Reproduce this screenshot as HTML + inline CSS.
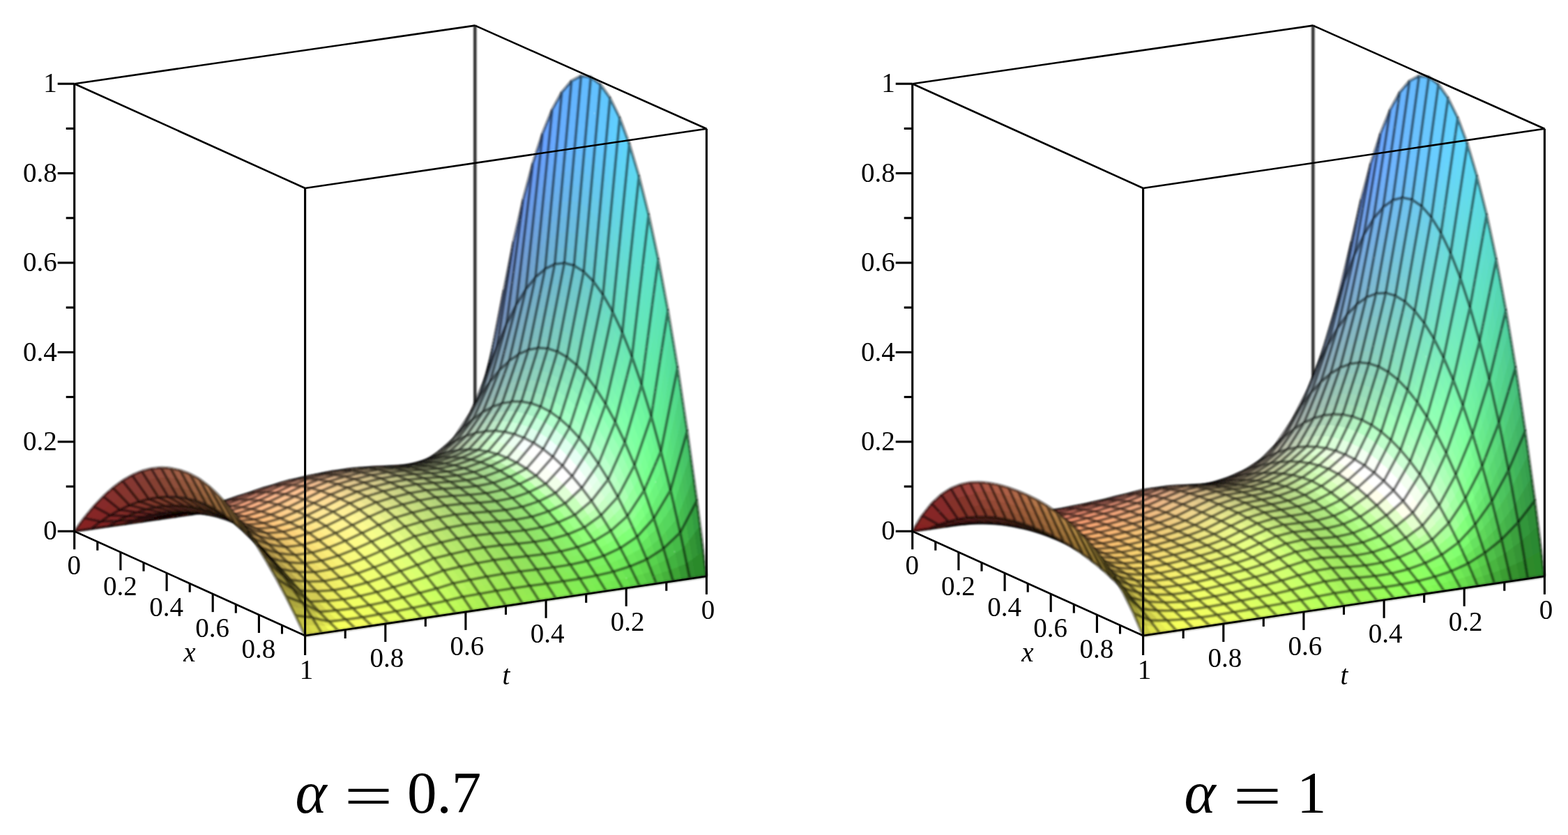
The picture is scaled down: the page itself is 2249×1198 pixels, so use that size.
<!DOCTYPE html>
<html lang="en"><head><meta charset="utf-8"><title>Surface plots</title>
<style>
html,body{margin:0;padding:0;background:#fff}
svg{display:block}
.s path{shape-rendering:crispEdges}
.s .m{fill:none;stroke:#000;stroke-opacity:0.48;stroke-width:4.2;stroke-linejoin:round;shape-rendering:auto}
.s .b{fill:none;stroke:#000;stroke-width:2.6;shape-rendering:auto}
.s .bk{fill:none;stroke:#333;stroke-width:4.5;shape-rendering:auto}
.s .t{fill:none;stroke:#000;stroke-width:3.1;shape-rendering:auto}
.l{font-family:"Liberation Serif",serif;font-size:39px;fill:#000}
.i{font-style:italic}
.c{font-family:"Liberation Serif",serif;font-size:85px;fill:#000}
.ci{font-style:italic;font-size:86px}
.ce{font-size:85px}
</style></head>
<body>
<svg width="2249" height="1198" viewBox="0 0 2249 1198">
<defs><filter id="bl" x="-2%" y="-2%" width="104%" height="104%"><feGaussianBlur stdDeviation="1.0"/></filter><filter id="bt" x="-2%" y="-2%" width="104%" height="104%"><feGaussianBlur stdDeviation="0.6"/></filter></defs>
<rect width="2249" height="1198" fill="#fff"/>
<g filter="url(#bl)">
<g class="s">
<path d="M106.7 762.2L681.3 678.6" class="b"/>
<path d="M681.3 678.6L1013.4 826.7" class="b"/>
<path d="M681.3 678.6L681.3 36.6" class="bk"/>
<path d="M681.3 678.6l4.6-32.1-8 5.9-4.6 27.4z" fill="#222224"/>
<path d="M673.3 679.8l4.6-27.4-7.9 5.9-4.7 22.6z" fill="#242224"/>
<path d="M665.3 680.9l4.7-22.6-8 5.9-4.6 17.9z" fill="#252223"/>
<path d="M685.9 646.5l4.6-32.1-8 10.6-4.6 27.4z" fill="#222429"/>
<path d="M677.9 652.4l4.6-27.4-7.9 10.6-4.6 22.7z" fill="#242428"/>
<path d="M670 658.3l4.6-22.7-8 10.6-4.6 18z" fill="#252427"/>
<path d="M690.5 614.4l4.6-32.2-7.9 15.4-4.7 27.4z" fill="#22252e"/>
<path d="M682.5 625l4.7-27.4-8 15.4-4.6 22.6z" fill="#24252c"/>
<path d="M674.6 635.6l4.6-22.6-8 15.3-4.6 17.9z" fill="#25252a"/>
<path d="M657.4 682.1l23.9-3.5 13.8-96.4" class="m"/>
<path d="M657.4 682.1l4.6-17.9-12 4.9-4.6 14.7z" fill="#272223"/>
<path d="M645.4 683.8l4.6-14.7-12 4.9-4.6 11.6z" fill="#292223"/>
<path d="M662 664.2l4.6-18-12 8.2-4.6 14.7z" fill="#272426"/>
<path d="M650 669.1l4.6-14.7-12 8.1-4.6 11.5z" fill="#292425"/>
<path d="M666.6 646.2l4.6-17.9-12 11.3-4.6 14.8z" fill="#272529"/>
<path d="M654.6 654.4l4.6-14.8-12 11.4-4.6 11.5z" fill="#292527"/>
<path d="M633.4 685.6l24-3.5 13.8-53.8" class="m"/>
<path d="M695.1 582.2l4.7-29.1-4 9.8-4.7 27z" fill="#222633"/>
<path d="M691.1 589.9l4.7-27-4 9.9-4.6 24.8z" fill="#222632"/>
<path d="M687.2 597.6l4.6-24.8-4 9.8-4.6 22.7z" fill="#232631"/>
<path d="M683.2 605.3l4.6-22.7-4 9.9-4.6 20.5z" fill="#242630"/>
<path d="M679.2 613l4.6-20.5-4 9.8-4.6 18.3z" fill="#25262e"/>
<path d="M675.2 620.6l4.6-18.3-4 9.8-4.6 16.2z" fill="#25262d"/>
<path d="M699.8 553.1l4.6-29.2-4 12-4.6 27z" fill="#222838"/>
<path d="M695.8 562.9l4.6-27-4 12-4.6 24.9z" fill="#222837"/>
<path d="M691.8 572.8l4.6-24.9-4 12-4.6 22.7z" fill="#232835"/>
<path d="M687.8 582.6l4.6-22.7-4 12-4.6 20.6z" fill="#242833"/>
<path d="M683.8 592.5l4.6-20.6-4 12.1-4.6 18.3z" fill="#252832"/>
<path d="M679.8 602.3l4.6-18.3-4 12-4.6 16.1z" fill="#252830"/>
<path d="M704.4 523.9l4.6-29.1-4 14.1-4.6 27z" fill="#22293d"/>
<path d="M700.4 535.9l4.6-27-4 14.2-4.6 24.8z" fill="#22293b"/>
<path d="M696.4 547.9l4.6-24.8-4 14.2-4.6 22.6z" fill="#232939"/>
<path d="M692.4 559.9l4.6-22.6-4 14.1-4.6 20.5z" fill="#242937"/>
<path d="M688.4 571.9l4.6-20.5-4 14.2-4.6 18.4z" fill="#252935"/>
<path d="M684.4 584l4.6-18.4-4 14.2-4.6 16.2z" fill="#252933"/>
<path d="M671.2 628.3l23.9-46.1 13.9-87.4" class="m"/>
<path d="M633.4 685.6l6.9-17.3-11.9 4.7-7 14.3z" fill="#2b2223"/>
<path d="M621.4 687.3l7-14.3-12 4.8-6.9 11.2z" fill="#2d2223"/>
<path d="M640.3 668.3l6.9-17.3-11.9 7.8-6.9 14.2z" fill="#2b2526"/>
<path d="M628.4 673l6.9-14.2-12 7.7-6.9 11.3z" fill="#2d2525"/>
<path d="M609.5 689l23.9-3.4 13.8-34.6" class="m"/>
<path d="M671.2 628.3l4.6-16.2-8 9.5-4.6 14.3z" fill="#26262c"/>
<path d="M663.2 635.9l4.6-14.3-8 9.5-4.6 12.3z" fill="#28262b"/>
<path d="M655.2 643.4l4.6-12.3-7.9 9.5-4.7 10.4z" fill="#292629"/>
<path d="M675.8 612.1l4.6-16.1-8 11.4-4.6 14.2z" fill="#26282f"/>
<path d="M667.8 621.6l4.6-14.2-7.9 11.4-4.7 12.3z" fill="#28282d"/>
<path d="M659.8 631.1l4.7-12.3-8 11.5-4.6 10.3z" fill="#29282c"/>
<path d="M680.4 596l4.6-16.2-8 13.4-4.6 14.2z" fill="#262931"/>
<path d="M672.4 607.4l4.6-14.2-7.9 13.3-4.6 12.3z" fill="#28292f"/>
<path d="M664.5 618.8l4.6-12.3-8 13.4-4.6 10.4z" fill="#29292e"/>
<path d="M647.2 651l24-22.7 13.8-48.5" class="m"/>
<path d="M609.5 689l6.9-11.2-12 3.4-6.9 9.6z" fill="#2f2222"/>
<path d="M597.5 690.8l6.9-9.6-12 3.4-6.9 7.9z" fill="#312222"/>
<path d="M616.4 677.8l6.9-11.3-12 5.1-6.9 9.6z" fill="#2f2525"/>
<path d="M604.4 681.2l6.9-9.6-11.9 5-7 8z" fill="#312524"/>
<path d="M585.5 692.5l24-3.5 13.8-22.5" class="m"/>
<path d="M709 494.8l4.6-26.2-3 12.1-4.6 24.7z" fill="#222b42"/>
<path d="M706 505.4l4.6-24.7-3 12.1-4.6 23.2z" fill="#222b40"/>
<path d="M703 516l4.6-23.2-3 12.1-4.6 21.7z" fill="#232b3e"/>
<path d="M700 526.6l4.6-21.7-3 12.1-4.6 20.3z" fill="#232b3d"/>
<path d="M697 537.3l4.6-20.3-3 12.1-4.6 18.8z" fill="#242b3b"/>
<path d="M694 547.9l4.6-18.8-3 12-4.6 17.4z" fill="#242b39"/>
<path d="M691 558.5l4.6-17.4-3 12.1-4.6 15.9z" fill="#252b37"/>
<path d="M688 569.1l4.6-15.9-3 12.1-4.6 14.5z" fill="#252b36"/>
<path d="M713.6 468.6l4.6-26.2-3 13.6-4.6 24.7z" fill="#222c46"/>
<path d="M710.6 480.7l4.6-24.7-3 13.5-4.6 23.3z" fill="#222c44"/>
<path d="M707.6 492.8l4.6-23.3-3 13.6-4.6 21.8z" fill="#232c42"/>
<path d="M704.6 504.9l4.6-21.8-3 13.5-4.6 20.4z" fill="#232c40"/>
<path d="M701.6 517l4.6-20.4-3 13.6-4.6 18.9z" fill="#242c3e"/>
<path d="M698.6 529.1l4.6-18.9-3 13.6-4.6 17.3z" fill="#242c3c"/>
<path d="M695.6 541.1l4.6-17.3-3 13.5-4.6 15.9z" fill="#252c3a"/>
<path d="M692.6 553.2l4.6-15.9-2.9 13.6-4.7 14.4z" fill="#252c38"/>
<path d="M718.2 442.4l4.6-26.2-3 15.1-4.6 24.7z" fill="#222d4b"/>
<path d="M715.2 456l4.6-24.7-3 15-4.6 23.2z" fill="#222d48"/>
<path d="M712.2 469.5l4.6-23.2-3 15-4.6 21.8z" fill="#232d46"/>
<path d="M709.2 483.1l4.6-21.8-3 15-4.6 20.3z" fill="#232d44"/>
<path d="M706.2 496.6l4.6-20.3-3 15.1-4.6 18.8z" fill="#242d42"/>
<path d="M703.2 510.2l4.6-18.8-2.9 15-4.7 17.4z" fill="#242d40"/>
<path d="M700.2 523.8l4.7-17.4-3 15-4.7 15.9z" fill="#252d3d"/>
<path d="M697.2 537.3l4.7-15.9-3 15-4.6 14.5z" fill="#252d3b"/>
<path d="M685 579.8l24-85 13.8-78.6" class="m"/>
<path d="M647.2 651l7-15.6-12 10.6-6.9 12.8z" fill="#2b2729"/>
<path d="M635.3 658.8l6.9-12.8-12 10.5-6.9 10z" fill="#2d2728"/>
<path d="M654.2 635.4l6.9-15.5-12 13.3-6.9 12.8z" fill="#2b292b"/>
<path d="M642.2 646l6.9-12.8-12 13.3-6.9 10z" fill="#2d292a"/>
<path d="M623.3 666.5l23.9-15.5 13.9-31.1" class="m"/>
<path d="M585.5 692.5l13.9-15.9-12 3.7-13.8 14z" fill="#332423"/>
<path d="M573.6 694.3l13.8-14-12 3.8-13.8 11.9z" fill="#362423"/>
<path d="M561.6 696l23.9-3.5 13.9-15.9" class="m"/>
<path d="M685 579.8l4.6-14.5-5.9 11.4-4.7 13.1z" fill="#262b34"/>
<path d="M679 589.8l4.7-13.1-6 11.3-4.6 11.8z" fill="#272b33"/>
<path d="M673.1 599.8l4.6-11.8-6 11.4-4.6 10.5z" fill="#282b31"/>
<path d="M667.1 609.9l4.6-10.5-6 11.4-4.6 9.1z" fill="#292b2f"/>
<path d="M689.6 565.3l4.7-14.4-6 12.7-4.6 13.1z" fill="#262c37"/>
<path d="M683.7 576.7l4.6-13.1-6 12.6-4.6 11.8z" fill="#272c35"/>
<path d="M677.7 588l4.6-11.8-6 12.7-4.6 10.5z" fill="#282c33"/>
<path d="M671.7 599.4l4.6-10.5-6 12.7-4.6 9.2z" fill="#292c31"/>
<path d="M694.3 550.9l4.6-14.5-6 14-4.6 13.2z" fill="#262d39"/>
<path d="M688.3 563.6l4.6-13.2-6 14-4.6 11.8z" fill="#272d37"/>
<path d="M682.3 576.2l4.6-11.8-6 14-4.6 10.5z" fill="#282d35"/>
<path d="M676.3 588.9l4.6-10.5-6 14-4.6 9.2z" fill="#292d33"/>
<path d="M661.1 619.9l23.9-40.1 13.9-43.4" class="m"/>
<path d="M623.3 666.5l6.9-10-12 6.5-6.9 8.6z" fill="#2f2727"/>
<path d="M611.3 671.6l6.9-8.6-11.9 6.6-6.9 7z" fill="#312726"/>
<path d="M630.2 656.5l6.9-10-11.9 8-7 8.5z" fill="#2f2929"/>
<path d="M618.2 663l7-8.5-12 8-6.9 7.1z" fill="#312928"/>
<path d="M599.4 676.6l23.9-10.1 13.8-20" class="m"/>
<path d="M561.6 696l13.8-11.9-12 2.5-13.8 11.2z" fill="#382423"/>
<path d="M549.6 697.8l13.8-11.2-11.9 2.5-13.9 10.4z" fill="#3a2423"/>
<path d="M537.6 699.5l24-3.5 13.8-11.9" class="m"/>
<path d="M722.8 416.2l4.6-23.2-2.4 13.1-4.6 22.2z" fill="#6d87c6"/>
<path d="M720.4 428.3l4.6-22.2-2.4 13.1-4.6 21.1z" fill="#6e88c3"/>
<path d="M718 440.3l4.6-21.1-2.4 13-4.6 20.1z" fill="#6f88c0"/>
<path d="M715.6 452.3l4.6-20.1-2.4 13.1-4.6 19z" fill="#7189bd"/>
<path d="M713.2 464.3l4.6-19-2.3 13.1-4.7 17.9z" fill="#7289ba"/>
<path d="M710.8 476.3l4.7-17.9-2.4 13-4.7 17z" fill="#7389b7"/>
<path d="M708.4 488.4l4.7-17-2.4 13.1-4.7 15.9z" fill="#748ab3"/>
<path d="M706 500.4l4.7-15.9-2.4 13.1-4.6 14.8z" fill="#768ab0"/>
<path d="M703.7 512.4l4.6-14.8-2.4 13.1-4.6 13.7z" fill="#778bad"/>
<path d="M701.3 524.4l4.6-13.7-2.4 13-4.6 12.7z" fill="#788ba9"/>
<path d="M727.4 393l4.6-23.2-2.4 14.1-4.6 22.2z" fill="#6d89ce"/>
<path d="M725 406.1l4.6-22.2-2.4 14.2-4.6 21.1z" fill="#6e8aca"/>
<path d="M722.6 419.2l4.6-21.1-2.3 14.1-4.7 20z" fill="#6f8ac7"/>
<path d="M720.2 432.2l4.7-20-2.4 14.1-4.7 19z" fill="#708bc3"/>
<path d="M717.8 445.3l4.7-19-2.4 14.1-4.6 18z" fill="#718bc0"/>
<path d="M715.5 458.4l4.6-18-2.4 14.1-4.6 16.9z" fill="#738cbc"/>
<path d="M713.1 471.4l4.6-16.9-2.4 14.2-4.6 15.8z" fill="#748cb8"/>
<path d="M710.7 484.5l4.6-15.8-2.4 14.1-4.6 14.8z" fill="#758db5"/>
<path d="M708.3 497.6l4.6-14.8-2.4 14.1-4.6 13.8z" fill="#768db1"/>
<path d="M705.9 510.7l4.6-13.8-2.4 14.1-4.6 12.7z" fill="#778dad"/>
<path d="M732 369.8l4.6-23.2-2.3 15.2-4.7 22.1z" fill="#6c8cd5"/>
<path d="M729.6 383.9l4.7-22.1-2.4 15.2-4.7 21.1z" fill="#6d8cd1"/>
<path d="M727.2 398.1l4.7-21.1-2.4 15.1-4.6 20.1z" fill="#6e8ccd"/>
<path d="M724.9 412.2l4.6-20.1-2.4 15.2-4.6 19z" fill="#708dc9"/>
<path d="M722.5 426.3l4.6-19-2.4 15.2-4.6 17.9z" fill="#718dc5"/>
<path d="M720.1 440.4l4.6-17.9-2.4 15.1-4.6 16.9z" fill="#728ec1"/>
<path d="M717.7 454.5l4.6-16.9-2.4 15.2-4.6 15.9z" fill="#738ebd"/>
<path d="M715.3 468.7l4.6-15.9-2.4 15.2-4.6 14.8z" fill="#748eb9"/>
<path d="M712.9 482.8l4.6-14.8-2.4 15.1-4.6 13.8z" fill="#768fb5"/>
<path d="M710.5 496.9l4.6-13.8-2.4 15.2-4.6 12.7z" fill="#778fb1"/>
<path d="M698.9 536.4l23.9-120.2 13.8-69.6" class="m"/>
<path d="M661.1 619.9l6.9-13.7-8 10.5-6.9 12.1z" fill="#2b2b2e"/>
<path d="M653.1 628.8l6.9-12.1-8 10.5-6.9 10.4z" fill="#2c2b2d"/>
<path d="M645.1 637.6l6.9-10.4-7.9 10.5-7 8.8z" fill="#2d2b2c"/>
<path d="M668 606.2l6.9-13.8-8 12.2-6.9 12.1z" fill="#2b2d31"/>
<path d="M660 616.7l6.9-12.1-7.9 12.2-7 10.4z" fill="#2c2d2f"/>
<path d="M652 627.2l7-10.4-8 12.2-6.9 8.7z" fill="#2d2d2e"/>
<path d="M637.1 646.5l24-26.6 13.8-27.5" class="m"/>
<path d="M599.4 676.6l13.8-14.1-12 5.7-13.8 12.1z" fill="#332826"/>
<path d="M587.4 680.3l13.8-12.1-12 5.6-13.8 10.3z" fill="#362826"/>
<path d="M575.4 684.1l24-7.5 13.8-14.1" class="m"/>
<path d="M537.6 699.5l13.9-10.4-12 2.1-13.8 10z" fill="#3c2423"/>
<path d="M525.7 701.2l13.8-10-12 2-13.8 9.8z" fill="#3e2423"/>
<path d="M513.7 703l23.9-3.5 13.9-10.4" class="m"/>
<path d="M698.9 536.4l4.6-12.7-4.8 12.2-4.6 11.7z" fill="#7b8ca7"/>
<path d="M694.1 547.6l4.6-11.7-4.8 12.1-4.6 10.8z" fill="#7e8ea5"/>
<path d="M689.3 558.8l4.6-10.8-4.8 12.2-4.6 9.8z" fill="#8190a4"/>
<path d="M684.5 570l4.6-9.8-4.8 12.1-4.6 8.9z" fill="#8592a2"/>
<path d="M679.7 581.2l4.6-8.9-4.8 12.1-4.6 8z" fill="#8893a0"/>
<path d="M703.5 523.7l4.6-12.7-4.8 13.1-4.6 11.8z" fill="#7a8fab"/>
<path d="M698.7 535.9l4.6-11.8-4.8 13.1-4.6 10.8z" fill="#7d91a9"/>
<path d="M693.9 548l4.6-10.8-4.8 13.1-4.6 9.9z" fill="#8193a7"/>
<path d="M689.1 560.2l4.6-9.9-4.8 13.1-4.6 8.9z" fill="#8494a5"/>
<path d="M684.3 572.3l4.6-8.9-4.8 13-4.6 8z" fill="#8796a3"/>
<path d="M708.1 511l4.6-12.7-4.8 14-4.6 11.8z" fill="#7991ae"/>
<path d="M703.3 524.1l4.6-11.8-4.8 14.1-4.6 10.8z" fill="#7d93ac"/>
<path d="M698.5 537.2l4.6-10.8-4.8 14-4.6 9.9z" fill="#8095ab"/>
<path d="M693.7 550.3l4.6-9.9-4.8 14-4.6 9z" fill="#8497a8"/>
<path d="M688.9 563.4l4.6-9-4.8 14.1-4.6 7.9z" fill="#8798a6"/>
<path d="M674.9 592.4l24-56 13.8-38.1" class="m"/>
<path d="M637.1 646.5l13.9-17.5-12 10.7-13.8 14.8z" fill="#2f2c2b"/>
<path d="M625.2 654.5l13.8-14.8-12 10.7-13.8 12.1z" fill="#312c2a"/>
<path d="M613.2 662.5l23.9-16 13.9-17.5" class="m"/>
<path d="M575.4 684.1l13.8-10.3-11.9 3.2-13.9 9.6z" fill="#382825"/>
<path d="M563.4 686.6l13.9-9.6-12 3.2-13.8 8.9z" fill="#3a2825"/>
<path d="M551.5 689.1l23.9-5 13.8-10.3" class="m"/>
<path d="M736.6 346.6l4.7-20.2-2.2 14.6-4.6 19.4z" fill="#6c8edb"/>
<path d="M734.5 360.4l4.6-19.4-2.2 14.6-4.6 18.6z" fill="#6d8ed7"/>
<path d="M732.3 374.2l4.6-18.6-2.2 14.7-4.6 17.7z" fill="#6e8ed3"/>
<path d="M730.1 388l4.6-17.7-2.1 14.6-4.7 16.9z" fill="#6f8fd0"/>
<path d="M727.9 401.8l4.7-16.9-2.2 14.6-4.6 16.1z" fill="#708fcc"/>
<path d="M725.8 415.6l4.6-16.1-2.2 14.7-4.6 15.2z" fill="#718fc8"/>
<path d="M723.6 429.4l4.6-15.2-2.2 14.6-4.6 14.3z" fill="#7290c4"/>
<path d="M721.4 443.1l4.6-14.3-2.2 14.6-4.6 13.5z" fill="#7390c0"/>
<path d="M719.2 456.9l4.6-13.5-2.1 14.7-4.6 12.6z" fill="#7490bc"/>
<path d="M717.1 470.7l4.6-12.6-2.2 14.6-4.6 11.8z" fill="#7591b8"/>
<path d="M714.9 484.5l4.6-11.8-2.2 14.6-4.6 11z" fill="#7691b4"/>
<path d="M741.3 326.4l4.6-20.3-2.2 15.5-4.6 19.4z" fill="#6b90e1"/>
<path d="M739.1 341l4.6-19.4-2.2 15.5-4.6 18.5z" fill="#6c90dd"/>
<path d="M736.9 355.6l4.6-18.5-2.2 15.5-4.6 17.7z" fill="#6d91d9"/>
<path d="M734.7 370.3l4.6-17.7-2.1 15.4-4.6 16.9z" fill="#6e91d5"/>
<path d="M732.6 384.9l4.6-16.9-2.2 15.5-4.6 16z" fill="#6f91d0"/>
<path d="M730.4 399.5l4.6-16-2.2 15.5-4.6 15.2z" fill="#7091cc"/>
<path d="M728.2 414.2l4.6-15.2-2.2 15.5-4.6 14.3z" fill="#7192c8"/>
<path d="M726 428.8l4.6-14.3-2.1 15.4-4.7 13.5z" fill="#7292c4"/>
<path d="M723.8 443.4l4.7-13.5-2.2 15.5-4.6 12.7z" fill="#7392c0"/>
<path d="M721.7 458.1l4.6-12.7-2.2 15.5-4.6 11.8z" fill="#7493bb"/>
<path d="M719.5 472.7l4.6-11.8-2.2 15.5-4.6 10.9z" fill="#7593b7"/>
<path d="M745.9 306.1l4.6-20.2-2.2 16.3-4.6 19.4z" fill="#6b92e7"/>
<path d="M743.7 321.6l4.6-19.4-2.2 16.3-4.6 18.6z" fill="#6c92e2"/>
<path d="M741.5 337.1l4.6-18.6-2.1 16.4-4.7 17.7z" fill="#6d93de"/>
<path d="M739.3 352.6l4.7-17.7-2.2 16.3-4.6 16.8z" fill="#6d93d9"/>
<path d="M737.2 368l4.6-16.8-2.2 16.3-4.6 16z" fill="#6e93d5"/>
<path d="M735 383.5l4.6-16-2.2 16.3-4.6 15.2z" fill="#6f93d1"/>
<path d="M732.8 399l4.6-15.2-2.2 16.3-4.6 14.4z" fill="#7094cc"/>
<path d="M730.6 414.5l4.6-14.4-2.1 16.3-4.6 13.5z" fill="#7194c8"/>
<path d="M728.5 429.9l4.6-13.5-2.2 16.4-4.6 12.6z" fill="#7294c3"/>
<path d="M726.3 445.4l4.6-12.6-2.2 16.3-4.6 11.8z" fill="#7395bf"/>
<path d="M724.1 460.9l4.6-11.8-2.2 16.3-4.6 11z" fill="#7495ba"/>
<path d="M712.7 498.3l23.9-151.7 13.9-60.7" class="m"/>
<path d="M513.7 703l13.8-9.8-11.9 1.7-13.9 9.8z" fill="#402423"/>
<path d="M501.7 704.7l13.9-9.8-12 1.6-13.8 10z" fill="#422423"/>
<path d="M489.8 706.5l23.9-3.5 13.8-9.8" class="m"/>
<path d="M674.9 592.4l6.9-12-7.9 13.7-7 10.5z" fill="#8c969e"/>
<path d="M666.9 604.6l7-10.5-8 13.7-6.9 9z" fill="#91979c"/>
<path d="M659 616.8l6.9-9-8 13.7-6.9 7.5z" fill="#95999a"/>
<path d="M681.8 580.4l6.9-11.9-7.9 15.1-6.9 10.5z" fill="#8b9aa3"/>
<path d="M673.9 594.1l6.9-10.5-8 15.2-6.9 9z" fill="#919ca1"/>
<path d="M665.9 607.8l6.9-9-8 15.1-6.9 7.6z" fill="#969e9f"/>
<path d="M651 629l23.9-36.6 13.8-23.9" class="m"/>
<path d="M613.2 662.5l13.8-12.1-12 7.3-13.8 10.5z" fill="#332c29"/>
<path d="M601.2 668.2l13.8-10.5-11.9 7.3-13.9 8.8z" fill="#362c28"/>
<path d="M589.2 673.8l24-11.3 13.8-12.1" class="m"/>
<path d="M551.5 689.1l13.8-8.9-12 2.3-13.8 8.7z" fill="#3c2825"/>
<path d="M539.5 691.2l13.8-8.7-11.9 2.4-13.9 8.3z" fill="#3e2825"/>
<path d="M527.5 693.2l24-4.1 13.8-8.9" class="m"/>
<path d="M712.7 498.3l6.9-16.5-4.8 15.3-6.9 15.2z" fill="#7893b2"/>
<path d="M707.9 512.3l6.9-15.2-4.8 15.3-6.9 14z" fill="#7c95b0"/>
<path d="M703.1 526.4l6.9-14-4.8 15.3-6.9 12.7z" fill="#7f97ae"/>
<path d="M698.3 540.4l6.9-12.7-4.7 15.3-7 11.4z" fill="#8399ac"/>
<path d="M693.5 554.4l7-11.4-4.8 15.3-7 10.2z" fill="#869ba9"/>
<path d="M719.6 481.8l6.9-16.4-4.8 16.5-6.9 15.2z" fill="#7796b6"/>
<path d="M714.8 497.1l6.9-15.2-4.7 16.6-7 13.9z" fill="#7b98b4"/>
<path d="M710 512.4l7-13.9-4.8 16.5-7 12.7z" fill="#7e9bb2"/>
<path d="M705.2 527.7l7-12.7-4.8 16.5-6.9 11.5z" fill="#829db0"/>
<path d="M700.5 543l6.9-11.5-4.8 16.6-6.9 10.2z" fill="#869fad"/>
<path d="M688.7 568.5l24-70.2 13.8-32.9" class="m"/>
<path d="M489.8 706.5l13.8-10-12 1.4-13.8 10.3z" fill="#442423"/>
<path d="M477.8 708.2l13.8-10.3-12 1.4-13.8 10.7z" fill="#462423"/>
<path d="M465.8 710l24-3.5 13.8-10" class="m"/>
<path d="M651 629l13.8-15.1-12 13.2-13.8 12.6z" fill="#9b9d9a"/>
<path d="M639 639.7l13.8-12.6-12 13.2-13.8 10.1z" fill="#9f9d96"/>
<path d="M627 650.4l24-21.4 13.8-15.1" class="m"/>
<path d="M589.2 673.8l13.9-8.8-12 3.8-13.8 8.2z" fill="#382c28"/>
<path d="M577.3 677l13.8-8.2-12 3.8-13.8 7.6z" fill="#3a2c28"/>
<path d="M565.3 680.2l23.9-6.4 13.9-8.8" class="m"/>
<path d="M750.5 285.9l4.6-17.2-2 15.6-4.6 16.6z" fill="#6a94ec"/>
<path d="M748.5 300.9l4.6-16.6-2 15.6-4.6 15.9z" fill="#6b94e8"/>
<path d="M746.5 315.8l4.6-15.9-2 15.6-4.6 15.3z" fill="#6c94e3"/>
<path d="M744.5 330.8l4.6-15.3-2 15.7-4.6 14.5z" fill="#6d95df"/>
<path d="M742.5 345.7l4.6-14.5-2 15.6-4.6 13.9z" fill="#6d95db"/>
<path d="M740.5 360.7l4.6-13.9-2 15.6-4.6 13.3z" fill="#6e95d7"/>
<path d="M738.5 375.7l4.6-13.3-2 15.6-4.6 12.6z" fill="#6f95d2"/>
<path d="M736.5 390.6l4.6-12.6-2 15.7-4.6 11.9z" fill="#7096ce"/>
<path d="M734.5 405.6l4.6-11.9-2 15.6-4.6 11.2z" fill="#7196ca"/>
<path d="M732.5 420.5l4.6-11.2-2 15.6-4.6 10.6z" fill="#7296c5"/>
<path d="M730.5 435.5l4.6-10.6-2 15.6-4.6 9.9z" fill="#7396c1"/>
<path d="M728.5 450.4l4.6-9.9-2 15.7-4.6 9.2z" fill="#7497bd"/>
<path d="M755.1 268.7l4.6-17.3-2 16.3-4.6 16.6z" fill="#6996f1"/>
<path d="M753.1 284.3l4.6-16.6-2 16.3-4.6 15.9z" fill="#6a96ec"/>
<path d="M751.1 299.9l4.6-15.9-2 16.3-4.6 15.2z" fill="#6b96e8"/>
<path d="M749.1 315.5l4.6-15.2-2 16.3-4.6 14.6z" fill="#6c97e3"/>
<path d="M747.1 331.2l4.6-14.6-2 16.3-4.6 13.9z" fill="#6d97df"/>
<path d="M745.1 346.8l4.6-13.9-2 16.3-4.6 13.2z" fill="#6e97da"/>
<path d="M743.1 362.4l4.6-13.2-2 16.3-4.6 12.5z" fill="#6f97d6"/>
<path d="M741.1 378l4.6-12.5-2 16.2-4.6 12z" fill="#7098d1"/>
<path d="M739.1 393.7l4.6-12-2 16.3-4.6 11.3z" fill="#7098cd"/>
<path d="M737.1 409.3l4.6-11.3-1.9 16.3-4.7 10.6z" fill="#7198c8"/>
<path d="M735.1 424.9l4.7-10.6-2 16.3-4.7 9.9z" fill="#7298c4"/>
<path d="M733.1 440.5l4.7-9.9-2 16.3-4.7 9.3z" fill="#7399bf"/>
<path d="M759.7 251.4l4.6-17.3-2 17-4.6 16.6z" fill="#6998f5"/>
<path d="M757.7 267.7l4.6-16.6-2 17-4.6 15.9z" fill="#6a98f1"/>
<path d="M755.7 284l4.6-15.9-2 16.9-4.6 15.3z" fill="#6b98ec"/>
<path d="M753.7 300.3l4.6-15.3-2 17-4.6 14.6z" fill="#6b99e7"/>
<path d="M751.7 316.6l4.6-14.6-2 16.9-4.6 14z" fill="#6c99e3"/>
<path d="M749.7 332.9l4.6-14-2 17-4.6 13.3z" fill="#6d99de"/>
<path d="M747.7 349.2l4.6-13.3-1.9 17-4.7 12.6z" fill="#6e99d9"/>
<path d="M745.7 365.5l4.7-12.6-2 16.9-4.7 11.9z" fill="#6f9ad5"/>
<path d="M743.7 381.7l4.7-11.9-2 17-4.7 11.2z" fill="#709ad0"/>
<path d="M741.7 398l4.7-11.2-2 17-4.6 10.5z" fill="#719acb"/>
<path d="M739.8 414.3l4.6-10.5-2 16.9-4.6 9.9z" fill="#729ac7"/>
<path d="M737.8 430.6l4.6-9.9-2 17-4.6 9.2z" fill="#729bc2"/>
<path d="M726.5 465.4l24-179.5 13.8-51.8" class="m"/>
<path d="M527.5 693.2l13.9-8.3-12 1.6-13.8 8.4z" fill="#402825"/>
<path d="M515.6 694.9l13.8-8.4-12 1.5-13.8 8.5z" fill="#422825"/>
<path d="M503.6 696.5l23.9-3.3 13.9-8.3" class="m"/>
<path d="M688.7 568.5l7-10.2-6 12.3-6.9 9.2z" fill="#8a9da7"/>
<path d="M682.8 579.8l6.9-9.2-6 12.4-6.9 8.2z" fill="#8fa0a6"/>
<path d="M676.8 591.2l6.9-8.2-6 12.3-6.9 7.3z" fill="#93a2a4"/>
<path d="M670.8 602.6l6.9-7.3-6 12.4-6.9 6.2z" fill="#97a4a2"/>
<path d="M695.7 558.3l6.9-10.2-6 13.3-6.9 9.2z" fill="#8aa1ab"/>
<path d="M689.7 570.6l6.9-9.2-6 13.3-6.9 8.3z" fill="#8ea4aa"/>
<path d="M683.7 583l6.9-8.3-6 13.4-6.9 7.2z" fill="#93a6a8"/>
<path d="M677.7 595.3l6.9-7.2-6 13.3-6.9 6.3z" fill="#97a9a6"/>
<path d="M664.8 613.9l23.9-45.4 13.9-20.4" class="m"/>
<path d="M465.8 710l13.8-10.7-11.9 1.4-13.8 11z" fill="#492423"/>
<path d="M453.9 711.7l13.8-11-12 1.3-13.8 11.4z" fill="#4b2423"/>
<path d="M441.9 713.4l23.9-3.4 13.8-10.7" class="m"/>
<path d="M627 650.4l13.8-10.1-11.9 8.7-13.9 8.7z" fill="#a29b91"/>
<path d="M615 657.7l13.9-8.7-12 8.8-13.8 7.2z" fill="#a4988d"/>
<path d="M603.1 665l23.9-14.6 13.8-10.1" class="m"/>
<path d="M565.3 680.2l13.8-7.6-11.9 2.6-13.9 7.3z" fill="#3c2c27"/>
<path d="M553.3 682.5l13.9-7.3-12 2.7-13.8 7z" fill="#3e2c27"/>
<path d="M541.4 684.9l23.9-4.7 13.8-7.6" class="m"/>
<path d="M726.5 465.4l7-13.9-4 14.7-7 13z" fill="#7698ba"/>
<path d="M722.5 479.2l7-13-4 14.7-6.9 12z" fill="#799bb9"/>
<path d="M718.6 492.9l6.9-12-4 14.7-6.9 11.1z" fill="#7c9db7"/>
<path d="M714.6 506.7l6.9-11.1-4 14.7-6.9 10.2z" fill="#7f9fb4"/>
<path d="M710.6 520.5l6.9-10.2-4 14.6-6.9 9.4z" fill="#82a1b2"/>
<path d="M706.6 534.3l6.9-9.4-4 14.7-6.9 8.5z" fill="#85a2b0"/>
<path d="M733.5 451.5l6.9-13.8-4 15.6-6.9 12.9z" fill="#759bbe"/>
<path d="M729.5 466.2l6.9-12.9-4 15.6-6.9 12z" fill="#789ebc"/>
<path d="M725.5 480.9l6.9-12-4 15.5-6.9 11.2z" fill="#7ba0ba"/>
<path d="M721.5 495.6l6.9-11.2-4 15.6-6.9 10.3z" fill="#7ea2b8"/>
<path d="M717.5 510.3l6.9-10.3-4 15.6-6.9 9.3z" fill="#81a4b5"/>
<path d="M713.5 524.9l6.9-9.3-4 15.6-6.9 8.4z" fill="#84a6b3"/>
<path d="M702.6 548.1l23.9-82.7 13.9-27.7" class="m"/>
<path d="M503.6 696.5l13.8-8.5-12 1.2-13.8 8.7z" fill="#442825"/>
<path d="M491.6 697.9l13.8-8.7-11.9 1.1-13.9 9z" fill="#462825"/>
<path d="M479.6 699.3l24-2.8 13.8-8.5" class="m"/>
<path d="M664.8 613.9l13.8-12.5-11.9 15.3-13.9 10.4z" fill="#9da9a3"/>
<path d="M652.8 627.1l13.9-10.4-12 15.3-13.9 8.3z" fill="#a3aa9f"/>
<path d="M640.8 640.3l24-26.4 13.8-12.5" class="m"/>
<path d="M441.9 713.4l13.8-11.4-12 1.5-13.8 11.7z" fill="#4d2423"/>
<path d="M429.9 715.2l13.8-11.7-11.9 1.4-13.9 12z" fill="#4f2423"/>
<path d="M417.9 716.9l24-3.5 13.8-11.4" class="m"/>
<path d="M603.1 665l13.8-7.2-12 4.3-13.8 6.7z" fill="#38302a"/>
<path d="M591.1 668.8l13.8-6.7-11.9 4.3-13.9 6.2z" fill="#3a302a"/>
<path d="M579.1 672.6l24-7.6 13.8-7.2" class="m"/>
<path d="M764.3 234.1l4.6-14.3-2 17.6-4.6 13.7z" fill="#689af9"/>
<path d="M762.3 251.1l4.6-13.7-2 17.5-4.6 13.2z" fill="#699af5"/>
<path d="M760.3 268.1l4.6-13.2-2 17.5-4.6 12.6z" fill="#6a9af0"/>
<path d="M758.3 285l4.6-12.6-1.9 17.6-4.7 12z" fill="#6b9beb"/>
<path d="M756.3 302l4.7-12-2 17.5-4.7 11.4z" fill="#6c9be6"/>
<path d="M754.3 318.9l4.7-11.4-2 17.5-4.7 10.9z" fill="#6d9be1"/>
<path d="M752.3 335.9l4.7-10.9-2 17.5-4.6 10.4z" fill="#6e9bdd"/>
<path d="M750.4 352.9l4.6-10.4-2 17.6-4.6 9.7z" fill="#6e9cd8"/>
<path d="M748.4 369.8l4.6-9.7-2 17.5-4.6 9.2z" fill="#6f9cd3"/>
<path d="M746.4 386.8l4.6-9.2-2 17.5-4.6 8.7z" fill="#709cce"/>
<path d="M744.4 403.8l4.6-8.7-2 17.6-4.6 8z" fill="#719cc9"/>
<path d="M742.4 420.7l4.6-8-2 17.5-4.6 7.5z" fill="#729dc4"/>
<path d="M768.9 219.8l4.6-14.3-1.9 18.1-4.7 13.8z" fill="#689cfd"/>
<path d="M766.9 237.4l4.7-13.8-2 18.1-4.7 13.2z" fill="#699cf8"/>
<path d="M764.9 254.9l4.7-13.2-2 18.1-4.7 12.6z" fill="#6a9cf3"/>
<path d="M762.9 272.4l4.7-12.6-2 18.1-4.6 12.1z" fill="#6a9dee"/>
<path d="M761 290l4.6-12.1-2 18.1-4.6 11.5z" fill="#6b9de9"/>
<path d="M759 307.5l4.6-11.5-2 18.1-4.6 10.9z" fill="#6c9de4"/>
<path d="M757 325l4.6-10.9-2 18.1-4.6 10.3z" fill="#6d9de0"/>
<path d="M755 342.5l4.6-10.3-2 18.1-4.6 9.8z" fill="#6e9edb"/>
<path d="M753 360.1l4.6-9.8-2 18.1-4.6 9.2z" fill="#6f9ed5"/>
<path d="M751 377.6l4.6-9.2-2 18.1-4.6 8.6z" fill="#709ed0"/>
<path d="M749 395.1l4.6-8.6-2 18.1-4.6 8.1z" fill="#719ecb"/>
<path d="M747 412.7l4.6-8.1-2 18.1-4.6 7.5z" fill="#719fc6"/>
<path d="M773.5 205.5l4.7-14.2-2 18.6-4.6 13.7z" fill="#679eff"/>
<path d="M771.6 223.6l4.6-13.7-2 18.7-4.6 13.1z" fill="#689efc"/>
<path d="M769.6 241.7l4.6-13.1-2 18.6-4.6 12.6z" fill="#699ef7"/>
<path d="M767.6 259.8l4.6-12.6-2 18.7-4.6 12z" fill="#6a9ff2"/>
<path d="M765.6 277.9l4.6-12-2 18.7-4.6 11.4z" fill="#6b9fed"/>
<path d="M763.6 296l4.6-11.4-2 18.6-4.6 10.9z" fill="#6c9fe7"/>
<path d="M761.6 314.1l4.6-10.9-2 18.7-4.6 10.3z" fill="#6d9fe2"/>
<path d="M759.6 332.2l4.6-10.3-2 18.7-4.6 9.7z" fill="#6da0dd"/>
<path d="M757.6 350.3l4.6-9.7-2 18.6-4.6 9.2z" fill="#6ea0d8"/>
<path d="M755.6 368.4l4.6-9.2-2 18.7-4.6 8.6z" fill="#6fa0d3"/>
<path d="M753.6 386.5l4.6-8.6-2 18.6-4.6 8.1z" fill="#70a0ce"/>
<path d="M751.6 404.6l4.6-8.1-2 18.7-4.6 7.5z" fill="#71a1c8"/>
<path d="M740.4 437.7l23.9-203.6 13.9-42.8" class="m"/>
<path d="M541.4 684.9l13.8-7-12 1.6-13.8 7z" fill="#402c27"/>
<path d="M529.4 686.5l13.8-7-12 1.5-13.8 7z" fill="#422c27"/>
<path d="M517.4 688l24-3.1 13.8-7" class="m"/>
<path d="M702.6 548.1l13.8-16.9-6 15-13.8 15.2z" fill="#89a7af"/>
<path d="M696.6 561.4l13.8-15.2-6 15.1-13.8 13.4z" fill="#8eaaae"/>
<path d="M690.6 574.7l13.8-13.4-5.9 15-13.9 11.8z" fill="#93adad"/>
<path d="M684.6 588.1l13.9-11.8-6 15.1-13.9 10z" fill="#98b0ab"/>
<path d="M678.6 601.4l24-53.3 13.8-16.9" class="m"/>
<path d="M479.6 699.3l13.9-9-12 1-13.8 9.4z" fill="#492825"/>
<path d="M467.7 700.7l13.8-9.4-12 1.1-13.8 9.6z" fill="#4b2825"/>
<path d="M455.7 702l23.9-2.7 13.9-9" class="m"/>
<path d="M640.8 640.3l13.9-8.3-12 10.1-13.8 6.9z" fill="#a6a89a"/>
<path d="M628.9 649l13.8-6.9-12 10.1-13.8 5.6z" fill="#a7a594"/>
<path d="M616.9 657.8l23.9-17.5 13.9-8.3" class="m"/>
<path d="M417.9 716.9l13.9-12-12 1.7-13.8 12.1z" fill="#512423"/>
<path d="M406 718.7l13.8-12.1-12 1.7-13.8 12.1z" fill="#532423"/>
<path d="M394 720.4l23.9-3.5 13.9-12" class="m"/>
<path d="M579.1 672.6l13.9-6.2-12 3-13.8 5.8z" fill="#3c302a"/>
<path d="M567.2 675.2l13.8-5.8-12 2.9-13.8 5.6z" fill="#3e3029"/>
<path d="M555.2 677.9l23.9-5.3 13.9-6.2" class="m"/>
<path d="M740.4 437.7l6.9-11.3-3.4 14.1-7 10.5z" fill="#749ec1"/>
<path d="M736.9 451l7-10.5-3.5 14-6.9 9.9z" fill="#76a0c0"/>
<path d="M733.5 464.4l6.9-9.9-3.4 14-6.9 9.3z" fill="#79a2be"/>
<path d="M730.1 477.8l6.9-9.3-3.4 14-6.9 8.6z" fill="#7ca4bc"/>
<path d="M726.7 491.1l6.9-8.6-3.4 14-6.9 8z" fill="#7ea6b9"/>
<path d="M723.3 504.5l6.9-8-3.4 14-7 7.3z" fill="#81a7b7"/>
<path d="M719.8 517.8l7-7.3-3.5 14-6.9 6.7z" fill="#84a9b5"/>
<path d="M747.3 426.4l6.9-11.2-3.4 14.7-6.9 10.6z" fill="#73a1c4"/>
<path d="M743.9 440.5l6.9-10.6-3.4 14.6-7 10z" fill="#75a3c2"/>
<path d="M740.4 454.5l7-10-3.5 14.7-6.9 9.3z" fill="#78a5c0"/>
<path d="M737 468.5l6.9-9.3-3.4 14.7-6.9 8.6z" fill="#7ba7be"/>
<path d="M733.6 482.5l6.9-8.6-3.4 14.6-6.9 8z" fill="#7da9bc"/>
<path d="M730.2 496.5l6.9-8-3.4 14.7-6.9 7.3z" fill="#80abb9"/>
<path d="M726.8 510.5l6.9-7.3-3.5 14.7-6.9 6.6z" fill="#83acb7"/>
<path d="M716.4 531.2l24-93.5 13.8-22.5" class="m"/>
<path d="M517.4 688l13.8-7-11.9 1-13.9 7.2z" fill="#442c27"/>
<path d="M505.4 689.2l13.9-7.2-12 .9-13.8 7.4z" fill="#462c28"/>
<path d="M493.5 690.3l23.9-2.3 13.8-7" class="m"/>
<path d="M678.6 601.4l13.9-10-8 11.4-13.9 8.8z" fill="#9eb4ab"/>
<path d="M670.6 611.6l13.9-8.8-8 11.4-13.8 7.6z" fill="#a4b7ab"/>
<path d="M662.7 621.8l13.8-7.6-8 11.5-13.8 6.3z" fill="#a8b8a8"/>
<path d="M654.7 632l23.9-30.6 13.9-10" class="m"/>
<path d="M455.7 702l13.8-9.6-12 1.2-13.8 9.9z" fill="#4d2825"/>
<path d="M443.7 703.5l13.8-9.9-11.9 1.2-13.8 10.1z" fill="#4f2826"/>
<path d="M431.8 704.9l23.9-2.9 13.8-9.6" class="m"/>
<path d="M616.9 657.8l13.8-5.6-11.9 4.7-13.9 5.2z" fill="#a7a08f"/>
<path d="M604.9 662.1l13.9-5.2-12 4.8-13.8 4.7z" fill="#a79c89"/>
<path d="M593 666.4l23.9-8.6 13.8-5.6" class="m"/>
<path d="M394 720.4l13.8-12.1-12 1.9-13.8 11.9z" fill="#552423"/>
<path d="M382 722.1l13.8-11.9-11.9 1.9-13.8 11.8z" fill="#572423"/>
<path d="M370.1 723.9l23.9-3.5 13.8-12.1" class="m"/>
<path d="M778.2 191.3l6.9-17-2 19.3-6.9 16.3z" fill="#67a0ff"/>
<path d="M776.2 209.9l6.9-16.3-2 19.4-6.9 15.6z" fill="#68a1ff"/>
<path d="M774.2 228.6l6.9-15.6-2 19.3-6.9 14.9z" fill="#69a1fb"/>
<path d="M772.2 247.2l6.9-14.9-2 19.4-6.9 14.2z" fill="#69a1f5"/>
<path d="M770.2 265.9l6.9-14.2-2 19.4-6.9 13.5z" fill="#6aa1f0"/>
<path d="M768.2 284.6l6.9-13.5-2 19.3-6.9 12.8z" fill="#6ba2eb"/>
<path d="M766.2 303.2l6.9-12.8-2 19.4-6.9 12.1z" fill="#6ca2e5"/>
<path d="M764.2 321.9l6.9-12.1-2 19.3-6.9 11.5z" fill="#6da2e0"/>
<path d="M762.2 340.6l6.9-11.5-2 19.4-6.9 10.7z" fill="#6ea2db"/>
<path d="M760.2 359.2l6.9-10.7-2 19.3-6.9 10.1z" fill="#6fa3d5"/>
<path d="M758.2 377.9l6.9-10.1-2 19.4-6.9 9.3z" fill="#6fa3d0"/>
<path d="M756.2 396.5l6.9-9.3-2 19.4-6.9 8.6z" fill="#70a3cb"/>
<path d="M785.1 174.3l6.9-17-2 20.1-6.9 16.2z" fill="#66a3ff"/>
<path d="M783.1 193.6l6.9-16.2-2 20-6.9 15.6z" fill="#67a4ff"/>
<path d="M781.1 213l6.9-15.6-2 20.1-6.9 14.8z" fill="#68a4ff"/>
<path d="M779.1 232.3l6.9-14.8-2 20-6.9 14.2z" fill="#69a4f9"/>
<path d="M777.1 251.7l6.9-14.2-2 20.1-6.9 13.5z" fill="#6aa4f4"/>
<path d="M775.1 271.1l6.9-13.5-2 20-6.9 12.8z" fill="#6aa5ee"/>
<path d="M773.1 290.4l6.9-12.8-2 20.1-6.9 12.1z" fill="#6ba5e9"/>
<path d="M771.1 309.8l6.9-12.1-2 20-6.9 11.4z" fill="#6ca5e3"/>
<path d="M769.1 329.1l6.9-11.4-2 20.1-6.9 10.7z" fill="#6da5de"/>
<path d="M767.1 348.5l6.9-10.7-2 20-6.9 10z" fill="#6ea6d8"/>
<path d="M765.1 367.8l6.9-10-2 20.1-6.9 9.3z" fill="#6fa6d3"/>
<path d="M763.1 387.2l6.9-9.3-2 20-6.9 8.7z" fill="#70a6cd"/>
<path d="M754.2 415.2l24-223.9 13.8-34" class="m"/>
<path d="M555.2 677.9l13.8-5.6-12 1.6-13.8 5.6z" fill="#403029"/>
<path d="M543.2 679.5l13.8-5.6-11.9 1.6-13.9 5.5z" fill="#423029"/>
<path d="M531.2 681l24-3.1 13.8-5.6" class="m"/>
<path d="M716.4 531.2l13.8-13.3-5.9 16.4-13.9 11.9z" fill="#87aeb4"/>
<path d="M710.4 546.2l13.9-11.9-6 16.5-13.9 10.5z" fill="#8db2b3"/>
<path d="M704.4 561.3l13.9-10.5-6 16.5-13.8 9z" fill="#93b6b2"/>
<path d="M698.5 576.3l13.8-9-6 16.5-13.8 7.6z" fill="#99bab1"/>
<path d="M692.5 591.4l23.9-60.2 13.8-13.3" class="m"/>
<path d="M493.5 690.3l13.8-7.4-12 .8-13.8 7.6z" fill="#492c28"/>
<path d="M481.5 691.3l13.8-7.6-12 .8-13.8 7.9z" fill="#4b2c28"/>
<path d="M469.5 692.4l24-2.1 13.8-7.4" class="m"/>
<path d="M654.7 632l13.8-6.3-12 11.2-13.8 5.2z" fill="#abb7a4"/>
<path d="M642.7 642.1l13.8-5.2-11.9 11.2-13.9 4.1z" fill="#abb29c"/>
<path d="M630.7 652.2l24-20.2 13.8-6.3" class="m"/>
<path d="M431.8 704.9l13.8-10.1-12 1.7-13.8 10.1z" fill="#512826"/>
<path d="M419.8 706.6l13.8-10.1-12 1.7-13.8 10.1z" fill="#532826"/>
<path d="M407.8 708.3l24-3.4 13.8-10.1" class="m"/>
<path d="M593 666.4l13.8-4.7-12 3.2-13.8 4.5z" fill="#3c342b"/>
<path d="M581 669.4l13.8-4.5-12 3.2-13.8 4.2z" fill="#3e342b"/>
<path d="M569 672.3l24-5.9 13.8-4.7" class="m"/>
<path d="M370.1 723.9l13.8-11.8-12 1.9-13.8 11.6z" fill="#5a2423"/>
<path d="M358.1 725.6l13.8-11.6-12 1.9-13.8 11.5z" fill="#5c2423"/>
<path d="M346.1 727.4l24-3.5 13.8-11.8" class="m"/>
<path d="M754.2 415.2l13.8-17.3-3.4 15.8-13.8 16.2z" fill="#72a6c8"/>
<path d="M750.8 429.9l13.8-16.2-3.4 15.7-13.8 15.1z" fill="#74a8c6"/>
<path d="M747.4 444.5l13.8-15.1-3.4 15.7-13.9 14.1z" fill="#77aac4"/>
<path d="M743.9 459.2l13.9-14.1-3.4 15.8-13.9 13z" fill="#7aabc1"/>
<path d="M740.5 473.9l13.9-13-3.5 15.7-13.8 11.9z" fill="#7cadbf"/>
<path d="M737.1 488.5l13.8-11.9-3.4 15.7-13.8 10.9z" fill="#7fafbc"/>
<path d="M733.7 503.2l13.8-10.9-3.4 15.8-13.9 9.8z" fill="#82b1ba"/>
<path d="M730.2 517.9l24-102.7 13.8-17.3" class="m"/>
<path d="M531.2 681l13.9-5.5-12 .8-13.8 5.7z" fill="#443029"/>
<path d="M519.3 682l13.8-5.7-12 .9-13.8 5.7z" fill="#46302a"/>
<path d="M507.3 682.9l23.9-1.9 13.9-5.5" class="m"/>
<path d="M692.5 591.4l13.8-7.6-8 12.5-13.8 6.5z" fill="#a0bfb2"/>
<path d="M684.5 602.8l13.8-6.5-8 12.5-13.8 5.4z" fill="#a9c4b4"/>
<path d="M676.5 614.2l13.8-5.4-8 12.5-13.8 4.4z" fill="#afc8b3"/>
<path d="M668.5 625.7l24-34.3 13.8-7.6" class="m"/>
<path d="M469.5 692.4l13.8-7.9-11.9 1.1-13.9 8z" fill="#4d2c28"/>
<path d="M457.5 693.6l13.9-8-12 1.1-13.8 8.1z" fill="#4f2c28"/>
<path d="M445.6 694.8l23.9-2.4 13.8-7.9" class="m"/>
<path d="M630.7 652.2l13.9-4.1-12 5.1-13.8 3.7z" fill="#aaac95"/>
<path d="M618.8 656.9l13.8-3.7-12 5.1-13.8 3.4z" fill="#a8a68e"/>
<path d="M606.8 661.7l23.9-9.5 13.9-4.1" class="m"/>
<path d="M407.8 708.3l13.8-10.1-11.9 2-13.9 10z" fill="#552826"/>
<path d="M395.8 710.2l13.9-10-12 2-13.8 9.9z" fill="#572826"/>
<path d="M383.9 712.1l23.9-3.8 13.8-10.1" class="m"/>
<path d="M792 157.3l6.9-12.5-2 20.6-6.9 12z" fill="#66a7ff"/>
<path d="M790 177.4l6.9-12-2 20.6-6.9 11.4z" fill="#67a7ff"/>
<path d="M788 197.4l6.9-11.4-2 20.6-6.9 10.9z" fill="#67a7ff"/>
<path d="M786 217.5l6.9-10.9-2 20.5-6.9 10.4z" fill="#68a7fc"/>
<path d="M784 237.5l6.9-10.4-2 20.6-6.9 9.9z" fill="#69a8f7"/>
<path d="M782 257.6l6.9-9.9-2 20.6-6.9 9.3z" fill="#6aa8f1"/>
<path d="M780 277.6l6.9-9.3-2 20.6-6.9 8.8z" fill="#6ba8ec"/>
<path d="M778 297.7l6.9-8.8-2 20.6-6.9 8.2z" fill="#6ca8e6"/>
<path d="M776 317.7l6.9-8.2-2 20.6-6.9 7.7z" fill="#6ca8e0"/>
<path d="M774 337.8l6.9-7.7-1.9 20.6-7 7.1z" fill="#6da9db"/>
<path d="M772 357.8l7-7.1-2 20.6-7 6.6z" fill="#6ea9d5"/>
<path d="M770 377.9l7-6.6-2 20.6-7 6z" fill="#6fa9cf"/>
<path d="M798.9 144.8l6.9-12.5-2 21.1-6.9 12z" fill="#65aaff"/>
<path d="M796.9 165.4l6.9-12-2 21.1-6.9 11.5z" fill="#66aaff"/>
<path d="M794.9 186l6.9-11.5-2 21.2-6.9 10.9z" fill="#67aaff"/>
<path d="M792.9 206.6l6.9-10.9-1.9 21.1-7 10.3z" fill="#68aaff"/>
<path d="M790.9 227.1l7-10.3-2 21.1-7 9.8z" fill="#68abfa"/>
<path d="M788.9 247.7l7-9.8-2 21.2-7 9.2z" fill="#69abf4"/>
<path d="M786.9 268.3l7-9.2-2 21.1-7 8.7z" fill="#6aabee"/>
<path d="M784.9 288.9l7-8.7-2 21.1-7 8.2z" fill="#6babe8"/>
<path d="M782.9 309.5l7-8.2-2 21.2-7 7.6z" fill="#6cace2"/>
<path d="M780.9 330.1l7-7.6-2 21.1-6.9 7.1z" fill="#6dacdd"/>
<path d="M779 350.7l6.9-7.1-2 21.1-6.9 6.6z" fill="#6eacd7"/>
<path d="M777 371.3l6.9-6.6-2 21.2-6.9 6z" fill="#6eacd1"/>
<path d="M768 397.9l24-240.6 13.8-25" class="m"/>
<path d="M569 672.3l13.8-4.2-12 1.7-13.8 4.1z" fill="#40342b"/>
<path d="M557 673.9l13.8-4.1-11.9 1.6-13.8 4.1z" fill="#42342b"/>
<path d="M545.1 675.5l23.9-3.2 13.8-4.2" class="m"/>
<path d="M346.1 727.4l13.8-11.5-11.9 2.3-13.9 10.9z" fill="#5e2423"/>
<path d="M334.1 729.1l13.9-10.9-12 2.3-13.8 10.3z" fill="#602423"/>
<path d="M322.2 730.8l23.9-3.4 13.8-11.5" class="m"/>
<path d="M730.2 517.9l13.9-9.8-4.8 14.1-13.8 8.9z" fill="#86b4b8"/>
<path d="M725.5 531.1l13.8-8.9-4.8 14.2-13.8 7.8z" fill="#8ab8b7"/>
<path d="M720.7 544.2l13.8-7.8-4.8 14.1-13.8 6.9z" fill="#8fbbb7"/>
<path d="M715.9 557.4l13.8-6.9-4.8 14.1-13.8 6z" fill="#94bfb6"/>
<path d="M711.1 570.6l13.8-6-4.8 14.2-13.8 5z" fill="#9ac3b6"/>
<path d="M706.3 583.8l23.9-65.9 13.9-9.8" class="m"/>
<path d="M507.3 682.9l13.8-5.7-23.9 1.2-13.9 6.1z" fill="#4a302a"/>
<path d="M483.3 684.5l24-1.6 13.8-5.7" class="m"/>
<path d="M668.5 625.7l13.8-4.4-11.9 12.2-13.9 3.4z" fill="#b2c7af"/>
<path d="M656.5 636.9l13.9-3.4-12 12.2-13.8 2.4z" fill="#b1c1a5"/>
<path d="M644.6 648.1l23.9-22.4 13.8-4.4" class="m"/>
<path d="M445.6 694.8l13.8-8.1-12 1.6-13.8 8.2z" fill="#512c28"/>
<path d="M433.6 696.5l13.8-8.2-12 1.7-13.8 8.2z" fill="#532c28"/>
<path d="M421.6 698.2l24-3.4 13.8-8.1" class="m"/>
<path d="M606.8 661.7l13.8-3.4-12 3.5-13.8 3.1z" fill="#a8a289"/>
<path d="M594.8 664.9l13.8-3.1-12 3.5-13.8 2.8z" fill="#a99e86"/>
<path d="M582.8 668.1l24-6.4 13.8-3.4" class="m"/>
<path d="M383.9 712.1l13.8-9.9-12 2.2-13.8 9.6z" fill="#5a2826"/>
<path d="M371.9 714l13.8-9.6-12 2.1-13.8 9.4z" fill="#5c2825"/>
<path d="M359.9 715.9l24-3.8 13.8-9.9" class="m"/>
<path d="M768 397.9l13.9-12-3.4 16.5-13.9 11.3z" fill="#70accc"/>
<path d="M764.6 413.7l13.9-11.3-3.5 16.6-13.8 10.4z" fill="#73aeca"/>
<path d="M761.2 429.4l13.8-10.4-3.4 16.6-13.8 9.5z" fill="#76b0c7"/>
<path d="M757.8 445.1l13.8-9.5-3.4 16.5-13.8 8.8z" fill="#78b2c4"/>
<path d="M754.4 460.9l13.8-8.8-3.4 16.6-13.9 7.9z" fill="#7bb4c2"/>
<path d="M750.9 476.6l13.9-7.9-3.5 16.6-13.8 7z" fill="#7eb6bf"/>
<path d="M747.5 492.3l13.8-7-3.4 16.6-13.8 6.2z" fill="#81b8bc"/>
<path d="M744.1 508.1l23.9-110.2 13.9-12" class="m"/>
<path d="M545.1 675.5l13.8-4.1-12 .8-13.8 4.1z" fill="#44342b"/>
<path d="M533.1 676.3l13.8-4.1-12 .8-13.8 4.2z" fill="#46342b"/>
<path d="M521.1 677.2l24-1.7 13.8-4.1" class="m"/>
<path d="M322.2 730.8l13.8-10.3-12 2.5-13.8 9.6z" fill="#622423"/>
<path d="M310.2 732.6l13.8-9.6-12 2.5-13.8 8.8z" fill="#642423"/>
<path d="M298.2 734.3l24-3.5 13.8-10.3" class="m"/>
<path d="M706.3 583.8l13.8-5-8 13.3-13.8 4.2z" fill="#a2c9b8"/>
<path d="M698.3 596.3l13.8-4.2-7.9 13.3-13.9 3.4z" fill="#add2bc"/>
<path d="M690.3 608.8l13.9-3.4-8 13.4-13.9 2.5z" fill="#b6d8be"/>
<path d="M682.3 621.3l24-37.5 13.8-5" class="m"/>
<path d="M483.3 684.5l13.9-6.1-12 1-13.8 6.2z" fill="#4d302a"/>
<path d="M471.4 685.6l13.8-6.2-12 .9-13.8 6.4z" fill="#4f302a"/>
<path d="M459.4 686.7l23.9-2.2 13.9-6.1" class="m"/>
<path d="M644.6 648.1l13.8-2.4-12 5.4-13.8 2.1z" fill="#adb89b"/>
<path d="M632.6 653.2l13.8-2.1-12 5.3-13.8 1.9z" fill="#aab193"/>
<path d="M620.6 658.3l24-10.2 13.8-2.4" class="m"/>
<path d="M421.6 698.2l13.8-8.2-11.9 2.2-13.8 8z" fill="#552c28"/>
<path d="M409.7 700.2l13.8-8-12 2.1-13.8 7.9z" fill="#572c28"/>
<path d="M397.7 702.2l23.9-4 13.8-8.2" class="m"/>
<path d="M805.8 132.3l13.9-16.2-2 21.9-13.9 15.4z" fill="#64aeff"/>
<path d="M803.8 153.4l13.9-15.4-2 22-13.9 14.5z" fill="#65afff"/>
<path d="M801.8 174.5l13.9-14.5-2 21.9-13.9 13.8z" fill="#66afff"/>
<path d="M799.8 195.7l13.9-13.8-2 21.9-13.8 13z" fill="#67afff"/>
<path d="M797.9 216.8l13.8-13-2 21.9-13.8 12.2z" fill="#68affd"/>
<path d="M795.9 237.9l13.8-12.2-2 21.9-13.8 11.5z" fill="#69b0f7"/>
<path d="M793.9 259.1l13.8-11.5-2 21.9-13.8 10.7z" fill="#69b0f1"/>
<path d="M791.9 280.2l13.8-10.7-2 21.9-13.8 9.9z" fill="#6ab0eb"/>
<path d="M789.9 301.3l13.8-9.9-2 21.9-13.8 9.2z" fill="#6bb0e5"/>
<path d="M787.9 322.5l13.8-9.2-2 21.9-13.8 8.4z" fill="#6cb1df"/>
<path d="M785.9 343.6l13.8-8.4-2 21.9-13.8 7.6z" fill="#6db1d9"/>
<path d="M783.9 364.7l13.8-7.6-2 21.9-13.8 6.9z" fill="#6eb1d3"/>
<path d="M781.9 385.9l23.9-253.6 13.9-16.2" class="m"/>
<path d="M582.8 668.1l13.8-2.8-11.9 1.7-13.9 2.8z" fill="#40392d"/>
<path d="M570.8 669.8l13.9-2.8-12 1.8-13.8 2.6z" fill="#42392d"/>
<path d="M558.9 671.4l23.9-3.3 13.8-2.8" class="m"/>
<path d="M359.9 715.9l13.8-9.4-11.9 2.7-13.8 9z" fill="#5e2825"/>
<path d="M348 718.2l13.8-9-12 2.8-13.8 8.5z" fill="#602825"/>
<path d="M336 720.5l23.9-4.6 13.8-9.4" class="m"/>
<path d="M744.1 508.1l13.8-6.2-4.8 14.8-13.8 5.5z" fill="#84bbba"/>
<path d="M739.3 522.2l13.8-5.5-4.8 14.9-13.8 4.8z" fill="#89bfba"/>
<path d="M734.5 536.4l13.8-4.8-4.8 14.9-13.8 4z" fill="#8fc3b9"/>
<path d="M729.7 550.5l13.8-4-4.8 14.8-13.8 3.3z" fill="#94c7b9"/>
<path d="M724.9 564.6l13.8-3.3-4.7 14.9-13.9 2.6z" fill="#9accb9"/>
<path d="M720.1 578.8l24-70.7 13.8-6.2" class="m"/>
<path d="M521.1 677.2l13.8-4.2-23.9 1-13.8 4.4z" fill="#4a342c"/>
<path d="M497.2 678.4l23.9-1.2 13.8-4.2" class="m"/>
<path d="M298.2 734.3l13.8-8.8-11.9 2.6-13.8 8z" fill="#662423"/>
<path d="M286.3 736.1l13.8-8-12 2.6-13.8 7.1z" fill="#682422"/>
<path d="M274.3 737.8l23.9-3.5 13.8-8.8" class="m"/>
<path d="M682.3 621.3l13.9-2.5-12 13-13.8 1.7z" fill="#bbdabb"/>
<path d="M670.4 633.5l13.8-1.7-12 13-13.8 .9z" fill="#b8d2b0"/>
<path d="M658.4 645.7l23.9-24.4 13.9-2.5" class="m"/>
<path d="M459.4 686.7l13.8-6.4-12 1.7-13.8 6.3z" fill="#51302a"/>
<path d="M447.4 688.3l13.8-6.3-12 1.7-13.8 6.3z" fill="#53302a"/>
<path d="M435.4 690l24-3.3 13.8-6.4" class="m"/>
<path d="M620.6 658.3l13.8-1.9-12 3.7-13.8 1.7z" fill="#a9ab8d"/>
<path d="M608.6 661.8l13.8-1.7-11.9 3.7-13.9 1.5z" fill="#a9a789"/>
<path d="M596.6 665.3l24-7 13.8-1.9" class="m"/>
<path d="M397.7 702.2l13.8-7.9-12 2.4-13.8 7.7z" fill="#5a2c28"/>
<path d="M385.7 704.4l13.8-7.7-12 2.3-13.8 7.5z" fill="#5c2c28"/>
<path d="M373.7 706.5l24-4.3 13.8-7.9" class="m"/>
<path d="M781.9 385.9l13.8-6.9-3 15-13.8 6.4z" fill="#6fb2cf"/>
<path d="M778.9 400.4l13.8-6.4-3 15-13.8 5.9z" fill="#71b4cd"/>
<path d="M775.9 414.9l13.8-5.9-3 15.1-13.8 5.3z" fill="#74b6ca"/>
<path d="M772.9 429.4l13.8-5.3-3 15-13.8 4.8z" fill="#76b7c8"/>
<path d="M769.9 443.9l13.8-4.8-3 15-13.8 4.3z" fill="#78b9c5"/>
<path d="M766.9 458.4l13.8-4.3-3 15-13.8 3.8z" fill="#7bbbc3"/>
<path d="M763.9 472.9l13.8-3.8-3 15-13.8 3.3z" fill="#7dbdc0"/>
<path d="M760.9 487.4l13.8-3.3-2.9 15.1-13.9 2.7z" fill="#80bfbe"/>
<path d="M757.9 501.9l24-116 13.8-6.9" class="m"/>
<path d="M558.9 671.4l13.8-2.6-12 .8-13.8 2.6z" fill="#44392d"/>
<path d="M546.9 672.2l13.8-2.6-12 .7-13.8 2.7z" fill="#46392d"/>
<path d="M534.9 673l24-1.6 13.8-2.6" class="m"/>
<path d="M336 720.5l13.8-8.5-12 3.2-13.8 7.8z" fill="#622825"/>
<path d="M324 723l13.8-7.8-12 3.3-13.8 7z" fill="#642825"/>
<path d="M312 725.5l24-5 13.8-8.5" class="m"/>
<path d="M720.1 578.8l13.9-2.6-8 14-13.9 1.9z" fill="#a4d4bd"/>
<path d="M712.1 592.1l13.9-1.9-8 14-13.8 1.2z" fill="#b2dfc3"/>
<path d="M704.2 605.4l13.8-1.2-8 14-13.8 .6z" fill="#bee9c8"/>
<path d="M696.2 618.8l23.9-40 13.9-2.6" class="m"/>
<path d="M497.2 678.4l13.8-4.4-12 .9-13.8 4.5z" fill="#4d342c"/>
<path d="M485.2 679.4l13.8-4.5-12 .9-13.8 4.5z" fill="#4f342c"/>
<path d="M473.2 680.3l24-1.9 13.8-4.4" class="m"/>
<path d="M274.3 737.8l13.8-7.1-12 2.5-13.8 6.4z" fill="#6b2422"/>
<path d="M262.3 739.6l13.8-6.4-11.9 2.5-13.8 5.6z" fill="#6d2422"/>
<path d="M250.4 741.3l23.9-3.5 13.8-7.1" class="m"/>
<path d="M658.4 645.7l13.8-.9-12 5.6-13.8 .7z" fill="#b1c5a1"/>
<path d="M646.4 651.1l13.8-.7-12 5.6-13.8 .4z" fill="#abbb96"/>
<path d="M634.4 656.4l24-10.7 13.8-.9" class="m"/>
<path d="M435.4 690l13.8-6.3-11.9 2.3-13.8 6.2z" fill="#55302a"/>
<path d="M423.5 692.2l13.8-6.2-12 2.3-13.8 6z" fill="#57302a"/>
<path d="M411.5 694.3l23.9-4.3 13.8-6.3" class="m"/>
<path d="M819.7 116.1l13.8-7.2-2 22.4-13.8 6.7z" fill="#63b4ff"/>
<path d="M817.7 138l13.8-6.7-2 22.4-13.8 6.3z" fill="#64b5ff"/>
<path d="M815.7 160l13.8-6.3-2 22.3-13.8 5.9z" fill="#65b5ff"/>
<path d="M813.7 181.9l13.8-5.9-2 22.4-13.8 5.4z" fill="#66b5ff"/>
<path d="M811.7 203.8l13.8-5.4-2 22.4-13.8 4.9z" fill="#67b6ff"/>
<path d="M809.7 225.7l13.8-4.9-2 22.3-13.8 4.5z" fill="#68b6f9"/>
<path d="M807.7 247.6l13.8-4.5-2 22.4-13.8 4z" fill="#68b6f3"/>
<path d="M805.7 269.5l13.8-4-2 22.4-13.8 3.5z" fill="#69b6ed"/>
<path d="M803.7 291.4l13.8-3.5-2 22.3-13.8 3.1z" fill="#6ab7e7"/>
<path d="M801.7 313.3l13.8-3.1-2 22.4-13.8 2.6z" fill="#6bb7e1"/>
<path d="M799.7 335.2l13.8-2.6-2 22.4-13.8 2.1z" fill="#6cb7db"/>
<path d="M797.7 357.1l13.8-2.1-2 22.4-13.8 1.6z" fill="#6db8d5"/>
<path d="M795.7 379l24-262.9 13.8-7.2" class="m"/>
<path d="M596.6 665.3l13.9-1.5-12 1.9-13.8 1.3z" fill="#aaa486"/>
<path d="M584.7 667l13.8-1.3-12 1.9-13.8 1.2z" fill="#aaa083"/>
<path d="M572.7 668.8l23.9-3.5 13.9-1.5" class="m"/>
<path d="M373.7 706.5l13.8-7.5-11.9 3.2-13.8 7z" fill="#5e2c28"/>
<path d="M361.8 709.2l13.8-7-12 3.2-13.8 6.6z" fill="#602c27"/>
<path d="M349.8 712l23.9-5.5 13.8-7.5" class="m"/>
<path d="M757.9 501.9l13.9-2.7-4.8 15.4-13.9 2.1z" fill="#83c2bc"/>
<path d="M753.1 516.7l13.9-2.1-4.8 15.4-13.9 1.6z" fill="#89c6bc"/>
<path d="M748.3 531.6l13.9-1.6-4.8 15.4-13.9 1.1z" fill="#8ecabb"/>
<path d="M743.5 546.5l13.9-1.1-4.8 15.3-13.9 .6z" fill="#94cfbb"/>
<path d="M738.7 561.3l13.9-.6-4.8 15.4-13.8 .1z" fill="#9bd4bc"/>
<path d="M734 576.2l23.9-74.3 13.9-2.7" class="m"/>
<path d="M534.9 673l13.8-2.7-23.9 1-13.8 2.7z" fill="#4a392d"/>
<path d="M511 674l23.9-1 13.8-2.7" class="m"/>
<path d="M312 725.5l13.8-7-11.9 3.3-13.8 6.3z" fill="#662825"/>
<path d="M300.1 728.1l13.8-6.3-12 3.3-13.8 5.6z" fill="#682825"/>
<path d="M288.1 730.7l23.9-5.2 13.8-7" class="m"/>
<path d="M696.2 618.8l13.8-.6-12 13.6-13.8 0z" fill="#c6eec9"/>
<path d="M684.2 631.8l13.8 0-12 13.7-13.8-.7z" fill="#c2e5bc"/>
<path d="M672.2 644.8l24-26 13.8-.6" class="m"/>
<path d="M473.2 680.3l13.8-4.5-12 1.7-13.8 4.5z" fill="#51342c"/>
<path d="M461.2 682l13.8-4.5-11.9 1.8-13.9 4.4z" fill="#53342c"/>
<path d="M449.2 683.7l24-3.4 13.8-4.5" class="m"/>
<path d="M250.4 741.3l13.8-5.6-12 2.3-13.8 5z" fill="#6f2422"/>
<path d="M238.4 743l13.8-5-12 2.2-13.8 4.6z" fill="#712422"/>
<path d="M226.4 744.8l24-3.5 13.8-5.6" class="m"/>
<path d="M634.4 656.4l13.8-.4-11.9 3.9-13.9 .2z" fill="#a9b490"/>
<path d="M622.4 660.1l13.9-.2-12 3.8-13.8 .1z" fill="#aab08c"/>
<path d="M610.5 663.8l23.9-7.4 13.8-.4" class="m"/>
<path d="M411.5 694.3l13.8-6-12 2.6-13.8 5.8z" fill="#5a302a"/>
<path d="M399.5 696.7l13.8-5.8-11.9 2.5-13.9 5.6z" fill="#5c302a"/>
<path d="M387.5 699l24-4.7 13.8-6" class="m"/>
<path d="M795.7 379l13.8-1.6-2.9 15.3-13.9 1.3z" fill="#6eb9d0"/>
<path d="M792.7 394l13.9-1.3-3 15.3-13.9 1z" fill="#70bace"/>
<path d="M789.7 409l13.9-1-3 15.4-13.9 .7z" fill="#73bccb"/>
<path d="M786.7 424.1l13.9-.7-3 15.3-13.9 .4z" fill="#75bec9"/>
<path d="M783.7 439.1l13.9-.4-3 15.3-13.9 .1z" fill="#77c0c6"/>
<path d="M780.7 454.1l13.9-.1-3 15.4-13.9-.3z" fill="#7ac2c4"/>
<path d="M777.7 469.1l13.9 .3-3 15.3-13.9-.6z" fill="#7cc4c1"/>
<path d="M774.7 484.1l13.9 .6-3 15.3-13.8-.8z" fill="#7fc6bf"/>
<path d="M771.8 499.2l23.9-120.2 13.8-1.6" class="m"/>
<path d="M572.7 668.8l13.8-1.2-12 .8-13.8 1.2z" fill="#443d2e"/>
<path d="M560.7 669.6l13.8-1.2-11.9 .8-13.9 1.1z" fill="#463d2e"/>
<path d="M548.7 670.3l24-1.5 13.8-1.2" class="m"/>
<path d="M349.8 712l13.8-6.6-12 3.8-13.8 6z" fill="#622c27"/>
<path d="M337.8 715.2l13.8-6-12 3.9-13.8 5.4z" fill="#642c27"/>
<path d="M325.8 718.5l24-6.5 13.8-6.6" class="m"/>
<path d="M734 576.2l13.8-.1-8 14.5-13.8-.4z" fill="#a6dec0"/>
<path d="M726 590.2l13.8 .4-8 14.5-13.8-.9z" fill="#b6edca"/>
<path d="M718 604.2l13.8 .9-8 14.5-13.8-1.4z" fill="#c5f9d2"/>
<path d="M710 618.2l24-42 13.8-.1" class="m"/>
<path d="M511 674l13.8-2.7-12 .8-13.8 2.8z" fill="#4d392d"/>
<path d="M499 674.9l13.8-2.8-12 .9-13.8 2.8z" fill="#4f392d"/>
<path d="M487 675.8l24-1.8 13.8-2.7" class="m"/>
<path d="M288.1 730.7l13.8-5.6-12 3.2-13.8 4.9z" fill="#6b2824"/>
<path d="M276.1 733.2l13.8-4.9-11.9 3.1-13.8 4.3z" fill="#6d2824"/>
<path d="M264.2 735.7l23.9-5 13.8-5.6" class="m"/>
<path d="M672.2 644.8l13.8 .7-11.9 5.7-13.9-.8z" fill="#b6d4a9"/>
<path d="M660.2 650.4l13.9 .8-12 5.7-13.9-.9z" fill="#adc59a"/>
<path d="M648.2 656l24-11.2 13.8 .7" class="m"/>
<path d="M449.2 683.7l13.9-4.4-12 2.4-13.8 4.3z" fill="#55342c"/>
<path d="M437.3 686l13.8-4.3-12 2.4-13.8 4.2z" fill="#57342c"/>
<path d="M425.3 688.3l23.9-4.6 13.9-4.4" class="m"/>
<path d="M226.4 744.8l13.8-4.6-12 1.7-13.8 4.6z" fill="#732422"/>
<path d="M214.4 746.5l13.8-4.6-11.9 1.8-13.8 4.6z" fill="#752422"/>
<path d="M202.5 748.3l23.9-3.5 13.8-4.6" class="m"/>
<path d="M833.5 108.9l13.9 1.8-2 22.5-13.9-1.9z" fill="#63bbff"/>
<path d="M831.5 131.3l13.9 1.9-2 22.5-13.9-2z" fill="#63bbff"/>
<path d="M829.5 153.7l13.9 2-2 22.5-13.9-2.2z" fill="#64bbff"/>
<path d="M827.5 176l13.9 2.2-2 22.5-13.9-2.3z" fill="#65bcff"/>
<path d="M825.5 198.4l13.9 2.3-2 22.6-13.9-2.5z" fill="#66bcff"/>
<path d="M823.5 220.8l13.9 2.5-2 22.5-13.9-2.7z" fill="#67bcf9"/>
<path d="M821.5 243.1l13.9 2.7-2 22.5-13.9-2.8z" fill="#68bdf3"/>
<path d="M819.5 265.5l13.9 2.8-2 22.5-13.9-2.9z" fill="#69bded"/>
<path d="M817.5 287.9l13.9 2.9-2 22.6-13.9-3.2z" fill="#69bde7"/>
<path d="M815.5 310.2l13.9 3.2-2 22.5-13.9-3.3z" fill="#6abde1"/>
<path d="M813.5 332.6l13.9 3.3-2 22.5-13.9-3.4z" fill="#6bbedb"/>
<path d="M811.5 355l13.9 3.4-2 22.5-13.9-3.5z" fill="#6cbed5"/>
<path d="M809.5 377.4l24-268.5 13.9 1.8" class="m"/>
<path d="M610.5 663.8l13.8-.1-12 2.1-13.8-.1z" fill="#aaac88"/>
<path d="M598.5 665.7l13.8 .1-12 2-13.8-.2z" fill="#aaa884"/>
<path d="M586.5 667.6l24-3.8 13.8-.1" class="m"/>
<path d="M387.5 699l13.9-5.6-12 3.6-13.8 5.2z" fill="#5e302a"/>
<path d="M375.6 702.2l13.8-5.2-12 3.6-13.8 4.8z" fill="#603029"/>
<path d="M363.6 705.4l23.9-6.4 13.9-5.6" class="m"/>
<path d="M771.8 499.2l13.8 .8-4.8 15.7-13.8-1.1z" fill="#83c9bd"/>
<path d="M767 514.6l13.8 1.1-4.8 15.7-13.8-1.4z" fill="#88cdbd"/>
<path d="M762.2 530l13.8 1.4-4.8 15.8-13.8-1.8z" fill="#8ed2bd"/>
<path d="M757.4 545.4l13.8 1.8-4.8 15.7-13.8-2.2z" fill="#94d7bd"/>
<path d="M752.6 560.7l13.8 2.2-4.8 15.7-13.8-2.5z" fill="#9bddbe"/>
<path d="M747.8 576.1l24-76.9 13.8 .8" class="m"/>
<path d="M548.7 670.3l13.9-1.1-24 .9-13.8 1.2z" fill="#4a3d2e"/>
<path d="M524.8 671.3l23.9-1 13.9-1.1" class="m"/>
<path d="M325.8 718.5l13.8-5.4-11.9 3.9-13.8 4.8z" fill="#662c27"/>
<path d="M313.9 721.8l13.8-4.8-12 4-13.8 4.1z" fill="#682c26"/>
<path d="M301.9 725.1l23.9-6.6 13.8-5.4" class="m"/>
<path d="M710 618.2l13.8 1.4-12 14.1-13.8-1.9z" fill="#d2ffd7"/>
<path d="M698 631.8l13.8 1.9-11.9 14-13.9-2.2z" fill="#cefac9"/>
<path d="M686 645.5l24-27.3 13.8 1.4" class="m"/>
<path d="M487 675.8l13.8-2.8-11.9 1.8-13.9 2.7z" fill="#51392e"/>
<path d="M475 677.5l13.9-2.7-12 1.8-13.8 2.7z" fill="#53392e"/>
<path d="M463.1 679.3l23.9-3.5 13.8-2.8" class="m"/>
<path d="M264.2 735.7l13.8-4.3-12 2.6-13.8 4z" fill="#6f2824"/>
<path d="M252.2 738l13.8-4-12 2.6-13.8 3.6z" fill="#712824"/>
<path d="M240.2 740.2l24-4.5 13.8-4.3" class="m"/>
<path d="M648.2 656l13.9 .9-12 4.1-13.8-1.1z" fill="#aabd92"/>
<path d="M636.3 659.9l13.8 1.1-12 4.1-13.8-1.4z" fill="#aab98d"/>
<path d="M624.3 663.7l23.9-7.7 13.9 .9" class="m"/>
<path d="M425.3 688.3l13.8-4.2-12 2.8-13.8 4z" fill="#5a342c"/>
<path d="M413.3 690.9l13.8-4-11.9 2.7-13.8 3.8z" fill="#5c342c"/>
<path d="M401.4 693.4l23.9-5.1 13.8-4.2" class="m"/>
<path d="M202.5 748.3l13.8-4.6-12 1.2-13.8 5.1z" fill="#772422"/>
<path d="M190.5 750l13.8-5.1-12 1.1-13.8 5.8z" fill="#792422"/>
<path d="M178.5 751.8l24-3.5 13.8-4.6" class="m"/>
<path d="M809.5 377.4l13.9 3.5-3 15.5-13.8-3.7z" fill="#6dbfd0"/>
<path d="M806.6 392.7l13.8 3.7-3 15.4-13.8-3.8z" fill="#70c1ce"/>
<path d="M803.6 408l13.8 3.8-3 15.4-13.8-3.8z" fill="#72c3cb"/>
<path d="M800.6 423.4l13.8 3.8-3 15.5-13.8-4z" fill="#74c5c9"/>
<path d="M797.6 438.7l13.8 4-3 15.4-13.8-4.1z" fill="#77c7c6"/>
<path d="M794.6 454l13.8 4.1-3 15.5-13.8-4.2z" fill="#79c9c4"/>
<path d="M791.6 469.4l13.8 4.2-3 15.4-13.8-4.3z" fill="#7ccbc1"/>
<path d="M788.6 484.7l13.8 4.3-3 15.4-13.8-4.4z" fill="#7ecdbf"/>
<path d="M785.6 500l23.9-122.6 13.9 3.5" class="m"/>
<path d="M586.5 667.6l13.8 .2-11.9 .9-13.9-.3z" fill="#aba582"/>
<path d="M574.5 668.4l13.9 .3-12 .9-13.8-.4z" fill="#ada381"/>
<path d="M562.6 669.2l23.9-1.6 13.8 .2" class="m"/>
<path d="M363.6 705.4l13.8-4.8-12 4.3-13.8 4.3z" fill="#f79182"/>
<path d="M351.6 709.2l13.8-4.3-11.9 4.4-13.9 3.8z" fill="#fd9182"/>
<path d="M339.6 713.1l24-7.7 13.8-4.8" class="m"/>
<path d="M747.8 576.1l13.8 2.5-8 14.8-13.8-2.8z" fill="#a8e8c4"/>
<path d="M739.8 590.6l13.8 2.8-8 14.7-13.8-3z" fill="#bbfad0"/>
<path d="M731.8 605.1l13.8 3-7.9 14.8-13.9-3.3z" fill="#ceffdb"/>
<path d="M723.8 619.6l24-43.5 13.8 2.5" class="m"/>
<path d="M524.8 671.3l13.8-1.2-12 .9-13.8 1.1z" fill="#4d3d2f"/>
<path d="M512.8 672.1l13.8-1.1-12 .8-13.8 1.2z" fill="#4f3d2f"/>
<path d="M500.8 673l24-1.7 13.8-1.2" class="m"/>
<path d="M301.9 725.1l13.8-4.1-12 3.7-13.8 3.6z" fill="#ff867a"/>
<path d="M289.9 728.3l13.8-3.6-11.9 3.7-13.8 3z" fill="#ff8679"/>
<path d="M278 731.4l23.9-6.3 13.8-4.1" class="m"/>
<path d="M686 645.5l13.9 2.2-12 5.8-13.8-2.3z" fill="#bce3b1"/>
<path d="M674.1 651.2l13.8 2.3-12 5.9-13.8-2.5z" fill="#aed09d"/>
<path d="M662.1 656.9l23.9-11.4 13.9 2.2" class="m"/>
<path d="M463.1 679.3l13.8-2.7-12 2.5-13.8 2.6z" fill="#d49b85"/>
<path d="M451.1 681.7l13.8-2.6-12 2.5-13.8 2.5z" fill="#da9c86"/>
<path d="M439.1 684.1l24-4.8 13.8-2.7" class="m"/>
<path d="M240.2 740.2l13.8-3.6-12 1.8-13.8 3.5z" fill="#732824"/>
<path d="M228.2 741.9l13.8-3.5-11.9 1.8-13.8 3.5z" fill="#752824"/>
<path d="M216.3 743.7l23.9-3.5 13.8-3.6" class="m"/>
<path d="M847.4 110.7l13.8 10.6-2 22.3-13.8-10.4z" fill="#62c1ff"/>
<path d="M845.4 133.2l13.8 10.4-2 22.4-13.8-10.3z" fill="#63c1ff"/>
<path d="M843.4 155.7l13.8 10.3-2 22.4-13.8-10.2z" fill="#64c1ff"/>
<path d="M841.4 178.2l13.8 10.2-2 22.4-13.8-10.1z" fill="#64c2ff"/>
<path d="M839.4 200.7l13.8 10.1-2 22.3-13.8-9.8z" fill="#65c2fd"/>
<path d="M837.4 223.3l13.8 9.8-2 22.4-13.8-9.7z" fill="#66c3f7"/>
<path d="M835.4 245.8l13.8 9.7-2 22.4-13.8-9.6z" fill="#67c3f1"/>
<path d="M833.4 268.3l13.8 9.6-2 22.3-13.8-9.4z" fill="#68c3eb"/>
<path d="M831.4 290.8l13.8 9.4-2 22.4-13.8-9.2z" fill="#69c4e5"/>
<path d="M829.4 313.4l13.8 9.2-2 22.4-13.8-9.1z" fill="#6ac4df"/>
<path d="M827.4 335.9l13.8 9.1-2 22.3-13.8-8.9z" fill="#6ac4d9"/>
<path d="M825.4 358.4l13.8 8.9-2 22.4-13.8-8.8z" fill="#6bc5d3"/>
<path d="M823.4 380.9l24-270.2 13.8 10.6" class="m"/>
<path d="M624.3 663.7l13.8 1.4-12 2.1-13.8-1.4z" fill="#aab489"/>
<path d="M612.3 665.8l13.8 1.4-11.9 2.2-13.9-1.6z" fill="#aab086"/>
<path d="M600.3 667.8l24-4.1 13.8 1.4" class="m"/>
<path d="M401.4 693.4l13.8-3.8-12 3.9-13.8 3.5z" fill="#ec9885"/>
<path d="M389.4 697l13.8-3.5-12 4-13.8 3.1z" fill="#f39a86"/>
<path d="M377.4 700.6l24-7.2 13.8-3.8" class="m"/>
<path d="M178.5 751.8l13.8-5.8-12 .6-13.7 6.9z" fill="#7b2422"/>
<path d="M166.6 753.5l13.7-6.9-11.9 .7-13.8 7.9z" fill="#7e2422"/>
<path d="M154.6 755.2l23.9-3.4 13.8-5.8" class="m"/>
<path d="M785.6 500l13.8 4.4-4.8 15.8-13.8-4.5z" fill="#82d0bd"/>
<path d="M780.8 515.7l13.8 4.5-4.8 15.9-13.8-4.7z" fill="#88d5bd"/>
<path d="M776 531.4l13.8 4.7-4.8 15.8-13.8-4.7z" fill="#8edabd"/>
<path d="M771.2 547.2l13.8 4.7-4.8 15.8-13.8-4.8z" fill="#95e0be"/>
<path d="M766.4 562.9l13.8 4.8-4.8 15.8-13.8-4.9z" fill="#9de6c0"/>
<path d="M761.6 578.6l24-78.6 13.8 4.4" class="m"/>
<path d="M562.6 669.2l13.8 .4-24 .9-13.8-.4z" fill="#b1a280"/>
<path d="M538.6 670.1l24-.9 13.8 .4" class="m"/>
<path d="M339.6 713.1l13.9-3.8-12 4.5-13.8 3.2z" fill="#ff9281"/>
<path d="M327.7 717l13.8-3.2-12 4.5-13.8 2.7z" fill="#ff9180"/>
<path d="M315.7 721l23.9-7.9 13.9-3.8" class="m"/>
<path d="M723.8 619.6l13.9 3.3-12 14.3-13.9-3.5z" fill="#dfffe5"/>
<path d="M711.8 633.7l13.9 3.5-12 14.3-13.8-3.8z" fill="#dbffd7"/>
<path d="M699.9 647.7l23.9-28.1 13.9 3.3" class="m"/>
<path d="M500.8 673l13.8-1.2-11.9 1.9-13.8 1.1z" fill="#c69f84"/>
<path d="M488.9 674.8l13.8-1.1-12 1.8-13.8 1.1z" fill="#cda286"/>
<path d="M476.9 676.6l23.9-3.6 13.8-1.2" class="m"/>
<path d="M278 731.4l13.8-3-12 2.9-13.8 2.7z" fill="#ff8477"/>
<path d="M266 734l13.8-2.7-12 2.9-13.8 2.4z" fill="#ff8376"/>
<path d="M254 736.6l24-5.2 13.8-3" class="m"/>
<path d="M662.1 656.9l13.8 2.5-12 4.2-13.8-2.6z" fill="#aac694"/>
<path d="M650.1 661l13.8 2.6-12 4.2-13.8-2.7z" fill="#a9c18f"/>
<path d="M638.1 665.1l24-8.2 13.8 2.5" class="m"/>
<path d="M439.1 684.1l13.8-2.5-12 3-13.8 2.3z" fill="#e09e87"/>
<path d="M427.1 686.9l13.8-2.3-11.9 3-13.8 2z" fill="#e69f88"/>
<path d="M415.2 689.6l23.9-5.5 13.8-2.5" class="m"/>
<path d="M216.3 743.7l13.8-3.5-12 .6-13.8 4.1z" fill="#772824"/>
<path d="M204.3 744.9l13.8-4.1-12 .5-13.8 4.7z" fill="#792824"/>
<path d="M192.3 746l24-2.3 13.8-3.5" class="m"/>
<path d="M823.4 380.9l13.8 8.8-3 15.3-13.8-8.6z" fill="#6dc6cf"/>
<path d="M820.4 396.4l13.8 8.6-3 15.4-13.8-8.6z" fill="#6fc8cd"/>
<path d="M817.4 411.8l13.8 8.6-3 15.3-13.8-8.5z" fill="#71c9ca"/>
<path d="M814.4 427.2l13.8 8.5-3 15.3-13.8-8.3z" fill="#74cbc8"/>
<path d="M811.4 442.7l13.8 8.3-3 15.4-13.8-8.3z" fill="#76cdc5"/>
<path d="M808.4 458.1l13.8 8.3-3 15.3-13.8-8.1z" fill="#79cfc3"/>
<path d="M805.4 473.6l13.8 8.1-3 15.3-13.8-8z" fill="#7bd2c0"/>
<path d="M802.4 489l13.8 8-3 15.4-13.8-8z" fill="#7ed4be"/>
<path d="M799.4 504.4l24-123.5 13.8 8.8" class="m"/>
<path d="M600.3 667.8l13.9 1.6-12 1-13.8-1.7z" fill="#aaac83"/>
<path d="M588.4 668.7l13.8 1.7-12 1-13.8-1.8z" fill="#acaa81"/>
<path d="M576.4 669.6l23.9-1.8 13.9 1.6" class="m"/>
<path d="M377.4 700.6l13.8-3.1-12 4.8-13.8 2.6z" fill="#fa9b86"/>
<path d="M365.4 704.9l13.8-2.6-11.9 4.8-13.8 2.2z" fill="#ff9c86"/>
<path d="M353.5 709.3l23.9-8.7 13.8-3.1" class="m"/>
<path d="M154.6 755.2l13.8-7.9-12 .5-13.8 9.2z" fill="#802423"/>
<path d="M142.6 757l13.8-9.2-12 .4-13.8 10.5z" fill="#822423"/>
<path d="M130.6 758.7l24-3.5 13.8-7.9" class="m"/>
<path d="M761.6 578.6l13.8 4.9-7.9 14.9-13.9-5z" fill="#aaf3c7"/>
<path d="M753.6 593.4l13.9 5-8 14.8-13.9-5.1z" fill="#c0ffd6"/>
<path d="M745.6 608.1l13.9 5.1-8 14.9-13.8-5.2z" fill="#d6ffe5"/>
<path d="M737.7 622.9l23.9-44.3 13.8 4.9" class="m"/>
<path d="M538.6 670.1l13.8 .4-12 .9-13.8-.4z" fill="#b9a382"/>
<path d="M526.6 671l13.8 .4-11.9 .9-13.9-.5z" fill="#bfa583"/>
<path d="M514.6 671.8l24-1.7 13.8 .4" class="m"/>
<path d="M315.7 721l13.8-2.7-12 4.1-13.8 2.3z" fill="#ff917f"/>
<path d="M303.7 724.7l13.8-2.3-11.9 4.2-13.8 1.8z" fill="#ff907d"/>
<path d="M291.8 728.4l23.9-7.4 13.8-2.7" class="m"/>
<path d="M699.9 647.7l13.8 3.8-12 5.9-13.8-3.9z" fill="#c3f3b9"/>
<path d="M687.9 653.5l13.8 3.9-12 5.8-13.8-3.8z" fill="#b0daa0"/>
<path d="M675.9 659.4l24-11.7 13.8 3.8" class="m"/>
<path d="M476.9 676.6l13.8-1.1-12 2.7-13.8 .9z" fill="#d4a387"/>
<path d="M464.9 679.1l13.8-.9-12 2.6-13.8 .8z" fill="#daa588"/>
<path d="M452.9 681.6l24-5 13.8-1.1" class="m"/>
<path d="M254 736.6l13.8-2.4-12 1.8-13.8 2.4z" fill="#732c25"/>
<path d="M242 738.4l13.8-2.4-11.9 1.7-13.8 2.5z" fill="#752c25"/>
<path d="M230.1 740.2l23.9-3.6 13.8-2.4" class="m"/>
<path d="M861.2 121.3l13.8 19.5-2 21.9-13.8-19.1z" fill="#61c7ff"/>
<path d="M859.2 143.6l13.8 19.1-2 21.9-13.8-18.6z" fill="#62c7ff"/>
<path d="M857.2 166l13.8 18.6-2 21.9-13.8-18.1z" fill="#63c8ff"/>
<path d="M855.2 188.4l13.8 18.1-2 21.9-13.8-17.6z" fill="#64c8ff"/>
<path d="M853.2 210.8l13.8 17.6-2 22-13.8-17.3z" fill="#65c8f9"/>
<path d="M851.2 233.1l13.8 17.3-2 21.9-13.8-16.8z" fill="#65c9f3"/>
<path d="M849.2 255.5l13.8 16.8-2 21.9-13.8-16.3z" fill="#66c9ee"/>
<path d="M847.2 277.9l13.8 16.3-2 21.9-13.8-15.9z" fill="#67cae8"/>
<path d="M845.2 300.2l13.8 15.9-2 21.9-13.8-15.4z" fill="#68cae2"/>
<path d="M843.2 322.6l13.8 15.4-2 21.9-13.8-14.9z" fill="#69cadc"/>
<path d="M841.2 345l13.8 14.9-1.9 21.9-13.9-14.5z" fill="#6acbd6"/>
<path d="M839.2 367.3l13.9 14.5-2 21.9-13.9-14z" fill="#6bcbd1"/>
<path d="M837.2 389.7l24-268.4 13.8 19.5" class="m"/>
<path d="M638.1 665.1l13.8 2.7-11.9 2.3-13.9-2.9z" fill="#a9bc8a"/>
<path d="M626.1 667.2l13.9 2.9-12 2.3-13.8-3z" fill="#a9b787"/>
<path d="M614.2 669.4l23.9-4.3 13.8 2.7" class="m"/>
<path d="M415.2 689.6l13.8-2-12 4.2-13.8 1.7z" fill="#eda189"/>
<path d="M403.2 693.5l13.8-1.7-12 4.2-13.8 1.5z" fill="#f5a38a"/>
<path d="M391.2 697.5l24-7.9 13.8-2" class="m"/>
<path d="M192.3 746l13.8-4.7-23.9-.7-13.8 6.7z" fill="#7d2824"/>
<path d="M168.4 747.3l23.9-1.3 13.8-4.7" class="m"/>
<path d="M799.4 504.4l13.8 8-4.7 15.7-13.9-7.9z" fill="#82d7bd"/>
<path d="M794.6 520.2l13.9 7.9-4.8 15.7-13.9-7.7z" fill="#88ddbd"/>
<path d="M789.8 536.1l13.9 7.7-4.8 15.7-13.9-7.6z" fill="#8fe3be"/>
<path d="M785 551.9l13.9 7.6-4.8 15.7-13.9-7.5z" fill="#96e9bf"/>
<path d="M780.2 567.7l13.9 7.5-4.8 15.7-13.9-7.4z" fill="#9ef0c1"/>
<path d="M775.4 583.5l24-79.1 13.8 8" class="m"/>
<path d="M576.4 669.6l13.8 1.8-24 1-13.8-1.9z" fill="#b0a881"/>
<path d="M552.4 670.5l24-.9 13.8 1.8" class="m"/>
<path d="M353.5 709.3l13.8-2.2-12 4.9-13.8 1.8z" fill="#ff9c86"/>
<path d="M341.5 713.8l13.8-1.8-12 5-13.8 1.3z" fill="#ff9c84"/>
<path d="M329.5 718.3l24-9 13.8-2.2" class="m"/>
<path d="M130.6 758.7l13.8-10.5-11.9-2.4-13.8 14.7z" fill="#842423"/>
<path d="M118.7 760.5l13.8-14.7-12-2.5-13.8 18.9z" fill="#862423"/>
<path d="M106.7 762.2l23.9-3.5 13.8-10.5M120.5 743.3l-13.8 18.9" class="m"/>
<path d="M737.7 622.9l13.8 5.2-12 14.4-13.8-5.3z" fill="#ecfff2"/>
<path d="M725.7 637.2l13.8 5.3-12 14.4-13.8-5.4z" fill="#e7ffe5"/>
<path d="M713.7 651.5l24-28.6 13.8 5.2" class="m"/>
<path d="M514.6 671.8l13.9 .5-12 1.9-13.8-.5z" fill="#c6a785"/>
<path d="M502.7 673.7l13.8 .5-12 1.9-13.8-.6z" fill="#cca987"/>
<path d="M490.7 675.5l23.9-3.7 13.9 .5" class="m"/>
<path d="M291.8 728.4l13.8-1.8-12 3.1-13.8 1.6z" fill="#ff8e7b"/>
<path d="M279.8 731.3l13.8-1.6-12 3.1-13.8 1.4z" fill="#ff8c79"/>
<path d="M267.8 734.2l24-5.8 13.8-1.8" class="m"/>
<path d="M675.9 659.4l13.8 3.8-12 4.4-13.8-4z" fill="#aace95"/>
<path d="M663.9 663.6l13.8 4-11.9 4.3-13.9-4.1z" fill="#a9c98f"/>
<path d="M651.9 667.8l24-8.4 13.8 3.8" class="m"/>
<path d="M452.9 681.6l13.8-.8-11.9 3.2-13.9 .6z" fill="#e0a789"/>
<path d="M440.9 684.6l13.9-.6-12 3.1-13.8 .5z" fill="#e7a88b"/>
<path d="M429 687.6l23.9-6 13.8-.8" class="m"/>
<path d="M230.1 740.2l13.8-2.5-24 .1-13.8 3.5z" fill="#782c26"/>
<path d="M206.1 741.3l24-1.1 13.8-2.5" class="m"/>
<path d="M837.2 389.7l13.9 14-3 15-13.9-13.7z" fill="#6ccccd"/>
<path d="M834.2 405l13.9 13.7-3 15-13.9-13.3z" fill="#6fceca"/>
<path d="M831.2 420.4l13.9 13.3-3 15.1-13.9-13.1z" fill="#71d0c8"/>
<path d="M828.2 435.7l13.9 13.1-3 15-13.9-12.8z" fill="#73d2c5"/>
<path d="M825.2 451l13.9 12.8-3 15-13.9-12.4z" fill="#76d4c3"/>
<path d="M822.2 466.4l13.9 12.4-3 15-13.9-12.1z" fill="#78d7c1"/>
<path d="M819.2 481.7l13.9 12.1-3 15-13.9-11.8z" fill="#7bd9be"/>
<path d="M816.2 497l13.9 11.8-3 15.1-13.9-11.5z" fill="#7edbbc"/>
<path d="M813.2 512.4l24-122.7 13.9 14" class="m"/>
<path d="M614.2 669.4l13.8 3-12 1.1-13.8-3.1z" fill="#a9b384"/>
<path d="M602.2 670.4l13.8 3.1-12 1-13.8-3.1z" fill="#abb182"/>
<path d="M590.2 671.4l24-2 13.8 3" class="m"/>
<path d="M391.2 697.5l13.8-1.5-12 5.2-13.8 1.1z" fill="#fba58a"/>
<path d="M379.2 702.3l13.8-1.1-11.9 5.2-13.8 .7z" fill="#ffa68a"/>
<path d="M367.3 707.1l23.9-9.6 13.8-1.5" class="m"/>
<path d="M168.4 747.3l13.8-6.7-24-1.5-13.8 9.1z" fill="#812825"/>
<path d="M144.4 748.2l24-.9 13.8-6.7" class="m"/>
<path d="M775.4 583.5l13.9 7.4-8 14.8-13.8-7.3z" fill="#aeffca"/>
<path d="M767.5 598.4l13.8 7.3-8 14.8-13.8-7.3z" fill="#c7ffdc"/>
<path d="M759.5 613.2l13.8 7.3-8 14.8-13.8-7.2z" fill="#dfffed"/>
<path d="M751.5 628.1l23.9-44.6 13.9 7.4" class="m"/>
<path d="M552.4 670.5l13.8 1.9-11.9 1-13.9-2z" fill="#b7a982"/>
<path d="M540.4 671.4l13.9 2-12 .9-13.8-2z" fill="#beac84"/>
<path d="M528.5 672.3l23.9-1.8 13.8 1.9" class="m"/>
<path d="M329.5 718.3l13.8-1.3-12 4.4-13.8 1z" fill="#ff9b83"/>
<path d="M317.5 722.4l13.8-1-11.9 4.5-13.8 .7z" fill="#ff9980"/>
<path d="M305.6 726.6l23.9-8.3 13.8-1.3" class="m"/>
<path d="M713.7 651.5l13.8 5.4-12 5.9-13.8-5.4z" fill="#caffc0"/>
<path d="M701.7 657.4l13.8 5.4-11.9 5.8-13.9-5.4z" fill="#b2e4a2"/>
<path d="M689.7 663.2l24-11.7 13.8 5.4" class="m"/>
<path d="M490.7 675.5l13.8 .6-12 2.8-13.8-.7z" fill="#d3ab89"/>
<path d="M478.7 678.2l13.8 .7-12 2.7-13.8-.8z" fill="#d9ad8a"/>
<path d="M466.7 680.8l24-5.3 13.8 .6" class="m"/>
<path d="M267.8 734.2l13.8-1.4-12 1.7-13.8 1.5z" fill="#ff8976"/>
<path d="M255.8 736l13.8-1.5-11.9 1.7-13.8 1.5z" fill="#ff8573"/>
<path d="M243.9 737.7l23.9-3.5 13.8-1.4" class="m"/>
<path d="M875 140.8l6.9 14.3-2 21.5-6.9-13.9z" fill="#60cbff"/>
<path d="M873 162.7l6.9 13.9-2 21.5-6.9-13.5z" fill="#61ccff"/>
<path d="M871 184.6l6.9 13.5-1.9 21.5-7-13.1z" fill="#62ccff"/>
<path d="M869 206.5l7 13.1-2 21.5-7-12.7z" fill="#63cdfa"/>
<path d="M867 228.4l7 12.7-2 21.6-7-12.3z" fill="#64cdf5"/>
<path d="M865 250.4l7 12.3-2 21.5-7-11.9z" fill="#65cdef"/>
<path d="M863 272.3l7 11.9-2 21.5-7-11.5z" fill="#66ceea"/>
<path d="M861 294.2l7 11.5-2 21.5-7-11.1z" fill="#67cee4"/>
<path d="M859 316.1l7 11.1-2 21.5-7-10.7z" fill="#68cfdf"/>
<path d="M857 338l7 10.7-2 21.6-7-10.4z" fill="#69cfd9"/>
<path d="M855 359.9l7 10.4-2 21.5-6.9-10z" fill="#69d0d3"/>
<path d="M853.1 381.8l6.9 10-2 21.5-6.9-9.6z" fill="#6ad0ce"/>
<path d="M881.9 155.1l7 14.2-2 21.1-7-13.8z" fill="#60ceff"/>
<path d="M879.9 176.6l7 13.8-2 21.2-7-13.5z" fill="#61cfff"/>
<path d="M877.9 198.1l7 13.5-2 21.1-6.9-13.1z" fill="#62cffc"/>
<path d="M876 219.6l6.9 13.1-2 21.1-6.9-12.7z" fill="#63d0f7"/>
<path d="M874 241.1l6.9 12.7-2 21.2-6.9-12.3z" fill="#64d0f1"/>
<path d="M872 262.7l6.9 12.3-2 21.1-6.9-11.9z" fill="#65d1ec"/>
<path d="M870 284.2l6.9 11.9-2 21.1-6.9-11.5z" fill="#65d1e7"/>
<path d="M868 305.7l6.9 11.5-2 21.2-6.9-11.2z" fill="#66d2e1"/>
<path d="M866 327.2l6.9 11.2-2 21.1-6.9-10.8z" fill="#67d2dc"/>
<path d="M864 348.7l6.9 10.8-2 21.1-6.9-10.3z" fill="#68d3d6"/>
<path d="M862 370.3l6.9 10.3-2 21.2-6.9-10z" fill="#69d3d1"/>
<path d="M860 391.8l6.9 10-2 21.1-6.9-9.6z" fill="#6ad4cb"/>
<path d="M851.1 403.7l23.9-262.9 13.9 28.5" class="m"/>
<path d="M651.9 667.8l13.9 4.1-12 2.4-13.8-4.2z" fill="#a8c38b"/>
<path d="M640 670.1l13.8 4.2-12 2.4-13.8-4.3z" fill="#a8be87"/>
<path d="M628 672.4l23.9-4.6 13.9 4.1" class="m"/>
<path d="M429 687.6l13.8-.5-12 4.5-13.8 .2z" fill="#eeab8c"/>
<path d="M417 691.8l13.8-.2-12 4.5-13.8-.1z" fill="#f6ad8d"/>
<path d="M405 696l24-8.4 13.8-.5" class="m"/>
<path d="M206.1 741.3l13.8-3.5-12-1.4-13.8 4.5z" fill="#7b2c26"/>
<path d="M194.1 740.9l13.8-4.5-11.9-1.4-13.8 5.6z" fill="#7e2c26"/>
<path d="M182.2 740.6l23.9 .7 13.8-3.5" class="m"/>
<path d="M813.2 512.4l13.9 11.5-4.8 15.4-13.8-11.2z" fill="#82dfbb"/>
<path d="M808.5 528.1l13.8 11.2-4.8 15.4-13.8-10.9z" fill="#89e5bc"/>
<path d="M803.7 543.8l13.8 10.9-4.8 15.4-13.8-10.6z" fill="#90ebbe"/>
<path d="M798.9 559.5l13.8 10.6-4.8 15.4-13.8-10.3z" fill="#98f3c0"/>
<path d="M794.1 575.2l13.8 10.3-4.8 15.4-13.8-10z" fill="#a1fbc3"/>
<path d="M789.3 590.9l23.9-78.5 13.9 11.5" class="m"/>
<path d="M590.2 671.4l13.8 3.1-23.9 1.3-13.9-3.4z" fill="#afaf81"/>
<path d="M566.2 672.4l24-1 13.8 3.1" class="m"/>
<path d="M367.3 707.1l13.8-.7-12 5.3-13.8 .3z" fill="#ffa689"/>
<path d="M355.3 712l13.8-.3-12 5.2-13.8 .1z" fill="#ffa688"/>
<path d="M343.3 717l24-9.9 13.8-.7" class="m"/>
<path d="M144.4 748.2l13.8-9.1-12-6.2-13.7 12.9z" fill="#842826"/>
<path d="M132.5 745.8l13.7-12.9-11.9-6.3-13.8 16.7z" fill="#862827"/>
<path d="M120.5 743.3l23.9 4.9 13.8-9.1M134.3 726.6l-13.8 16.7" class="m"/>
<path d="M751.5 628.1l13.8 7.2-12 14.3-13.8-7.1z" fill="#f8fffe"/>
<path d="M739.5 642.5l13.8 7.1-12 14.3-13.8-7z" fill="#f2fff0"/>
<path d="M727.5 656.9l24-28.8 13.8 7.2" class="m"/>
<path d="M528.5 672.3l13.8 2-12 2-13.8-2.1z" fill="#c4ae86"/>
<path d="M516.5 674.2l13.8 2.1-12 2-13.8-2.2z" fill="#cbb188"/>
<path d="M504.5 676.1l24-3.8 13.8 2" class="m"/>
<path d="M305.6 726.6l13.8-.7-12 3.3-13.8 .5z" fill="#ff977e"/>
<path d="M293.6 729.7l13.8-.5-12 3.3-13.8 .3z" fill="#ff947b"/>
<path d="M281.6 732.8l24-6.2 13.8-.7" class="m"/>
<path d="M689.7 663.2l13.9 5.4-12 4.4-13.9-5.4z" fill="#a9d695"/>
<path d="M677.7 667.6l13.9 5.4-12 4.4-13.8-5.5z" fill="#a8d08f"/>
<path d="M665.8 671.9l23.9-8.7 13.9 5.4" class="m"/>
<path d="M466.7 680.8l13.8 .8-11.9 3.4-13.8-1z" fill="#e0af8b"/>
<path d="M454.8 684l13.8 1-12 3.3-13.8-1.2z" fill="#e7b18d"/>
<path d="M442.8 687.1l23.9-6.3 13.8 .8" class="m"/>
<path d="M243.9 737.7l13.8-1.5-24-.9-13.8 2.5z" fill="#783027"/>
<path d="M219.9 737.8l24-.1 13.8-1.5" class="m"/>
<path d="M851.1 403.7l13.8 19.2-3 14.5-13.8-18.7z" fill="#6cd3c9"/>
<path d="M848.1 418.7l13.8 18.7-3 14.5-13.8-18.2z" fill="#6ed5c6"/>
<path d="M845.1 433.7l13.8 18.2-3 14.5-13.8-17.6z" fill="#70d7c4"/>
<path d="M842.1 448.8l13.8 17.6-3 14.5-13.8-17.1z" fill="#73d9c2"/>
<path d="M839.1 463.8l13.8 17.1-3 14.5-13.8-16.6z" fill="#76dbc0"/>
<path d="M836.1 478.8l13.8 16.6-3 14.5-13.8-16.1z" fill="#78debe"/>
<path d="M833.1 493.8l13.8 16.1-3 14.5-13.8-15.6z" fill="#7be0bc"/>
<path d="M830.1 508.8l13.8 15.6-3 14.5-13.8-15z" fill="#7ee3ba"/>
<path d="M827.1 523.9l24-120.2 13.8 19.2" class="m"/>
<path d="M628 672.4l13.8 4.3-12 1.2-13.8-4.4z" fill="#a8ba84"/>
<path d="M616 673.5l13.8 4.4-12 1.1-13.8-4.5z" fill="#aab782"/>
<path d="M604 674.5l24-2.1 13.8 4.3" class="m"/>
<path d="M405 696l13.8 .1-12 5.5-13.8-.4z" fill="#fcaf8e"/>
<path d="M393 701.2l13.8 .4-11.9 5.5-13.8-.7z" fill="#ffb08e"/>
<path d="M381.1 706.4l23.9-10.4 13.8 .1" class="m"/>
<path d="M182.2 740.6l13.8-5.6-12-1.9-13.8 6.7z" fill="#802c27"/>
<path d="M170.2 739.8l13.8-6.7-12-1.8-13.8 7.8z" fill="#822c27"/>
<path d="M158.2 739.1l24 1.5 13.8-5.6" class="m"/>
<path d="M789.3 590.9l13.8 10-8 14.5-13.8-9.7z" fill="#b2ffcd"/>
<path d="M781.3 605.7l13.8 9.7-8 14.4-13.8-9.3z" fill="#ceffe2"/>
<path d="M773.3 620.5l13.8 9.3-8 14.5-13.8-9z" fill="#e9fff6"/>
<path d="M765.3 635.3l24-44.4 13.8 10" class="m"/>
<path d="M566.2 672.4l13.9 3.4-12 1-13.8-3.4z" fill="#b6b082"/>
<path d="M554.3 673.4l13.8 3.4-12 1-13.8-3.5z" fill="#bcb284"/>
<path d="M542.3 674.3l23.9-1.9 13.9 3.4" class="m"/>
<path d="M343.3 717l13.8-.1-12 4.7-13.8-.2z" fill="#ffa586"/>
<path d="M331.3 721.4l13.8 .2-11.9 4.7-13.8-.4z" fill="#ffa383"/>
<path d="M319.4 725.9l23.9-8.9 13.8-.1" class="m"/>
<path d="M727.5 656.9l13.8 7-11.9 5.9-13.9-7z" fill="#d0ffc6"/>
<path d="M715.5 662.8l13.9 7-12 5.8-13.8-7z" fill="#b3eda3"/>
<path d="M703.6 668.6l23.9-11.7 13.8 7" class="m"/>
<path d="M504.5 676.1l13.8 2.2-12 2.8-13.8-2.2z" fill="#d2b38a"/>
<path d="M492.5 678.9l13.8 2.2-11.9 2.8-13.9-2.3z" fill="#d9b58b"/>
<path d="M480.5 681.6l24-5.5 13.8 2.2" class="m"/>
<path d="M281.6 732.8l13.8-.3-12 1.6-13.8 .4z" fill="#ff9078"/>
<path d="M269.6 734.5l13.8-.4-12 1.6-13.7 .5z" fill="#ff8c74"/>
<path d="M257.7 736.2l23.9-3.4 13.8-.3" class="m"/>
<path d="M888.9 169.3l6.9 18.7-2 20.6-6.9-18.2z" fill="#60d1ff"/>
<path d="M886.9 190.4l6.9 18.2-2 20.6-6.9-17.6z" fill="#61d1fd"/>
<path d="M884.9 211.6l6.9 17.6-2 20.6-6.9-17.1z" fill="#61d2f8"/>
<path d="M882.9 232.7l6.9 17.1-2 20.6-6.9-16.6z" fill="#62d2f2"/>
<path d="M880.9 253.8l6.9 16.6-2 20.5-6.9-15.9z" fill="#63d3ed"/>
<path d="M878.9 275l6.9 15.9-2 20.6-6.9-15.4z" fill="#64d4e8"/>
<path d="M876.9 296.1l6.9 15.4-2 20.6-6.9-14.9z" fill="#65d4e3"/>
<path d="M874.9 317.2l6.9 14.9-2 20.6-6.9-14.3z" fill="#66d5de"/>
<path d="M872.9 338.4l6.9 14.3-2 20.6-6.9-13.8z" fill="#67d5d8"/>
<path d="M870.9 359.5l6.9 13.8-2 20.6-6.9-13.3z" fill="#68d6d3"/>
<path d="M868.9 380.6l6.9 13.3-2 20.6-6.9-12.7z" fill="#69d6ce"/>
<path d="M866.9 401.8l6.9 12.7-2 20.6-6.9-12.2z" fill="#6ad7c8"/>
<path d="M895.8 188l6.9 18.7-2 20-6.9-18.1z" fill="#5fd4fc"/>
<path d="M893.8 208.6l6.9 18.1-2 20.1-6.9-17.6z" fill="#60d4f7"/>
<path d="M891.8 229.2l6.9 17.6-2 20-6.9-17z" fill="#61d5f3"/>
<path d="M889.8 249.8l6.9 17-2 20.1-6.9-16.5z" fill="#62d5ee"/>
<path d="M887.8 270.4l6.9 16.5-2 20-6.9-16z" fill="#63d6e9"/>
<path d="M885.8 290.9l6.9 16-2 20.1-6.9-15.5z" fill="#64d6e4"/>
<path d="M883.8 311.5l6.9 15.5-2 20-6.9-14.9z" fill="#65d7df"/>
<path d="M881.8 332.1l6.9 14.9-2 20.1-6.9-14.4z" fill="#66d8da"/>
<path d="M879.8 352.7l6.9 14.4-2 20-6.9-13.8z" fill="#67d8d5"/>
<path d="M877.8 373.3l6.9 13.8-2 20.1-6.9-13.3z" fill="#68d9cf"/>
<path d="M875.8 393.9l6.9 13.3-2 20.1-6.9-12.8z" fill="#69d9ca"/>
<path d="M873.8 414.5l6.9 12.8-2 20-6.9-12.2z" fill="#6adac5"/>
<path d="M864.9 422.9l24-253.6 13.8 37.4" class="m"/>
<path d="M665.8 671.9l13.8 5.5-12 2.5-13.8-5.6z" fill="#a7ca8a"/>
<path d="M653.8 674.3l13.8 5.6-12 2.4-13.8-5.6z" fill="#a7c586"/>
<path d="M641.8 676.7l24-4.8 13.8 5.5" class="m"/>
<path d="M442.8 687.1l13.8 1.2-12 4.7-13.8-1.4z" fill="#eeb48e"/>
<path d="M430.8 691.6l13.8 1.4-12 4.6-13.8-1.5z" fill="#f6b790"/>
<path d="M418.8 696.1l24-9 13.8 1.2" class="m"/>
<path d="M219.9 737.8l13.8-2.5-12-2.3-13.8 3.4z" fill="#7b3028"/>
<path d="M207.9 736.4l13.8-3.4-11.9-2.2-13.8 4.2z" fill="#7e3028"/>
<path d="M196 735l23.9 2.8 13.8-2.5" class="m"/>
<path d="M827.1 523.9l13.8 15-4.8 14.9-13.8-14.5z" fill="#83e7ba"/>
<path d="M822.3 539.3l13.8 14.5-4.8 14.9-13.8-14z" fill="#8aeebb"/>
<path d="M817.5 554.7l13.8 14-4.8 14.8-13.8-13.4z" fill="#92f5bd"/>
<path d="M812.7 570.1l13.8 13.4-4.8 14.9-13.8-12.9z" fill="#9bfdc1"/>
<path d="M807.9 585.5l13.8 12.9-4.8 14.9-13.8-12.4z" fill="#a5ffc5"/>
<path d="M803.1 600.9l24-77 13.8 15" class="m"/>
<path d="M604 674.5l13.8 4.5-12 .7-13.8-4.5z" fill="#acb681"/>
<path d="M592 675.2l13.8 4.5-11.9 .7-13.8-4.6z" fill="#b0b681"/>
<path d="M580.1 675.8l23.9-1.3 13.8 4.5" class="m"/>
<path d="M381.1 706.4l13.8 .7-12 5.5-13.8-.9z" fill="#ffb08d"/>
<path d="M369.1 711.7l13.8 .9-12 5.5-13.8-1.2z" fill="#ffb08b"/>
<path d="M357.1 716.9l24-10.5 13.8 .7" class="m"/>
<path d="M158.2 739.1l13.8-7.8-12-9.6-13.8 11.2z" fill="#842c28"/>
<path d="M146.2 732.9l13.8-11.2-11.9-9.6-13.8 14.5z" fill="#862c2a"/>
<path d="M134.3 726.6l23.9 12.5 13.8-7.8M148.1 712.1l-13.8 14.5" class="m"/>
<path d="M765.3 635.3l13.8 9-11.9 14.1-13.9-8.8z" fill="#ffffff"/>
<path d="M753.3 649.6l13.9 8.8-12 14-13.9-8.5z" fill="#fafff7"/>
<path d="M741.3 663.9l24-28.6 13.8 9" class="m"/>
<path d="M542.3 674.3l13.8 3.5-12 2-13.8-3.5z" fill="#c3b586"/>
<path d="M530.3 676.3l13.8 3.5-12 2-13.8-3.5z" fill="#cab888"/>
<path d="M518.3 678.3l24-4 13.8 3.5" class="m"/>
<path d="M319.4 725.9l13.8 .4-12 3.4-13.8-.5z" fill="#ffa080"/>
<path d="M307.4 729.2l13.8 .5-12 3.5-13.8-.7z" fill="#ff9c7d"/>
<path d="M295.4 732.5l24-6.6 13.8 .4" class="m"/>
<path d="M703.6 668.6l13.8 7-12 4.3-13.8-6.9z" fill="#a8dd94"/>
<path d="M691.6 673l13.8 6.9-12 4.4-13.8-6.9z" fill="#a6d68d"/>
<path d="M679.6 677.4l24-8.8 13.8 7" class="m"/>
<path d="M480.5 681.6l13.9 2.3-12 3.5-13.8-2.4z" fill="#dfb78c"/>
<path d="M468.6 685l13.8 2.4-12 3.5-13.8-2.6z" fill="#e7ba8e"/>
<path d="M456.6 688.3l23.9-6.7 13.9 2.3" class="m"/>
<path d="M257.7 736.2l13.7-.5-11.9-.9-13.8 .9z" fill="#773428"/>
<path d="M245.7 735.7l13.8-.9-12-1-13.8 1.5z" fill="#793428"/>
<path d="M233.7 735.3l24 .9 13.7-.5" class="m"/>
<path d="M864.9 422.9l6.9 12.2-3.4 16.2-6.9-11.8z" fill="#6cd8c5"/>
<path d="M861.5 439.5l6.9 11.8-3.4 16.1-7-11.4z" fill="#6edbc2"/>
<path d="M858 456l7 11.4-3.5 16.2-6.9-11z" fill="#71ddc0"/>
<path d="M854.6 472.6l6.9 11-3.4 16.1-6.9-10.5z" fill="#74e0be"/>
<path d="M851.2 489.2l6.9 10.5-3.4 16.2-6.9-10.1z" fill="#77e2bc"/>
<path d="M847.8 505.8l6.9 10.1-3.4 16.1-7-9.7z" fill="#7be5ba"/>
<path d="M844.3 522.3l7 9.7-3.5 16.2-6.9-9.3z" fill="#7fe9b8"/>
<path d="M871.8 435.1l6.9 12.2-3.4 15.8-6.9-11.8z" fill="#6bdcc2"/>
<path d="M868.4 451.3l6.9 11.8-3.4 15.7-6.9-11.4z" fill="#6edebf"/>
<path d="M865 467.4l6.9 11.4-3.5 15.7-6.9-10.9z" fill="#71e1bd"/>
<path d="M861.5 483.6l6.9 10.9-3.4 15.8-6.9-10.6z" fill="#74e3bb"/>
<path d="M858.1 499.7l6.9 10.6-3.4 15.7-6.9-10.1z" fill="#78e6b9"/>
<path d="M854.7 515.9l6.9 10.1-3.4 15.8-6.9-9.8z" fill="#7be9b8"/>
<path d="M851.3 532l6.9 9.8-3.4 15.7-7-9.3z" fill="#7fedb6"/>
<path d="M840.9 538.9l24-116 13.8 24.4" class="m"/>
<path d="M641.8 676.7l13.8 5.6-12 1.2-13.8-5.6z" fill="#a7c183"/>
<path d="M629.8 677.9l13.8 5.6-12 1.2-13.8-5.7z" fill="#a8be81"/>
<path d="M617.8 679l24-2.3 13.8 5.6" class="m"/>
<path d="M418.8 696.1l13.8 1.5-12 5.8-13.8-1.8z" fill="#fdb991"/>
<path d="M406.8 701.6l13.8 1.8-11.9 5.7-13.8-2z" fill="#ffba91"/>
<path d="M394.9 707.1l23.9-11 13.8 1.5" class="m"/>
<path d="M196 735l13.8-4.2-12-3-13.8 5.3z" fill="#803029"/>
<path d="M184 733.1l13.8-5.3-12-3-13.8 6.5z" fill="#823029"/>
<path d="M172 731.3l24 3.7 13.8-4.2" class="m"/>
<path d="M803.1 600.9l13.8 12.4-7.9 14-13.9-11.9z" fill="#b8ffd1"/>
<path d="M795.1 615.4l13.9 11.9-8 14-13.9-11.5z" fill="#d5ffe8"/>
<path d="M787.1 629.8l13.9 11.5-8 14-13.9-11z" fill="#f2fffe"/>
<path d="M779.1 644.3l24-43.4 13.8 12.4" class="m"/>
<path d="M580.1 675.8l13.8 4.6-12 1-13.8-4.6z" fill="#b5b782"/>
<path d="M568.1 676.8l13.8 4.6-12 1.1-13.8-4.7z" fill="#bbb984"/>
<path d="M556.1 677.8l24-2 13.8 4.6" class="m"/>
<path d="M357.1 716.9l13.8 1.2-12 4.9-13.8-1.4z" fill="#ffae88"/>
<path d="M345.1 721.6l13.8 1.4-11.9 4.9-13.8-1.6z" fill="#ffac85"/>
<path d="M333.2 726.3l23.9-9.4 13.8 1.2" class="m"/>
<path d="M741.3 663.9l13.9 8.5-12 6-13.8-8.6z" fill="#d4ffca"/>
<path d="M729.4 669.8l13.8 8.6-12 5.9-13.8-8.7z" fill="#b2f5a3"/>
<path d="M717.4 675.6l23.9-11.7 13.9 8.5" class="m"/>
<path d="M518.3 678.3l13.8 3.5-12 2.9-13.8-3.6z" fill="#d1ba8a"/>
<path d="M506.3 681.1l13.8 3.6-11.9 2.9-13.8-3.7z" fill="#d8bc8b"/>
<path d="M494.4 683.9l23.9-5.6 13.8 3.5" class="m"/>
<path d="M295.4 732.5l13.8 .7-12 1.5-13.8-.6z" fill="#ff9879"/>
<path d="M283.4 734.1l13.8 .6-12 1.5-13.8-.5z" fill="#ff9274"/>
<path d="M271.4 735.7l24-3.2 13.8 .7" class="m"/>
<path d="M902.7 206.7l4.6 15.4-2 19.6-4.6-15z" fill="#5fd6f7"/>
<path d="M900.7 226.7l4.6 15-2 19.6-4.6-14.5z" fill="#60d6f3"/>
<path d="M898.7 246.8l4.6 14.5-2 19.6-4.6-14.1z" fill="#61d7ee"/>
<path d="M896.7 266.8l4.6 14.1-2 19.6-4.6-13.6z" fill="#62d8e9"/>
<path d="M894.7 286.9l4.6 13.6-2 19.6-4.6-13.2z" fill="#63d8e4"/>
<path d="M892.7 306.9l4.6 13.2-2 19.5-4.6-12.6z" fill="#64d9e0"/>
<path d="M890.7 327l4.6 12.6-2 19.6-4.6-12.2z" fill="#65d9db"/>
<path d="M888.7 347l4.6 12.2-2 19.6-4.6-11.7z" fill="#66dad6"/>
<path d="M886.7 367.1l4.6 11.7-2 19.6-4.6-11.3z" fill="#67dbd1"/>
<path d="M884.7 387.1l4.6 11.3-2 19.6-4.6-10.8z" fill="#68dbcc"/>
<path d="M882.7 407.2l4.6 10.8-2 19.6-4.6-10.3z" fill="#69dcc7"/>
<path d="M880.7 427.3l4.6 10.3-2 19.6-4.6-9.9z" fill="#6addc2"/>
<path d="M907.3 222.1l4.6 15.4-2 19.2-4.6-15z" fill="#5ed7f3"/>
<path d="M905.3 241.7l4.6 15-2 19.1-4.6-14.5z" fill="#5fd8ee"/>
<path d="M903.3 261.3l4.6 14.5-2 19.1-4.6-14z" fill="#60d9ea"/>
<path d="M901.3 280.9l4.6 14-2 19.1-4.6-13.5z" fill="#61d9e5"/>
<path d="M899.3 300.5l4.6 13.5-2 19.2-4.6-13.1z" fill="#62dae1"/>
<path d="M897.3 320.1l4.6 13.1-2 19.1-4.6-12.7z" fill="#63dbdc"/>
<path d="M895.3 339.6l4.6 12.7-2 19.1-4.6-12.2z" fill="#64dbd7"/>
<path d="M893.3 359.2l4.6 12.2-2 19.2-4.6-11.8z" fill="#65dcd3"/>
<path d="M891.3 378.8l4.6 11.8-2 19.1-4.6-11.3z" fill="#66ddce"/>
<path d="M889.3 398.4l4.6 11.3-2 19.1-4.6-10.8z" fill="#67ddc9"/>
<path d="M887.3 418l4.6 10.8-2 19.1-4.6-10.3z" fill="#68dec4"/>
<path d="M885.3 437.6l4.6 10.3-2 19.2-4.6-9.9z" fill="#69dfc0"/>
<path d="M911.9 237.5l4.6 15.5-2 18.6-4.6-14.9z" fill="#5ed9ee"/>
<path d="M909.9 256.7l4.6 14.9-2 18.7-4.6-14.5z" fill="#5fdaea"/>
<path d="M907.9 275.8l4.6 14.5-2 18.7-4.6-14.1z" fill="#60dae5"/>
<path d="M905.9 294.9l4.6 14.1-2 18.6-4.6-13.6z" fill="#61dbe1"/>
<path d="M903.9 314l4.6 13.6-2 18.7-4.6-13.1z" fill="#62dcdd"/>
<path d="M901.9 333.2l4.6 13.1-2 18.6-4.6-12.6z" fill="#63ddd8"/>
<path d="M899.9 352.3l4.6 12.6-1.9 18.7-4.7-12.2z" fill="#64ddd4"/>
<path d="M897.9 371.4l4.7 12.2-2 18.7-4.7-11.7z" fill="#65decf"/>
<path d="M895.9 390.6l4.7 11.7-2 18.6-4.7-11.2z" fill="#66dfcb"/>
<path d="M893.9 409.7l4.7 11.2-2 18.7-4.7-10.8z" fill="#67dfc6"/>
<path d="M891.9 428.8l4.7 10.8-2 18.7-4.7-10.4z" fill="#68e0c2"/>
<path d="M889.9 447.9l4.7 10.4-2 18.6-4.7-9.8z" fill="#69e1bd"/>
<path d="M878.7 447.3l24-240.6 13.8 46.3" class="m"/>
<path d="M679.6 677.4l13.8 6.9-12 2.4-13.8-6.8z" fill="#a5d088"/>
<path d="M667.6 679.9l13.8 6.8-12 2.4-13.8-6.8z" fill="#a5cb84"/>
<path d="M655.6 682.3l24-4.9 13.8 6.9" class="m"/>
<path d="M456.6 688.3l13.8 2.6-12 4.8-13.8-2.7z" fill="#eebd90"/>
<path d="M444.6 693l13.8 2.7-12 4.8-13.8-2.9z" fill="#f7c092"/>
<path d="M432.6 697.6l24-9.3 13.8 2.6" class="m"/>
<path d="M233.7 735.3l13.8-1.5-12-3-13.8 2.2z" fill="#7b3429"/>
<path d="M221.7 733l13.8-2.2-12-3.1-13.7 3.1z" fill="#7e342a"/>
<path d="M209.8 730.8l23.9 4.5 13.8-1.5" class="m"/>
<path d="M840.9 538.9l13.9 18.6-4.8 14.1-13.9-17.8z" fill="#84f0b7"/>
<path d="M836.1 553.8l13.9 17.8-4.8 14.2-13.9-17.1z" fill="#8cf7ba"/>
<path d="M831.3 568.7l13.9 17.1-4.8 14.1-13.9-16.4z" fill="#95ffbd"/>
<path d="M826.5 583.5l13.9 16.4-4.8 14.2-13.9-15.7z" fill="#9fffc2"/>
<path d="M821.7 598.4l13.9 15.7-4.8 14.1-13.9-14.9z" fill="#aaffc7"/>
<path d="M816.9 613.3l24-74.4 13.9 18.6" class="m"/>
<path d="M617.8 679l13.8 5.7-11.9 .8-13.9-5.8z" fill="#abbc80"/>
<path d="M605.8 679.7l13.9 5.8-12 .7-13.8-5.8z" fill="#aebc80"/>
<path d="M593.9 680.4l23.9-1.4 13.8 5.7" class="m"/>
<path d="M394.9 707.1l13.8 2-12 5.7-13.8-2.2z" fill="#ffbb90"/>
<path d="M382.9 712.6l13.8 2.2-12 5.7-13.8-2.4z" fill="#ffba8d"/>
<path d="M370.9 718.1l24-11 13.8 2" class="m"/>
<path d="M172 731.3l13.8-6.5-12-12.5-13.8 9.4z" fill="#84302b"/>
<path d="M160 721.7l13.8-9.4-11.9-12.5-13.8 12.3z" fill="#86302d"/>
<path d="M148.1 712.1l23.9 19.2 13.8-6.5M161.9 699.8l-13.8 12.3" class="m"/>
<path d="M779.1 644.3l13.9 11-12 13.6-13.8-10.5z" fill="#ffffff"/>
<path d="M767.2 658.4l13.8 10.5-12 13.7-13.8-10.2z" fill="#fefffa"/>
<path d="M755.2 672.4l23.9-28.1 13.9 11" class="m"/>
<path d="M556.1 677.8l13.8 4.7-12 2-13.8-4.7z" fill="#c1bb86"/>
<path d="M544.1 679.8l13.8 4.7-12 2.1-13.8-4.8z" fill="#c9be88"/>
<path d="M532.1 681.8l24-4 13.8 4.7" class="m"/>
<path d="M333.2 726.3l13.8 1.6-12 3.5-13.8-1.7z" fill="#ffa882"/>
<path d="M321.2 729.7l13.8 1.7-12 3.4-13.8-1.6z" fill="#ffa47e"/>
<path d="M309.2 733.2l24-6.9 13.8 1.6" class="m"/>
<path d="M717.4 675.6l13.8 8.7-12 4.3-13.8-8.7z" fill="#a6e392"/>
<path d="M705.4 679.9l13.8 8.7-12 4.3-13.8-8.6z" fill="#a4db8b"/>
<path d="M693.4 684.3l24-8.7 13.8 8.7" class="m"/>
<path d="M494.4 683.9l13.8 3.7-12 3.6-13.8-3.8z" fill="#dfbf8d"/>
<path d="M482.4 687.4l13.8 3.8-12 3.5-13.8-3.8z" fill="#e6c28f"/>
<path d="M470.4 690.9l24-7 13.8 3.7" class="m"/>
<path d="M271.4 735.7l13.8 .5-11.9-1.4-13.8 0z" fill="#773929"/>
<path d="M259.5 734.8l13.8 0-12-1.4-13.8 .4z" fill="#793929"/>
<path d="M247.5 733.8l23.9 1.9 13.8 .5" class="m"/>
<path d="M878.7 447.3l6.9 14.8-3.4 15.2-6.9-14.2z" fill="#6bdfbe"/>
<path d="M875.3 463.1l6.9 14.2-3.4 15.2-6.9-13.7z" fill="#6ee1bc"/>
<path d="M871.9 478.8l6.9 13.7-3.4 15.2-7-13.2z" fill="#71e4ba"/>
<path d="M868.4 494.5l7 13.2-3.5 15.2-6.9-12.6z" fill="#74e7b9"/>
<path d="M865 510.3l6.9 12.6-3.4 15.3-6.9-12.2z" fill="#78eab7"/>
<path d="M861.6 526l6.9 12.2-3.4 15.2-6.9-11.6z" fill="#7cedb6"/>
<path d="M858.2 541.8l6.9 11.6-3.4 15.2-6.9-11.1z" fill="#80f1b4"/>
<path d="M885.6 462.1l7 14.8-3.5 14.7-6.9-14.3z" fill="#6be2bb"/>
<path d="M882.2 477.3l6.9 14.3-3.4 14.7-6.9-13.8z" fill="#6ee5b9"/>
<path d="M878.8 492.5l6.9 13.8-3.4 14.6-6.9-13.2z" fill="#71e7b7"/>
<path d="M875.4 507.7l6.9 13.2-3.4 14.7-7-12.7z" fill="#75eab6"/>
<path d="M871.9 522.9l7 12.7-3.5 14.7-6.9-12.1z" fill="#78eeb4"/>
<path d="M868.5 538.2l6.9 12.1-3.4 14.7-6.9-11.6z" fill="#7cf1b3"/>
<path d="M865.1 553.4l6.9 11.6-3.4 14.6-6.9-11z" fill="#80f5b3"/>
<path d="M854.8 557.5l23.9-110.2 13.9 29.6" class="m"/>
<path d="M655.6 682.3l13.8 6.8-11.9 1.2-13.9-6.8z" fill="#a5c681"/>
<path d="M643.6 683.5l13.9 6.8-12 1.1-13.9-6.7z" fill="#a6c37f"/>
<path d="M631.6 684.7l24-2.4 13.8 6.8" class="m"/>
<path d="M432.6 697.6l13.8 2.9-11.9 5.9-13.9-3z" fill="#fec393"/>
<path d="M420.6 703.4l13.9 3-12 5.9-13.8-3.2z" fill="#ffc493"/>
<path d="M408.7 709.1l23.9-11.5 13.8 2.9" class="m"/>
<path d="M209.8 730.8l13.7-3.1-11.9-4-13.8 4.1z" fill="#80342a"/>
<path d="M197.8 727.8l13.8-4.1-12-4.1-13.8 5.2z" fill="#82342b"/>
<path d="M185.8 724.8l24 6 13.7-3.1" class="m"/>
<path d="M816.9 613.3l13.9 14.9-8 13.3-13.8-14.2z" fill="#bfffd6"/>
<path d="M809 627.3l13.8 14.2-8 13.4-13.8-13.6z" fill="#deffee"/>
<path d="M801 641.3l13.8 13.6-8 13.3-13.8-12.9z" fill="#faffff"/>
<path d="M793 655.3l23.9-42 13.9 14.9" class="m"/>
<path d="M593.9 680.4l13.8 5.8-12 1-13.8-5.8z" fill="#b3bd81"/>
<path d="M581.9 681.4l13.8 5.8-12 1.1-13.8-5.8z" fill="#b9bf83"/>
<path d="M569.9 682.5l24-2.1 13.8 5.8" class="m"/>
<path d="M370.9 718.1l13.8 2.4-12 5-13.8-2.5z" fill="#ffb78a"/>
<path d="M358.9 723l13.8 2.5-11.9 5-13.8-2.6z" fill="#ffb487"/>
<path d="M347 727.9l23.9-9.8 13.8 2.4" class="m"/>
<path d="M755.2 672.4l13.8 10.2-12 6-13.8-10.2z" fill="#d4ffc9"/>
<path d="M743.2 678.4l13.8 10.2-12 6-13.8-10.3z" fill="#b1fba1"/>
<path d="M731.2 684.3l24-11.9 13.8 10.2" class="m"/>
<path d="M532.1 681.8l13.8 4.8-11.9 2.9-13.9-4.8z" fill="#d0c18a"/>
<path d="M520.1 684.7l13.9 4.8-12 3-13.8-4.9z" fill="#d6c48b"/>
<path d="M508.2 687.6l23.9-5.8 13.8 4.8" class="m"/>
<path d="M309.2 733.2l13.8 1.6-12 1.4-13.8-1.5z" fill="#ff9f79"/>
<path d="M297.2 734.7l13.8 1.5-12 1.4-13.8-1.4z" fill="#ff9874"/>
<path d="M285.2 736.2l24-3 13.8 1.6" class="m"/>
<path d="M916.5 253l4.7 18.4-2 18.1-4.7-17.9z" fill="#5edae9"/>
<path d="M914.5 271.6l4.7 17.9-2 18.1-4.7-17.3z" fill="#5fdbe5"/>
<path d="M912.5 290.3l4.7 17.3-2 18.1-4.7-16.7z" fill="#60dce1"/>
<path d="M910.5 309l4.7 16.7-2 18.1-4.7-16.2z" fill="#61dddd"/>
<path d="M908.5 327.6l4.7 16.2-2 18.1-4.7-15.6z" fill="#62ddd8"/>
<path d="M906.5 346.3l4.7 15.6-2 18.1-4.7-15.1z" fill="#63ded4"/>
<path d="M904.5 364.9l4.7 15.1-2 18.1-4.6-14.5z" fill="#64dfd0"/>
<path d="M902.6 383.6l4.6 14.5-2 18.1-4.6-13.9z" fill="#65e0cc"/>
<path d="M900.6 402.3l4.6 13.9-2 18.1-4.6-13.4z" fill="#66e1c7"/>
<path d="M898.6 420.9l4.6 13.4-2 18.1-4.6-12.8z" fill="#67e1c3"/>
<path d="M896.6 439.6l4.6 12.8-2 18.1-4.6-12.2z" fill="#68e2bf"/>
<path d="M894.6 458.3l4.6 12.2-2 18-4.6-11.6z" fill="#69e3ba"/>
<path d="M921.2 271.4l4.6 18.4-2 17.5-4.6-17.8z" fill="#5ddce4"/>
<path d="M919.2 289.5l4.6 17.8-2 17.5-4.6-17.2z" fill="#5edce0"/>
<path d="M917.2 307.6l4.6 17.2-2 17.6-4.6-16.7z" fill="#5fdddc"/>
<path d="M915.2 325.7l4.6 16.7-2 17.5-4.6-16.1z" fill="#60ded8"/>
<path d="M913.2 343.8l4.6 16.1-2 17.5-4.6-15.5z" fill="#61dfd4"/>
<path d="M911.2 361.9l4.6 15.5-2 17.6-4.6-15z" fill="#62e0d0"/>
<path d="M909.2 380l4.6 15-2 17.5-4.6-14.4z" fill="#63e1cc"/>
<path d="M907.2 398.1l4.6 14.4-2 17.5-4.6-13.8z" fill="#65e2c8"/>
<path d="M905.2 416.2l4.6 13.8-2 17.6-4.6-13.3z" fill="#66e2c4"/>
<path d="M903.2 434.3l4.6 13.3-2 17.5-4.6-12.7z" fill="#67e3bf"/>
<path d="M901.2 452.4l4.6 12.7-2 17.5-4.6-12.1z" fill="#68e4bb"/>
<path d="M899.2 470.5l4.6 12.1-2 17.6-4.6-11.7z" fill="#69e5b7"/>
<path d="M925.8 289.8l4.6 18.4-2 16.9-4.6-17.8z" fill="#5dddde"/>
<path d="M923.8 307.3l4.6 17.8-2 17-4.6-17.3z" fill="#5ededa"/>
<path d="M921.8 324.8l4.6 17.3-2 17-4.6-16.7z" fill="#5fdfd7"/>
<path d="M919.8 342.4l4.6 16.7-2 16.9-4.6-16.1z" fill="#60e0d3"/>
<path d="M917.8 359.9l4.6 16.1-2 17-4.6-15.6z" fill="#61e0cf"/>
<path d="M915.8 377.4l4.6 15.6-2 17-4.6-15z" fill="#62e1cb"/>
<path d="M913.8 395l4.6 15-2 16.9-4.6-14.4z" fill="#63e2c7"/>
<path d="M911.8 412.5l4.6 14.4-2 17-4.6-13.9z" fill="#64e3c4"/>
<path d="M909.8 430l4.6 13.9-2 17-4.6-13.3z" fill="#65e4c0"/>
<path d="M907.8 447.6l4.6 13.3-2 16.9-4.6-12.7z" fill="#67e5bc"/>
<path d="M905.8 465.1l4.6 12.7-2 17-4.6-12.2z" fill="#68e6b8"/>
<path d="M903.8 482.6l4.6 12.2-2 17-4.6-11.6z" fill="#69e7b4"/>
<path d="M892.6 476.9l23.9-223.9 13.9 55.2" class="m"/>
<path d="M693.4 684.3l13.8 8.6-12 2.4-13.8-8.6z" fill="#a3d586"/>
<path d="M681.4 686.7l13.8 8.6-11.9 2.3-13.9-8.5z" fill="#a2cf82"/>
<path d="M669.4 689.1l24-4.8 13.8 8.6" class="m"/>
<path d="M470.4 690.9l13.8 3.8-12 5-13.8-4z" fill="#eec591"/>
<path d="M458.4 695.7l13.8 4-12 4.9-13.8-4.1z" fill="#f7c993"/>
<path d="M446.4 700.5l24-9.6 13.8 3.8" class="m"/>
<path d="M247.5 733.8l13.8-.4-12-3.7-13.8 1.1z" fill="#7b392a"/>
<path d="M235.5 730.8l13.8-1.1-12-3.8-13.8 1.8z" fill="#7e392b"/>
<path d="M223.5 727.7l24 6.1 13.8-.4" class="m"/>
<path d="M854.8 557.5l6.9 11.1-4.8 13.6-6.9-10.6z" fill="#86f6b5"/>
<path d="M850 571.6l6.9 10.6-4.8 13.7-6.9-10.1z" fill="#8efeb9"/>
<path d="M845.2 585.8l6.9 10.1-4.8 13.7-6.9-9.7z" fill="#98ffbd"/>
<path d="M840.4 599.9l6.9 9.7-4.8 13.6-6.9-9.1z" fill="#a3ffc3"/>
<path d="M835.6 614.1l6.9 9.1-4.8 13.7-6.9-8.7z" fill="#afffc9"/>
<path d="M861.7 568.6l6.9 11-4.8 13.2-6.9-10.6z" fill="#87fbb4"/>
<path d="M856.9 582.2l6.9 10.6-4.8 13.2-6.9-10.1z" fill="#90ffb8"/>
<path d="M852.1 595.9l6.9 10.1-4.8 13.2-6.9-9.6z" fill="#9affbd"/>
<path d="M847.3 609.6l6.9 9.6-4.8 13.2-6.9-9.2z" fill="#a5ffc3"/>
<path d="M842.5 623.2l6.9 9.2-4.8 13.2-6.9-8.7z" fill="#b2ffcb"/>
<path d="M830.8 628.2l24-70.7 13.8 22.1" class="m"/>
<path d="M631.6 684.7l13.9 6.7-12 .7-13.8-6.6z" fill="#a9c27e"/>
<path d="M619.7 685.5l13.8 6.6-12 .7-13.8-6.6z" fill="#acc17e"/>
<path d="M607.7 686.2l23.9-1.5 13.9 6.7" class="m"/>
<path d="M408.7 709.1l13.8 3.2-12 5.8-13.8-3.3z" fill="#ffc592"/>
<path d="M396.7 714.8l13.8 3.3-12 5.9-13.8-3.5z" fill="#ffc390"/>
<path d="M384.7 720.5l24-11.4 13.8 3.2" class="m"/>
<path d="M185.8 724.8l13.8-5.2-12-15-13.8 7.7z" fill="#84342d"/>
<path d="M173.8 712.3l13.8-7.7-12-15-13.7 10.2z" fill="#86342f"/>
<path d="M161.9 699.8l23.9 25 13.8-5.2M175.6 689.6l-13.7 10.2" class="m"/>
<path d="M793 655.3l13.8 12.9-12 13.1-13.8-12.4z" fill="#ffffff"/>
<path d="M781 668.9l13.8 12.4-12 13-13.8-11.7z" fill="#fbfff5"/>
<path d="M769 682.6l24-27.3 13.8 12.9" class="m"/>
<path d="M569.9 682.5l13.8 5.8-12 2-13.8-5.8z" fill="#c0c285"/>
<path d="M557.9 684.5l13.8 5.8-11.9 2.1-13.9-5.8z" fill="#c7c587"/>
<path d="M545.9 686.6l24-4.1 13.8 5.8" class="m"/>
<path d="M347 727.9l13.8 2.6-12 3.5-13.8-2.6z" fill="#ffb183"/>
<path d="M335 731.4l13.8 2.6-12 3.4-13.8-2.6z" fill="#ffac7f"/>
<path d="M323 734.8l24-6.9 13.8 2.6" class="m"/>
<path d="M731.2 684.3l13.8 10.3-12 4.2-13.8-10.2z" fill="#a4e88f"/>
<path d="M719.2 688.6l13.8 10.2-11.9 4.2-13.9-10.1z" fill="#a1e088"/>
<path d="M707.2 692.9l24-8.6 13.8 10.3" class="m"/>
<path d="M508.2 687.6l13.8 4.9-12 3.6-13.8-4.9z" fill="#dec68d"/>
<path d="M496.2 691.2l13.8 4.9-12 3.7-13.8-5.1z" fill="#e5ca8f"/>
<path d="M484.2 694.7l24-7.1 13.8 4.9" class="m"/>
<path d="M285.2 736.2l13.8 1.4-11.9-1.7-13.8-1.1z" fill="#773d2a"/>
<path d="M273.3 734.8l13.8 1.1-12-1.8-13.8-.7z" fill="#793d2a"/>
<path d="M261.3 733.4l23.9 2.8 13.8 1.4" class="m"/>
<path d="M892.6 476.9l6.9 17.5-3.4 14-7-16.8z" fill="#6be5b6"/>
<path d="M889.1 491.6l7 16.8-3.5 14-6.9-16.1z" fill="#6ee8b5"/>
<path d="M885.7 506.3l6.9 16.1-3.4 14-6.9-15.5z" fill="#71ebb4"/>
<path d="M882.3 520.9l6.9 15.5-3.4 14-6.9-14.8z" fill="#75eeb2"/>
<path d="M878.9 535.6l6.9 14.8-3.4 14-7-14.1z" fill="#79f2b2"/>
<path d="M875.4 550.3l7 14.1-3.5 14-6.9-13.4z" fill="#7df5b1"/>
<path d="M872 565l6.9 13.4-3.4 14.1-6.9-12.9z" fill="#81f9b1"/>
<path d="M899.5 494.4l6.9 17.4-3.4 13.3-6.9-16.7z" fill="#6be8b2"/>
<path d="M896.1 508.4l6.9 16.7-3.5 13.4-6.9-16.1z" fill="#6eebb1"/>
<path d="M892.6 522.4l6.9 16.1-3.4 13.4-6.9-15.5z" fill="#71eeb0"/>
<path d="M889.2 536.4l6.9 15.5-3.4 13.3-6.9-14.8z" fill="#75f2af"/>
<path d="M885.8 550.4l6.9 14.8-3.4 13.4-6.9-14.2z" fill="#79f5af"/>
<path d="M882.4 564.4l6.9 14.2-3.5 13.3-6.9-13.5z" fill="#7ef9ae"/>
<path d="M878.9 578.4l6.9 13.5-3.4 13.4-6.9-12.8z" fill="#82feae"/>
<path d="M868.6 579.6l24-102.7 13.8 34.9" class="m"/>
<path d="M669.4 689.1l13.9 8.5-12 1.2-13.8-8.5z" fill="#a2cb7f"/>
<path d="M657.5 690.3l13.8 8.5-12 1.1-13.8-8.5z" fill="#a3c87d"/>
<path d="M645.5 691.4l23.9-2.3 13.9 8.5" class="m"/>
<path d="M446.4 700.5l13.8 4.1-11.9 6-13.8-4.2z" fill="#ffcc95"/>
<path d="M434.5 706.4l13.8 4.2-12 6-13.8-4.3z" fill="#ffce95"/>
<path d="M422.5 712.3l23.9-11.8 13.8 4.1" class="m"/>
<path d="M223.5 727.7l13.8-1.8-11.9-5-13.8 2.8z" fill="#80392c"/>
<path d="M211.6 723.7l13.8-2.8-12-5-13.8 3.7z" fill="#82392d"/>
<path d="M199.6 719.6l23.9 8.1 13.8-1.8" class="m"/>
<path d="M830.8 628.2l13.8 17.4-8 12.5-13.8-16.6z" fill="#c6ffda"/>
<path d="M822.8 641.5l13.8 16.6-8 12.5-13.8-15.7z" fill="#e5fff3"/>
<path d="M814.8 654.9l13.8 15.7-8 12.5-13.8-14.9z" fill="#feffff"/>
<path d="M806.8 668.2l24-40 13.8 17.4" class="m"/>
<path d="M607.7 686.2l13.8 6.6-12 1-13.8-6.6z" fill="#b1c280"/>
<path d="M595.7 687.2l13.8 6.6-12 1.1-13.8-6.6z" fill="#b7c581"/>
<path d="M583.7 688.3l24-2.1 13.8 6.6" class="m"/>
<path d="M384.7 720.5l13.8 3.5-12 5-13.8-3.5z" fill="#ffc18c"/>
<path d="M372.7 725.5l13.8 3.5-12 5.1-13.7-3.6z" fill="#ffbd88"/>
<path d="M360.8 730.5l23.9-10 13.8 3.5" class="m"/>
<path d="M769 682.6l13.8 11.7-12 6-13.8-11.7z" fill="#d1ffc4"/>
<path d="M757 688.6l13.8 11.7-12 5.9-13.8-11.6z" fill="#aeff9d"/>
<path d="M745 694.6l24-12 13.8 11.7" class="m"/>
<path d="M545.9 686.6l13.9 5.8-12 3-13.8-5.9z" fill="#cec889"/>
<path d="M534 689.5l13.8 5.9-12 2.9-13.8-5.8z" fill="#d5cb8b"/>
<path d="M522 692.5l23.9-5.9 13.9 5.8" class="m"/>
<path d="M323 734.8l13.8 2.6-12 1.3-13.8-2.5z" fill="#ffa67a"/>
<path d="M311 736.2l13.8 2.5-12 1.3-13.8-2.4z" fill="#fe9e74"/>
<path d="M299 737.6l24-2.8 13.8 2.6" class="m"/>
<path d="M930.4 308.2l4.6 21.4-2 16.2-4.6-20.7z" fill="#5cded8"/>
<path d="M928.4 325.1l4.6 20.7-2 16.3-4.6-20z" fill="#5ddfd4"/>
<path d="M926.4 342.1l4.6 20-2 16.3-4.6-19.3z" fill="#5ee0d1"/>
<path d="M924.4 359.1l4.6 19.3-2 16.3-4.6-18.7z" fill="#5fe1ce"/>
<path d="M922.4 376l4.6 18.7-2 16.3-4.6-18z" fill="#61e2ca"/>
<path d="M920.4 393l4.6 18-2 16.3-4.6-17.3z" fill="#62e3c6"/>
<path d="M918.4 410l4.6 17.3-2 16.3-4.6-16.7z" fill="#63e4c3"/>
<path d="M916.4 426.9l4.6 16.7-2 16.3-4.6-16z" fill="#64e5bf"/>
<path d="M914.4 443.9l4.6 16-2 16.3-4.6-15.3z" fill="#65e6bc"/>
<path d="M912.4 460.9l4.6 15.3-2 16.3-4.6-14.7z" fill="#66e7b8"/>
<path d="M910.4 477.8l4.6 14.7-2 16.3-4.6-14z" fill="#68e8b4"/>
<path d="M908.4 494.8l4.6 14-2 16.3-4.6-13.3z" fill="#69e9b1"/>
<path d="M935 329.6l4.6 21.3-2 15.7-4.6-20.8z" fill="#5bdfd1"/>
<path d="M933 345.8l4.6 20.8-2 15.6-4.6-20.1z" fill="#5de0ce"/>
<path d="M931 362.1l4.6 20.1-2 15.6-4.6-19.4z" fill="#5ee1cb"/>
<path d="M929 378.4l4.6 19.4-2 15.6-4.6-18.7z" fill="#5fe2c8"/>
<path d="M927 394.7l4.6 18.7-2 15.7-4.6-18.1z" fill="#60e3c4"/>
<path d="M925 411l4.6 18.1-2 15.6-4.6-17.4z" fill="#61e4c1"/>
<path d="M923 427.3l4.6 17.4-2 15.6-4.6-16.7z" fill="#62e5be"/>
<path d="M921 443.6l4.6 16.7-2 15.7-4.6-16.1z" fill="#64e6bb"/>
<path d="M919 459.9l4.6 16.1-2 15.6-4.6-15.4z" fill="#65e7b7"/>
<path d="M917 476.2l4.6 15.4-2 15.6-4.6-14.7z" fill="#66e8b4"/>
<path d="M915 492.5l4.6 14.7-2 15.6-4.6-14z" fill="#67e9b0"/>
<path d="M913 508.8l4.6 14-2 15.7-4.6-13.4z" fill="#69ebad"/>
<path d="M939.6 350.9l4.6 21.4-2 15-4.6-20.7z" fill="#5bdfcb"/>
<path d="M937.6 366.6l4.6 20.7-2 14.9-4.6-20z" fill="#5ce0c8"/>
<path d="M935.6 382.2l4.6 20-2 15-4.6-19.4z" fill="#5de2c5"/>
<path d="M933.6 397.8l4.6 19.4-2 14.9-4.6-18.7z" fill="#5ee3c2"/>
<path d="M931.6 413.4l4.6 18.7-2 15-4.6-18z" fill="#5fe4bf"/>
<path d="M929.6 429.1l4.6 18-2 15-4.6-17.4z" fill="#61e5bc"/>
<path d="M927.6 444.7l4.6 17.4-2 14.9-4.6-16.7z" fill="#62e6b9"/>
<path d="M925.6 460.3l4.6 16.7-2 15-4.6-16z" fill="#63e7b6"/>
<path d="M923.6 476l4.6 16-2 14.9-4.6-15.3z" fill="#64e9b3"/>
<path d="M921.6 491.6l4.6 15.3-2 15-4.6-14.7z" fill="#66eaaf"/>
<path d="M919.6 507.2l4.6 14.7-2 15-4.6-14.1z" fill="#67ebac"/>
<path d="M917.6 522.8l4.6 14.1-2 14.9-4.6-13.3z" fill="#68eca9"/>
<path d="M906.4 511.8l24-203.6 13.8 64.1" class="m"/>
<path d="M707.2 692.9l13.9 10.1-12 2.4-13.9-10.1z" fill="#a0d982"/>
<path d="M695.2 695.3l13.9 10.1-12 2.3-13.8-10.1z" fill="#9fd37e"/>
<path d="M683.3 697.6l23.9-4.7 13.9 10.1" class="m"/>
<path d="M484.2 694.7l13.8 5.1-12 5-13.8-5.1z" fill="#eece91"/>
<path d="M472.2 699.7l13.8 5.1-12 5-13.8-5.2z" fill="#f7d294"/>
<path d="M460.2 704.6l24-9.9 13.8 5.1" class="m"/>
<path d="M261.3 733.4l13.8 .7-12-4.4-13.8 0z" fill="#7b3d2b"/>
<path d="M249.3 729.7l13.8 0-12-4.4-13.8 .6z" fill="#7e3d2c"/>
<path d="M237.3 725.9l24 7.5 13.8 .7" class="m"/>
<path d="M868.6 579.6l6.9 12.9-6 15.7-6.9-12.1z" fill="#89ffb3"/>
<path d="M862.6 596.1l6.9 12.1-6 15.8-6.9-11.4z" fill="#95ffb9"/>
<path d="M856.6 612.6l6.9 11.4-6 15.8-6.9-10.7z" fill="#a4ffc1"/>
<path d="M850.6 629.1l6.9 10.7-6 15.8-6.9-10z" fill="#b4ffcb"/>
<path d="M875.5 592.5l6.9 12.8-6 15.1-6.9-12.2z" fill="#8bffb2"/>
<path d="M869.5 608.2l6.9 12.2-6 15-6.9-11.4z" fill="#98ffb9"/>
<path d="M863.5 624l6.9 11.4-6 15.1-6.9-10.7z" fill="#a7ffc2"/>
<path d="M857.5 639.8l6.9 10.7-6 15-6.9-9.9z" fill="#b7ffcc"/>
<path d="M844.6 645.6l24-66 13.8 25.7" class="m"/>
<path d="M645.5 691.4l13.8 8.5-12 .7-13.8-8.5z" fill="#a6c67c"/>
<path d="M633.5 692.1l13.8 8.5-12 .7-13.8-8.5z" fill="#a9c67c"/>
<path d="M621.5 692.8l24-1.4 13.8 8.5" class="m"/>
<path d="M422.5 712.3l13.8 4.3-12 5.9-13.8-4.4z" fill="#ffce94"/>
<path d="M410.5 718.1l13.8 4.4-12 5.9-13.8-4.4z" fill="#ffcd91"/>
<path d="M398.5 724l24-11.7 13.8 4.3" class="m"/>
<path d="M199.6 719.6l13.8-3.7-8-11.4-13.8 5.1z" fill="#84392e"/>
<path d="M191.6 709.6l13.8-5.1-8-11.4-13.8 6.5z" fill="#853930"/>
<path d="M183.6 699.6l13.8-6.5-8-11.4-13.8 7.9z" fill="#863932"/>
<path d="M175.6 689.6l24 30 13.8-3.7M189.4 681.7l-13.8 7.9" class="m"/>
<path d="M806.8 668.2l13.8 14.9-12 12.2-13.8-14z" fill="#ffffff"/>
<path d="M794.8 681.3l13.8 14-11.9 12.2-13.9-13.2z" fill="#f1ffe9"/>
<path d="M782.8 694.3l24-26.1 13.8 14.9" class="m"/>
<path d="M583.7 688.3l13.8 6.6-12 2-13.8-6.6z" fill="#bec884"/>
<path d="M571.7 690.3l13.8 6.6-11.9 2.1-13.8-6.6z" fill="#c5cb86"/>
<path d="M559.8 692.4l23.9-4.1 13.8 6.6" class="m"/>
<path d="M360.8 730.5l13.7 3.6-11.9 3.4-13.8-3.5z" fill="#ffb883"/>
<path d="M348.8 734l13.8 3.5-12 3.5-13.8-3.6z" fill="#ffb37f"/>
<path d="M336.8 737.4l24-6.9 13.7 3.6" class="m"/>
<path d="M745 694.6l13.8 11.6-11.9 4.2-13.9-11.6z" fill="#a2ec8b"/>
<path d="M733 698.8l13.9 11.6-12 4.1-13.8-11.5z" fill="#9ee484"/>
<path d="M721.1 703l23.9-8.4 13.8 11.6" class="m"/>
<path d="M522 692.5l13.8 5.8-12 3.7-13.8-5.9z" fill="#dcce8d"/>
<path d="M510 696.1l13.8 5.9-12 3.7-13.8-5.9z" fill="#e4d18f"/>
<path d="M498 699.8l24-7.3 13.8 5.8" class="m"/>
<path d="M299 737.6l13.8 2.4-11.9-2.1-13.8-2z" fill="#77412b"/>
<path d="M287.1 735.9l13.8 2-12-2-13.8-1.8z" fill="#79412b"/>
<path d="M275.1 734.1l23.9 3.5 13.8 2.4" class="m"/>
<path d="M906.4 511.8l4.6 13.3-4 15-4.6-12.7z" fill="#6bebae"/>
<path d="M902.4 527.4l4.6 12.7-4 15-4.6-12.1z" fill="#6feead"/>
<path d="M898.4 543l4.6 12.1-4 15-4.6-11.6z" fill="#73f2ac"/>
<path d="M894.4 558.5l4.6 11.6-4 15-4.6-11z" fill="#78f7ac"/>
<path d="M890.4 574.1l4.6 11-4 15-4.6-10.4z" fill="#7dfbac"/>
<path d="M886.4 589.7l4.6 10.4-4 14.9-4.6-9.7z" fill="#83ffac"/>
<path d="M911 525.1l4.6 13.4-4 14.4-4.6-12.8z" fill="#6bedab"/>
<path d="M907 540.1l4.6 12.8-4 14.3-4.6-12.1z" fill="#6ff0aa"/>
<path d="M903 555.1l4.6 12.1-4 14.4-4.6-11.5z" fill="#73f5a9"/>
<path d="M899 570.1l4.6 11.5-4 14.4-4.6-10.9z" fill="#78f9a9"/>
<path d="M895 585.1l4.6 10.9-4 14.4-4.6-10.3z" fill="#7efeaa"/>
<path d="M891 600.1l4.6 10.3-4 14.4-4.6-9.8z" fill="#84ffab"/>
<path d="M915.6 538.5l4.6 13.3-4 13.8-4.6-12.7z" fill="#6befa7"/>
<path d="M911.6 552.9l4.6 12.7-4 13.8-4.6-12.2z" fill="#6ff2a7"/>
<path d="M907.6 567.2l4.6 12.2-4 13.8-4.6-11.6z" fill="#73f7a7"/>
<path d="M903.6 581.6l4.6 11.6-4 13.8-4.6-11z" fill="#78fba7"/>
<path d="M899.6 596l4.6 11-4 13.7-4.6-10.3z" fill="#7effa8"/>
<path d="M895.6 610.4l4.6 10.3-4 13.8-4.6-9.7z" fill="#84ffa9"/>
<path d="M882.4 605.3l24-93.5 13.8 40" class="m"/>
<path d="M683.3 697.6l13.8 10.1-12 1.1-13.8-10z" fill="#9fcf7b"/>
<path d="M671.3 698.8l13.8 10-12 1.2-13.8-10.1z" fill="#a0cb79"/>
<path d="M659.3 699.9l24-2.3 13.8 10.1" class="m"/>
<path d="M460.2 704.6l13.8 5.2-11.9 6-13.8-5.2z" fill="#ffd696"/>
<path d="M448.3 710.6l13.8 5.2-12 6.1-13.8-5.3z" fill="#ffd897"/>
<path d="M436.3 716.6l23.9-12 13.8 5.2" class="m"/>
<path d="M237.3 725.9l13.8-.6-12-5.9-13.7 1.5z" fill="#803d2d"/>
<path d="M225.4 720.9l13.7-1.5-11.9-5.8-13.8 2.3z" fill="#823d2e"/>
<path d="M213.4 715.9l23.9 10 13.8-.6" class="m"/>
<path d="M844.6 645.6l6.9 10-8 11.9-6.9-9.4z" fill="#cbffdc"/>
<path d="M836.6 658.1l6.9 9.4-8 12-6.9-8.9z" fill="#e8fff3"/>
<path d="M828.6 670.6l6.9 8.9-8 12-6.9-8.4z" fill="#fdffff"/>
<path d="M851.5 655.6l6.9 9.9-8 11.5-6.9-9.5z" fill="#ceffdd"/>
<path d="M843.5 667.5l6.9 9.5-7.9 11.4-7-8.9z" fill="#e9fff1"/>
<path d="M835.5 679.5l7 8.9-8 11.5-7-8.4z" fill="#f9fffc"/>
<path d="M820.6 683.1l24-37.5 13.8 19.9" class="m"/>
<path d="M621.5 692.8l13.8 8.5-12 1.1-13.8-8.6z" fill="#aec77d"/>
<path d="M609.5 693.8l13.8 8.6-12 1.1-13.8-8.6z" fill="#b4c97f"/>
<path d="M597.5 694.9l24-2.1 13.8 8.5" class="m"/>
<path d="M398.5 724l13.8 4.4-12 5.1-13.8-4.5z" fill="#ffc98d"/>
<path d="M386.5 729l13.8 4.5-12 5-13.8-4.4z" fill="#ffc588"/>
<path d="M374.5 734.1l24-10.1 13.8 4.4" class="m"/>
<path d="M782.8 694.3l13.9 13.2-12 5.9-13.9-13.1z" fill="#c8ffba"/>
<path d="M770.8 700.3l13.9 13.1-12 5.9-13.9-13.1z" fill="#aaff96"/>
<path d="M758.8 706.2l24-11.9 13.9 13.2" class="m"/>
<path d="M559.8 692.4l13.8 6.6-12 2.9-13.8-6.5z" fill="#ccce88"/>
<path d="M547.8 695.4l13.8 6.5-12 3-13.8-6.6z" fill="#d3d18a"/>
<path d="M535.8 698.3l24-5.9 13.8 6.6" class="m"/>
<path d="M336.8 737.4l13.8 3.6-12 1.1-13.8-3.4z" fill="#ffac79"/>
<path d="M324.8 738.7l13.8 3.4-12 1.2-13.8-3.3z" fill="#faa473"/>
<path d="M312.8 740l24-2.6 13.8 3.6" class="m"/>
<path d="M944.2 372.3l4.6 24.4-2.2 15.4-4.6-23.5z" fill="#5ae0c3"/>
<path d="M942 388.6l4.6 23.5-2.1 15.5-4.6-22.7z" fill="#5be1c0"/>
<path d="M939.9 404.9l4.6 22.7-2.2 15.5-4.6-21.8z" fill="#5de2be"/>
<path d="M937.7 421.3l4.6 21.8-2.2 15.5-4.6-21z" fill="#5ee4bb"/>
<path d="M935.5 437.6l4.6 21-2.2 15.4-4.6-20.1z" fill="#5fe5b8"/>
<path d="M933.3 453.9l4.6 20.1-2.2 15.5-4.6-19.3z" fill="#61e6b5"/>
<path d="M931.1 470.2l4.6 19.3-2.1 15.5-4.6-18.5z" fill="#62e8b2"/>
<path d="M929 486.5l4.6 18.5-2.2 15.5-4.6-17.6z" fill="#64e9af"/>
<path d="M926.8 502.9l4.6 17.6-2.2 15.5-4.6-16.8z" fill="#65ebac"/>
<path d="M924.6 519.2l4.6 16.8-2.2 15.4-4.6-15.9z" fill="#67eca8"/>
<path d="M922.4 535.5l4.6 15.9-2.2 15.5-4.6-15.1z" fill="#68eea5"/>
<path d="M948.8 396.7l4.6 24.3-2.1 14.6-4.7-23.5z" fill="#59dfbb"/>
<path d="M946.6 412.1l4.7 23.5-2.2 14.7-4.6-22.7z" fill="#5ae1b9"/>
<path d="M944.5 427.6l4.6 22.7-2.2 14.6-4.6-21.8z" fill="#5ce2b6"/>
<path d="M942.3 443.1l4.6 21.8-2.2 14.6-4.6-20.9z" fill="#5de4b4"/>
<path d="M940.1 458.6l4.6 20.9-2.2 14.7-4.6-20.2z" fill="#5ee5b1"/>
<path d="M937.9 474l4.6 20.2-2.1 14.6-4.7-19.3z" fill="#60e7ae"/>
<path d="M935.7 489.5l4.7 19.3-2.2 14.7-4.6-18.5z" fill="#61e8ac"/>
<path d="M933.6 505l4.6 18.5-2.2 14.6-4.6-17.6z" fill="#63eaa9"/>
<path d="M931.4 520.5l4.6 17.6-2.2 14.6-4.6-16.7z" fill="#65eca6"/>
<path d="M929.2 536l4.6 16.7-2.2 14.7-4.6-16z" fill="#66eda4"/>
<path d="M927 551.4l4.6 16-2.1 14.6-4.7-15.1z" fill="#68efa1"/>
<path d="M953.4 421l4.6 24.3-2.1 13.8-4.6-23.5z" fill="#57dfb3"/>
<path d="M951.3 435.6l4.6 23.5-2.2 13.8-4.6-22.6z" fill="#59e0b1"/>
<path d="M949.1 450.3l4.6 22.6-2.2 13.8-4.6-21.8z" fill="#5ae2af"/>
<path d="M946.9 464.9l4.6 21.8-2.2 13.8-4.6-21z" fill="#5ce4ad"/>
<path d="M944.7 479.5l4.6 21-2.2 13.8-4.6-20.1z" fill="#5de5aa"/>
<path d="M942.5 494.2l4.6 20.1-2.1 13.8-4.6-19.3z" fill="#5fe7a8"/>
<path d="M940.4 508.8l4.6 19.3-2.2 13.8-4.6-18.4z" fill="#61e9a6"/>
<path d="M938.2 523.5l4.6 18.4-2.2 13.8-4.6-17.6z" fill="#62eba4"/>
<path d="M936 538.1l4.6 17.6-2.2 13.8-4.6-16.8z" fill="#64eca1"/>
<path d="M933.8 552.7l4.6 16.8-2.2 13.8-4.6-15.9z" fill="#66ee9f"/>
<path d="M931.6 567.4l4.6 15.9-2.1 13.8-4.6-15.1z" fill="#67f09c"/>
<path d="M920.2 551.8l24-179.5 13.8 73" class="m"/>
<path d="M721.1 703l13.8 11.5-12 2.3-13.8-11.4z" fill="#9ddd7e"/>
<path d="M709.1 705.4l13.8 11.4-12 2.3-13.8-11.4z" fill="#9cd77a"/>
<path d="M697.1 707.7l24-4.7 13.8 11.5" class="m"/>
<path d="M498 699.8l13.8 5.9-12 5-13.8-5.9z" fill="#edd692"/>
<path d="M486 704.8l13.8 5.9-12 5-13.8-5.9z" fill="#f7db95"/>
<path d="M474 709.8l24-10 13.8 5.9" class="m"/>
<path d="M275.1 734.1l13.8 1.8-12-5-13.8-1.2z" fill="#7b412c"/>
<path d="M263.1 729.7l13.8 1.2-12-5-13.8-.6z" fill="#7e412d"/>
<path d="M251.1 725.3l24 8.8 13.8 1.8" class="m"/>
<path d="M882.4 605.3l6.9 14.6-6 14.2-6.9-13.7z" fill="#8cffb0"/>
<path d="M876.4 620.4l6.9 13.7-6 14.2-6.9-12.9z" fill="#9affb8"/>
<path d="M870.4 635.4l6.9 12.9-6 14.2-6.9-12z" fill="#a9ffc1"/>
<path d="M864.4 650.5l6.9 12-5.9 14.2-7-11.2z" fill="#baffcc"/>
<path d="M889.3 619.9l6.9 14.6-5.9 13.4-7-13.8z" fill="#8effae"/>
<path d="M883.3 634.1l7 13.8-6 13.3-7-12.9z" fill="#9bffb6"/>
<path d="M877.3 648.3l7 12.9-6 13.4-7-12.1z" fill="#abffc0"/>
<path d="M871.3 662.5l7 12.1-6 13.3-6.9-11.2z" fill="#bbffca"/>
<path d="M858.4 665.5l24-60.2 13.8 29.2" class="m"/>
<path d="M659.3 699.9l13.8 10.1-12 .7-13.8-10.1z" fill="#a3ca79"/>
<path d="M647.3 700.6l13.8 10.1-12 .8-13.8-10.2z" fill="#a6ca79"/>
<path d="M635.3 701.3l24-1.4 13.8 10.1" class="m"/>
<path d="M436.3 716.6l13.8 5.3-12 5.9-13.8-5.3z" fill="#ffd895"/>
<path d="M424.3 722.5l13.8 5.3-12 5.9-13.8-5.3z" fill="#ffd692"/>
<path d="M412.3 728.4l24-11.8 13.8 5.3" class="m"/>
<path d="M213.4 715.9l13.8-2.3-8-12.6-13.8 3.5z" fill="#843d30"/>
<path d="M205.4 704.5l13.8-3.5-8-12.5-13.8 4.6z" fill="#853d32"/>
<path d="M197.4 693.1l13.8-4.6-8-12.6-13.8 5.8z" fill="#863d34"/>
<path d="M189.4 681.7l24 34.2 13.8-2.3M203.2 675.9l-13.8 5.8" class="m"/>
<path d="M820.6 683.1l13.9 16.8-12 11.2-13.9-15.8z" fill="#fcfffa"/>
<path d="M808.6 695.3l13.9 15.8-12 11.3-13.8-14.9z" fill="#e0ffd5"/>
<path d="M796.7 707.5l23.9-24.4 13.9 16.8" class="m"/>
<path d="M597.5 694.9l13.8 8.6-11.9 2.1-13.9-8.7z" fill="#bbcc81"/>
<path d="M585.5 696.9l13.9 8.7-12 2-13.8-8.6z" fill="#c2d083"/>
<path d="M573.6 699l23.9-4.1 13.8 8.6" class="m"/>
<path d="M374.5 734.1l13.8 4.4-11.9 3.5-13.8-4.5z" fill="#ffc083"/>
<path d="M362.6 737.5l13.8 4.5-12 3.4-13.8-4.4z" fill="#ffba7e"/>
<path d="M350.6 741l23.9-6.9 13.8 4.4" class="m"/>
<path d="M758.8 706.2l13.9 13.1-12 4-13.8-12.9z" fill="#9eef86"/>
<path d="M746.9 710.4l13.8 12.9-12 4-13.8-12.8z" fill="#9be77f"/>
<path d="M734.9 714.5l23.9-8.3 13.9 13.1" class="m"/>
<path d="M535.8 698.3l13.8 6.6-12 3.6-13.8-6.5z" fill="#dbd48c"/>
<path d="M523.8 702l13.8 6.5-12 3.7-13.8-6.5z" fill="#e3d88e"/>
<path d="M511.8 705.7l24-7.4 13.8 6.6" class="m"/>
<path d="M312.8 740l13.8 3.3-12-2.3-13.7-3.1z" fill="#f09a6d"/>
<path d="M300.9 737.9l13.7 3.1-11.9-2.4-13.8-2.7z" fill="#e38f66"/>
<path d="M288.9 735.9l23.9 4.1 13.8 3.3" class="m"/>
<path d="M920.2 551.8l4.6 15.1-4.8 15.7-4.6-14.2z" fill="#6bf1a3"/>
<path d="M915.4 568.4l4.6 14.2-4.7 15.7-4.7-13.4z" fill="#70f5a3"/>
<path d="M910.6 584.9l4.7 13.4-4.8 15.7-4.7-12.6z" fill="#76fba4"/>
<path d="M905.8 601.4l4.7 12.6-4.8 15.7-4.7-11.7z" fill="#7dffa5"/>
<path d="M901 618l4.7 11.7-4.8 15.7-4.7-10.9z" fill="#84ffa6"/>
<path d="M924.8 566.9l4.7 15.1-4.8 14.9-4.7-14.3z" fill="#6bf29f"/>
<path d="M920 582.6l4.7 14.3-4.8 14.8-4.6-13.4z" fill="#70f7a0"/>
<path d="M915.3 598.3l4.6 13.4-4.8 14.9-4.6-12.6z" fill="#76fca0"/>
<path d="M910.5 614l4.6 12.6-4.8 14.9-4.6-11.8z" fill="#7dffa2"/>
<path d="M905.7 629.7l4.6 11.8-4.8 14.9-4.6-11z" fill="#84ffa4"/>
<path d="M929.5 582l4.6 15.1-4.8 14-4.6-14.2z" fill="#6bf39b"/>
<path d="M924.7 596.9l4.6 14.2-4.8 14.1-4.6-13.5z" fill="#70f89c"/>
<path d="M919.9 611.7l4.6 13.5-4.8 14-4.6-12.6z" fill="#76fd9d"/>
<path d="M915.1 626.6l4.6 12.6-4.8 14.1-4.6-11.8z" fill="#7cff9e"/>
<path d="M910.3 641.5l4.6 11.8-4.8 14-4.6-10.9z" fill="#84ffa0"/>
<path d="M896.2 634.5l24-82.7 13.9 45.3" class="m"/>
<path d="M697.1 707.7l13.8 11.4-12 1.1-13.8-11.4z" fill="#9cd278"/>
<path d="M685.1 708.8l13.8 11.4-12 1.2-13.8-11.4z" fill="#9ecf76"/>
<path d="M673.1 710l24-2.3 13.8 11.4" class="m"/>
<path d="M474 709.8l13.8 5.9-11.9 6.1-13.8-6z" fill="#ffde97"/>
<path d="M462.1 715.8l13.8 6-12 6.1-13.8-6z" fill="#ffe197"/>
<path d="M450.1 721.9l23.9-12.1 13.8 5.9" class="m"/>
<path d="M251.1 725.3l13.8 .6-12-6.6-13.8 .1z" fill="#80412e"/>
<path d="M239.1 719.4l13.8-.1-11.9-6.7-13.8 1z" fill="#82412f"/>
<path d="M227.2 713.6l23.9 11.7 13.8 .6" class="m"/>
<path d="M858.4 665.5l7 11.2-8 10.8-7-10.5z" fill="#cfffdc"/>
<path d="M850.4 677l7 10.5-8 10.9-6.9-10z" fill="#e6ffed"/>
<path d="M842.5 688.4l6.9 10-8 10.8-6.9-9.3z" fill="#f1fff2"/>
<path d="M865.4 676.7l6.9 11.2-8 10.2-6.9-10.6z" fill="#ceffd8"/>
<path d="M857.4 687.5l6.9 10.6-8 10.2-6.9-9.9z" fill="#e0ffe5"/>
<path d="M849.4 698.4l6.9 9.9-8 10.3-6.9-9.4z" fill="#e6ffe5"/>
<path d="M834.5 699.9l23.9-34.4 13.9 22.4" class="m"/>
<path d="M635.3 701.3l13.8 10.2-12 1.1-13.8-10.2z" fill="#abcb7a"/>
<path d="M623.3 702.4l13.8 10.2-11.9 1.1-13.9-10.2z" fill="#b1cd7c"/>
<path d="M611.3 703.5l24-2.2 13.8 10.2" class="m"/>
<path d="M412.3 728.4l13.8 5.3-12 5.1-13.8-5.3z" fill="#ffd28e"/>
<path d="M400.3 733.5l13.8 5.3-11.9 5-13.9-5.3z" fill="#ffcd88"/>
<path d="M388.3 738.5l24-10.1 13.8 5.3" class="m"/>
<path d="M796.7 707.5l13.8 14.9-12 5.7-13.8-14.7z" fill="#bcffab"/>
<path d="M784.7 713.4l13.8 14.7-12 5.7-13.8-14.5z" fill="#a3ff8e"/>
<path d="M772.7 719.3l24-11.8 13.8 14.9" class="m"/>
<path d="M573.6 699l13.8 8.6-12 3-13.8-8.7z" fill="#c9d385"/>
<path d="M561.6 701.9l13.8 8.7-12 3-13.8-8.7z" fill="#d0d687"/>
<path d="M549.6 704.9l24-5.9 13.8 8.6" class="m"/>
<path d="M350.6 741l13.8 4.4-12 1.1-13.8-4.4z" fill="#ffb379"/>
<path d="M338.6 742.1l13.8 4.4-12 1-13.8-4.2z" fill="#f7a972"/>
<path d="M326.6 743.3l24-2.3 13.8 4.4" class="m"/>
<path d="M958 445.3l4.7 27.4-2.4 14.1-4.6-26.3z" fill="#56ddaa"/>
<path d="M955.7 460.5l4.6 26.3-2.4 14.1-4.6-25.2z" fill="#58dfa8"/>
<path d="M953.3 475.7l4.6 25.2-2.4 14.1-4.6-24.1z" fill="#59e1a6"/>
<path d="M950.9 490.9l4.6 24.1-2.4 14.2-4.6-23.2z" fill="#5be4a4"/>
<path d="M948.5 506l4.6 23.2-2.4 14.1-4.6-22.1z" fill="#5de6a2"/>
<path d="M946.1 521.2l4.6 22.1-2.4 14.1-4.6-21z" fill="#5fe8a0"/>
<path d="M943.7 536.4l4.6 21-2.4 14.1-4.6-19.9z" fill="#61ea9e"/>
<path d="M941.3 551.6l4.6 19.9-2.4 14.2-4.6-19z" fill="#63ec9c"/>
<path d="M938.9 566.7l4.6 19-2.4 14.1-4.6-17.9z" fill="#64ee9a"/>
<path d="M936.5 581.9l4.6 17.9-2.4 14.1-4.6-16.8z" fill="#66f097"/>
<path d="M962.7 472.7l4.6 27.3-2.4 13.1-4.6-26.3z" fill="#54dba1"/>
<path d="M960.3 486.8l4.6 26.3-2.4 13-4.6-25.2z" fill="#56dd9f"/>
<path d="M957.9 500.9l4.6 25.2-2.4 13.1-4.6-24.2z" fill="#57e09e"/>
<path d="M955.5 515l4.6 24.2-2.4 13.1-4.6-23.1z" fill="#59e29c"/>
<path d="M953.1 529.2l4.6 23.1-2.4 13.1-4.6-22.1z" fill="#5be49a"/>
<path d="M950.7 543.3l4.6 22.1-2.4 13-4.6-21z" fill="#5de699"/>
<path d="M948.3 557.4l4.6 21-2.4 13.1-4.6-20z" fill="#5fe997"/>
<path d="M945.9 571.5l4.6 20-2.4 13.1-4.6-18.9z" fill="#61eb95"/>
<path d="M943.5 585.7l4.6 18.9-2.4 13.1-4.6-17.9z" fill="#63ed93"/>
<path d="M941.1 599.8l4.6 17.9-2.4 13-4.6-16.8z" fill="#65f092"/>
<path d="M967.3 500l4.6 27.3-2.4 12-4.6-26.2z" fill="#52d897"/>
<path d="M964.9 513.1l4.6 26.2-2.4 12.1-4.6-25.3z" fill="#53db96"/>
<path d="M962.5 526.1l4.6 25.3-2.4 12-4.6-24.2z" fill="#55dd95"/>
<path d="M960.1 539.2l4.6 24.2-2.4 12-4.6-23.1z" fill="#57e093"/>
<path d="M957.7 552.3l4.6 23.1-2.4 12-4.6-22z" fill="#59e292"/>
<path d="M955.3 565.4l4.6 22-2.4 12.1-4.6-21.1z" fill="#5be591"/>
<path d="M952.9 578.4l4.6 21.1-2.4 12-4.6-20z" fill="#5de790"/>
<path d="M950.5 591.5l4.6 20-2.4 12-4.6-18.9z" fill="#60ea8e"/>
<path d="M948.1 604.6l4.6 18.9-2.4 12-4.6-17.8z" fill="#62ec8d"/>
<path d="M945.7 617.7l4.6 17.8-2.4 12.1-4.6-16.9z" fill="#64ef8c"/>
<path d="M934.1 597.1l23.9-151.8 13.9 82" class="m"/>
<path d="M734.9 714.5l13.8 12.8-12 2.2-13.8-12.7z" fill="#99e07a"/>
<path d="M722.9 716.8l13.8 12.7-12 2.3-13.8-12.7z" fill="#99da76"/>
<path d="M710.9 719.1l24-4.6 13.8 12.8" class="m"/>
<path d="M511.8 705.7l13.8 6.5-12 5-13.8-6.5z" fill="#ecdd91"/>
<path d="M499.8 710.7l13.8 6.5-11.9 5-13.9-6.5z" fill="#f6e294"/>
<path d="M487.8 715.7l24-10 13.8 6.5" class="m"/>
<path d="M288.9 735.9l13.8 2.7-12-5.4-13.8-2.3z" fill="#7b452d"/>
<path d="M276.9 730.9l13.8 2.3-12-5.4-13.8-1.9z" fill="#7e452e"/>
<path d="M264.9 725.9l24 10 13.8 2.7" class="m"/>
<path d="M896.2 634.5l7 16.4-6 12.4-6.9-15.4z" fill="#8effab"/>
<path d="M890.3 647.9l6.9 15.4-6 12.3-6.9-14.4z" fill="#9cffb3"/>
<path d="M884.3 661.2l6.9 14.4-6 12.4-6.9-13.4z" fill="#abffbd"/>
<path d="M878.3 674.6l6.9 13.4-6 12.4-6.9-12.5z" fill="#baffc6"/>
<path d="M903.2 650.9l6.9 16.4-6 11.4-6.9-15.4z" fill="#8effa6"/>
<path d="M897.2 663.3l6.9 15.4-6 11.4-6.9-14.5z" fill="#9bffae"/>
<path d="M891.2 675.6l6.9 14.5-6 11.3-6.9-13.4z" fill="#a8ffb7"/>
<path d="M885.2 688l6.9 13.4-6 11.4-6.9-12.4z" fill="#b5ffbf"/>
<path d="M872.3 687.9l23.9-53.4 13.9 32.8" class="m"/>
<path d="M673.1 710l13.8 11.4-12 .8-13.8-11.5z" fill="#a0ce75"/>
<path d="M661.1 710.7l13.8 11.5-11.9 .7-13.9-11.4z" fill="#a4ce75"/>
<path d="M649.1 711.5l24-1.5 13.8 11.4" class="m"/>
<path d="M450.1 721.9l13.8 6-12 5.9-13.8-6z" fill="#ffe196"/>
<path d="M438.1 727.8l13.8 6-12 5.9-13.8-6z" fill="#ffde92"/>
<path d="M426.1 733.7l24-11.8 13.8 6" class="m"/>
<path d="M227.2 713.6l13.8-1-8-13.4-13.8 1.8z" fill="#844131"/>
<path d="M219.2 701l13.8-1.8-8-13.4-13.8 2.7z" fill="#854133"/>
<path d="M211.2 688.5l13.8-2.7-8-13.5-13.8 3.6z" fill="#8c4438"/>
<path d="M203.2 675.9l24 37.7 13.8-1M217 672.3l-13.8 3.6" class="m"/>
<path d="M834.5 699.9l13.8 18.7-12 10.1-13.8-17.6z" fill="#e4ffde"/>
<path d="M822.5 711.1l13.8 17.6-12 10.1-13.8-16.4z" fill="#c8ffbb"/>
<path d="M810.5 722.4l24-22.5 13.8 18.7" class="m"/>
<path d="M611.3 703.5l13.9 10.2-12 2.1-13.8-10.2z" fill="#b8d07e"/>
<path d="M599.4 705.6l13.8 10.2-12 2.2-13.8-10.4z" fill="#bfd480"/>
<path d="M587.4 707.6l23.9-4.1 13.9 10.2" class="m"/>
<path d="M388.3 738.5l13.9 5.3-12 3.4-13.8-5.2z" fill="#ffc783"/>
<path d="M376.4 742l13.8 5.2-12 3.4-13.8-5.2z" fill="#ffc17e"/>
<path d="M364.4 745.4l23.9-6.9 13.9 5.3" class="m"/>
<path d="M772.7 719.3l13.8 14.5-12 3.8-13.8-14.3z" fill="#9af180"/>
<path d="M760.7 723.3l13.8 14.3-12 3.8-13.8-14.1z" fill="#97e97a"/>
<path d="M748.7 727.3l24-8 13.8 14.5" class="m"/>
<path d="M549.6 704.9l13.8 8.7-12 3.6-13.8-8.7z" fill="#d8da89"/>
<path d="M537.6 708.5l13.8 8.7-12 3.7-13.8-8.7z" fill="#e0de8c"/>
<path d="M525.6 712.2l24-7.3 13.8 8.7" class="m"/>
<path d="M326.6 743.3l13.8 4.2-12-2.5-13.8-4z" fill="#ec9f6c"/>
<path d="M314.6 741l13.8 4-11.9-2.6-13.8-3.8z" fill="#de9364"/>
<path d="M302.7 738.6l23.9 4.7 13.8 4.2" class="m"/>
<path d="M934.1 597.1l4.6 16.8-4.8 13.1-4.6-15.9z" fill="#6af496"/>
<path d="M929.3 611.1l4.6 15.9-4.8 13.1-4.6-14.9z" fill="#6ff897"/>
<path d="M924.5 625.2l4.6 14.9-4.8 13.1-4.6-14z" fill="#75fe98"/>
<path d="M919.7 639.2l4.6 14-4.8 13.1-4.6-13z" fill="#7cff9a"/>
<path d="M914.9 653.3l4.6 13-4.8 13.1-4.6-12.1z" fill="#82ff9c"/>
<path d="M938.7 613.9l4.6 16.8-4.8 12.2-4.6-15.9z" fill="#69f391"/>
<path d="M933.9 627l4.6 15.9-4.8 12.1-4.6-14.9z" fill="#6ef892"/>
<path d="M929.1 640.1l4.6 14.9-4.8 12.2-4.6-14z" fill="#74fd93"/>
<path d="M924.3 653.2l4.6 14-4.8 12.1-4.6-13z" fill="#7aff95"/>
<path d="M919.5 666.3l4.6 13-4.8 12.2-4.6-12.1z" fill="#80ff96"/>
<path d="M943.3 630.7l4.6 16.9-4.8 11.2-4.6-15.9z" fill="#68f28b"/>
<path d="M938.5 642.9l4.6 15.9-4.8 11.2-4.6-15z" fill="#6cf78c"/>
<path d="M933.7 655l4.6 15-4.8 11.2-4.6-14z" fill="#72fc8d"/>
<path d="M928.9 667.2l4.6 14-4.8 11.2-4.6-13.1z" fill="#77ff8f"/>
<path d="M924.1 679.3l4.6 13.1-4.8 11.2-4.6-12.1z" fill="#7cff8f"/>
<path d="M910.1 667.3l24-70.2 13.8 50.5" class="m"/>
<path d="M710.9 719.1l13.8 12.7-12 1.1-13.8-12.7z" fill="#99d674"/>
<path d="M698.9 720.2l13.8 12.7-12 1.2-13.8-12.7z" fill="#9bd372"/>
<path d="M686.9 721.4l24-2.3 13.8 12.7" class="m"/>
<path d="M487.8 715.7l13.9 6.5-12 6.1-13.8-6.5z" fill="#fee797"/>
<path d="M475.9 721.8l13.8 6.5-12 6-13.8-6.4z" fill="#ffe998"/>
<path d="M463.9 727.9l23.9-12.2 13.9 6.5" class="m"/>
<path d="M264.9 725.9l13.8 1.9-12-7.3-13.8-1.2z" fill="#80452f"/>
<path d="M252.9 719.3l13.8 1.2-12-7.3-13.7-.6z" fill="#824530"/>
<path d="M241 712.6l23.9 13.3 13.8 1.9" class="m"/>
<path d="M872.3 687.9l6.9 12.5-12 14.2-6.9-11.4z" fill="#ceffd4"/>
<path d="M860.3 703.2l6.9 11.4-12 14.3-6.9-10.3z" fill="#d9ffd7"/>
<path d="M879.2 700.4l6.9 12.4-12 13.2-6.9-11.4z" fill="#c4ffc8"/>
<path d="M867.2 714.6l6.9 11.4-12 13.2-6.9-10.3z" fill="#c8ffc4"/>
<path d="M848.3 718.6l24-30.7 13.8 24.9" class="m"/>
<path d="M649.1 711.5l13.9 11.4-12 1.2-13.9-11.5z" fill="#a8cf76"/>
<path d="M637.1 712.6l13.9 11.5-12 1.2-13.8-11.6z" fill="#aed178"/>
<path d="M625.2 713.7l23.9-2.2 13.9 11.4" class="m"/>
<path d="M426.1 733.7l13.8 6-12 5.1-13.8-6z" fill="#ffda8e"/>
<path d="M414.1 738.8l13.8 6-11.9 5-13.8-6z" fill="#ffd588"/>
<path d="M402.2 743.8l23.9-10.1 13.8 6" class="m"/>
<path d="M810.5 722.4l13.8 16.4-12 5.4-13.8-16.1z" fill="#adff9a"/>
<path d="M798.5 728.1l13.8 16.1-12 5.4-13.8-15.8z" fill="#9cff84"/>
<path d="M786.5 733.8l24-11.4 13.8 16.4" class="m"/>
<path d="M587.4 707.6l13.8 10.4-12 3-13.8-10.4z" fill="#c5d782"/>
<path d="M575.4 710.6l13.8 10.4-12 2.9-13.8-10.3z" fill="#ccda84"/>
<path d="M563.4 713.6l24-6 13.8 10.4" class="m"/>
<path d="M364.4 745.4l13.8 5.2-12 1-13.8-5.1z" fill="#feb978"/>
<path d="M352.4 746.5l13.8 5.1-12 1-13.8-5.1z" fill="#f4af71"/>
<path d="M340.4 747.5l24-2.1 13.8 5.2" class="m"/>
<path d="M971.9 527.3l4.6 30.3-3 13.6-4.6-28.9z" fill="#4fd48c"/>
<path d="M968.9 542.3l4.6 28.9-3 13.5-4.6-27.3z" fill="#51d88b"/>
<path d="M965.9 557.4l4.6 27.3-3 13.6-4.6-25.9z" fill="#54db8a"/>
<path d="M962.9 572.4l4.6 25.9-3 13.6-4.6-24.5z" fill="#56de89"/>
<path d="M959.9 587.4l4.6 24.5-3 13.5-4.6-22.9z" fill="#59e288"/>
<path d="M956.9 602.5l4.6 22.9-3 13.6-4.6-21.5z" fill="#5ce587"/>
<path d="M953.9 617.5l4.6 21.5-3 13.6-4.6-20.1z" fill="#5fe986"/>
<path d="M950.9 632.5l4.6 20.1-3 13.5-4.6-18.5z" fill="#62ec85"/>
<path d="M976.5 557.6l4.6 30.3-3 12.1-4.6-28.8z" fill="#4bce80"/>
<path d="M973.5 571.2l4.6 28.8-3 12.1-4.6-27.4z" fill="#4ed27f"/>
<path d="M970.5 584.7l4.6 27.4-3 12.1-4.6-25.9z" fill="#50d57f"/>
<path d="M967.5 598.3l4.6 25.9-3 12.1-4.6-24.4z" fill="#53d97e"/>
<path d="M964.5 611.9l4.6 24.4-3 12.1-4.6-23z" fill="#55dc7e"/>
<path d="M961.5 625.4l4.6 23-3 12.1-4.6-21.5z" fill="#58e07d"/>
<path d="M958.5 639l4.6 21.5-3 12.1-4.6-20z" fill="#5be47d"/>
<path d="M955.5 652.6l4.6 20-3 12.1-4.6-18.6z" fill="#5ee87c"/>
<path d="M981.1 587.9l4.6 30.3-3 10.6-4.6-28.8z" fill="#47c774"/>
<path d="M978.1 600l4.6 28.8-3 10.7-4.6-27.4z" fill="#4acb74"/>
<path d="M975.1 612.1l4.6 27.4-3 10.6-4.6-25.9z" fill="#4ccf74"/>
<path d="M972.1 624.2l4.6 25.9-3 10.6-4.6-24.4z" fill="#4fd374"/>
<path d="M969.1 636.3l4.6 24.4-3 10.7-4.6-23z" fill="#51d674"/>
<path d="M966.1 648.4l4.6 23-3 10.6-4.6-21.5z" fill="#54da74"/>
<path d="M963.1 660.5l4.6 21.5-3 10.6-4.6-20z" fill="#57de73"/>
<path d="M960.1 672.6l4.6 20-3 10.6-4.6-18.5z" fill="#5ae273"/>
<path d="M947.9 647.6l24-120.3 13.8 90.9" class="m"/>
<path d="M748.7 727.3l13.8 14.1-12 2.2-13.8-14.1z" fill="#96e375"/>
<path d="M736.7 729.5l13.8 14.1-12 2.1-13.8-13.9z" fill="#96dd72"/>
<path d="M724.7 731.8l24-4.5 13.8 14.1" class="m"/>
<path d="M525.6 712.2l13.8 8.7-12 5.1-13.8-8.8z" fill="#e9e38f"/>
<path d="M513.6 717.2l13.8 8.8-11.9 5.1-13.8-8.9z" fill="#f4e993"/>
<path d="M501.7 722.2l23.9-10 13.8 8.7" class="m"/>
<path d="M302.7 738.6l13.8 3.8-12-5.7-13.8-3.5z" fill="#7b4a2d"/>
<path d="M290.7 733.2l13.8 3.5-12-5.8-13.8-3.1z" fill="#7e4a2e"/>
<path d="M278.7 727.8l24 10.8 13.8 3.8" class="m"/>
<path d="M910.1 667.3l6.9 18.1-8 13.7-6.9-16.6z" fill="#8dffa0"/>
<path d="M902.1 682.5l6.9 16.6-8 13.7-6.9-15.2z" fill="#9cffaa"/>
<path d="M894.1 697.6l6.9 15.2-8 13.7-6.9-13.7z" fill="#abffb2"/>
<path d="M917 685.4l6.9 18.2-8 12.2-6.9-16.7z" fill="#86ff95"/>
<path d="M909 699.1l6.9 16.7-8 12.2-6.9-15.2z" fill="#93ff9c"/>
<path d="M901 712.8l6.9 15.2-8 12.2-6.9-13.7z" fill="#9effa2"/>
<path d="M886.1 712.8l24-45.5 13.8 36.3" class="m"/>
<path d="M686.9 721.4l13.8 12.7-11.9 .9-13.9-12.8z" fill="#9dd272"/>
<path d="M674.9 722.2l13.9 12.8-12 .8-13.8-12.9z" fill="#a1d272"/>
<path d="M663 722.9l23.9-1.5 13.8 12.7" class="m"/>
<path d="M463.9 727.9l13.8 6.4-12 5.9-13.8-6.4z" fill="#ffe996"/>
<path d="M451.9 733.8l13.8 6.4-12 6-13.8-6.5z" fill="#ffe693"/>
<path d="M439.9 739.7l24-11.8 13.8 6.4" class="m"/>
<path d="M241 712.6l13.7 .6-7.9-14.1-13.8 .1z" fill="#844532"/>
<path d="M233 699.2l13.8-.1-8-14.1-13.8 .8z" fill="#884736"/>
<path d="M225 685.8l13.8-.8-8-14.1-13.8 1.4z" fill="#944d3e"/>
<path d="M217 672.3l24 40.3 13.7 .6M230.8 670.9l-13.8 1.4" class="m"/>
<path d="M848.3 718.6l6.9 10.3-12 9.4-6.9-9.6z" fill="#ccffc3"/>
<path d="M836.3 728.7l6.9 9.6-12 9.5-6.9-9z" fill="#b5ffa6"/>
<path d="M855.2 728.9l6.9 10.3-12 8.8-6.9-9.7z" fill="#bbffb0"/>
<path d="M843.2 738.3l6.9 9.7-12 8.8-6.9-9z" fill="#a9ff98"/>
<path d="M824.3 738.8l24-20.2 13.8 20.6" class="m"/>
<path d="M625.2 713.7l13.8 11.6-12 2.2-13.8-11.7z" fill="#b5d47a"/>
<path d="M613.2 715.8l13.8 11.7-12 2.2-13.8-11.7z" fill="#bbd87c"/>
<path d="M601.2 718l24-4.3 13.8 11.6" class="m"/>
<path d="M402.2 743.8l13.8 6-12 3.4-13.8-6z" fill="#ffcf83"/>
<path d="M390.2 747.2l13.8 6-12 3.4-13.8-6z" fill="#ffc87d"/>
<path d="M378.2 750.6l24-6.8 13.8 6" class="m"/>
<path d="M786.5 733.8l13.8 15.8-12 3.6-13.8-15.6z" fill="#95f27a"/>
<path d="M774.5 737.6l13.8 15.6-12 3.6-13.8-15.4z" fill="#93eb74"/>
<path d="M762.5 741.4l24-7.6 13.8 15.8" class="m"/>
<path d="M563.4 713.6l13.8 10.3-12 3.7-13.8-10.4z" fill="#d4de86"/>
<path d="M551.4 717.2l13.8 10.4-12 3.6-13.8-10.3z" fill="#dde389"/>
<path d="M539.4 720.9l24-7.3 13.8 10.3" class="m"/>
<path d="M340.4 747.5l13.8 5.1-12-2.7-13.8-4.9z" fill="#e9a36a"/>
<path d="M328.4 745l13.8 4.9-11.9-2.7-13.8-4.8z" fill="#da9763"/>
<path d="M316.5 742.4l23.9 5.1 13.8 5.1" class="m"/>
<path d="M947.9 647.6l4.6 18.5-6 12.7-4.6-17.2z" fill="#66f185"/>
<path d="M941.9 661.6l4.6 17.2-6 12.7-4.6-15.9z" fill="#6bf686"/>
<path d="M935.9 675.6l4.6 15.9-6 12.7-4.6-14.6z" fill="#71fa87"/>
<path d="M929.9 689.6l4.6 14.6-6 12.7-4.6-13.3z" fill="#77ff87"/>
<path d="M952.5 666.1l4.6 18.6-6 11.4-4.6-17.3z" fill="#62ec7c"/>
<path d="M946.5 678.8l4.6 17.3-6 11.3-4.6-15.9z" fill="#67f07d"/>
<path d="M940.5 691.5l4.6 15.9-6 11.4-4.6-14.6z" fill="#6cf47d"/>
<path d="M934.5 704.2l4.6 14.6-6 11.4-4.6-13.3z" fill="#70f77d"/>
<path d="M957.1 684.7l4.6 18.5-6 10.1-4.6-17.2z" fill="#5ee674"/>
<path d="M951.1 696.1l4.6 17.2-6 10.1-4.6-16z" fill="#62e974"/>
<path d="M945.1 707.4l4.6 16-6 10-4.6-14.6z" fill="#66ec73"/>
<path d="M939.1 718.8l4.6 14.6-5.9 10.1-4.7-13.3z" fill="#69ee72"/>
<path d="M923.9 703.6l24-56 13.8 55.6" class="m"/>
<path d="M724.7 731.8l13.8 13.9-11.9 1.2-13.9-14z" fill="#97d970"/>
<path d="M712.7 732.9l13.9 14-12 1.3-13.9-14.1z" fill="#98d76e"/>
<path d="M700.7 734.1l24-2.3 13.8 13.9" class="m"/>
<path d="M501.7 722.2l13.8 8.9-12 6-13.8-8.8z" fill="#fcee96"/>
<path d="M489.7 728.3l13.8 8.8-12 6-13.8-8.8z" fill="#fff097"/>
<path d="M477.7 734.3l24-12.1 13.8 8.9" class="m"/>
<path d="M278.7 727.8l13.8 3.1-12-7.8-13.8-2.6z" fill="#804a30"/>
<path d="M266.7 720.5l13.8 2.6-12-7.9-13.8-2z" fill="#824a31"/>
<path d="M254.7 713.2l24 14.6 13.8 3.1" class="m"/>
<path d="M886.1 712.8l6.9 13.7-12 12-6.9-12.5z" fill="#b6ffb7"/>
<path d="M874.1 726l6.9 12.5-12 12-6.9-11.3z" fill="#b5ffaf"/>
<path d="M893 726.5l6.9 13.7-12 10.8-6.9-12.5z" fill="#a5ffa2"/>
<path d="M881 738.5l6.9 12.5-12 10.7-6.9-11.2z" fill="#a2ff99"/>
<path d="M862.1 739.2l24-26.4 13.8 27.4" class="m"/>
<path d="M663 722.9l13.8 12.9-12 1.3-13.8-13z" fill="#a5d373"/>
<path d="M651 724.1l13.8 13-12 1.2-13.8-13z" fill="#abd574"/>
<path d="M639 725.3l24-2.4 13.8 12.9" class="m"/>
<path d="M439.9 739.7l13.8 6.5-12 5-13.8-6.4z" fill="#ffe28e"/>
<path d="M427.9 744.8l13.8 6.4-11.9 5.1-13.8-6.5z" fill="#ffdc88"/>
<path d="M416 749.8l23.9-10.1 13.8 6.5" class="m"/>
<path d="M824.3 738.8l13.8 18-12 4.9-13.8-17.5z" fill="#9eff89"/>
<path d="M812.3 744.2l13.8 17.5-11.9 5-13.9-17.1z" fill="#94fc7a"/>
<path d="M800.3 749.6l24-10.8 13.8 18" class="m"/>
<path d="M601.2 718l13.8 11.7-12 2.9-13.8-11.6z" fill="#c2db7e"/>
<path d="M589.2 721l13.8 11.6-12 3-13.8-11.7z" fill="#c9de80"/>
<path d="M577.2 723.9l24-5.9 13.8 11.7" class="m"/>
<path d="M378.2 750.6l13.8 6-12 .9-13.8-5.9z" fill="#fcbf77"/>
<path d="M366.2 751.6l13.8 5.9-12 1-13.8-5.9z" fill="#f2b470"/>
<path d="M354.2 752.6l24-2 13.8 6" class="m"/>
<path d="M985.7 618.2l4.6 33.3-4 12-4.6-31.1z" fill="#43bf67"/>
<path d="M981.7 632.4l4.6 31.1-4 12-4.6-29z" fill="#46c468"/>
<path d="M977.7 646.5l4.6 29-4 12-4.6-26.8z" fill="#49c968"/>
<path d="M973.7 660.7l4.6 26.8-4 12-4.6-24.6z" fill="#4dcf68"/>
<path d="M969.7 674.9l4.6 24.6-4 12-4.6-22.4z" fill="#51d468"/>
<path d="M965.7 689.1l4.6 22.4-4 12-4.6-20.3z" fill="#54d969"/>
<path d="M990.3 651.5l4.7 33.2-4 9.9-4.7-31.1z" fill="#3db359"/>
<path d="M986.3 663.5l4.7 31.1-4 9.8-4.7-28.9z" fill="#40b95a"/>
<path d="M982.3 675.5l4.7 28.9-4 9.9-4.7-26.8z" fill="#44be5b"/>
<path d="M978.3 687.5l4.7 26.8-4 9.8-4.7-24.6z" fill="#47c35c"/>
<path d="M974.3 699.5l4.7 24.6-4 9.9-4.7-22.5z" fill="#4ac95c"/>
<path d="M970.3 711.5l4.7 22.5-4 9.8-4.7-20.3z" fill="#4ece5d"/>
<path d="M995 684.7l4.6 33.3-4 7.7-4.6-31.1z" fill="#37a74c"/>
<path d="M991 694.6l4.6 31.1-4 7.7-4.6-29z" fill="#3bac4d"/>
<path d="M987 704.4l4.6 29-4 7.7-4.6-26.8z" fill="#3eb24e"/>
<path d="M983 714.3l4.6 26.8-4 7.7-4.6-24.7z" fill="#41b74f"/>
<path d="M979 724.1l4.6 24.7-4 7.7-4.6-22.5z" fill="#44bc50"/>
<path d="M975 734l4.6 22.5-4 7.6-4.6-20.3z" fill="#47c251"/>
<path d="M961.7 703.2l24-85 13.9 99.8" class="m"/>
<path d="M762.5 741.4l13.8 15.4-11.9 2.1-13.9-15.3z" fill="#93e570"/>
<path d="M750.5 743.6l13.9 15.3-12 2.1-13.9-15.3z" fill="#93e06d"/>
<path d="M738.5 745.7l24-4.3 13.8 15.4" class="m"/>
<path d="M539.4 720.9l13.8 10.3-11.9 5.2-13.9-10.4z" fill="#e6e88d"/>
<path d="M527.4 726l13.9 10.4-12 5.3-13.8-10.6z" fill="#f1ef91"/>
<path d="M515.5 731.1l23.9-10.2 13.8 10.3" class="m"/>
<path d="M316.5 742.4l13.8 4.8-12-6-13.8-4.5z" fill="#7b4e2d"/>
<path d="M304.5 736.7l13.8 4.5-12-5.9-13.8-4.4z" fill="#7e4e2f"/>
<path d="M292.5 730.9l24 11.5 13.8 4.8" class="m"/>
<path d="M923.9 703.6l4.6 13.3-8 11.1-4.6-12.2z" fill="#7eff8a"/>
<path d="M915.9 715.8l4.6 12.2-8 11.1-4.6-11.1z" fill="#88ff8e"/>
<path d="M907.9 728l4.6 11.1-8 11.1-4.6-10z" fill="#90ff91"/>
<path d="M928.5 716.9l4.6 13.3-8 10-4.6-12.2z" fill="#76fc7e"/>
<path d="M920.5 728l4.6 12.2-8 9.9-4.6-11z" fill="#7eff81"/>
<path d="M912.5 739.1l4.6 11-7.9 10-4.7-9.9z" fill="#84ff83"/>
<path d="M933.1 730.2l4.7 13.3-8 8.8-4.7-12.1z" fill="#6df273"/>
<path d="M925.1 740.2l4.7 12.1-8 8.9-4.7-11.1z" fill="#74f975"/>
<path d="M917.1 750.1l4.7 11.1-8 8.9-4.6-10z" fill="#79fe76"/>
<path d="M899.9 740.2l24-36.6 13.9 39.9" class="m"/>
<path d="M700.7 734.1l13.9 14.1-12 .9-13.8-14.1z" fill="#9bd56e"/>
<path d="M688.8 735l13.8 14.1-12 .9-13.8-14.2z" fill="#9ed56e"/>
<path d="M676.8 735.8l23.9-1.7 13.9 14.1" class="m"/>
<path d="M477.7 734.3l13.8 8.8-12 5.9-13.8-8.8z" fill="#fff096"/>
<path d="M465.7 740.2l13.8 8.8-12 5.9-13.8-8.7z" fill="#ffed92"/>
<path d="M453.7 746.2l24-11.9 13.8 8.8" class="m"/>
<path d="M254.7 713.2l13.8 2-7.9-14.5-13.8-1.6z" fill="#844a33"/>
<path d="M246.8 699.1l13.8 1.6-8-14.5-13.8-1.2z" fill="#8f4f3a"/>
<path d="M238.8 685l13.8 1.2-8-14.5-13.8-.8z" fill="#9a5642"/>
<path d="M230.8 670.9l23.9 42.3 13.8 2M244.6 671.7l-13.8-.8" class="m"/>
<path d="M862.1 739.2l6.9 11.3-12 8-6.9-10.5z" fill="#aaff9d"/>
<path d="M850.1 748l6.9 10.5-12 8.1-6.9-9.8z" fill="#9dff8a"/>
<path d="M869 750.5l6.9 11.2-11.9 7.3-7-10.5z" fill="#9aff8b"/>
<path d="M857 758.5l7 10.5-12 7.3-7-9.7z" fill="#92ff7e"/>
<path d="M838.1 756.8l24-17.6 13.8 22.5" class="m"/>
<path d="M639 725.3l13.8 13-12 2.2-13.8-13z" fill="#b1d876"/>
<path d="M627 727.5l13.8 13-12 2.2-13.8-13z" fill="#b8dc78"/>
<path d="M615 729.7l24-4.4 13.8 13" class="m"/>
<path d="M416 749.8l13.8 6.5-12 3.4-13.8-6.5z" fill="#ffd582"/>
<path d="M404 753.2l13.8 6.5-12 3.4-13.8-6.5z" fill="#ffce7c"/>
<path d="M392 756.6l24-6.8 13.8 6.5" class="m"/>
<path d="M800.3 749.6l13.9 17.1-12 3.4-13.9-16.9z" fill="#90f272"/>
<path d="M788.3 753.2l13.9 16.9-12 3.3-13.9-16.6z" fill="#8fec6e"/>
<path d="M776.3 756.8l24-7.2 13.9 17.1" class="m"/>
<path d="M577.2 723.9l13.8 11.7-12 3.6-13.8-11.6z" fill="#d0e282"/>
<path d="M565.2 727.6l13.8 11.6-11.9 3.5-13.9-11.5z" fill="#dae886"/>
<path d="M553.2 731.2l24-7.3 13.8 11.7" class="m"/>
<path d="M354.2 752.6l13.8 5.9-12-2.8-13.8-5.8z" fill="#e6a869"/>
<path d="M342.2 749.9l13.8 5.8-12-2.7-13.7-5.8z" fill="#d79b61"/>
<path d="M330.3 747.2l23.9 5.4 13.8 5.9" class="m"/>
<path d="M961.7 703.2l4.6 20.3-7.9 11.5-4.7-18.3z" fill="#59de69"/>
<path d="M953.7 716.7l4.7 18.3-8 11.5-4.7-16.4z" fill="#5de168"/>
<path d="M945.7 730.1l4.7 16.4-8 11.4-4.6-14.4z" fill="#60e467"/>
<path d="M966.3 723.5l4.7 20.3-8 9.6-4.6-18.4z" fill="#52d25d"/>
<path d="M958.4 735l4.6 18.4-8 9.5-4.6-16.4z" fill="#55d65d"/>
<path d="M950.4 746.5l4.6 16.4-8 9.5-4.6-14.5z" fill="#58d85c"/>
<path d="M971 743.8l4.6 20.3-8 7.6-4.6-18.3z" fill="#4bc652"/>
<path d="M963 753.4l4.6 18.3-8 7.6-4.6-16.4z" fill="#4eca52"/>
<path d="M955 762.9l4.6 16.4-8 7.6-4.6-14.5z" fill="#52cd52"/>
<path d="M937.8 743.5l23.9-40.3 13.9 60.9" class="m"/>
<path d="M738.5 745.7l13.9 15.3-12 1.2-13.8-15.3z" fill="#94dc6b"/>
<path d="M726.6 746.9l13.8 15.3-12 1.3-13.8-15.3z" fill="#95da6a"/>
<path d="M714.6 748.2l23.9-2.5 13.9 15.3" class="m"/>
<path d="M515.5 731.1l13.8 10.6-12 5.9-13.8-10.5z" fill="#faf394"/>
<path d="M503.5 737.1l13.8 10.5-12 5.8-13.8-10.3z" fill="#fff694"/>
<path d="M491.5 743.1l24-12 13.8 10.6" class="m"/>
<path d="M292.5 730.9l13.8 4.4-12-8.3-13.8-3.9z" fill="#804e30"/>
<path d="M280.5 723.1l13.8 3.9-12-8.2-13.8-3.6z" fill="#824e32"/>
<path d="M268.5 715.2l24 15.7 13.8 4.4" class="m"/>
<path d="M899.9 740.2l6.9 15-11.9 9.4-7-13.6z" fill="#92ff8c"/>
<path d="M887.9 751l7 13.6-12 9.4-7-12.3z" fill="#90ff85"/>
<path d="M906.8 755.2l7 14.9-12 8-6.9-13.5z" fill="#80ff78"/>
<path d="M894.9 764.6l6.9 13.5-12 8.1-6.9-12.2z" fill="#80ff73"/>
<path d="M875.9 761.7l24-21.5 13.9 29.9" class="m"/>
<path d="M676.8 735.8l13.8 14.2-12 1.3-13.8-14.2z" fill="#a3d66f"/>
<path d="M664.8 737.1l13.8 14.2-12 1.4-13.8-14.4z" fill="#a8d970"/>
<path d="M652.8 738.3l24-2.5 13.8 14.2" class="m"/>
<path d="M453.7 746.2l13.8 8.7-12 5-13.8-8.7z" fill="#ffe88c"/>
<path d="M441.7 751.2l13.8 8.7-11.9 5.1-13.8-8.7z" fill="#ffe286"/>
<path d="M429.8 756.3l23.9-10.1 13.8 8.7" class="m"/>
<path d="M838.1 756.8l13.9 19.5-12 4.4-13.9-19z" fill="#90ff78"/>
<path d="M826.1 761.7l13.9 19-12 4.5-13.8-18.5z" fill="#8cf870"/>
<path d="M814.2 766.7l23.9-9.9 13.9 19.5" class="m"/>
<path d="M615 729.7l13.8 13-12 3-13.8-13.1z" fill="#bfdf7a"/>
<path d="M603 732.6l13.8 13.1-12 2.9-13.8-13z" fill="#c5e27c"/>
<path d="M591 735.6l24-5.9 13.8 13" class="m"/>
<path d="M392 756.6l13.8 6.5-12 1-13.8-6.6z" fill="#fac576"/>
<path d="M380 757.5l13.8 6.6-12 .9-13.8-6.5z" fill="#efba6f"/>
<path d="M368 758.5l24-1.9 13.8 6.5" class="m"/>
<path d="M999.6 718l4.6 36.2-8 10.7-4.6-31.5z" fill="#339c3f"/>
<path d="M991.6 733.4l4.6 31.5-8 10.6-4.6-26.7z" fill="#39a642"/>
<path d="M983.6 748.8l4.6 26.7-8 10.7-4.6-22.1z" fill="#3fb145"/>
<path d="M1004.2 754.2l4.6 36.3-8 5.9-4.6-31.5z" fill="#2b8b32"/>
<path d="M996.2 764.9l4.6 31.5-8 5.9-4.6-26.8z" fill="#319535"/>
<path d="M988.2 775.5l4.6 26.8-8 5.9-4.6-22z" fill="#37a039"/>
<path d="M1008.8 790.5l4.6 36.2-8 1.2-4.6-31.5z" fill="#2a8a2c"/>
<path d="M1000.8 796.4l4.6 31.5-8 1.2-4.6-26.8z" fill="#2c8a2c"/>
<path d="M992.8 802.3l4.6 26.8-8 1.2-4.6-22.1z" fill="#2f8d2d"/>
<path d="M975.6 764.1l24-46.1 13.8 108.7M1013.4 826.7l-24 3.6" class="m"/>
<path d="M776.3 756.8l13.9 16.6-12 2-13.8-16.5z" fill="#8fe76b"/>
<path d="M764.4 758.9l13.8 16.5-12 2.1-13.8-16.5z" fill="#90e368"/>
<path d="M752.4 761l23.9-4.2 13.9 16.6" class="m"/>
<path d="M553.2 731.2l13.9 11.5-12 5.4-13.8-11.7z" fill="#e3ee8a"/>
<path d="M541.3 736.4l13.8 11.7-12 5.3-13.8-11.7z" fill="#eef48e"/>
<path d="M529.3 741.7l23.9-10.5 13.9 11.5" class="m"/>
<path d="M330.3 747.2l13.7 5.8-11.9-6.1-13.8-5.7z" fill="#7b522e"/>
<path d="M318.3 741.2l13.8 5.7-12-6-13.8-5.6z" fill="#7e522f"/>
<path d="M306.3 735.3l24 11.9 13.7 5.8" class="m"/>
<path d="M937.8 743.5l4.6 14.4-12 11.5-4.6-12.6z" fill="#66e968"/>
<path d="M925.8 756.8l4.6 12.6-12 11.5-4.6-10.8z" fill="#6ef16a"/>
<path d="M942.4 757.9l4.6 14.5-12 9.6-4.6-12.6z" fill="#5edd5d"/>
<path d="M930.4 769.4l4.6 12.6-12 9.7-4.6-10.8z" fill="#65e55f"/>
<path d="M947 772.4l4.6 14.5-12 7.8-4.6-12.7z" fill="#57d353"/>
<path d="M935 782l4.6 12.7-12 7.8-4.6-10.8z" fill="#5edb56"/>
<path d="M913.8 770.1l24-26.6 13.8 43.4" class="m"/>
<path d="M714.6 748.2l13.8 15.3-12 1-13.8-15.4z" fill="#98d969"/>
<path d="M702.6 749.1l13.8 15.4-12 1.1-13.8-15.6z" fill="#9bd96a"/>
<path d="M690.6 750l24-1.8 13.8 15.3" class="m"/>
<path d="M491.5 743.1l13.8 10.3-12 5.8-13.8-10.2z" fill="#fff593"/>
<path d="M479.5 749l13.8 10.2-12 5.8-13.8-10.1z" fill="#fff38f"/>
<path d="M467.5 754.9l24-11.8 13.8 10.3" class="m"/>
<path d="M268.5 715.2l13.8 3.6-8-14.7-13.7-3.4z" fill="#885136"/>
<path d="M260.6 700.7l13.7 3.4-7.9-14.7-13.8-3.2z" fill="#93573d"/>
<path d="M252.6 686.2l13.8 3.2-8-14.7-13.8-3z" fill="#9f5d45"/>
<path d="M244.6 671.7l23.9 43.5 13.8 3.6M258.4 674.7l-13.8-3" class="m"/>
<path d="M875.9 761.7l7 12.3-12 6.4-6.9-11.4z" fill="#8cff7b"/>
<path d="M864 769l6.9 11.4-12 6.5-6.9-10.6z" fill="#89ff73"/>
<path d="M882.9 774l6.9 12.2-12 5.6-6.9-11.4z" fill="#80fd6e"/>
<path d="M870.9 780.4l6.9 11.4-12 5.7-6.9-10.6z" fill="#81fa6a"/>
<path d="M852 776.3l23.9-14.6 13.9 24.5" class="m"/>
<path d="M652.8 738.3l13.8 14.4-12 2.2-13.8-14.4z" fill="#aedc72"/>
<path d="M640.8 740.5l13.8 14.4-12 2.2-13.8-14.4z" fill="#b5df74"/>
<path d="M628.8 742.7l24-4.4 13.8 14.4" class="m"/>
<path d="M429.8 756.3l13.8 8.7-12 3.4-13.8-8.7z" fill="#ffdb80"/>
<path d="M417.8 759.7l13.8 8.7-12 3.5-13.8-8.8z" fill="#fdd37a"/>
<path d="M405.8 763.1l24-6.8 13.8 8.7" class="m"/>
<path d="M814.2 766.7l13.8 18.5-12 3-13.8-18.1z" fill="#8af16a"/>
<path d="M802.2 770.1l13.8 18.1-12 3-13.8-17.8z" fill="#8bed67"/>
<path d="M790.2 773.4l24-6.7 13.8 18.5" class="m"/>
<path d="M591 735.6l13.8 13-12 3.5-13.8-12.9z" fill="#cde67e"/>
<path d="M579 739.2l13.8 12.9-11.9 3.4-13.8-12.8z" fill="#d6ec82"/>
<path d="M567.1 742.7l23.9-7.1 13.8 13" class="m"/>
<path d="M368 758.5l13.8 6.5-12-2.6-13.8-6.7z" fill="#e3ad68"/>
<path d="M356 755.7l13.8 6.7-12-2.7-13.8-6.7z" fill="#d49f60"/>
<path d="M344 753l24 5.5 13.8 6.5" class="m"/>
<path d="M975.6 764.1l4.6 22.1-12 8.1-4.6-18.8z" fill="#45ba47"/>
<path d="M963.6 775.5l4.6 18.8-12 8.2-4.6-15.6z" fill="#4ac048"/>
<path d="M980.2 786.2l4.6 22-12 5-4.6-18.9z" fill="#3da93c"/>
<path d="M968.2 794.3l4.6 18.9-12 5-4.6-15.7z" fill="#43b33f"/>
<path d="M984.8 808.2l4.6 22.1-12 1.7-4.6-18.8z" fill="#359831"/>
<path d="M972.8 813.2l4.6 18.8-12 1.8-4.6-15.6z" fill="#3ca435"/>
<path d="M951.6 786.9l24-22.8 13.8 66.2M989.4 830.3l-24 3.5" class="m"/>
<path d="M752.4 761l13.8 16.5-12 1.3-13.8-16.6z" fill="#91df66"/>
<path d="M740.4 762.2l13.8 16.6-12 1.3-13.8-16.6z" fill="#93dd65"/>
<path d="M728.4 763.5l24-2.5 13.8 16.5" class="m"/>
<path d="M529.3 741.7l13.8 11.7-12 5.7-13.8-11.5z" fill="#f6f890"/>
<path d="M517.3 747.6l13.8 11.5-12 5.7-13.8-11.4z" fill="#fcfa90"/>
<path d="M505.3 753.4l24-11.7 13.8 11.7" class="m"/>
<path d="M306.3 735.3l13.8 5.6-12-8.4-13.8-5.5z" fill="#805230"/>
<path d="M294.3 727l13.8 5.5-12-8.4-13.8-5.3z" fill="#825232"/>
<path d="M282.3 718.8l24 16.5 13.8 5.6" class="m"/>
<path d="M913.8 770.1l6.9 16.2-12 6.5-6.9-14.7z" fill="#71f267"/>
<path d="M901.8 778.1l6.9 14.7-12 6.6-6.9-13.2z" fill="#74f365"/>
<path d="M920.7 786.3l6.9 16.2-12 5-6.9-14.7z" fill="#66e459"/>
<path d="M908.7 792.8l6.9 14.7-12 5.1-6.9-13.2z" fill="#6be85a"/>
<path d="M889.8 786.2l24-16.1 13.8 32.4" class="m"/>
<path d="M690.6 750l13.8 15.6-12 1.4-13.8-15.7z" fill="#a0da6a"/>
<path d="M678.6 751.3l13.8 15.7-12 1.4-13.8-15.7z" fill="#a5dc6c"/>
<path d="M666.6 752.7l24-2.7 13.8 15.6" class="m"/>
<path d="M467.5 754.9l13.8 10.1-12 5-13.8-10.1z" fill="#ffee8a"/>
<path d="M455.5 759.9l13.8 10.1-11.9 5-13.8-10z" fill="#ffe884"/>
<path d="M443.6 765l23.9-10.1 13.8 10.1" class="m"/>
<path d="M852 776.3l6.9 10.6-12 4.1-6.9-10.3z" fill="#87fb6d"/>
<path d="M840 780.7l6.9 10.3-12 4-6.9-9.8z" fill="#86f568"/>
<path d="M858.9 786.9l6.9 10.6-12 3.7-6.9-10.2z" fill="#81f766"/>
<path d="M846.9 791l6.9 10.2-12 3.7-6.9-9.9z" fill="#82f363"/>
<path d="M828 785.2l24-8.9 13.8 21.2" class="m"/>
<path d="M628.8 742.7l13.8 14.4-12 2.9-13.8-14.3z" fill="#bbe275"/>
<path d="M616.8 745.7l13.8 14.3-12 2.9-13.8-14.3z" fill="#c1e577"/>
<path d="M604.8 748.6l24-5.9 13.8 14.4" class="m"/>
<path d="M405.8 763.1l13.8 8.8-12 1.1-13.8-8.9z" fill="#f6ca74"/>
<path d="M393.8 764.1l13.8 8.9-12 1.2-13.8-9.2z" fill="#ecbe6d"/>
<path d="M381.8 765l24-1.9 13.8 8.8" class="m"/>
<path d="M790.2 773.4l13.8 17.8-12 2-13.8-17.8z" fill="#8be965"/>
<path d="M778.2 775.4l13.8 17.8-12 2-13.8-17.7z" fill="#8de563"/>
<path d="M766.2 777.5l24-4.1 13.8 17.8" class="m"/>
<path d="M567.1 742.7l13.8 12.8-12 5.4-13.8-12.8z" fill="#e0f286"/>
<path d="M555.1 748.1l13.8 12.8-12 5.3-13.8-12.8z" fill="#eaf889"/>
<path d="M543.1 753.4l24-10.7 13.8 12.8" class="m"/>
<path d="M344 753l13.8 6.7-11.9-6-13.8-6.8z" fill="#7b562e"/>
<path d="M332.1 746.9l13.8 6.8-12-6-13.8-6.8z" fill="#7e562f"/>
<path d="M320.1 740.9l23.9 12.1 13.8 6.7" class="m"/>
<path d="M951.6 786.9l4.6 15.6-12 5.8-4.6-13.6z" fill="#51c84b"/>
<path d="M939.6 794.7l4.6 13.6-12 5.8-4.6-11.6z" fill="#58d24e"/>
<path d="M956.2 802.5l4.6 15.7-12 3.7-4.6-13.6z" fill="#4bbd42"/>
<path d="M944.2 808.3l4.6 13.6-12 3.8-4.6-11.6z" fill="#53c846"/>
<path d="M960.8 818.2l4.6 15.6-12 1.8-4.6-13.7z" fill="#44b13a"/>
<path d="M948.8 821.9l4.6 13.7-12 1.8-4.6-11.7z" fill="#4dbe3f"/>
<path d="M927.6 802.5l24-15.6 13.8 46.9M965.4 833.8l-24 3.6" class="m"/>
<path d="M728.4 763.5l13.8 16.6-12 1.2-13.8-16.8z" fill="#95dc65"/>
<path d="M716.4 764.5l13.8 16.8-12 1.1-13.8-16.8z" fill="#99dc65"/>
<path d="M704.4 765.6l24-2.1 13.8 16.6" class="m"/>
<path d="M505.3 753.4l13.8 11.4-12 5.6-13.8-11.2z" fill="#fffa8f"/>
<path d="M493.3 759.2l13.8 11.2-12 5.7-13.8-11.1z" fill="#fff78b"/>
<path d="M481.3 765l24-11.6 13.8 11.4" class="m"/>
<path d="M282.3 718.8l13.8 5.3-8-14.8-13.8-5.2z" fill="#8c5838"/>
<path d="M274.3 704.1l13.8 5.2-8-14.7-13.7-5.2z" fill="#975e3f"/>
<path d="M266.4 689.4l13.7 5.2-7.9-14.8-13.8-5.1z" fill="#a26447"/>
<path d="M258.4 674.7l23.9 44.1 13.8 5.3M272.2 679.8l-13.8-5.1" class="m"/>
<path d="M889.8 786.2l6.9 13.2-12 4.7-6.9-12.3z" fill="#77f363"/>
<path d="M877.8 791.8l6.9 12.3-12 4.7-6.9-11.3z" fill="#7af361"/>
<path d="M896.7 799.4l6.9 13.2-12 3.8-6.9-12.3z" fill="#70ea5a"/>
<path d="M884.7 804.1l6.9 12.3-12 3.8-6.9-11.4z" fill="#74ed5a"/>
<path d="M865.8 797.5l24-11.3 13.8 26.4" class="m"/>
<path d="M666.6 752.7l13.8 15.7-12 2.2-13.8-15.7z" fill="#abdf6d"/>
<path d="M654.6 754.9l13.8 15.7-12 2.2-13.8-15.7z" fill="#b1e26f"/>
<path d="M642.6 757.1l24-4.4 13.8 15.7" class="m"/>
<path d="M443.6 765l13.8 10-12 3.5-13.8-10.1z" fill="#ffe07e"/>
<path d="M431.6 768.4l13.8 10.1-12 3.5-13.8-10.1z" fill="#fad978"/>
<path d="M419.6 771.9l24-6.9 13.8 10" class="m"/>
<path d="M828 785.2l6.9 9.8-12 2.9-6.9-9.7z" fill="#86f065"/>
<path d="M816 788.2l6.9 9.7-12 2.8-6.9-9.5z" fill="#87ed62"/>
<path d="M834.9 795l6.9 9.9-12 2.6-6.9-9.6z" fill="#83ef61"/>
<path d="M822.9 797.9l6.9 9.6-12 2.7-6.9-9.5z" fill="#85ed5f"/>
<path d="M804 791.2l24-6 13.8 19.7" class="m"/>
<path d="M604.8 748.6l13.8 14.3-11.9 3.3-13.9-14.1z" fill="#c8e979"/>
<path d="M592.8 752.1l13.9 14.1-12 3.3-13.8-14z" fill="#d2ef7d"/>
<path d="M580.9 755.5l23.9-6.9 13.8 14.3" class="m"/>
<path d="M381.8 765l13.8 9.2-12-2.3-13.8-9.5z" fill="#e0b266"/>
<path d="M369.8 762.4l13.8 9.5-12-2.3-13.8-9.9z" fill="#d1a35e"/>
<path d="M357.8 759.7l24 5.3 13.8 9.2" class="m"/>
<path d="M766.2 777.5l13.8 17.7-12 1.4-13.8-17.8z" fill="#8ee262"/>
<path d="M754.2 778.8l13.8 17.8-12 1.4-13.8-17.9z" fill="#90e061"/>
<path d="M742.2 780.1l24-2.6 13.8 17.7" class="m"/>
<path d="M543.1 753.4l13.8 12.8-12 5.5-13.8-12.6z" fill="#f2fc8b"/>
<path d="M531.1 759.1l13.8 12.6-12 5.5-13.8-12.4z" fill="#f7fd8b"/>
<path d="M519.1 764.8l24-11.4 13.8 12.8" class="m"/>
<path d="M320.1 740.9l13.8 6.8-12-8.2-13.8-7z" fill="#805630"/>
<path d="M308.1 732.5l13.8 7-12-8.2-13.8-7.2z" fill="#825632"/>
<path d="M296.1 724.1l24 16.8 13.8 6.8" class="m"/>
<path d="M927.6 802.5l6.9 17.4-12 3.4-6.9-15.8z" fill="#5ed74e"/>
<path d="M915.6 807.5l6.9 15.8-12 3.5-6.9-14.2z" fill="#64de50"/>
<path d="M934.5 819.9l6.9 17.5-12 1.7-6.9-15.8z" fill="#56cb45"/>
<path d="M922.5 823.3l6.9 15.8-12 1.8-6.9-14.1z" fill="#5dd448"/>
<path d="M903.6 812.6l24-10.1 13.8 34.9M941.4 837.4l-24 3.5" class="m"/>
<path d="M704.4 765.6l13.8 16.8-12 1.5-13.8-16.9z" fill="#9ddd66"/>
<path d="M692.4 767l13.8 16.9-12 1.5-13.8-17z" fill="#a2df67"/>
<path d="M680.4 768.4l24-2.8 13.8 16.8" class="m"/>
<path d="M481.3 765l13.8 11.1-12 4.9-13.8-11z" fill="#fff387"/>
<path d="M469.3 770l13.8 11-11.9 4.9-13.8-10.9z" fill="#ffed81"/>
<path d="M457.4 775l23.9-10 13.8 11.1" class="m"/>
<path d="M865.8 797.5l6.9 11.3-12 3.3-6.9-10.9z" fill="#7cf260"/>
<path d="M853.8 801.2l6.9 10.9-12 3.2-6.9-10.4z" fill="#7ef05e"/>
<path d="M872.7 808.8l6.9 11.4-12 2.8-6.9-10.9z" fill="#78ee5a"/>
<path d="M860.7 812.1l6.9 10.9-12 2.8-6.9-10.5z" fill="#7bee59"/>
<path d="M841.8 804.9l24-7.4 13.8 22.7" class="m"/>
<path d="M642.6 757.1l13.8 15.7-12 2.8-13.8-15.6z" fill="#b7e470"/>
<path d="M630.6 760l13.8 15.6-11.9 2.8-13.9-15.5z" fill="#bde771"/>
<path d="M618.6 762.9l24-5.8 13.8 15.7" class="m"/>
<path d="M419.6 771.9l13.8 10.1-12 1.4-13.8-10.4z" fill="#f4d072"/>
<path d="M407.6 773l13.8 10.4-12 1.5-13.8-10.7z" fill="#eac46b"/>
<path d="M395.6 774.2l24-2.3 13.8 10.1" class="m"/>
<path d="M804 791.2l13.8 19-12 1.9-13.8-18.9z" fill="#88ea5f"/>
<path d="M792 793.2l13.8 18.9-12 1.9-13.8-18.8z" fill="#8ae75e"/>
<path d="M780 795.2l24-4 13.8 19" class="m"/>
<path d="M580.9 755.5l13.8 14-12 5.3-13.8-13.9z" fill="#dbf580"/>
<path d="M568.9 760.9l13.8 13.9-12 5.3-13.8-13.9z" fill="#e5fb84"/>
<path d="M556.9 766.2l24-10.7 13.8 14" class="m"/>
<path d="M357.8 759.7l13.8 9.9-11.9-5.5-13.8-10.4z" fill="#c39557"/>
<path d="M345.9 753.7l13.8 10.4-12-5.4-13.8-11z" fill="#b68950"/>
<path d="M333.9 747.7l23.9 12 13.8 9.9" class="m"/>
<path d="M742.2 780.1l13.8 17.9-12 1.3-13.8-18z" fill="#93df60"/>
<path d="M730.2 781.3l13.8 18-12 1.3-13.8-18.2z" fill="#96df60"/>
<path d="M718.2 782.4l24-2.3 13.8 17.9" class="m"/>
<path d="M519.1 764.8l13.8 12.4-12 5.4-13.8-12.2z" fill="#fbfd8a"/>
<path d="M507.1 770.4l13.8 12.2-12 5.4-13.8-11.9z" fill="#fdfb87"/>
<path d="M495.1 776.1l24-11.3 13.8 12.4" class="m"/>
<path d="M296.1 724.1l13.8 7.2-8-14.7-13.8-7.3z" fill="#8f5e39"/>
<path d="M288.1 709.3l13.8 7.3-8-14.7-13.8-7.3z" fill="#9a6540"/>
<path d="M280.1 694.6l13.8 7.3-8-14.8-13.7-7.3z" fill="#a56b48"/>
<path d="M272.2 679.8l23.9 44.3 13.8 7.2M285.9 687.1l-13.7-7.3" class="m"/>
<path d="M903.6 812.6l6.9 14.2-12 2.7-6.9-13.1z" fill="#69e352"/>
<path d="M891.6 816.4l6.9 13.1-12 2.8-6.9-12.1z" fill="#6fe754"/>
<path d="M910.5 826.8l6.9 14.1-12 1.8-6.9-13.2z" fill="#64db4b"/>
<path d="M898.5 829.5l6.9 13.2-12 1.8-6.9-12.2z" fill="#6ae24e"/>
<path d="M879.6 820.2l24-7.6 13.8 28.3M917.4 840.9l-24 3.6" class="m"/>
<path d="M680.4 768.4l13.8 17-12 2.2-13.8-17z" fill="#a7e168"/>
<path d="M668.4 770.6l13.8 17-12 2.2-13.8-17z" fill="#ade46a"/>
<path d="M656.4 772.8l24-4.4 13.8 17" class="m"/>
<path d="M457.4 775l13.8 10.9-12 3.5-13.8-10.9z" fill="#fce67b"/>
<path d="M445.4 778.5l13.8 10.9-12 3.6-13.8-11z" fill="#f9df76"/>
<path d="M433.4 782l24-7 13.8 10.9" class="m"/>
<path d="M841.8 804.9l6.9 10.4-12 2.5-6.9-10.3z" fill="#81ee5d"/>
<path d="M829.8 807.5l6.9 10.3-12 2.5-6.9-10.1z" fill="#83ed5c"/>
<path d="M848.7 815.3l6.9 10.5-12 2.3-6.9-10.3z" fill="#7eed59"/>
<path d="M836.7 817.8l6.9 10.3-12 2.2-6.9-10z" fill="#81ec58"/>
<path d="M817.8 810.2l24-5.3 13.8 20.9" class="m"/>
<path d="M618.6 762.9l13.9 15.5-12 3.2-13.8-15.4z" fill="#c4eb74"/>
<path d="M606.7 766.2l13.8 15.4-12 3.2-13.8-15.3z" fill="#cdf177"/>
<path d="M594.7 769.5l23.9-6.6 13.9 15.5" class="m"/>
<path d="M395.6 774.2l13.8 10.7-12-1.8-13.8-11.2z" fill="#dfb864"/>
<path d="M383.6 771.9l13.8 11.2-12-1.9-13.8-11.6z" fill="#d1a95d"/>
<path d="M371.6 769.6l24 4.6 13.8 10.7" class="m"/>
<path d="M780 795.2l13.8 18.8-12 1.5-13.8-18.9z" fill="#8ce55d"/>
<path d="M768 796.6l13.8 18.9-12 1.6-13.8-19.1z" fill="#8ee45c"/>
<path d="M756 798l24-2.8 13.8 18.8" class="m"/>
<path d="M556.9 766.2l13.8 13.9-12 5.2-13.8-13.6z" fill="#ecfe85"/>
<path d="M544.9 771.7l13.8 13.6-12 5.1-13.8-13.2z" fill="#f1ff85"/>
<path d="M532.9 777.2l24-11 13.8 13.9" class="m"/>
<path d="M333.9 747.7l13.8 11-12-9.1-13.8-10.1z" fill="#a37847"/>
<path d="M321.9 739.5l13.8 10.1-12-9.2-13.8-9.1z" fill="#8a643b"/>
<path d="M309.9 731.3l24 16.4 13.8 11" class="m"/>
<path d="M718.2 782.4l13.8 18.2-12 1.5-13.8-18.2z" fill="#9ae061"/>
<path d="M706.2 783.9l13.8 18.2-12 1.6-13.8-18.3z" fill="#9fe262"/>
<path d="M694.2 785.4l24-3 13.8 18.2" class="m"/>
<path d="M495.1 776.1l13.8 11.9-12 4.8-13.8-11.8z" fill="#fdf783"/>
<path d="M483.1 781l13.8 11.8-11.9 4.7-13.8-11.6z" fill="#fcf27e"/>
<path d="M471.2 785.9l23.9-9.8 13.8 11.9" class="m"/>
<path d="M879.6 820.2l6.9 12.1-12 2.3-6.9-11.6z" fill="#74ea54"/>
<path d="M867.6 823l6.9 11.6-12 2.3-6.9-11.1z" fill="#78eb55"/>
<path d="M886.5 832.3l6.9 12.2-12 1.7-6.9-11.6z" fill="#70e64f"/>
<path d="M874.5 834.6l6.9 11.6-12 1.8-6.9-11.1z" fill="#75e951"/>
<path d="M855.6 825.8l24-5.6 13.8 24.3M893.4 844.5l-24 3.5" class="m"/>
<path d="M656.4 772.8l13.8 17-11.9 2.7-13.9-16.9z" fill="#b3e76b"/>
<path d="M644.4 775.6l13.9 16.9-12 2.7-13.8-16.8z" fill="#b8e96c"/>
<path d="M632.5 778.4l23.9-5.6 13.8 17" class="m"/>
<path d="M433.4 782l13.8 11-12 1.6-13.8-11.2z" fill="#f3d670"/>
<path d="M421.4 783.4l13.8 11.2-12 1.7-13.8-11.4z" fill="#eacc6a"/>
<path d="M409.4 784.9l24-2.9 13.8 11" class="m"/>
<path d="M817.8 810.2l6.9 10.1-12 1.8-6.9-10z" fill="#85eb5b"/>
<path d="M805.8 812.1l6.9 10-12 1.9-6.9-10z" fill="#87e95a"/>
<path d="M824.7 820.3l6.9 10-12 1.9-6.9-10.1z" fill="#83eb58"/>
<path d="M812.7 822.1l6.9 10.1-12 1.8-6.9-10z" fill="#86ea57"/>
<path d="M793.8 814l24-3.8 13.8 20.1" class="m"/>
<path d="M594.7 769.5l13.8 15.3-12 5.1-13.8-15.1z" fill="#d6f77a"/>
<path d="M582.7 774.8l13.8 15.1-12 5.1-13.8-14.9z" fill="#dffc7d"/>
<path d="M570.7 780.1l24-10.6 13.8 15.3" class="m"/>
<path d="M371.6 769.6l13.8 11.6-12-4.6-13.7-12.5z" fill="#c29a55"/>
<path d="M359.7 764.1l13.7 12.5-11.9-4.7-13.8-13.2z" fill="#b18a4d"/>
<path d="M347.7 758.7l23.9 10.9 13.8 11.6" class="m"/>
<path d="M756 798l13.8 19.1-12 1.4-13.8-19.2z" fill="#91e35c"/>
<path d="M744 799.3l13.8 19.2-12 1.5-13.8-19.4z" fill="#94e25c"/>
<path d="M732 800.6l24-2.6 13.8 19.1" class="m"/>
<path d="M532.9 777.2l13.8 13.2-12 5.2-13.8-13z" fill="#f5ff83"/>
<path d="M520.9 782.6l13.8 13-12 5.1-13.8-12.7z" fill="#f8fe81"/>
<path d="M508.9 788l24-10.8 13.8 13.2" class="m"/>
<path d="M309.9 731.3l13.8 9.1-8-14.2-13.8-9.6z" fill="#91653a"/>
<path d="M301.9 716.6l13.8 9.6-8-14.3-13.8-10z" fill="#9c6b41"/>
<path d="M293.9 701.9l13.8 10-8-14.3-13.8-10.5z" fill="#a87249"/>
<path d="M285.9 687.1l24 44.2 13.8 9.1M299.7 697.6l-13.8-10.5" class="m"/>
<path d="M694.2 785.4l13.8 18.3-11.9 2.2-13.9-18.3z" fill="#a4e463"/>
<path d="M682.2 787.6l13.9 18.3-12 2.1-13.9-18.2z" fill="#a9e664"/>
<path d="M670.2 789.8l24-4.4 13.8 18.3" class="m"/>
<path d="M471.2 785.9l13.8 11.6-12 3.5-13.8-11.6z" fill="#faec79"/>
<path d="M459.2 789.4l13.8 11.6-12 3.6-13.8-11.6z" fill="#f7e674"/>
<path d="M447.2 793l24-7.1 13.8 11.6" class="m"/>
<path d="M855.6 825.8l6.9 11.1-12 2-6.9-10.8z" fill="#7bec55"/>
<path d="M843.6 828.1l6.9 10.8-12 2.1-6.9-10.7z" fill="#7fec55"/>
<path d="M862.5 836.9l6.9 11.1-11.9 1.8-7-10.9z" fill="#79ec51"/>
<path d="M850.5 838.9l7 10.9-12 1.8-7-10.6z" fill="#7ded52"/>
<path d="M831.6 830.3l24-4.5 13.8 22.2M869.4 848l-23.9 3.6" class="m"/>
<path d="M632.5 778.4l13.8 16.8-12 2.9-13.8-16.5z" fill="#bfed6e"/>
<path d="M620.5 781.6l13.8 16.5-12 3-13.8-16.3z" fill="#c8f271"/>
<path d="M608.5 784.8l24-6.4 13.8 16.8" class="m"/>
<path d="M409.4 784.9l13.8 11.4-12-1.3-13.8-11.9z" fill="#e0c064"/>
<path d="M397.4 783.1l13.8 11.9-12-1.2-13.8-12.6z" fill="#d4b25d"/>
<path d="M385.4 781.2l24 3.7 13.8 11.4" class="m"/>
<path d="M793.8 814l6.9 10-12 1.6-6.9-10.1z" fill="#8ae759"/>
<path d="M781.8 815.5l6.9 10.1-12 1.6-6.9-10.1z" fill="#8ce658"/>
<path d="M800.7 824l6.9 10-11.9 1.7-7-10.1z" fill="#89e956"/>
<path d="M788.7 825.6l7 10.1-12 1.6-7-10.1z" fill="#8be856"/>
<path d="M769.8 817.1l24-3.1 13.8 20" class="m"/>
<path d="M570.7 780.1l13.8 14.9-12 4.8-13.8-14.5z" fill="#e6ff7f"/>
<path d="M558.7 785.3l13.8 14.5-12 4.8-13.8-14.2z" fill="#eaff7e"/>
<path d="M546.7 790.4l24-10.3 13.8 14.9" class="m"/>
<path d="M347.7 758.7l13.8 13.2-12-10.3-13.8-12z" fill="#9d7843"/>
<path d="M335.7 749.6l13.8 12-12-10.4-13.8-10.8z" fill="#866439"/>
<path d="M323.7 740.4l24 18.3 13.8 13.2" class="m"/>
<path d="M732 800.6l13.8 19.4-11.9 1.6-13.9-19.5z" fill="#97e35c"/>
<path d="M720 802.1l13.9 19.5-12 1.7-13.9-19.6z" fill="#9ce45d"/>
<path d="M708 803.7l24-3.1 13.8 19.4" class="m"/>
<path d="M508.9 788l13.8 12.7-12 4.6-13.8-12.5z" fill="#f9fb7e"/>
<path d="M496.9 792.8l13.8 12.5-11.9 4.5-13.8-12.3z" fill="#f9f77a"/>
<path d="M485 797.5l23.9-9.5 13.8 12.7" class="m"/>
<path d="M670.2 789.8l13.9 18.2-12 2.5-13.8-18z" fill="#aee865"/>
<path d="M658.3 792.5l13.8 18-12 2.6-13.8-17.9z" fill="#b4ea66"/>
<path d="M646.3 795.2l23.9-5.4 13.9 18.2" class="m"/>
<path d="M447.2 793l13.8 11.6-12 1.9-13.8-11.9z" fill="#f2de6e"/>
<path d="M435.2 794.6l13.8 11.9-12 1.9-13.8-12.1z" fill="#ebd469"/>
<path d="M423.2 796.3l24-3.3 13.8 11.6" class="m"/>
<path d="M831.6 830.3l6.9 10.7-11.9 1.8-7-10.6z" fill="#82ec55"/>
<path d="M819.6 832.2l7 10.6-12 1.8-7-10.6z" fill="#85eb54"/>
<path d="M838.5 841l7 10.6-12 1.8-6.9-10.6z" fill="#81ed52"/>
<path d="M826.6 842.8l6.9 10.6-12 1.7-6.9-10.5z" fill="#84ed52"/>
<path d="M807.6 834l24-3.7 13.9 21.3M845.5 851.6l-24 3.5" class="m"/>
<path d="M608.5 784.8l13.8 16.3-12 4.8-13.8-16z" fill="#d0f874"/>
<path d="M596.5 789.9l13.8 16-12 4.8-13.8-15.7z" fill="#d9fd76"/>
<path d="M584.5 795l24-10.2 13.8 16.3" class="m"/>
<path d="M385.4 781.2l13.8 12.6-12-3.8-13.8-13.4z" fill="#c4a254"/>
<path d="M373.4 776.6l13.8 13.4-12-3.8-13.7-14.3z" fill="#af8e4a"/>
<path d="M361.5 771.9l23.9 9.3 13.8 12.6" class="m"/>
<path d="M769.8 817.1l6.9 10.1-11.9 1.5-7-10.2z" fill="#8fe558"/>
<path d="M757.8 818.5l7 10.2-12 1.5-7-10.2z" fill="#92e558"/>
<path d="M776.7 827.2l7 10.1-12 1.6-6.9-10.2z" fill="#8ee756"/>
<path d="M764.8 828.7l6.9 10.2-12 1.6-6.9-10.3z" fill="#91e656"/>
<path d="M745.8 820l24-2.9 13.9 20.2" class="m"/>
<path d="M546.7 790.4l13.8 14.2-12 4.7-13.8-13.7z" fill="#eeff7d"/>
<path d="M534.7 795.6l13.8 13.7-12 4.8-13.8-13.4z" fill="#f2ff7b"/>
<path d="M522.7 800.7l24-10.3 13.8 14.2" class="m"/>
<path d="M323.7 740.4l13.8 10.8-8-13.5-13.8-11.5z" fill="#946b3a"/>
<path d="M315.7 726.2l13.8 11.5-8-13.6-13.8-12.2z" fill="#9e7141"/>
<path d="M307.7 711.9l13.8 12.2-8-13.5-13.8-13z" fill="#a87848"/>
<path d="M299.7 697.6l24 42.8 13.8 10.8M313.5 710.6l-13.8-13" class="m"/>
<path d="M708 803.7l13.9 19.6-12 2-13.8-19.4z" fill="#a0e65d"/>
<path d="M696.1 805.9l13.8 19.4-12 2.1-13.8-19.4z" fill="#a5e85e"/>
<path d="M684.1 808l23.9-4.3 13.9 19.6" class="m"/>
<path d="M485 797.5l13.8 12.3-12 3.5-13.8-12.3z" fill="#f8f276"/>
<path d="M473 801l13.8 12.3-12 3.4-13.8-12.1z" fill="#f6ec71"/>
<path d="M461 804.6l24-7.1 13.8 12.3" class="m"/>
<path d="M646.3 795.2l13.8 17.9-12 2.7-13.8-17.7z" fill="#baee68"/>
<path d="M634.3 798.1l13.8 17.7-12 2.8-13.8-17.5z" fill="#c2f36a"/>
<path d="M622.3 801.1l24-5.9 13.8 17.9" class="m"/>
<path d="M423.2 796.3l13.8 12.1-12-.7-13.8-12.7z" fill="#e3c963"/>
<path d="M411.2 795l13.8 12.7-12-.8-13.8-13.1z" fill="#d8bc5d"/>
<path d="M399.2 793.8l24 2.5 13.8 12.1" class="m"/>
<path d="M807.6 834l7 10.6-12 1.7-6.9-10.6z" fill="#88eb54"/>
<path d="M795.7 835.7l6.9 10.6-12 1.7-6.9-10.7z" fill="#8aea54"/>
<path d="M814.6 844.6l6.9 10.5-12 1.8-6.9-10.6z" fill="#87ed52"/>
<path d="M802.6 846.3l6.9 10.6-12 1.8-6.9-10.7z" fill="#8aec52"/>
<path d="M783.7 837.3l23.9-3.3 13.9 21.1M821.5 855.1l-24 3.6" class="m"/>
<path d="M584.5 795l13.8 15.7-12 4.3-13.8-15.2z" fill="#dfff77"/>
<path d="M572.5 799.8l13.8 15.2-12 4.4-13.8-14.8z" fill="#e4ff76"/>
<path d="M560.5 804.6l24-9.6 13.8 15.7" class="m"/>
<path d="M361.5 771.9l13.7 14.3-11.9-11.4-13.8-13.2z" fill="#997a40"/>
<path d="M349.5 761.6l13.8 13.2-12-11.3-13.8-12.3z" fill="#866838"/>
<path d="M337.5 751.2l24 20.7 13.7 14.3" class="m"/>
<path d="M745.8 820l7 10.2-12 1.7-6.9-10.3z" fill="#96e558"/>
<path d="M733.9 821.6l6.9 10.3-12 1.7-6.9-10.3z" fill="#99e659"/>
<path d="M752.8 830.2l6.9 10.3-12 1.7-6.9-10.3z" fill="#94e656"/>
<path d="M740.8 831.9l6.9 10.3-12 1.8-6.9-10.4z" fill="#98e756"/>
<path d="M721.9 823.3l23.9-3.3 13.9 20.5" class="m"/>
<path d="M522.7 800.7l13.8 13.4-12 4.3-13.8-13.1z" fill="#f4fe79"/>
<path d="M510.7 805.3l13.8 13.1-11.9 4.3-13.8-12.9z" fill="#f5fb76"/>
<path d="M498.8 809.8l23.9-9.1 13.8 13.4" class="m"/>
<path d="M684.1 808l13.8 19.4-12 2.3-13.8-19.2z" fill="#aaea5f"/>
<path d="M672.1 810.5l13.8 19.2-12 2.3-13.8-18.9z" fill="#afec60"/>
<path d="M660.1 813.1l24-5.1 13.8 19.4" class="m"/>
<path d="M461 804.6l13.8 12.1-12 2.1-13.8-12.3z" fill="#f2e56d"/>
<path d="M449 806.5l13.8 12.3-12 2.2-13.8-12.6z" fill="#eddc68"/>
<path d="M437 808.4l24-3.8 13.8 12.1" class="m"/>
<path d="M622.3 801.1l13.8 17.5-12 4.3-13.8-17z" fill="#caf86c"/>
<path d="M610.3 805.9l13.8 17-12 4.3-13.8-16.5z" fill="#d2fd6f"/>
<path d="M598.3 810.7l24-9.6 13.8 17.5" class="m"/>
<path d="M399.2 793.8l13.8 13.1-12-2.9-13.8-14z" fill="#c7ab55"/>
<path d="M387.2 790l13.8 14-12-2.9-13.8-14.9z" fill="#af9449"/>
<path d="M375.2 786.2l24 7.6 13.8 13.1" class="m"/>
<path d="M783.7 837.3l6.9 10.7-12 1.7-6.9-10.8z" fill="#8de953"/>
<path d="M771.7 838.9l6.9 10.8-12 1.7-6.9-10.9z" fill="#90e953"/>
<path d="M790.6 848l6.9 10.7-12 1.8-6.9-10.8z" fill="#8dec51"/>
<path d="M778.6 849.7l6.9 10.8-12 1.7-6.9-10.8z" fill="#90eb51"/>
<path d="M759.7 840.5l24-3.2 13.8 21.4M797.5 858.7l-24 3.5" class="m"/>
<path d="M560.5 804.6l13.8 14.8-12 4.3-13.8-14.4z" fill="#e8ff76"/>
<path d="M548.5 809.3l13.8 14.4-12 4.3-13.8-13.9z" fill="#ecff75"/>
<path d="M536.5 814.1l24-9.5 13.8 14.8" class="m"/>
<path d="M337.5 751.2l13.8 12.3-8-12.6-13.8-13.2z" fill="#95713a"/>
<path d="M329.5 737.7l13.8 13.2-8-12.6-13.8-14.2z" fill="#9e7640"/>
<path d="M321.5 724.1l13.8 14.2-8-12.6-13.8-15.1z" fill="#a77c46"/>
<path d="M313.5 710.6l24 40.6 13.8 12.3M327.3 725.7l-13.8-15.1" class="m"/>
<path d="M721.9 823.3l6.9 10.3-12 2-6.9-10.3z" fill="#9ee759"/>
<path d="M709.9 825.3l6.9 10.3-12 2-6.9-10.2z" fill="#a2e95a"/>
<path d="M728.8 833.6l6.9 10.4-12 1.9-6.9-10.3z" fill="#9ce856"/>
<path d="M716.8 835.6l6.9 10.3-12 1.9-6.9-10.2z" fill="#a0ea57"/>
<path d="M697.9 827.4l24-4.1 13.8 20.7" class="m"/>
<path d="M498.8 809.8l13.8 12.9-12 3.3-13.8-12.7z" fill="#f5f772"/>
<path d="M486.8 813.3l13.8 12.7-12 3.3-13.8-12.6z" fill="#f4f26f"/>
<path d="M474.8 816.7l24-6.9 13.8 12.9" class="m"/>
<path d="M660.1 813.1l13.8 18.9-12 2.5-13.8-18.7z" fill="#b5ef61"/>
<path d="M648.1 815.8l13.8 18.7-12 2.5-13.8-18.4z" fill="#bcf363"/>
<path d="M636.1 818.6l24-5.5 13.8 18.9" class="m"/>
<path d="M437 808.4l13.8 12.6-12-.2-13.8-13.1z" fill="#e6d263"/>
<path d="M425 807.7l13.8 13.1-12-.2-13.8-13.7z" fill="#ddc75e"/>
<path d="M413 806.9l24 1.5 13.8 12.6" class="m"/>
<path d="M598.3 810.7l13.8 16.5-12 3.8-13.8-16z" fill="#d8ff6f"/>
<path d="M586.3 815l13.8 16-12 3.9-13.8-15.5z" fill="#ddff6f"/>
<path d="M574.3 819.4l24-8.7 13.8 16.5" class="m"/>
<path d="M375.2 786.2l13.8 14.9-11.9-11.9-13.8-14.4z" fill="#987e3e"/>
<path d="M363.3 774.8l13.8 14.4-12-12-13.8-13.7z" fill="#866c37"/>
<path d="M351.3 763.5l23.9 22.7 13.8 14.9" class="m"/>
<path d="M759.7 840.5l6.9 10.9-12 1.7-6.9-10.9z" fill="#93e853"/>
<path d="M747.7 842.2l6.9 10.9-12 1.8-6.9-10.9z" fill="#97e953"/>
<path d="M766.6 851.4l6.9 10.8-12 1.8-6.9-10.9z" fill="#93eb51"/>
<path d="M754.6 853.1l6.9 10.9-12 1.8-6.9-10.9z" fill="#96eb51"/>
<path d="M735.7 844l24-3.5 13.8 21.7M773.5 862.2l-24 3.6" class="m"/>
<path d="M536.5 814.1l13.8 13.9-12 4-13.8-13.6z" fill="#efff73"/>
<path d="M524.5 818.4l13.8 13.6-11.9 3.9-13.8-13.2z" fill="#f1fe71"/>
<path d="M512.6 822.7l23.9-8.6 13.8 13.9" class="m"/>
<path d="M697.9 827.4l6.9 10.2-12 2.2-6.9-10.1z" fill="#a7eb5b"/>
<path d="M685.9 829.7l6.9 10.1-12 2.2-6.9-10z" fill="#acec5b"/>
<path d="M704.8 837.6l6.9 10.2-12 2.1-6.9-10.1z" fill="#a5eb58"/>
<path d="M692.8 839.8l6.9 10.1-12 2.1-6.9-10z" fill="#a9ed58"/>
<path d="M673.9 832l24-4.6 13.8 20.4" class="m"/>
<path d="M474.8 816.7l13.8 12.6-12 2.3-13.8-12.8z" fill="#f2ec6b"/>
<path d="M462.8 818.8l13.8 12.8-12 2.2-13.8-12.8z" fill="#eee567"/>
<path d="M450.8 821l24-4.3 13.8 12.6" class="m"/>
<path d="M636.1 818.6l13.8 18.4-12 3.7-13.8-17.8z" fill="#c3f865"/>
<path d="M624.1 822.9l13.8 17.8-12 3.7-13.8-17.2z" fill="#cbfc67"/>
<path d="M612.1 827.2l24-8.6 13.8 18.4" class="m"/>
<path d="M413 806.9l13.8 13.7-12-2.1-13.8-14.5z" fill="#ccb555"/>
<path d="M401 804l13.8 14.5-12-2-13.8-15.4z" fill="#b19b48"/>
<path d="M389 801.1l24 5.8 13.8 13.7" class="m"/>
<path d="M574.3 819.4l13.8 15.5-12 3.8-13.8-15z" fill="#e1ff6f"/>
<path d="M562.3 823.7l13.8 15-12 3.8-13.8-14.5z" fill="#e6ff6e"/>
<path d="M550.3 828l24-8.6 13.8 15.5" class="m"/>
<path d="M351.3 763.5l13.8 13.7-8-11.4-13.8-14.9z" fill="#957538"/>
<path d="M343.3 750.9l13.8 14.9-8-11.5-13.8-16z" fill="#9c7a3e"/>
<path d="M335.3 738.3l13.8 16-8-11.5-13.8-17.1z" fill="#a47f43"/>
<path d="M327.3 725.7l24 37.8 13.8 13.7M341.1 742.8l-13.8-17.1" class="m"/>
<path d="M735.7 844l6.9 10.9-12 1.8-6.9-10.8z" fill="#9be954"/>
<path d="M723.7 845.9l6.9 10.8-12 1.9-6.9-10.8z" fill="#9feb54"/>
<path d="M742.6 854.9l6.9 10.9-12 1.8-6.9-10.9z" fill="#9aeb51"/>
<path d="M730.6 856.7l6.9 10.9-12 1.8-6.9-10.8z" fill="#9dec52"/>
<path d="M711.7 847.8l24-3.8 13.8 21.8M749.5 865.8l-24 3.6" class="m"/>
<path d="M512.6 822.7l13.8 13.2-12 3.2-13.8-13.1z" fill="#f2fc6e"/>
<path d="M500.6 826l13.8 13.1-12 3.1-13.8-12.9z" fill="#f2f86c"/>
<path d="M488.6 829.3l24-6.6 13.8 13.2" class="m"/>
<path d="M673.9 832l6.9 10-12 2.3-6.9-9.8z" fill="#b1ef5c"/>
<path d="M661.9 834.5l6.9 9.8-12 2.4-6.9-9.7z" fill="#b8f35e"/>
<path d="M680.8 842l6.9 10-12 2.2-6.9-9.9z" fill="#afef59"/>
<path d="M668.8 844.3l6.9 9.9-12 2.1-6.9-9.6z" fill="#b4f25a"/>
<path d="M649.9 837l24-5 13.8 20" class="m"/>
<path d="M450.8 821l13.8 12.8-24 .7-13.8-13.9z" fill="#e5d760"/>
<path d="M426.8 820.6l24 .4 13.8 12.8" class="m"/>
<path d="M612.1 827.2l13.8 17.2-12 3.2-13.8-16.6z" fill="#d1ff68"/>
<path d="M600.1 831l13.8 16.6-12 3.2-13.8-15.9z" fill="#d6ff68"/>
<path d="M588.1 834.9l24-7.7 13.8 17.2" class="m"/>
<path d="M389 801.1l13.8 15.4-12-12.1-13.7-15.2z" fill="#99843e"/>
<path d="M377.1 789.2l13.7 15.2-11.9-12.1-13.8-15.1z" fill="#867035"/>
<path d="M365.1 777.2l23.9 23.9 13.8 15.4" class="m"/>
<path d="M550.3 828l13.8 14.5-12 3.5-13.8-14z" fill="#eaff6e"/>
<path d="M538.3 832l13.8 14-11.9 3.5-13.8-13.6z" fill="#edff6c"/>
<path d="M526.4 835.9l23.9-7.9 13.8 14.5" class="m"/>
<path d="M711.7 847.8l6.9 10.8-12 1.9-6.9-10.6z" fill="#a3ec55"/>
<path d="M699.7 849.9l6.9 10.6-12 2-6.9-10.5z" fill="#a7ed55"/>
<path d="M718.6 858.6l6.9 10.8-12 1.7-6.9-10.6z" fill="#a1ed52"/>
<path d="M706.6 860.5l6.9 10.6-12 1.8-6.9-10.4z" fill="#a6ee52"/>
<path d="M687.7 852l24-4.2 13.8 21.6M725.5 869.4l-24 3.5" class="m"/>
<path d="M488.6 829.3l13.8 12.9-12 2.3-13.8-12.9z" fill="#f1f369"/>
<path d="M476.6 831.6l13.8 12.9-12 2.4-13.8-13.1z" fill="#efed66"/>
<path d="M464.6 833.8l24-4.5 13.8 12.9" class="m"/>
<path d="M649.9 837l13.8 19.3-12 2.9-13.8-18.5z" fill="#bdf75e"/>
<path d="M637.9 840.7l13.8 18.5-12 2.8-13.8-17.6z" fill="#c4fb60"/>
<path d="M625.9 844.4l24-7.4 13.8 19.3" class="m"/>
<path d="M426.8 820.6l13.8 13.9-12-1.2-13.8-14.8z" fill="#d1c056"/>
<path d="M414.8 818.5l13.8 14.8-12-1.2-13.8-15.6z" fill="#b6a448"/>
<path d="M402.8 816.5l24 4.1 13.8 13.9" class="m"/>
<path d="M588.1 834.9l13.8 15.9-12 3.2-13.8-15.3z" fill="#dbff68"/>
<path d="M576.1 838.7l13.8 15.3-12 3.2-13.8-14.7z" fill="#e0ff68"/>
<path d="M564.1 842.5l24-7.6 13.8 15.9" class="m"/>
<path d="M365.1 777.2l13.8 15.1-8-10.2-13.8-16.3z" fill="#927836"/>
<path d="M357.1 765.8l13.8 16.3-8-10.1-13.8-17.7z" fill="#997c3a"/>
<path d="M349.1 754.3l13.8 17.7-8-10.2-13.8-19z" fill="#a0803f"/>
<path d="M341.1 742.8l24 34.4 13.8 15.1M354.9 761.8l-13.8-19" class="m"/>
<path d="M526.4 835.9l13.8 13.6-12 2.9-13.8-13.3z" fill="#efff6b"/>
<path d="M514.4 839.1l13.8 13.3-12 2.9-13.8-13.1z" fill="#f0fe69"/>
<path d="M502.4 842.2l24-6.3 13.8 13.6" class="m"/>
<path d="M687.7 852l6.9 10.5-12 1.9-6.9-10.2z" fill="#acef56"/>
<path d="M675.7 854.2l6.9 10.2-12 2-6.9-10.1z" fill="#b2f257"/>
<path d="M694.6 862.5l6.9 10.4-12 1.8-6.9-10.3z" fill="#aaf053"/>
<path d="M682.6 864.4l6.9 10.3-12 1.8-6.9-10.1z" fill="#aff254"/>
<path d="M663.7 856.3l24-4.3 13.8 20.9M701.5 872.9l-24 3.6" class="m"/>
<path d="M464.6 833.8l13.8 13.1-12 .8-13.8-13.6z" fill="#ebe662"/>
<path d="M452.6 834.1l13.8 13.6-12 .7-13.8-13.9z" fill="#e6de5f"/>
<path d="M440.6 834.5l24-.7 13.8 13.1" class="m"/>
<path d="M625.9 844.4l13.8 17.6-12 2.5-13.8-16.9z" fill="#caff61"/>
<path d="M613.9 847.6l13.8 16.9-12 2.6-13.8-16.3z" fill="#cfff61"/>
<path d="M601.9 850.8l24-6.4 13.8 17.6" class="m"/>
<path d="M402.8 816.5l13.8 15.6-12-11.8-13.8-15.9z" fill="#9d8c3e"/>
<path d="M390.8 804.4l13.8 15.9-12-11.7-13.7-16.3z" fill="#887735"/>
<path d="M378.9 792.3l23.9 24.2 13.8 15.6" class="m"/>
<path d="M564.1 842.5l13.8 14.7-12 3-13.8-14.2z" fill="#e5ff68"/>
<path d="M552.1 846l13.8 14.2-11.9 3-13.8-13.7z" fill="#e8ff67"/>
<path d="M540.2 849.5l23.9-7 13.8 14.7" class="m"/>
<path d="M502.4 842.2l13.8 13.1-12 2.3-13.8-13.1z" fill="#f1fa67"/>
<path d="M490.4 844.5l13.8 13.1-12 2.4-13.8-13.1z" fill="#f0f664"/>
<path d="M478.4 846.9l24-4.7 13.8 13.1" class="m"/>
<path d="M663.7 856.3l6.9 10.1-12 2.3-6.9-9.5z" fill="#b8f658"/>
<path d="M651.7 859.2l6.9 9.5-12 2.3-6.9-9z" fill="#bffa5a"/>
<path d="M670.6 866.4l6.9 10.1-12 1.7-6.9-9.5z" fill="#b5f555"/>
<path d="M658.6 868.7l6.9 9.5-12 1.8-6.9-9z" fill="#bbf957"/>
<path d="M639.7 862l24-5.7 13.8 20.2M677.5 876.5l-24 3.5" class="m"/>
<path d="M440.6 834.5l13.8 13.9-12-.4-13.8-14.7z" fill="#d8cc57"/>
<path d="M428.6 833.3l13.8 14.7-12-.3-13.8-15.6z" fill="#bcb04a"/>
<path d="M416.6 832.1l24 2.4 13.8 13.9" class="m"/>
<path d="M601.9 850.8l13.8 16.3-12 2.5-13.8-15.6z" fill="#d5ff62"/>
<path d="M589.9 854l13.8 15.6-12 2.6-13.8-15z" fill="#daff62"/>
<path d="M577.9 857.2l24-6.4 13.8 16.3" class="m"/>
<path d="M378.9 792.3l6.8 8.1-11.9-14-6.9-9.3z" fill="#887337"/>
<path d="M366.9 777.1l6.9 9.3-12-14.1-6.9-10.5z" fill="#8a7339"/>
<path d="M385.7 800.4l6.9 8.2-11.9-12.9-6.9-9.3z" fill="#887536"/>
<path d="M373.8 786.4l6.9 9.3-12-13-6.9-10.4z" fill="#8a7538"/>
<path d="M354.9 761.8l24 30.5 13.7 16.3M368.7 782.7l-13.8-20.9" class="m"/>
<path d="M540.2 849.5l13.8 13.7-12 2.6-13.8-13.4z" fill="#ecff67"/>
<path d="M528.2 852.4l13.8 13.4-12 2.6-13.8-13.1z" fill="#eeff66"/>
<path d="M516.2 855.3l24-5.8 13.8 13.7" class="m"/>
<path d="M478.4 846.9l13.8 13.1-12 1.1-13.8-13.4z" fill="#eef062"/>
<path d="M466.4 847.7l13.8 13.4-12 1.2-13.8-13.9z" fill="#ebea5f"/>
<path d="M454.4 848.4l24-1.5 13.8 13.1" class="m"/>
<path d="M639.7 862l13.8 18-12 1.8-13.8-17.3z" fill="#c3fd5a"/>
<path d="M627.7 864.5l13.8 17.3-12 1.8-13.8-16.5z" fill="#c9ff5b"/>
<path d="M615.7 867.1l24-5.1 13.8 18M653.5 880l-24 3.6" class="m"/>
<path d="M416.6 832.1l13.8 15.6-12-10.8-13.8-16.6z" fill="#a4973f"/>
<path d="M404.6 820.3l13.8 16.6-12-10.7-13.8-17.6z" fill="#908237"/>
<path d="M392.6 808.6l24 23.5 13.8 15.6" class="m"/>
<path d="M577.9 857.2l13.8 15-12 2.4-13.8-14.4z" fill="#dfff63"/>
<path d="M565.9 860.2l13.8 14.4-11.9 2.4-13.8-13.8z" fill="#e4ff63"/>
<path d="M554 863.2l23.9-6 13.8 15" class="m"/>
<path d="M516.2 855.3l13.8 13.1-12 2.3-13.8-13.1z" fill="#f0ff64"/>
<path d="M504.2 857.6l13.8 13.1-12 2.2-13.8-12.9z" fill="#f1fe63"/>
<path d="M492.2 860l24-4.7 13.8 13.1" class="m"/>
<path d="M454.4 848.4l13.8 13.9-24 .7-13.8-15.3z" fill="#d3cc52"/>
<path d="M430.4 847.7l24 .7 13.8 13.9" class="m"/>
<path d="M615.7 867.1l13.8 16.5-12 1.7-13.8-15.7z" fill="#cfff5c"/>
<path d="M603.7 869.6l13.8 15.7-12 1.8-13.8-14.9z" fill="#d5ff5d"/>
<path d="M591.7 872.2l24-5.1 13.8 16.5M629.5 883.6l-24 3.5" class="m"/>
<path d="M392.6 808.6l6.9 8.8-12-11.7-6.8-10z" fill="#887735"/>
<path d="M380.7 795.7l6.8 10-11.9-11.7-6.9-11.3z" fill="#8a7737"/>
<path d="M399.5 817.4l6.9 8.8-12-10.4-6.9-10.1z" fill="#887934"/>
<path d="M387.5 805.7l6.9 10.1-12-10.4-6.8-11.4z" fill="#8a7936"/>
<path d="M368.7 782.7l23.9 25.9 13.8 17.6M382.4 805.4l-13.7-22.7" class="m"/>
<path d="M554 863.2l13.8 13.8-12 2.2-13.8-13.4z" fill="#e8ff63"/>
<path d="M542 865.8l13.8 13.4-12 2.2-13.8-13z" fill="#ecff62"/>
<path d="M530 868.4l24-5.2 13.8 13.8" class="m"/>
<path d="M492.2 860l13.8 12.9-12 1.5-13.8-13.3z" fill="#f1fa61"/>
<path d="M480.2 861.1l13.8 13.3-12 1.5-13.8-13.6z" fill="#f0f55f"/>
<path d="M468.2 862.3l24-2.3 13.8 12.9" class="m"/>
<path d="M430.4 847.7l13.8 15.3-12-9-13.8-17.1z" fill="#afa642"/>
<path d="M418.4 836.9l13.8 17.1-12-9-13.8-18.8z" fill="#9b903a"/>
<path d="M406.4 826.2l24 21.5 13.8 15.3" class="m"/>
<path d="M591.7 872.2l13.8 14.9-12 1.8-13.8-14.3z" fill="#daff5e"/>
<path d="M579.7 874.6l13.8 14.3-11.9 1.8-13.8-13.7z" fill="#e0ff5e"/>
<path d="M567.8 877l23.9-4.8 13.8 14.9M605.5 887.1l-23.9 3.6" class="m"/>
<path d="M530 868.4l13.8 13-12 2.1-13.8-12.8z" fill="#efff62"/>
<path d="M518 870.7l13.8 12.8-12 2.1-13.8-12.7z" fill="#f2ff61"/>
<path d="M506 872.9l24-4.5 13.8 13" class="m"/>
<path d="M468.2 862.3l13.8 13.6-12 .9-13.8-14.2z" fill="#e6e859"/>
<path d="M456.2 862.6l13.8 14.2-12 1-13.8-14.8z" fill="#d2d04f"/>
<path d="M444.2 863l24-.7 13.8 13.6" class="m"/>
<path d="M406.4 826.2l6.9 9.4-12-9-6.9-10.8z" fill="#8c8035"/>
<path d="M394.4 815.8l6.9 10.8-12-9.1-6.9-12.1z" fill="#8a7c35"/>
<path d="M413.3 835.6l6.9 9.4-12-7.6-6.9-10.8z" fill="#938837"/>
<path d="M401.3 826.6l6.9 10.8-12-7.7-6.9-12.2z" fill="#918537"/>
<path d="M382.4 805.4l24 20.8 13.8 18.8M396.2 829.7l-13.8-24.3" class="m"/>
<path d="M567.8 877l13.8 13.7-12 1.8-13.8-13.3z" fill="#e5ff5f"/>
<path d="M555.8 879.2l13.8 13.3-12 1.7-13.8-12.8z" fill="#e9ff5f"/>
<path d="M543.8 881.4l24-4.4 13.8 13.7M581.6 890.7l-24 3.5" class="m"/>
<path d="M506 872.9l13.8 12.7-12 1.7-13.8-12.9z" fill="#f3ff60"/>
<path d="M494 874.4l13.8 12.9-12 1.6-13.8-13z" fill="#f4ff5f"/>
<path d="M482 875.9l24-3 13.8 12.7" class="m"/>
<path d="M444.2 863l6.9 7.4-12-7.7-6.9-8.7z" fill="#b9b445"/>
<path d="M432.2 854l6.9 8.7-12-7.7-6.9-10z" fill="#a69f3d"/>
<path d="M451.1 870.4l6.9 7.4-12-6.4-6.9-8.7z" fill="#c2c048"/>
<path d="M439.1 862.7l6.9 8.7-12-6.4-6.9-10z" fill="#afaa40"/>
<path d="M420.2 845l24 18 13.8 14.8" class="m"/>
<path d="M543.8 881.4l13.8 12.8-12 1.8-13.8-12.5z" fill="#eeff5f"/>
<path d="M531.8 883.5l13.8 12.5-12 1.8-13.8-12.2z" fill="#f2ff5f"/>
<path d="M519.8 885.6l24-4.2 13.8 12.8M557.6 894.2l-24 3.6" class="m"/>
<path d="M482 875.9l13.8 13-12 1.5-13.8-13.6z" fill="#eff85b"/>
<path d="M470 876.8l13.8 13.6-12 1.4-13.8-14z" fill="#e2e754"/>
<path d="M458 877.8l24-1.9 13.8 13" class="m"/>
<path d="M420.2 845l6.9 10-12-6.2-6.9-11.4z" fill="#9b9239"/>
<path d="M408.2 837.4l6.9 11.4-12-6.1-6.9-13z" fill="#9a8f39"/>
<path d="M427.1 855l6.9 10-12-4.7-6.9-11.5z" fill="#a59e3c"/>
<path d="M415.1 848.8l6.9 11.5-12-4.7-6.9-12.9z" fill="#a39a3c"/>
<path d="M396.2 829.7l24 15.3 13.8 20M410 855.6l-13.8-25.9" class="m"/>
<path d="M519.8 885.6l13.8 12.2-12 1.8-13.8-12.3z" fill="#f5ff5f"/>
<path d="M507.8 887.3l13.8 12.3-12 1.7-13.8-12.4z" fill="#f7ff5f"/>
<path d="M495.8 888.9l24-3.3 13.8 12.2M533.6 897.8l-24 3.5" class="m"/>
<path d="M458 877.8l6.9 7-12-4.6-6.9-8.8z" fill="#cdcd4b"/>
<path d="M446 871.4l6.9 8.8-12-4.6-6.9-10.6z" fill="#bab844"/>
<path d="M464.9 884.8l6.9 7-12-2.8-6.9-8.8z" fill="#d9dc4f"/>
<path d="M452.9 880.2l6.9 8.8-12-2.8-6.9-10.6z" fill="#c7c748"/>
<path d="M434 865l24 12.8 13.8 14" class="m"/>
<path d="M495.8 888.9l13.8 12.4-12 1.8-13.8-12.7z" fill="#f7ff5d"/>
<path d="M483.8 890.4l13.8 12.7-12 1.8-13.8-13.1z" fill="#f5ff5a"/>
<path d="M471.8 891.8l24-2.9 13.8 12.4M509.6 901.3l-24 3.6" class="m"/>
<path d="M434 865l6.9 10.6-12-3.1-6.9-12.2z" fill="#b0ab3f"/>
<path d="M422 860.3l6.9 12.2-12-3.1-6.9-13.8z" fill="#ada63e"/>
<path d="M440.9 875.6l6.9 10.6-12-1.6-6.9-12.1z" fill="#bcb943"/>
<path d="M428.9 872.5l6.9 12.1-12-1.5-6.9-13.7z" fill="#b8b341"/>
<path d="M410 855.6l24 9.4 13.8 21.2M423.8 883.1l-13.8-27.5" class="m"/>
<path d="M471.8 891.8l6.9 6.6-12-.6-6.9-8.8z" fill="#e5ec53"/>
<path d="M459.8 889l6.9 8.8-12-.5-6.9-11.1z" fill="#d5d84c"/>
<path d="M478.7 898.4l6.9 6.5-12 1.8-6.9-8.9z" fill="#f3fe58"/>
<path d="M466.7 897.8l6.9 8.9-12 1.7-6.9-11.1z" fill="#e4eb51"/>
<path d="M447.8 886.2l24 5.6 13.8 13.1M485.6 904.9l-24 3.5" class="m"/>
<path d="M447.8 886.2l6.9 11.1-12 .1-6.9-12.8z" fill="#caca47"/>
<path d="M435.8 884.6l6.9 12.8-12 .1-6.9-14.4z" fill="#c4c144"/>
<path d="M454.7 897.3l6.9 11.1-12 1.8-6.9-12.8z" fill="#d9dc4b"/>
<path d="M442.7 897.4l6.9 12.8-12 1.8-6.9-14.5z" fill="#d1d147"/>
<path d="M423.8 883.1l24 3.1 13.8 22.2M461.6 908.4l-24 3.6M437.6 912l-13.8-28.9" class="m"/>
</g>
<g class="s">
<path d="M1308.7 762.2L1883.3 678.6" class="b"/>
<path d="M1883.3 678.6L2215.4 826.7" class="b"/>
<path d="M1883.3 678.6L1883.3 36.6" class="bk"/>
<path d="M1883.3 678.6l4.6-32.1-12 6.3-4.6 27.5z" fill="#222224"/>
<path d="M1871.3 680.3l4.6-27.5-11.9 6.3-4.6 23z" fill="#252224"/>
<path d="M1887.9 646.5l4.6-32.1-11.9 10.9-4.7 27.5z" fill="#222429"/>
<path d="M1875.9 652.8l4.7-27.5-12 10.9-4.6 22.9z" fill="#252428"/>
<path d="M1892.5 614.4l4.6-32.2-11.9 15.5-4.6 27.6z" fill="#22252e"/>
<path d="M1880.6 625.3l4.6-27.6-12 15.5-4.6 23z" fill="#25252c"/>
<path d="M1859.4 682.1l23.9-3.5 13.8-96.4" class="m"/>
<path d="M1859.4 682.1l4.6-23-12 5.3-4.6 19.4z" fill="#272223"/>
<path d="M1847.4 683.8l4.6-19.4-12 5.4-4.6 15.8z" fill="#292223"/>
<path d="M1864 659.1l4.6-22.9-12 8.9-4.6 19.3z" fill="#272427"/>
<path d="M1852 664.4l4.6-19.3-12 8.9-4.6 15.8z" fill="#292426"/>
<path d="M1868.6 636.2l4.6-23-12 12.5-4.6 19.4z" fill="#27252b"/>
<path d="M1856.6 645.1l4.6-19.4-12 12.5-4.6 15.8z" fill="#292529"/>
<path d="M1835.4 685.6l24-3.5 13.8-68.9" class="m"/>
<path d="M1897.1 582.2l4.7-29.1-6 9.8-4.6 27.1z" fill="#222634"/>
<path d="M1891.2 590l4.6-27.1-6 9.9-4.6 24.9z" fill="#232632"/>
<path d="M1885.2 597.7l4.6-24.9-6 9.8-4.6 22.9z" fill="#242631"/>
<path d="M1879.2 605.5l4.6-22.9-6 9.9-4.6 20.7z" fill="#252630"/>
<path d="M1901.8 553.1l4.6-29.2-6 12-4.6 27z" fill="#222838"/>
<path d="M1895.8 562.9l4.6-27-6 11.9-4.6 25z" fill="#232837"/>
<path d="M1889.8 572.8l4.6-25-6 11.9-4.6 22.9z" fill="#242835"/>
<path d="M1883.8 582.6l4.6-22.9-6 12-4.6 20.8z" fill="#252834"/>
<path d="M1906.4 523.9l4.6-29.1-6 14-4.6 27.1z" fill="#22293d"/>
<path d="M1900.4 535.9l4.6-27.1-6 14-4.6 25z" fill="#23293b"/>
<path d="M1894.4 547.8l4.6-25-6 14.1-4.6 22.8z" fill="#242939"/>
<path d="M1888.4 559.7l4.6-22.8-6 14-4.6 20.8z" fill="#252937"/>
<path d="M1873.2 613.2l23.9-31 13.9-87.4" class="m"/>
<path d="M1835.4 685.6l4.6-15.8-11.9 4.3-4.7 13.2z" fill="#2b2223"/>
<path d="M1823.4 687.3l4.7-13.2-12 4.4-4.6 10.5z" fill="#2d2223"/>
<path d="M1840 669.8l4.6-15.8-11.9 6.9-4.6 13.2z" fill="#2b2425"/>
<path d="M1828.1 674.1l4.6-13.2-12 7-4.6 10.6z" fill="#2d2425"/>
<path d="M1844.6 654l4.6-15.8-11.9 9.5-4.6 13.2z" fill="#2b2528"/>
<path d="M1832.7 660.9l4.6-13.2-12 9.6-4.6 10.6z" fill="#2d2527"/>
<path d="M1811.5 689l23.9-3.4 13.8-47.4" class="m"/>
<path d="M1873.2 613.2l4.6-20.7-8 10.4-4.6 18.6z" fill="#26262e"/>
<path d="M1865.2 621.5l4.6-18.6-8 10.5-4.6 16.4z" fill="#28262d"/>
<path d="M1857.2 629.8l4.6-16.4-7.9 10.5-4.7 14.3z" fill="#29262c"/>
<path d="M1877.8 592.5l4.6-20.8-8 12.6-4.6 18.6z" fill="#262832"/>
<path d="M1869.8 602.9l4.6-18.6-7.9 12.7-4.7 16.4z" fill="#282830"/>
<path d="M1861.8 613.4l4.7-16.4-8 12.7-4.6 14.2z" fill="#29282f"/>
<path d="M1882.4 571.7l4.6-20.8-8 14.8-4.6 18.6z" fill="#262935"/>
<path d="M1874.4 584.3l4.6-18.6-7.9 14.9-4.6 16.4z" fill="#282933"/>
<path d="M1866.5 597l4.6-16.4-8 14.8-4.6 14.3z" fill="#292931"/>
<path d="M1849.2 638.2l24-25 13.8-62.3" class="m"/>
<path d="M1811.5 689l6.9-15.8-12 4.7-6.9 12.9z" fill="#2f2223"/>
<path d="M1799.5 690.8l6.9-12.9-12 4.6-6.9 10z" fill="#312223"/>
<path d="M1818.4 673.2l6.9-15.9-12 7.6-6.9 13z" fill="#2f2526"/>
<path d="M1806.4 677.9l6.9-13-11.9 7.6-7 10z" fill="#312525"/>
<path d="M1787.5 692.5l24-3.5 13.8-31.7" class="m"/>
<path d="M1911 494.8l4.6-26.2-4.8 12.7-4.6 24.7z" fill="#222b42"/>
<path d="M1906.2 506l4.6-24.7-4.8 12.8-4.6 23.1z" fill="#232b40"/>
<path d="M1901.4 517.2l4.6-23.1-4.8 12.7-4.6 21.6z" fill="#242b3e"/>
<path d="M1896.6 528.4l4.6-21.6-4.8 12.8-4.6 20.1z" fill="#242b3c"/>
<path d="M1891.8 539.7l4.6-20.1-4.8 12.7-4.6 18.6z" fill="#252b3b"/>
<path d="M1915.6 468.6l4.6-26.2-4.8 14.3-4.6 24.6z" fill="#222c46"/>
<path d="M1910.8 481.3l4.6-24.6-4.8 14.2-4.6 23.2z" fill="#232c44"/>
<path d="M1906 494.1l4.6-23.2-4.8 14.3-4.6 21.6z" fill="#242c42"/>
<path d="M1901.2 506.8l4.6-21.6-4.8 14.2-4.6 20.2z" fill="#242c40"/>
<path d="M1896.4 519.6l4.6-20.2-4.7 14.3-4.7 18.6z" fill="#252c3e"/>
<path d="M1920.2 442.4l4.6-26.2-4.8 15.8-4.6 24.7z" fill="#222d4b"/>
<path d="M1915.4 456.7l4.6-24.7-4.8 15.8-4.6 23.1z" fill="#232d48"/>
<path d="M1910.6 470.9l4.6-23.1-4.8 15.7-4.6 21.7z" fill="#242d46"/>
<path d="M1905.8 485.2l4.6-21.7-4.7 15.8-4.7 20.1z" fill="#242d44"/>
<path d="M1901 499.4l4.7-20.1-4.8 15.8-4.6 18.6z" fill="#252d41"/>
<path d="M1887 550.9l24-56.1 13.8-78.6" class="m"/>
<path d="M1849.2 638.2l4.7-14.3-8 8-4.6 12.6z" fill="#2b262b"/>
<path d="M1841.3 644.5l4.6-12.6-8 8-4.6 11z" fill="#2c262a"/>
<path d="M1833.3 650.9l4.6-11-8 8-4.6 9.4z" fill="#2d2629"/>
<path d="M1853.9 623.9l4.6-14.2-8 9.5-4.6 12.7z" fill="#2b282d"/>
<path d="M1845.9 631.9l4.6-12.7-8 9.6-4.6 11.1z" fill="#2c282c"/>
<path d="M1837.9 639.9l4.6-11.1-8 9.6-4.6 9.5z" fill="#2d282b"/>
<path d="M1858.5 609.7l4.6-14.3-8 11.2-4.6 12.6z" fill="#2b2930"/>
<path d="M1850.5 619.2l4.6-12.6-8 11.1-4.6 11.1z" fill="#2c292e"/>
<path d="M1842.5 628.8l4.6-11.1-8 11.2-4.6 9.5z" fill="#2d292d"/>
<path d="M1825.3 657.3l23.9-19.1 13.9-42.8" class="m"/>
<path d="M1787.5 692.5l6.9-10-11.9 3.6-6.9 8.2z" fill="#332222"/>
<path d="M1775.6 694.3l6.9-8.2-12 3.6-6.9 6.3z" fill="#362222"/>
<path d="M1794.4 682.5l7-10-12 5.4-6.9 8.2z" fill="#332524"/>
<path d="M1782.5 686.1l6.9-8.2-12 5.4-6.9 6.4z" fill="#362524"/>
<path d="M1763.6 696l23.9-3.5 13.9-20" class="m"/>
<path d="M1887 550.9l4.6-18.6-5.9 12.6-4.7 17.1z" fill="#262b39"/>
<path d="M1881 562l4.7-17.1-6 12.6-4.6 15.6z" fill="#272b37"/>
<path d="M1875.1 573.1l4.6-15.6-6 12.6-4.6 14.2z" fill="#282b35"/>
<path d="M1869.1 584.3l4.6-14.2-6 12.6-4.6 12.7z" fill="#292b34"/>
<path d="M1891.6 532.3l4.7-18.6-6 14.1-4.6 17.1z" fill="#262c3c"/>
<path d="M1885.7 544.9l4.6-17.1-6 14-4.6 15.7z" fill="#272c3a"/>
<path d="M1879.7 557.5l4.6-15.7-6 14.1-4.6 14.2z" fill="#282c38"/>
<path d="M1873.7 570.1l4.6-14.2-6 14.1-4.6 12.7z" fill="#292c36"/>
<path d="M1896.3 513.7l4.6-18.6-6 15.5-4.6 17.2z" fill="#262d3f"/>
<path d="M1890.3 527.8l4.6-17.2-6 15.6-4.6 15.6z" fill="#272d3d"/>
<path d="M1884.3 541.8l4.6-15.6-6 15.6-4.6 14.1z" fill="#282d3b"/>
<path d="M1878.3 555.9l4.6-14.1-6 15.5-4.6 12.7z" fill="#292d39"/>
<path d="M1863.1 595.4l23.9-44.5 13.9-55.8" class="m"/>
<path d="M1825.3 657.3l6.9-14.2-12 10.3-6.9 11.5z" fill="#2f2728"/>
<path d="M1813.3 664.9l6.9-11.5-11.9 10.2-6.9 8.9z" fill="#312727"/>
<path d="M1832.2 643.1l6.9-14.2-11.9 12.9-7 11.6z" fill="#2f292b"/>
<path d="M1820.2 653.4l7-11.6-12 12.9-6.9 8.9z" fill="#312929"/>
<path d="M1801.4 672.5l23.9-15.2 13.8-28.4" class="m"/>
<path d="M1763.6 696l13.8-12.7-12 3.9-13.8 10.6z" fill="#382423"/>
<path d="M1751.6 697.8l13.8-10.6-11.9 3.9-13.9 8.4z" fill="#3a2423"/>
<path d="M1739.6 699.5l24-3.5 13.8-12.7" class="m"/>
<path d="M1924.8 416.2l4.6-23.2-4 14.3-4.6 22.1z" fill="#222f4f"/>
<path d="M1920.8 429.4l4.6-22.1-4 14.3-4.6 20.9z" fill="#222f4d"/>
<path d="M1916.8 442.5l4.6-20.9-3.9 14.2-4.7 19.9z" fill="#232f4b"/>
<path d="M1912.8 455.7l4.7-19.9-4 14.3-4.7 18.7z" fill="#242f49"/>
<path d="M1908.8 468.8l4.7-18.7-4 14.3-4.6 17.5z" fill="#252f47"/>
<path d="M1904.9 481.9l4.6-17.5-4 14.3-4.6 16.4z" fill="#252f44"/>
<path d="M1929.4 393l4.6-23.2-4 15.4-4.6 22.1z" fill="#223053"/>
<path d="M1925.4 407.3l4.6-22.1-3.9 15.4-4.7 21z" fill="#223051"/>
<path d="M1921.4 421.6l4.7-21-4 15.4-4.6 19.8z" fill="#23304e"/>
<path d="M1917.5 435.8l4.6-19.8-4 15.4-4.6 18.7z" fill="#24304c"/>
<path d="M1913.5 450.1l4.6-18.7-4 15.4-4.6 17.6z" fill="#25304a"/>
<path d="M1909.5 464.4l4.6-17.6-4 15.4-4.6 16.5z" fill="#253047"/>
<path d="M1934 369.8l4.6-23.2-3.9 16.5-4.7 22.1z" fill="#223257"/>
<path d="M1930 385.2l4.7-22.1-4 16.6-4.6 20.9z" fill="#223254"/>
<path d="M1926.1 400.6l4.6-20.9-4 16.5-4.6 19.8z" fill="#233252"/>
<path d="M1922.1 416l4.6-19.8-4 16.5-4.6 18.7z" fill="#24324f"/>
<path d="M1918.1 431.4l4.6-18.7-4 16.6-4.6 17.5z" fill="#25324d"/>
<path d="M1914.1 446.8l4.6-17.5-4 16.5-4.6 16.4z" fill="#25324b"/>
<path d="M1900.9 495.1l23.9-78.9 13.8-69.6" class="m"/>
<path d="M1863.1 595.4l4.6-12.7-8 12.6-4.6 11.3z" fill="#2b2b32"/>
<path d="M1855.1 606.6l4.6-11.3-8 12.6-4.6 9.8z" fill="#2c2b30"/>
<path d="M1847.1 617.7l4.6-9.8-8 12.6-4.6 8.4z" fill="#2d2b2f"/>
<path d="M1867.7 582.7l4.6-12.7-8 14.1-4.6 11.2z" fill="#2b2c34"/>
<path d="M1859.7 595.3l4.6-11.2-8 14-4.6 9.8z" fill="#2c2c32"/>
<path d="M1851.7 607.9l4.6-9.8-7.9 14.1-4.7 8.3z" fill="#2d2c30"/>
<path d="M1872.3 570l4.6-12.7-8 15.5-4.6 11.3z" fill="#2b2d36"/>
<path d="M1864.3 584.1l4.6-11.3-7.9 15.5-4.7 9.8z" fill="#2c2d34"/>
<path d="M1856.3 598.1l4.7-9.8-8 15.5-4.6 8.4z" fill="#2d2d32"/>
<path d="M1839.1 628.9l24-33.5 13.8-38.1" class="m"/>
<path d="M1801.4 672.5l13.8-17.8-12 8.8-13.8 14.4z" fill="#332827"/>
<path d="M1789.4 677.9l13.8-14.4-12 8.8-13.8 11z" fill="#362826"/>
<path d="M1777.4 683.3l24-10.8 13.8-17.8" class="m"/>
<path d="M1739.6 699.5l13.9-8.4-12 3-13.8 7.1z" fill="#3c2423"/>
<path d="M1727.7 701.2l13.8-7.1-12 3-13.8 5.9z" fill="#3e2422"/>
<path d="M1715.7 703l23.9-3.5 13.9-8.4" class="m"/>
<path d="M1900.9 495.1l4.6-16.4-4.8 13.5-4.6 15.3z" fill="#262f42"/>
<path d="M1896.1 507.5l4.6-15.3-4.8 13.5-4.6 14.3z" fill="#272f41"/>
<path d="M1891.3 520l4.6-14.3-4.8 13.5-4.6 13.2z" fill="#282f3f"/>
<path d="M1886.5 532.4l4.6-13.2-4.8 13.5-4.6 12.2z" fill="#292f3d"/>
<path d="M1881.7 544.9l4.6-12.2-4.8 13.5-4.6 11.1z" fill="#292f3b"/>
<path d="M1905.5 478.7l4.6-16.5-4.8 14.6-4.6 15.4z" fill="#263045"/>
<path d="M1900.7 492.2l4.6-15.4-4.8 14.5-4.6 14.4z" fill="#273043"/>
<path d="M1895.9 505.7l4.6-14.4-4.8 14.6-4.6 13.3z" fill="#283041"/>
<path d="M1891.1 519.2l4.6-13.3-4.8 14.6-4.6 12.2z" fill="#29303f"/>
<path d="M1886.3 532.7l4.6-12.2-4.8 14.5-4.6 11.2z" fill="#29303d"/>
<path d="M1910.1 462.2l4.6-16.4-4.8 15.6-4.6 15.4z" fill="#263248"/>
<path d="M1905.3 476.8l4.6-15.4-4.8 15.6-4.6 14.3z" fill="#273246"/>
<path d="M1900.5 491.3l4.6-14.3-4.8 15.6-4.6 13.3z" fill="#283244"/>
<path d="M1895.7 505.9l4.6-13.3-4.8 15.7-4.6 12.2z" fill="#293241"/>
<path d="M1890.9 520.5l4.6-12.2-4.7 15.6-4.7 11.1z" fill="#29323f"/>
<path d="M1876.9 557.3l24-62.2 13.8-49.3" class="m"/>
<path d="M1839.1 628.9l7-12.6-8 10.3-6.9 10.9z" fill="#2f2b2d"/>
<path d="M1831.2 637.5l6.9-10.9-8 10.2-6.9 9.3z" fill="#302b2c"/>
<path d="M1823.2 646.1l6.9-9.3-8 10.2-6.9 7.7z" fill="#322b2b"/>
<path d="M1846.1 616.3l6.9-12.5-8 11.8-6.9 11z" fill="#2f2d30"/>
<path d="M1838.1 626.6l6.9-11-8 11.8-6.9 9.4z" fill="#302d2e"/>
<path d="M1830.1 636.8l6.9-9.4-8 11.9-6.9 7.7z" fill="#322d2d"/>
<path d="M1815.2 654.7l23.9-25.8 13.9-25.1" class="m"/>
<path d="M1777.4 683.3l13.8-11-11.9 5.7-13.9 9.2z" fill="#382826"/>
<path d="M1765.4 687.2l13.9-9.2-12 5.6-13.8 7.5z" fill="#3a2825"/>
<path d="M1753.5 691.1l23.9-7.8 13.8-11" class="m"/>
<path d="M1938.6 346.6l4.7-20.2-3.5 15-4.6 19.4z" fill="#6e91e0"/>
<path d="M1935.2 360.8l4.6-19.4-3.4 15-4.6 18.6z" fill="#7092dc"/>
<path d="M1931.8 375l4.6-18.6-3.4 15.1-4.6 17.6z" fill="#7292d8"/>
<path d="M1928.4 389.1l4.6-17.6-3.4 15-4.6 16.8z" fill="#7392d4"/>
<path d="M1925 403.3l4.6-16.8-3.4 15-4.7 16z" fill="#7593d0"/>
<path d="M1921.5 417.5l4.7-16-3.5 15-4.6 15.1z" fill="#7693cc"/>
<path d="M1918.1 431.6l4.6-15.1-3.4 15.1-4.6 14.2z" fill="#7894c8"/>
<path d="M1943.3 326.4l4.6-20.3-3.4 15.9-4.7 19.4z" fill="#6e94e7"/>
<path d="M1939.8 341.4l4.7-19.4-3.5 15.9-4.6 18.5z" fill="#7094e3"/>
<path d="M1936.4 356.4l4.6-18.5-3.4 15.9-4.6 17.7z" fill="#7195df"/>
<path d="M1933 371.5l4.6-17.7-3.4 15.9-4.6 16.8z" fill="#7395da"/>
<path d="M1929.6 386.5l4.6-16.8-3.4 15.8-4.6 16z" fill="#7495d6"/>
<path d="M1926.2 401.5l4.6-16-3.5 15.9-4.6 15.1z" fill="#7696d2"/>
<path d="M1922.7 416.5l4.6-15.1-3.4 15.9-4.6 14.3z" fill="#7796cd"/>
<path d="M1947.9 306.1l4.6-20.2-3.4 16.7-4.6 19.4z" fill="#6e97ee"/>
<path d="M1944.5 322l4.6-19.4-3.5 16.8-4.6 18.5z" fill="#7097e9"/>
<path d="M1941 337.9l4.6-18.5-3.4 16.7-4.6 17.7z" fill="#7197e4"/>
<path d="M1937.6 353.8l4.6-17.7-3.4 16.7-4.6 16.9z" fill="#7397e0"/>
<path d="M1934.2 369.7l4.6-16.9-3.4 16.8-4.6 15.9z" fill="#7498db"/>
<path d="M1930.8 385.5l4.6-15.9-3.4 16.7-4.7 15.1z" fill="#7698d7"/>
<path d="M1927.3 401.4l4.7-15.1-3.5 16.7-4.6 14.3z" fill="#7798d2"/>
<path d="M1914.7 445.8l23.9-99.2 13.9-60.7" class="m"/>
<path d="M1715.7 703l13.8-5.9-11.9 2.3-13.9 5.3z" fill="#402422"/>
<path d="M1703.7 704.7l13.9-5.3-12 2.3-13.8 4.8z" fill="#422422"/>
<path d="M1691.8 706.5l23.9-3.5 13.8-5.9" class="m"/>
<path d="M1876.9 557.3l6.9-16.7-6 13.1-6.9 15.2z" fill="#8791a7"/>
<path d="M1870.9 568.9l6.9-15.2-5.9 13-7 13.8z" fill="#8b93a4"/>
<path d="M1864.9 580.5l7-13.8-6 13.1-6.9 12.4z" fill="#8e94a2"/>
<path d="M1859 592.2l6.9-12.4-6 13.1-6.9 10.9z" fill="#92959f"/>
<path d="M1883.8 540.6l7-16.7-6 14.5-7 15.3z" fill="#8796ad"/>
<path d="M1877.8 553.7l7-15.3-6 14.5-6.9 13.8z" fill="#8b97aa"/>
<path d="M1871.9 566.7l6.9-13.8-6 14.5-6.9 12.4z" fill="#8e98a7"/>
<path d="M1865.9 579.8l6.9-12.4-6 14.5-6.9 11z" fill="#929aa4"/>
<path d="M1853 603.8l23.9-46.5 13.9-33.4" class="m"/>
<path d="M1815.2 654.7l13.8-15.4-12 11.8-13.8 12.4z" fill="#332c2a"/>
<path d="M1803.2 663.5l13.8-12.4-11.9 11.8-13.9 9.4z" fill="#362c29"/>
<path d="M1791.2 672.3l24-17.6 13.8-15.4" class="m"/>
<path d="M1753.5 691.1l13.8-7.5-12 4.2-13.8 6.3z" fill="#3c2825"/>
<path d="M1741.5 694.1l13.8-6.3-11.9 4.2-13.9 5.1z" fill="#3e2824"/>
<path d="M1729.5 697.1l24-6 13.8-7.5" class="m"/>
<path d="M1914.7 445.8l4.6-14.2-4 13.7-4.6 13.5z" fill="#7a94c5"/>
<path d="M1910.7 458.8l4.6-13.5-4 13.8-4.6 12.7z" fill="#7c95c2"/>
<path d="M1906.7 471.8l4.6-12.7-4 13.8-4.6 11.9z" fill="#7e96be"/>
<path d="M1902.7 484.8l4.6-11.9-4 13.8-4.6 11.2z" fill="#8096bb"/>
<path d="M1898.7 497.9l4.6-11.2-3.9 13.8-4.7 10.4z" fill="#8297b8"/>
<path d="M1894.7 510.9l4.7-10.4-4 13.8-4.6 9.6z" fill="#8498b4"/>
<path d="M1919.3 431.6l4.6-14.3-4 14.6-4.6 13.4z" fill="#7997c9"/>
<path d="M1915.3 445.3l4.6-13.4-4 14.5-4.6 12.7z" fill="#7b97c6"/>
<path d="M1911.3 459.1l4.6-12.7-4 14.6-4.6 11.9z" fill="#7d98c2"/>
<path d="M1907.3 472.9l4.6-11.9-3.9 14.6-4.7 11.1z" fill="#7f99bf"/>
<path d="M1903.3 486.7l4.7-11.1-4 14.5-4.6 10.4z" fill="#8199bb"/>
<path d="M1899.4 500.5l4.6-10.4-4 14.6-4.6 9.6z" fill="#849ab8"/>
<path d="M1923.9 417.3l4.6-14.3-4 15.4-4.6 13.5z" fill="#7999ce"/>
<path d="M1919.9 431.9l4.6-13.5-3.9 15.3-4.7 12.7z" fill="#7b9aca"/>
<path d="M1915.9 446.4l4.7-12.7-4 15.4-4.7 11.9z" fill="#7d9ac6"/>
<path d="M1911.9 461l4.7-11.9-4 15.3-4.6 11.2z" fill="#7f9bc3"/>
<path d="M1908 475.6l4.6-11.2-4 15.4-4.6 10.3z" fill="#819cbf"/>
<path d="M1904 490.1l4.6-10.3-4 15.3-4.6 9.6z" fill="#839cbb"/>
<path d="M1890.8 523.9l23.9-78.1 13.8-42.8" class="m"/>
<path d="M1691.8 706.5l13.8-4.8-12 1.8-13.8 4.7z" fill="#442422"/>
<path d="M1679.8 708.2l13.8-4.7-12 1.7-13.8 4.8z" fill="#462422"/>
<path d="M1667.8 710l24-3.5 13.8-4.8" class="m"/>
<path d="M1853 603.8l6.9-10.9-8 13.2-6.9 9.5z" fill="#96979d"/>
<path d="M1845 615.6l6.9-9.5-8 13.3-6.9 8z" fill="#9b989b"/>
<path d="M1837 627.4l6.9-8-8 13.3-6.9 6.6z" fill="#9f9a98"/>
<path d="M1859.9 592.9l6.9-11-8 14.8-6.9 9.4z" fill="#969ba1"/>
<path d="M1851.9 606.1l6.9-9.4-8 14.7-6.9 8z" fill="#9b9d9f"/>
<path d="M1843.9 619.4l6.9-8-8 14.7-6.9 6.6z" fill="#a09f9d"/>
<path d="M1829 639.3l24-35.5 13.8-21.9" class="m"/>
<path d="M1791.2 672.3l13.9-9.4-12 7.2-13.8 7.9z" fill="#382c28"/>
<path d="M1779.3 678l13.8-7.9-12 7.2-13.8 6.3z" fill="#3a2c27"/>
<path d="M1767.3 683.6l23.9-11.3 13.9-9.4" class="m"/>
<path d="M1952.5 285.9l4.6-17.2-3 15.2-4.6 16.7z" fill="#6e99f4"/>
<path d="M1949.5 300.6l4.6-16.7-3 15.3-4.6 16z" fill="#6f99f0"/>
<path d="M1946.5 315.2l4.6-16-3 15.3-4.6 15.3z" fill="#7099eb"/>
<path d="M1943.5 329.8l4.6-15.3-3 15.3-4.6 14.7z" fill="#729ae7"/>
<path d="M1940.5 344.5l4.6-14.7-3 15.3-4.6 14z" fill="#739ae3"/>
<path d="M1937.5 359.1l4.6-14-3 15.3-4.6 13.4z" fill="#749ade"/>
<path d="M1934.5 373.8l4.6-13.4-3 15.3-4.6 12.7z" fill="#759ada"/>
<path d="M1931.5 388.4l4.6-12.7-3 15.3-4.6 12z" fill="#779bd6"/>
<path d="M1957.1 268.7l4.6-17.3-3 15.9-4.6 16.6z" fill="#6e9bf9"/>
<path d="M1954.1 283.9l4.6-16.6-3 16-4.6 15.9z" fill="#6f9cf5"/>
<path d="M1951.1 299.2l4.6-15.9-3 15.9-4.6 15.3z" fill="#709cf0"/>
<path d="M1948.1 314.5l4.6-15.3-3 15.9-4.6 14.7z" fill="#719cec"/>
<path d="M1945.1 329.8l4.6-14.7-3 16-4.6 14z" fill="#739ce7"/>
<path d="M1942.1 345.1l4.6-14-3 15.9-4.6 13.4z" fill="#749ce3"/>
<path d="M1939.1 360.4l4.6-13.4-2.9 16-4.7 12.7z" fill="#759dde"/>
<path d="M1936.1 375.7l4.7-12.7-3 15.9-4.7 12.1z" fill="#769dda"/>
<path d="M1961.7 251.4l4.6-17.3-3 16.6-4.6 16.6z" fill="#6d9efe"/>
<path d="M1958.7 267.3l4.6-16.6-3 16.6-4.6 16z" fill="#6e9efa"/>
<path d="M1955.7 283.3l4.6-16-3 16.6-4.6 15.3z" fill="#709ef5"/>
<path d="M1952.7 299.2l4.6-15.3-3 16.6-4.6 14.6z" fill="#719ef0"/>
<path d="M1949.7 315.1l4.6-14.6-2.9 16.6-4.7 14z" fill="#729eeb"/>
<path d="M1946.7 331.1l4.7-14-3 16.5-4.7 13.4z" fill="#739fe7"/>
<path d="M1943.7 347l4.7-13.4-3 16.6-4.6 12.8z" fill="#749fe2"/>
<path d="M1940.8 363l4.6-12.8-3 16.6-4.6 12.1z" fill="#769fdd"/>
<path d="M1928.5 403l24-117.1 13.8-51.8" class="m"/>
<path d="M1729.5 697.1l13.9-5.1-12 2.8-13.8 4.6z" fill="#402824"/>
<path d="M1717.6 699.4l13.8-4.6-12 2.9-13.8 4z" fill="#422824"/>
<path d="M1705.6 701.7l23.9-4.6 13.9-5.1" class="m"/>
<path d="M1890.8 523.9l6.9-14.4-4.8 12.6-6.9 13.4z" fill="#8699b2"/>
<path d="M1886 535.5l6.9-13.4-4.8 12.7-6.9 12.3z" fill="#899ab0"/>
<path d="M1881.2 547.1l6.9-12.3-4.8 12.6-6.9 11.3z" fill="#8c9cad"/>
<path d="M1876.4 558.7l6.9-11.3-4.8 12.6-6.9 10.3z" fill="#8f9dab"/>
<path d="M1871.6 570.3l6.9-10.3-4.8 12.7-6.9 9.2z" fill="#929ea8"/>
<path d="M1897.7 509.5l6.9-14.4-4.8 13.7-6.9 13.3z" fill="#869db7"/>
<path d="M1892.9 522.1l6.9-13.3-4.8 13.6-6.9 12.4z" fill="#889eb4"/>
<path d="M1888.1 534.8l6.9-12.4-4.8 13.7-6.9 11.3z" fill="#8b9fb1"/>
<path d="M1883.3 547.4l6.9-11.3-4.8 13.6-6.9 10.3z" fill="#8ea0ae"/>
<path d="M1878.5 560l6.9-10.3-4.8 13.7-6.9 9.3z" fill="#91a2ac"/>
<path d="M1866.8 581.9l24-58 13.8-28.8" class="m"/>
<path d="M1667.8 710l13.8-4.8-11.9 1.2-13.8 5.3z" fill="#492422"/>
<path d="M1655.9 711.7l13.8-5.3-12 1.3-13.8 5.7z" fill="#4b2422"/>
<path d="M1643.9 713.4l23.9-3.4 13.8-4.8" class="m"/>
<path d="M1829 639.3l13.8-13.2-11.9 14.5-13.9 10.5z" fill="#a69f98"/>
<path d="M1817 651.1l13.9-10.5-12 14.6-13.8 7.7z" fill="#ab9f95"/>
<path d="M1805.1 662.9l23.9-23.6 13.8-13.2" class="m"/>
<path d="M1767.3 683.6l13.8-6.3-11.9 5.1-13.9 5.4z" fill="#ad8c80"/>
<path d="M1755.3 687.8l13.9-5.4-12 5.2-13.8 4.4z" fill="#af897d"/>
<path d="M1743.4 692l23.9-8.4 13.8-6.3" class="m"/>
<path d="M1928.5 403l7-18.1-3.5 14-6.9 17.3z" fill="#789cd3"/>
<path d="M1925.1 416.2l6.9-17.3-3.4 14.1-6.9 16.3z" fill="#7a9ccf"/>
<path d="M1921.7 429.3l6.9-16.3-3.4 14-6.9 15.5z" fill="#7b9dcc"/>
<path d="M1918.3 442.5l6.9-15.5-3.4 14-7 14.7z" fill="#7d9dc9"/>
<path d="M1914.8 455.7l7-14.7-3.5 14-6.9 13.8z" fill="#7f9ec5"/>
<path d="M1911.4 468.8l6.9-13.8-3.4 14-6.9 13z" fill="#819fc2"/>
<path d="M1908 482l6.9-13-3.4 14.1-6.9 12z" fill="#839fbe"/>
<path d="M1935.5 384.9l6.9-18.1-3.5 14.9-6.9 17.2z" fill="#779fd8"/>
<path d="M1932 398.9l6.9-17.2-3.4 14.9-6.9 16.4z" fill="#799fd4"/>
<path d="M1928.6 413l6.9-16.4-3.4 14.9-6.9 15.5z" fill="#7ba0d1"/>
<path d="M1925.2 427l6.9-15.5-3.4 14.8-6.9 14.7z" fill="#7ca1cd"/>
<path d="M1921.8 441l6.9-14.7-3.4 14.9-7 13.8z" fill="#7ea1c9"/>
<path d="M1918.3 455l7-13.8-3.5 14.9-6.9 12.9z" fill="#80a2c6"/>
<path d="M1914.9 469l6.9-12.9-3.4 14.9-6.9 12.1z" fill="#82a3c2"/>
<path d="M1904.6 495.1l23.9-92.1 13.9-36.2" class="m"/>
<path d="M1705.6 701.7l13.8-4-12 1.8-13.8 4z" fill="#442824"/>
<path d="M1693.6 703.5l13.8-4-11.9 1.7-13.9 4z" fill="#462824"/>
<path d="M1681.6 705.2l24-3.5 13.8-4" class="m"/>
<path d="M1866.8 581.9l13.8-18.5-6 12.9-13.8 16.7z" fill="#95a1a8"/>
<path d="M1860.8 593l13.8-16.7-5.9 13-13.9 14.7z" fill="#99a3a6"/>
<path d="M1854.8 604l13.9-14.7-6 12.9-13.9 12.8z" fill="#9da5a4"/>
<path d="M1848.8 615l13.9-12.8-6 12.9-13.9 11z" fill="#a2a8a2"/>
<path d="M1842.8 626.1l24-44.2 13.8-18.5" class="m"/>
<path d="M1643.9 713.4l13.8-5.7-12 1-13.8 6.5z" fill="#4d2422"/>
<path d="M1631.9 715.2l13.8-6.5-11.9 1.1-13.9 7.1z" fill="#4f2422"/>
<path d="M1619.9 716.9l24-3.5 13.8-5.7" class="m"/>
<path d="M1805.1 662.9l13.8-7.7-12 8.4-13.8 6.5z" fill="#ae9e90"/>
<path d="M1793.1 670.1l13.8-6.5-11.9 8.4-13.9 5.3z" fill="#af9b8c"/>
<path d="M1781.1 677.3l24-14.4 13.8-7.7" class="m"/>
<path d="M1966.3 234.1l4.6-14.3-2.6 15.3-4.6 13.8z" fill="#6da0ff"/>
<path d="M1963.7 248.9l4.6-13.8-2.7 15.2-4.6 13.3z" fill="#6ea0ff"/>
<path d="M1961 263.6l4.6-13.3-2.6 15.2-4.7 12.9z" fill="#6fa0fa"/>
<path d="M1958.3 278.4l4.7-12.9-2.7 15.3-4.6 12.3z" fill="#70a0f6"/>
<path d="M1955.7 293.1l4.6-12.3-2.7 15.2-4.6 11.8z" fill="#71a1f2"/>
<path d="M1953 307.8l4.6-11.8-2.6 15.2-4.6 11.4z" fill="#72a1ed"/>
<path d="M1950.4 322.6l4.6-11.4-2.7 15.2-4.6 10.9z" fill="#73a1e9"/>
<path d="M1947.7 337.3l4.6-10.9-2.7 15.3-4.6 10.4z" fill="#74a1e5"/>
<path d="M1945 352.1l4.6-10.4-2.6 15.2-4.6 9.9z" fill="#75a1e0"/>
<path d="M1970.9 219.8l4.6-14.3-2.6 15.8-4.6 13.8z" fill="#6ca2ff"/>
<path d="M1968.3 235.1l4.6-13.8-2.7 15.7-4.6 13.3z" fill="#6da2ff"/>
<path d="M1965.6 250.3l4.6-13.3-2.6 15.7-4.6 12.8z" fill="#6fa2fe"/>
<path d="M1963 265.5l4.6-12.8-2.7 15.7-4.6 12.4z" fill="#70a3fa"/>
<path d="M1960.3 280.8l4.6-12.4-2.7 15.7-4.6 11.9z" fill="#71a3f5"/>
<path d="M1957.6 296l4.6-11.9-2.6 15.8-4.6 11.3z" fill="#72a3f1"/>
<path d="M1955 311.2l4.6-11.3-2.7 15.7-4.6 10.8z" fill="#73a3ec"/>
<path d="M1952.3 326.4l4.6-10.8-2.6 15.7-4.7 10.4z" fill="#74a3e8"/>
<path d="M1949.6 341.7l4.7-10.4-2.7 15.7-4.6 9.9z" fill="#75a3e3"/>
<path d="M1975.5 205.5l4.7-14.2-2.7 16.2-4.6 13.8z" fill="#6ca4ff"/>
<path d="M1972.9 221.3l4.6-13.8-2.7 16.2-4.6 13.3z" fill="#6da4ff"/>
<path d="M1970.2 237l4.6-13.3-2.6 16.2-4.6 12.8z" fill="#6ea5ff"/>
<path d="M1967.6 252.7l4.6-12.8-2.7 16.2-4.6 12.3z" fill="#6fa5fd"/>
<path d="M1964.9 268.4l4.6-12.3-2.6 16.2-4.7 11.8z" fill="#70a5f9"/>
<path d="M1962.2 284.1l4.7-11.8-2.7 16.2-4.6 11.4z" fill="#71a5f4"/>
<path d="M1959.6 299.9l4.6-11.4-2.7 16.2-4.6 10.9z" fill="#72a5ef"/>
<path d="M1956.9 315.6l4.6-10.9-2.6 16.2-4.6 10.4z" fill="#73a5eb"/>
<path d="M1954.3 331.3l4.6-10.4-2.7 16.2-4.6 9.9z" fill="#74a5e6"/>
<path d="M1942.4 366.8l23.9-132.7 13.9-42.8" class="m"/>
<path d="M1743.4 692l13.8-4.4-12 3.4-13.8 3.8z" fill="#402c26"/>
<path d="M1731.4 694.8l13.8-3.8-12 3.4-13.8 3.3z" fill="#422c26"/>
<path d="M1719.4 697.7l24-5.7 13.8-4.4" class="m"/>
<path d="M1904.6 495.1l6.9-12-4.8 14.5-6.9 11.2z" fill="#85a0bb"/>
<path d="M1899.8 508.8l6.9-11.2-4.8 14.5-6.9 10.3z" fill="#88a2b8"/>
<path d="M1895 522.4l6.9-10.3-4.8 14.6-6.9 9.4z" fill="#8ba3b5"/>
<path d="M1890.2 536.1l6.9-9.4-4.8 14.5-6.9 8.5z" fill="#8da4b2"/>
<path d="M1885.4 549.7l6.9-8.5-4.8 14.6-6.9 7.6z" fill="#90a5af"/>
<path d="M1911.5 483.1l6.9-12.1-4.8 15.4-6.9 11.2z" fill="#84a4bf"/>
<path d="M1906.7 497.6l6.9-11.2-4.8 15.5-6.9 10.2z" fill="#87a5bb"/>
<path d="M1901.9 512.1l6.9-10.2-4.8 15.4-6.9 9.4z" fill="#8aa6b8"/>
<path d="M1897.1 526.7l6.9-9.4-4.7 15.4-7 8.5z" fill="#8da8b5"/>
<path d="M1892.3 541.2l7-8.5-4.8 15.5-7 7.6z" fill="#90a9b2"/>
<path d="M1880.6 563.4l24-68.3 13.8-24.1" class="m"/>
<path d="M1681.6 705.2l13.9-4-12 1-13.8 4.2z" fill="#492824"/>
<path d="M1669.7 706.4l13.8-4.2-12 .9-13.8 4.6z" fill="#4b2824"/>
<path d="M1657.7 707.7l23.9-2.5 13.9-4" class="m"/>
<path d="M1842.8 626.1l13.9-11-8 11.3-13.8 9.4z" fill="#a7aaa1"/>
<path d="M1834.9 635.8l13.8-9.4-8 11.4-13.8 7.7z" fill="#adada0"/>
<path d="M1826.9 645.5l13.8-7.7-8 11.3-13.8 6.1z" fill="#b1ae9e"/>
<path d="M1818.9 655.2l23.9-29.1 13.9-11" class="m"/>
<path d="M1619.9 716.9l13.9-7.1-12 1.6-13.8 7.3z" fill="#512422"/>
<path d="M1608 718.7l13.8-7.3-12 1.5-13.8 7.5z" fill="#532422"/>
<path d="M1596 720.4l23.9-3.5 13.9-7.1" class="m"/>
<path d="M1781.1 677.3l13.9-5.3-12 6-13.8 4.4z" fill="#b19887"/>
<path d="M1769.2 682.4l13.8-4.4-12 6.1-13.8 3.5z" fill="#b29583"/>
<path d="M1757.2 687.6l23.9-10.3 13.9-5.3" class="m"/>
<path d="M1942.4 366.8l6.9-14.8-3.4 15.6-7 14.1z" fill="#76a2dd"/>
<path d="M1938.9 381.7l7-14.1-3.5 15.6-6.9 13.4z" fill="#78a3d9"/>
<path d="M1935.5 396.6l6.9-13.4-3.4 15.6-6.9 12.7z" fill="#7aa3d5"/>
<path d="M1932.1 411.5l6.9-12.7-3.4 15.6-6.9 11.9z" fill="#7ca4d1"/>
<path d="M1928.7 426.3l6.9-11.9-3.4 15.6-6.9 11.2z" fill="#7da5cd"/>
<path d="M1925.3 441.2l6.9-11.2-3.4 15.7-7 10.4z" fill="#7fa5c9"/>
<path d="M1921.8 456.1l7-10.4-3.5 15.6-6.9 9.7z" fill="#81a6c5"/>
<path d="M1949.3 352l6.9-14.9-3.4 16.4-6.9 14.1z" fill="#76a5e1"/>
<path d="M1945.9 367.6l6.9-14.1-3.4 16.3-7 13.4z" fill="#77a6dd"/>
<path d="M1942.4 383.2l7-13.4-3.5 16.3-6.9 12.7z" fill="#79a6d9"/>
<path d="M1939 398.8l6.9-12.7-3.4 16.4-6.9 11.9z" fill="#7ba7d5"/>
<path d="M1935.6 414.4l6.9-11.9-3.4 16.3-6.9 11.2z" fill="#7da8d1"/>
<path d="M1932.2 430l6.9-11.2-3.4 16.4-6.9 10.5z" fill="#7ea8cc"/>
<path d="M1928.8 445.7l6.9-10.5-3.5 16.3-6.9 9.8z" fill="#80a9c8"/>
<path d="M1918.4 471l24-104.2 13.8-29.7" class="m"/>
<path d="M1719.4 697.7l13.8-3.3-11.9 1.9-13.9 3.2z" fill="#442c26"/>
<path d="M1707.4 699.5l13.9-3.2-12 1.9-13.8 3z" fill="#462c25"/>
<path d="M1695.5 701.2l23.9-3.5 13.8-3.3" class="m"/>
<path d="M1880.6 563.4l13.9-15.2-6 14.6-13.9 13.5z" fill="#94a9ae"/>
<path d="M1874.6 576.3l13.9-13.5-6 14.5-13.8 12z" fill="#99acac"/>
<path d="M1868.7 589.3l13.8-12-6 14.6-13.8 10.3z" fill="#9eafaa"/>
<path d="M1862.7 602.2l13.8-10.3-6 14.6-13.8 8.6z" fill="#a3b1a9"/>
<path d="M1856.7 615.1l23.9-51.7 13.9-15.2" class="m"/>
<path d="M1657.7 707.7l13.8-4.6-12 .6-13.8 5z" fill="#4d2824"/>
<path d="M1645.7 708.7l13.8-5-11.9 .6-13.8 5.5z" fill="#4f2824"/>
<path d="M1633.8 709.8l23.9-2.1 13.8-4.6" class="m"/>
<path d="M1818.9 655.2l13.8-6.1-11.9 9.3-13.9 5.2z" fill="#b3ac9a"/>
<path d="M1806.9 663.6l13.9-5.2-12 9.4-13.8 4.2z" fill="#b3a893"/>
<path d="M1795 672l23.9-16.8 13.8-6.1" class="m"/>
<path d="M1596 720.4l13.8-7.5-12 2.3-13.8 6.9z" fill="#552422"/>
<path d="M1584 722.1l13.8-6.9-11.9 2.2-13.8 6.5z" fill="#572422"/>
<path d="M1572.1 723.9l23.9-3.5 13.8-7.5" class="m"/>
<path d="M1980.2 191.3l6.9-17-2.4 15.1-6.9 16.4z" fill="#6ba7ff"/>
<path d="M1977.8 205.8l6.9-16.4-2.4 15.1-6.9 15.9z" fill="#6ca7ff"/>
<path d="M1975.4 220.4l6.9-15.9-2.4 15.1-6.9 15.4z" fill="#6da7ff"/>
<path d="M1973 235l6.9-15.4-2.4 15.2-6.9 14.8z" fill="#6ea7ff"/>
<path d="M1970.6 249.6l6.9-14.8-2.4 15.1-6.9 14.3z" fill="#6fa7fe"/>
<path d="M1968.2 264.2l6.9-14.3-2.4 15.1-6.9 13.8z" fill="#70a7fa"/>
<path d="M1965.8 278.8l6.9-13.8-2.4 15.1-6.9 13.2z" fill="#71a8f6"/>
<path d="M1963.4 293.3l6.9-13.2-2.4 15.2-6.9 12.6z" fill="#72a8f1"/>
<path d="M1961 307.9l6.9-12.6-2.4 15.1-6.9 12.1z" fill="#73a8ed"/>
<path d="M1958.6 322.5l6.9-12.1-2.4 15.1-6.9 11.6z" fill="#74a8e9"/>
<path d="M1987.1 174.3l6.9-17-2.4 15.7-6.9 16.4z" fill="#6baaff"/>
<path d="M1984.7 189.4l6.9-16.4-2.4 15.6-6.9 15.9z" fill="#6caaff"/>
<path d="M1982.3 204.5l6.9-15.9-2.4 15.7-6.9 15.3z" fill="#6daaff"/>
<path d="M1979.9 219.6l6.9-15.3-2.4 15.6-6.9 14.9z" fill="#6eaaff"/>
<path d="M1977.5 234.8l6.9-14.9-2.4 15.7-6.9 14.3z" fill="#6eabff"/>
<path d="M1975.1 249.9l6.9-14.3-2.4 15.7-6.9 13.7z" fill="#6fabfe"/>
<path d="M1972.7 265l6.9-13.7-2.4 15.6-6.9 13.2z" fill="#70abf9"/>
<path d="M1970.3 280.1l6.9-13.2-2.4 15.7-6.9 12.7z" fill="#71abf5"/>
<path d="M1967.9 295.3l6.9-12.7-2.4 15.7-6.9 12.1z" fill="#72abf0"/>
<path d="M1965.5 310.4l6.9-12.1-2.4 15.6-6.9 11.6z" fill="#73abec"/>
<path d="M1956.2 337.1l24-145.8 13.8-34" class="m"/>
<path d="M1757.2 687.6l13.8-3.5-12 3.9-13.8 3z" fill="#b3927f"/>
<path d="M1745.2 691l13.8-3-12 3.9-13.8 2.5z" fill="#b38e7c"/>
<path d="M1733.2 694.4l24-6.8 13.8-3.5" class="m"/>
<path d="M1918.4 471l13.8-19.5-3.9 14.2-13.9 18.2z" fill="#83a8c3"/>
<path d="M1914.4 483.9l13.9-18.2-4 14.1-13.9 16.9z" fill="#85aac1"/>
<path d="M1910.4 496.7l13.9-16.9-4 14.1-13.9 15.7z" fill="#87abbe"/>
<path d="M1906.4 509.6l13.9-15.7-4 14.1-13.9 14.4z" fill="#8aacbb"/>
<path d="M1902.4 522.4l13.9-14.4-4 14.1-13.8 13.2z" fill="#8cadb8"/>
<path d="M1898.5 535.3l13.8-13.2-4 14.1-13.8 12z" fill="#8faeb5"/>
<path d="M1894.5 548.2l23.9-77.2 13.8-19.5" class="m"/>
<path d="M1695.5 701.2l13.8-3-12 .7-13.8 3.3z" fill="#492c26"/>
<path d="M1683.5 702.2l13.8-3.3-12 .7-13.8 3.5z" fill="#4b2c26"/>
<path d="M1671.5 703.1l24-1.9 13.8-3" class="m"/>
<path d="M1856.7 615.1l13.8-8.6-8 12.7-13.8 7.2z" fill="#a9b6a9"/>
<path d="M1848.7 626.4l13.8-7.2-8 12.7-13.8 5.9z" fill="#b1baaa"/>
<path d="M1840.7 637.8l13.8-5.9-7.9 12.7-13.9 4.5z" fill="#b7bda9"/>
<path d="M1832.7 649.1l24-34 13.8-8.6" class="m"/>
<path d="M1633.8 709.8l13.8-5.5-12 1.6-13.8 5.5z" fill="#512824"/>
<path d="M1621.8 711.4l13.8-5.5-12 1.5-13.8 5.5z" fill="#532824"/>
<path d="M1609.8 712.9l24-3.1 13.8-5.5" class="m"/>
<path d="M1795 672l13.8-4.2-12 6.8-13.8 3.4z" fill="#b4a48d"/>
<path d="M1783 678l13.8-3.4-12 6.8-13.8 2.7z" fill="#b5a089"/>
<path d="M1771 684.1l24-12.1 13.8-4.2" class="m"/>
<path d="M1572.1 723.9l13.8-6.5-12 2.5-13.8 5.7z" fill="#5a2422"/>
<path d="M1560.1 725.6l13.8-5.7-12 2.5-13.8 5z" fill="#5c2422"/>
<path d="M1548.1 727.4l24-3.5 13.8-6.5" class="m"/>
<path d="M1956.2 337.1l6.9-11.6-3 14.8-6.9 11.1z" fill="#75a8e5"/>
<path d="M1953.2 351.4l6.9-11.1-3 14.9-6.9 10.5z" fill="#76a9e1"/>
<path d="M1950.2 365.7l6.9-10.5-3 14.8-6.9 10z" fill="#78a9dd"/>
<path d="M1947.2 380l6.9-10-3 14.8-6.9 9.5z" fill="#79aada"/>
<path d="M1944.2 394.3l6.9-9.5-2.9 14.9-7 8.9z" fill="#7babd6"/>
<path d="M1941.2 408.6l7-8.9-3 14.8-7 8.4z" fill="#7cabd2"/>
<path d="M1938.2 422.9l7-8.4-3 14.8-7 7.9z" fill="#7eacce"/>
<path d="M1935.2 437.2l7-7.9-3 14.8-7 7.4z" fill="#7faccb"/>
<path d="M1963.1 325.5l6.9-11.6-3 15.4-6.9 11z" fill="#74abe8"/>
<path d="M1960.1 340.3l6.9-11-2.9 15.3-7 10.6z" fill="#76ace4"/>
<path d="M1957.1 355.2l7-10.6-3 15.4-7 10z" fill="#77ade0"/>
<path d="M1954.1 370l7-10-3 15.3-7 9.5z" fill="#79addc"/>
<path d="M1951.1 384.8l7-9.5-3 15.4-6.9 9z" fill="#7aaed8"/>
<path d="M1948.2 399.7l6.9-9-3 15.3-6.9 8.5z" fill="#7caed5"/>
<path d="M1945.2 414.5l6.9-8.5-3 15.4-6.9 7.9z" fill="#7dafd1"/>
<path d="M1942.2 429.3l6.9-7.9-3 15.4-6.9 7.3z" fill="#7fb0cd"/>
<path d="M1932.2 451.5l24-114.4 13.8-23.2" class="m"/>
<path d="M1733.2 694.4l13.8-2.5-11.9 2-13.8 2.4z" fill="#443027"/>
<path d="M1721.3 696.3l13.8-2.4-12 2-13.8 2.3z" fill="#463027"/>
<path d="M1709.3 698.2l23.9-3.8 13.8-2.5" class="m"/>
<path d="M1894.5 548.2l13.8-12-6 16-13.8 10.6z" fill="#93b1b3"/>
<path d="M1888.5 562.8l13.8-10.6-6 16-13.8 9.1z" fill="#98b4b1"/>
<path d="M1882.5 577.3l13.8-9.1-6 16-13.8 7.7z" fill="#9db7af"/>
<path d="M1876.5 591.9l13.8-7.7-6 16-13.8 6.3z" fill="#a3bbae"/>
<path d="M1870.5 606.5l24-58.3 13.8-12" class="m"/>
<path d="M1671.5 703.1l13.8-3.5-23.9 .8-13.8 3.9z" fill="#4e2c26"/>
<path d="M1647.6 704.3l23.9-1.2 13.8-3.5" class="m"/>
<path d="M1832.7 649.1l13.9-4.5-12 10-13.8 3.8z" fill="#b9bca4"/>
<path d="M1820.8 658.4l13.8-3.8-12 10.1-13.8 3.1z" fill="#b8b69b"/>
<path d="M1808.8 667.8l23.9-18.7 13.9-4.5" class="m"/>
<path d="M1609.8 712.9l13.8-5.5-11.9 2.8-13.9 5z" fill="#552824"/>
<path d="M1597.8 715.2l13.9-5-12 2.8-13.8 4.4z" fill="#572824"/>
<path d="M1585.9 717.4l23.9-4.5 13.8-5.5" class="m"/>
<path d="M1994 157.3l6.9-12.5-2.4 16.1-6.9 12.1z" fill="#6aadff"/>
<path d="M1991.6 173l6.9-12.1-2.4 16-6.9 11.7z" fill="#6badff"/>
<path d="M1989.2 188.6l6.9-11.7-2.4 16.1-6.9 11.3z" fill="#6cadff"/>
<path d="M1986.8 204.3l6.9-11.3-2.4 16.1-6.9 10.8z" fill="#6daeff"/>
<path d="M1984.4 219.9l6.9-10.8-2.4 16.1-6.9 10.4z" fill="#6eaeff"/>
<path d="M1982 235.6l6.9-10.4-2.4 16.1-6.9 10z" fill="#6faeff"/>
<path d="M1979.6 251.3l6.9-10-2.4 16-6.9 9.6z" fill="#70aefc"/>
<path d="M1977.2 266.9l6.9-9.6-2.3 16.1-7 9.2z" fill="#70aef8"/>
<path d="M1974.8 282.6l7-9.2-2.4 16.1-7 8.8z" fill="#71aef3"/>
<path d="M1972.4 298.3l7-8.8-2.4 16.1-7 8.3z" fill="#72aeef"/>
<path d="M2000.9 144.8l6.9-12.5-2.4 16.5-6.9 12.1z" fill="#6ab0ff"/>
<path d="M1998.5 160.9l6.9-12.1-2.4 16.5-6.9 11.6z" fill="#6ab0ff"/>
<path d="M1996.1 176.9l6.9-11.6-2.4 16.5-6.9 11.2z" fill="#6bb0ff"/>
<path d="M1993.7 193l6.9-11.2-2.3 16.5-7 10.8z" fill="#6cb1ff"/>
<path d="M1991.3 209.1l7-10.8-2.4 16.5-7 10.4z" fill="#6db1ff"/>
<path d="M1988.9 225.2l7-10.4-2.4 16.5-7 10z" fill="#6eb1ff"/>
<path d="M1986.5 241.3l7-10-2.4 16.5-7 9.5z" fill="#6fb1ff"/>
<path d="M1984.1 257.3l7-9.5-2.4 16.5-6.9 9.1z" fill="#70b1fa"/>
<path d="M1981.8 273.4l6.9-9.1-2.4 16.5-6.9 8.7z" fill="#71b1f6"/>
<path d="M1979.4 289.5l6.9-8.7-2.4 16.5-6.9 8.3z" fill="#72b1f1"/>
<path d="M1970 313.9l24-156.6 13.8-25" class="m"/>
<path d="M1771 684.1l13.8-2.7-12 4.4-13.8 2.2z" fill="#b59c84"/>
<path d="M1759 688l13.8-2.2-11.9 4.3-13.9 1.8z" fill="#b59880"/>
<path d="M1747 691.9l24-7.8 13.8-2.7" class="m"/>
<path d="M1548.1 727.4l13.8-5-11.9 2.3-13.9 4.4z" fill="#5e2422"/>
<path d="M1536.1 729.1l13.9-4.4-12 2.3-13.8 3.8z" fill="#602422"/>
<path d="M1524.2 730.8l23.9-3.4 13.8-5" class="m"/>
<path d="M1932.2 451.5l13.9-14.7-4 15.1-13.8 13.8z" fill="#81afc8"/>
<path d="M1928.3 465.7l13.8-13.8-4 15.1-13.8 12.8z" fill="#84b0c5"/>
<path d="M1924.3 479.8l13.8-12.8-4 15.2-13.8 11.7z" fill="#86b1c2"/>
<path d="M1920.3 493.9l13.8-11.7-4 15.1-13.8 10.7z" fill="#89b3bf"/>
<path d="M1916.3 508l13.8-10.7-4 15.1-13.8 9.7z" fill="#8bb4bc"/>
<path d="M1912.3 522.1l13.8-9.7-4 15.2-13.8 8.6z" fill="#8eb5b9"/>
<path d="M1908.3 536.2l23.9-84.7 13.9-14.7" class="m"/>
<path d="M1709.3 698.2l13.8-2.3-23.9 1.4-13.9 2.3z" fill="#4a3027"/>
<path d="M1685.3 699.6l24-1.4 13.8-2.3" class="m"/>
<path d="M1870.5 606.5l13.8-6.3-7.9 13.8-13.9 5.2z" fill="#abc0af"/>
<path d="M1862.5 619.2l13.9-5.2-8 13.9-13.9 4z" fill="#b5c8b2"/>
<path d="M1854.5 631.9l13.9-4-8 13.8-13.8 2.9z" fill="#becdb3"/>
<path d="M1846.6 644.6l23.9-38.1 13.8-6.3" class="m"/>
<path d="M1647.6 704.3l13.8-3.9-12 1.7-13.8 3.8z" fill="#512c26"/>
<path d="M1635.6 705.9l13.8-3.8-12 1.6-13.8 3.7z" fill="#532c26"/>
<path d="M1623.6 707.4l24-3.1 13.8-3.9" class="m"/>
<path d="M1808.8 667.8l13.8-3.1-12 7.4-13.8 2.5z" fill="#b7b094"/>
<path d="M1796.8 674.6l13.8-2.5-12 7.4-13.8 1.9z" fill="#b7ac8e"/>
<path d="M1784.8 681.4l24-13.6 13.8-3.1" class="m"/>
<path d="M1585.9 717.4l13.8-4.4-12 3.1-13.8 3.8z" fill="#5a2824"/>
<path d="M1573.9 719.9l13.8-3.8-12 3.1-13.8 3.2z" fill="#5c2824"/>
<path d="M1561.9 722.4l24-5 13.8-4.4" class="m"/>
<path d="M1970 313.9l13.9-16.6-3 16.1-13.9 15.9z" fill="#73b0eb"/>
<path d="M1967 329.3l13.9-15.9-3 16.2-13.8 15z" fill="#75b1e7"/>
<path d="M1964.1 344.6l13.8-15-3 16.2-13.8 14.2z" fill="#76b1e4"/>
<path d="M1961.1 360l13.8-14.2-3 16.1-13.8 13.4z" fill="#78b2e0"/>
<path d="M1958.1 375.3l13.8-13.4-3 16.2-13.8 12.6z" fill="#79b3dc"/>
<path d="M1955.1 390.7l13.8-12.6-3 16.2-13.8 11.7z" fill="#7bb3d8"/>
<path d="M1952.1 406l13.8-11.7-3 16.1-13.8 11z" fill="#7cb4d4"/>
<path d="M1949.1 421.4l13.8-11-3 16.2-13.8 10.2z" fill="#7eb4cf"/>
<path d="M1946.1 436.8l23.9-122.9 13.9-16.6" class="m"/>
<path d="M1747 691.9l13.9-1.8-12 2.3-13.8 1.5z" fill="#b4947c"/>
<path d="M1735.1 693.9l13.8-1.5-12 2.2-13.8 1.3z" fill="#b49078"/>
<path d="M1723.1 695.9l23.9-4 13.9-1.8" class="m"/>
<path d="M1524.2 730.8l13.8-3.8-12 2.3-13.8 3.3z" fill="#622422"/>
<path d="M1512.2 732.6l13.8-3.3-12 2.3-13.8 2.7z" fill="#642422"/>
<path d="M1500.2 734.3l24-3.5 13.8-3.8" class="m"/>
<path d="M1908.3 536.2l13.8-8.6-4.8 13.7-13.8 7.7z" fill="#91b7b6"/>
<path d="M1903.5 549l13.8-7.7-4.8 13.7-13.8 6.8z" fill="#95bab5"/>
<path d="M1898.7 561.8l13.8-6.8-4.7 13.7-13.9 5.9z" fill="#9abdb4"/>
<path d="M1893.9 574.6l13.9-5.9-4.8 13.7-13.9 5z" fill="#9fc0b3"/>
<path d="M1889.1 587.4l13.9-5-4.8 13.7-13.9 4.1z" fill="#a3c4b2"/>
<path d="M1884.3 600.2l24-64 13.8-8.6" class="m"/>
<path d="M1685.3 699.6l13.9-2.3-24 .7-13.8 2.4z" fill="#4e3027"/>
<path d="M1661.4 700.4l23.9-.8 13.9-2.3" class="m"/>
<path d="M1846.6 644.6l13.8-2.9-12 10.6-13.8 2.3z" fill="#c1cdaf"/>
<path d="M1834.6 654.6l13.8-2.3-12 10.5-13.8 1.9z" fill="#bec5a4"/>
<path d="M1822.6 664.7l24-20.1 13.8-2.9" class="m"/>
<path d="M1623.6 707.4l13.8-3.7-11.9 3.3-13.8 3.2z" fill="#d68377"/>
<path d="M1611.7 710.2l13.8-3.2-12 3.4-13.8 2.6z" fill="#dd8579"/>
<path d="M1599.7 713l23.9-5.6 13.8-3.7" class="m"/>
<path d="M2007.8 132.3l13.9-16.2-2.2 15.6-13.8 15.6z" fill="#69b5ff"/>
<path d="M2005.7 147.3l13.8-15.6-2.2 15.5-13.8 15.1z" fill="#69b5ff"/>
<path d="M2003.5 162.3l13.8-15.1-2.2 15.6-13.8 14.5z" fill="#6ab5ff"/>
<path d="M2001.3 177.3l13.8-14.5-2.1 15.5-13.9 14z" fill="#6bb5ff"/>
<path d="M1999.1 192.3l13.9-14-2.2 15.6-13.9 13.4z" fill="#6cb5ff"/>
<path d="M1996.9 207.3l13.9-13.4-2.2 15.5-13.8 12.9z" fill="#6db5ff"/>
<path d="M1994.8 222.3l13.8-12.9-2.2 15.5-13.8 12.4z" fill="#6eb5ff"/>
<path d="M1992.6 237.3l13.8-12.4-2.2 15.6-13.8 11.8z" fill="#6eb6ff"/>
<path d="M1990.4 252.3l13.8-11.8-2.1 15.5-13.9 11.3z" fill="#6fb6fc"/>
<path d="M1988.2 267.3l13.9-11.3-2.2 15.6-13.8 10.7z" fill="#70b6f7"/>
<path d="M1986.1 282.3l13.8-10.7-2.2 15.5-13.8 10.2z" fill="#71b6f3"/>
<path d="M1983.9 297.3l23.9-165 13.9-16.2" class="m"/>
<path d="M1784.8 681.4l13.8-1.9-11.9 4.9-13.9 1.4z" fill="#b7a789"/>
<path d="M1772.8 685.8l13.9-1.4-12 4.8-13.8 .9z" fill="#b6a283"/>
<path d="M1760.9 690.1l23.9-8.7 13.8-1.9" class="m"/>
<path d="M1561.9 722.4l13.8-3.2-11.9 2.8-13.8 2.7z" fill="#e77b73"/>
<path d="M1550 724.7l13.8-2.7-12 2.8-13.8 2.2z" fill="#eb7b73"/>
<path d="M1538 727l23.9-4.6 13.8-3.2" class="m"/>
<path d="M1946.1 436.8l13.8-10.2-4 16-13.8 9.3z" fill="#80b5cc"/>
<path d="M1942.1 451.9l13.8-9.3-4 15.9-13.8 8.5z" fill="#82b7c8"/>
<path d="M1938.1 467l13.8-8.5-4 15.9-13.8 7.8z" fill="#85b8c5"/>
<path d="M1934.1 482.2l13.8-7.8-4 15.9-13.8 7z" fill="#87b9c2"/>
<path d="M1930.1 497.3l13.8-7-4 16-13.8 6.1z" fill="#8abbbf"/>
<path d="M1926.1 512.4l13.8-6.1-3.9 15.9-13.9 5.4z" fill="#8dbcbb"/>
<path d="M1922.1 527.6l24-90.8 13.8-10.2" class="m"/>
<path d="M1723.1 695.9l13.8-1.3-12 .8-13.8 1.2z" fill="#493428"/>
<path d="M1711.1 696.6l13.8-1.2-11.9 .7-13.8 1.2z" fill="#4b3428"/>
<path d="M1699.2 697.3l23.9-1.4 13.8-1.3" class="m"/>
<path d="M1500.2 734.3l13.8-2.7-11.9 2.2-13.8 2.3z" fill="#f4706d"/>
<path d="M1488.3 736.1l13.8-2.3-12 2.3-13.8 1.7z" fill="#f7706d"/>
<path d="M1476.3 737.8l23.9-3.5 13.8-2.7" class="m"/>
<path d="M1884.3 600.2l13.9-4.1-8 14.8-13.8 3.1z" fill="#accbb4"/>
<path d="M1876.4 614l13.8-3.1-8 14.8-13.8 2.2z" fill="#bad5ba"/>
<path d="M1868.4 627.9l13.8-2.2-8 14.9-13.8 1.1z" fill="#c4ddbd"/>
<path d="M1860.4 641.7l23.9-41.5 13.9-4.1" class="m"/>
<path d="M1661.4 700.4l13.8-2.4-12 1.9-13.8 2.2z" fill="#513028"/>
<path d="M1649.4 702.1l13.8-2.2-12 1.8-13.8 2z" fill="#533028"/>
<path d="M1637.4 703.7l24-3.3 13.8-2.4" class="m"/>
<path d="M1822.6 664.7l13.8-1.9-12 7.9-13.8 1.4z" fill="#bbbd9a"/>
<path d="M1810.6 672.1l13.8-1.4-11.9 7.9-13.9 .9z" fill="#bab893"/>
<path d="M1798.6 679.5l24-14.8 13.8-1.9" class="m"/>
<path d="M1599.7 713l13.8-2.6-12 3.7-13.8 2z" fill="#e28679"/>
<path d="M1587.7 716.1l13.8-2-12 3.7-13.8 1.4z" fill="#e68578"/>
<path d="M1575.7 719.2l24-6.2 13.8-2.6" class="m"/>
<path d="M1983.9 297.3l13.8-10.2-2.7 14.9-13.8 9.6z" fill="#72b6ef"/>
<path d="M1981.2 311.6l13.8-9.6-2.6 14.9-13.8 9.1z" fill="#73b7eb"/>
<path d="M1978.6 326l13.8-9.1-2.7 14.9-13.8 8.6z" fill="#75b7e8"/>
<path d="M1975.9 340.4l13.8-8.6-2.6 14.9-13.9 8z" fill="#76b8e4"/>
<path d="M1973.2 354.7l13.9-8-2.7 14.9-13.8 7.5z" fill="#77b9e0"/>
<path d="M1970.6 369.1l13.8-7.5-2.7 14.9-13.8 7z" fill="#79b9dd"/>
<path d="M1967.9 383.5l13.8-7-2.6 14.9-13.9 6.5z" fill="#7abad9"/>
<path d="M1965.2 397.9l13.9-6.5-2.7 14.9-13.8 5.9z" fill="#7bbad5"/>
<path d="M1962.6 412.2l13.8-5.9-2.6 14.8-13.9 5.5z" fill="#7dbbd2"/>
<path d="M1959.9 426.6l24-129.3 13.8-10.2" class="m"/>
<path d="M1760.9 690.1l13.8-.9-12 2.5-13.8 .7z" fill="#b59e7f"/>
<path d="M1748.9 692.4l13.8-.7-12 2.5-13.8 .4z" fill="#b4997b"/>
<path d="M1736.9 694.6l24-4.5 13.8-.9" class="m"/>
<path d="M1538 727l13.8-2.2-12 2.7-13.8 1.8z" fill="#ef7a72"/>
<path d="M1526 729.3l13.8-1.8-12 2.8-13.8 1.3z" fill="#f27a72"/>
<path d="M1514 731.6l24-4.6 13.8-2.2" class="m"/>
<path d="M1922.1 527.6l13.9-5.4-4.8 14.4-13.9 4.7z" fill="#90bfb9"/>
<path d="M1917.3 541.3l13.9-4.7-4.8 14.4-13.9 4z" fill="#95c2b8"/>
<path d="M1912.5 555l13.9-4-4.8 14.5-13.8 3.2z" fill="#99c5b6"/>
<path d="M1907.8 568.7l13.8-3.2-4.8 14.4-13.8 2.5z" fill="#9ec8b5"/>
<path d="M1903 582.4l13.8-2.5-4.8 14.4-13.8 1.8z" fill="#a3ccb5"/>
<path d="M1898.2 596.1l23.9-68.5 13.9-5.4" class="m"/>
<path d="M1699.2 697.3l13.8-1.2-24 .9-13.8 1z" fill="#4e3429"/>
<path d="M1675.2 698l24-.7 13.8-1.2" class="m"/>
<path d="M1476.3 737.8l13.8-1.7-12 2.2-13.8 1.3z" fill="#fb706d"/>
<path d="M1464.3 739.6l13.8-1.3-11.9 2.1-13.8 .9z" fill="#ff6f6c"/>
<path d="M1452.4 741.3l23.9-3.5 13.8-1.7" class="m"/>
<path d="M1860.4 641.7l13.8-1.1-12 10.7-13.8 1z" fill="#cadfbb"/>
<path d="M1848.4 652.3l13.8-1-12 10.7-13.8 .8z" fill="#c4d5ad"/>
<path d="M1836.4 662.8l24-21.1 13.8-1.1" class="m"/>
<path d="M1637.4 703.7l13.8-2-11.9 3.9-13.8 1.4z" fill="#d88d7b"/>
<path d="M1625.5 707l13.8-1.4-12 3.8-13.8 1z" fill="#df8f7d"/>
<path d="M1613.5 710.4l23.9-6.7 13.8-2" class="m"/>
<path d="M2021.7 116.1l13.8-7.2-2.2 15.9-13.8 6.9z" fill="#68bbff"/>
<path d="M2019.5 131.7l13.8-6.9-2.1 15.9-13.9 6.5z" fill="#68bbff"/>
<path d="M2017.3 147.2l13.9-6.5-2.2 15.8-13.9 6.3z" fill="#69bbff"/>
<path d="M2015.1 162.8l13.9-6.3-2.2 15.9-13.8 5.9z" fill="#6abbff"/>
<path d="M2013 178.3l13.8-5.9-2.2 15.9-13.8 5.6z" fill="#6bbbff"/>
<path d="M2010.8 193.9l13.8-5.6-2.2 15.9-13.8 5.2z" fill="#6cbbff"/>
<path d="M2008.6 209.4l13.8-5.2-2.1 15.8-13.9 4.9z" fill="#6cbcff"/>
<path d="M2006.4 224.9l13.9-4.9-2.2 15.9-13.9 4.6z" fill="#6dbcff"/>
<path d="M2004.2 240.5l13.9-4.6-2.2 15.9-13.8 4.2z" fill="#6ebcfd"/>
<path d="M2002.1 256l13.8-4.2-2.2 15.8-13.8 4z" fill="#6fbcf9"/>
<path d="M1999.9 271.6l13.8-4-2.2 15.9-13.8 3.6z" fill="#70bcf5"/>
<path d="M1997.7 287.1l24-171 13.8-7.2" class="m"/>
<path d="M1798.6 679.5l13.9-.9-12 5.2-13.8 .6z" fill="#b9b28d"/>
<path d="M1786.7 684.4l13.8-.6-12 5.2-13.8 .2z" fill="#b8ad87"/>
<path d="M1774.7 689.2l23.9-9.7 13.9-.9" class="m"/>
<path d="M1575.7 719.2l13.8-1.4-11.9 3.2-13.8 1z" fill="#ea8577"/>
<path d="M1563.8 722l13.8-1-12 3.2-13.8 .6z" fill="#ed8476"/>
<path d="M1551.8 724.8l23.9-5.6 13.8-1.4" class="m"/>
<path d="M1959.9 426.6l13.9-5.5-4 16.5-13.9 5z" fill="#7fbcce"/>
<path d="M1955.9 442.6l13.9-5-4 16.5-13.9 4.4z" fill="#81bdcb"/>
<path d="M1951.9 458.5l13.9-4.4-4 16.5-13.9 3.8z" fill="#84bfc7"/>
<path d="M1947.9 474.4l13.9-3.8-4 16.6-13.9 3.1z" fill="#86c0c4"/>
<path d="M1943.9 490.3l13.9-3.1-4 16.5-13.9 2.6z" fill="#89c2c0"/>
<path d="M1939.9 506.3l13.9-2.6-4 16.5-13.8 2z" fill="#8cc3bd"/>
<path d="M1936 522.2l23.9-95.6 13.9-5.5" class="m"/>
<path d="M1736.9 694.6l13.8-.4-11.9 .9-13.9 .3z" fill="#b49678"/>
<path d="M1724.9 695.4l13.9-.3-12 .9-13.8 .1z" fill="#b69376"/>
<path d="M1713 696.1l23.9-1.5 13.8-.4" class="m"/>
<path d="M1514 731.6l13.8-1.3-11.9 2.6-13.8 .9z" fill="#f67a71"/>
<path d="M1502.1 733.8l13.8-.9-12 2.7-13.8 .5z" fill="#fa7a71"/>
<path d="M1490.1 736.1l23.9-4.5 13.8-1.3" class="m"/>
<path d="M1898.2 596.1l13.8-1.8-8 15.6-13.8 1z" fill="#aed4b8"/>
<path d="M1890.2 610.9l13.8-1-8 15.5-13.8 .3z" fill="#bee2c0"/>
<path d="M1882.2 625.7l13.8-.3-8 15.6-13.8-.4z" fill="#ccedc7"/>
<path d="M1874.2 640.6l24-44.5 13.8-1.8" class="m"/>
<path d="M1675.2 698l13.8-1-12 2.2-13.8 .7z" fill="#c78f79"/>
<path d="M1663.2 699.9l13.8-.7-11.9 2.1-13.9 .4z" fill="#d1937c"/>
<path d="M1651.2 701.7l24-3.7 13.8-1" class="m"/>
<path d="M1452.4 741.3l13.8-.9-12 2.1-13.8 .5z" fill="#ff6f6c"/>
<path d="M1440.4 743l13.8-.5-12 2-13.8 .3z" fill="#ff6f6c"/>
<path d="M1428.4 744.8l24-3.5 13.8-.9" class="m"/>
<path d="M1836.4 662.8l13.8-.8-11.9 8.3-13.9 .4z" fill="#bfcaa1"/>
<path d="M1824.4 670.7l13.9-.4-12 8.3-13.8 0z" fill="#bdc499"/>
<path d="M1812.5 678.6l23.9-15.8 13.8-.8" class="m"/>
<path d="M1613.5 710.4l13.8-1-12 4.3-13.8 .4z" fill="#e4907d"/>
<path d="M1601.5 714.1l13.8-.4-11.9 4.2-13.9-.1z" fill="#e88f7c"/>
<path d="M1589.5 717.8l24-7.4 13.8-1" class="m"/>
<path d="M1997.7 287.1l13.8-3.6-2.6 15.2-13.9 3.3z" fill="#71bdf0"/>
<path d="M1995 302l13.9-3.3-2.7 15.2-13.8 3z" fill="#72bded"/>
<path d="M1992.4 316.9l13.8-3-2.6 15.2-13.9 2.7z" fill="#73bee9"/>
<path d="M1989.7 331.8l13.9-2.7-2.7 15.2-13.8 2.4z" fill="#75bee5"/>
<path d="M1987.1 346.7l13.8-2.4-2.7 15.2-13.8 2.1z" fill="#76bfe2"/>
<path d="M1984.4 361.6l13.8-2.1-2.6 15.2-13.9 1.8z" fill="#78c0de"/>
<path d="M1981.7 376.5l13.9-1.8-2.7 15.2-13.8 1.5z" fill="#79c0da"/>
<path d="M1979.1 391.4l13.8-1.5-2.7 15.2-13.8 1.2z" fill="#7ac1d6"/>
<path d="M1976.4 406.3l13.8-1.2-2.6 15.2-13.8 .8z" fill="#7cc2d3"/>
<path d="M1973.8 421.1l23.9-134 13.8-3.6" class="m"/>
<path d="M1774.7 689.2l13.8-.2-12 2.8-13.8-.1z" fill="#b6a782"/>
<path d="M1762.7 691.7l13.8 .1-11.9 2.8-13.9-.4z" fill="#b5a37e"/>
<path d="M1750.7 694.2l24-5 13.8-.2" class="m"/>
<path d="M1551.8 724.8l13.8-.6-12 3.1-13.8 .2z" fill="#f08475"/>
<path d="M1539.8 727.5l13.8-.2-12 3-13.8 0z" fill="#f48375"/>
<path d="M1527.8 730.3l24-5.5 13.8-.6" class="m"/>
<path d="M1936 522.2l13.8-2-4.8 14.9-13.8 1.5z" fill="#8fc6bb"/>
<path d="M1931.2 536.6l13.8-1.5-4.8 14.9-13.8 1z" fill="#94c9b9"/>
<path d="M1926.4 551l13.8-1-4.8 14.9-13.8 .6z" fill="#99ccb8"/>
<path d="M1921.6 565.5l13.8-.6-4.8 14.9-13.8 .1z" fill="#9ed0b7"/>
<path d="M1916.8 579.9l13.8-.1-4.8 15-13.8-.5z" fill="#a3d4b7"/>
<path d="M1912 594.3l24-72.1 13.8-2" class="m"/>
<path d="M1713 696.1l13.8-.1-24 1.3-13.8-.3z" fill="#bc9477"/>
<path d="M1689 697l24-.9 13.8-.1" class="m"/>
<path d="M1490.1 736.1l13.8-.5-12 2.5-13.8 .2z" fill="#fd7970"/>
<path d="M1478.1 738.3l13.8-.2-11.9 2.5-13.8-.2z" fill="#ff796f"/>
<path d="M1466.2 740.4l23.9-4.3 13.8-.5" class="m"/>
<path d="M1874.2 640.6l13.8 .4-11.9 10.8-13.9-.5z" fill="#d4f2c7"/>
<path d="M1862.2 651.3l13.9 .5-12 10.8-13.9-.6z" fill="#cce6b8"/>
<path d="M1850.2 662l24-21.4 13.8 .4" class="m"/>
<path d="M1651.2 701.7l13.9-.4-12 4.3-13.8 0z" fill="#d9977f"/>
<path d="M1639.3 705.6l13.8 0-12 4.3-13.8-.5z" fill="#e19980"/>
<path d="M1627.3 709.4l23.9-7.7 13.9-.4" class="m"/>
<path d="M1428.4 744.8l13.8-.3-12 1.8-13.8 .2z" fill="#ff6f6b"/>
<path d="M1416.4 746.5l13.8-.2-11.9 1.7-13.8 .3z" fill="#ff6e6b"/>
<path d="M1404.5 748.3l23.9-3.5 13.8-.3" class="m"/>
<path d="M2035.5 108.9l13.9 1.8-2.2 15.9-13.9-1.8z" fill="#66c1ff"/>
<path d="M2033.3 124.8l13.9 1.8-2.2 16-13.8-1.9z" fill="#67c1ff"/>
<path d="M2031.2 140.7l13.8 1.9-2.2 16-13.8-2.1z" fill="#68c1ff"/>
<path d="M2029 156.5l13.8 2.1-2.2 16-13.8-2.2z" fill="#69c1ff"/>
<path d="M2026.8 172.4l13.8 2.2-2.1 15.9-13.9-2.2z" fill="#6ac1ff"/>
<path d="M2024.6 188.3l13.9 2.2-2.2 16-13.9-2.3z" fill="#6bc2ff"/>
<path d="M2022.4 204.2l13.9 2.3-2.2 16-13.8-2.5z" fill="#6bc2ff"/>
<path d="M2020.3 220l13.8 2.5-2.2 16-13.8-2.6z" fill="#6cc2ff"/>
<path d="M2018.1 235.9l13.8 2.6-2.2 16-13.8-2.7z" fill="#6dc2fd"/>
<path d="M2015.9 251.8l13.8 2.7-2.1 15.9-13.9-2.8z" fill="#6ec2f9"/>
<path d="M2013.7 267.6l13.9 2.8-2.2 16-13.9-2.9z" fill="#6fc2f4"/>
<path d="M2011.5 283.5l24-174.6 13.9 1.8" class="m"/>
<path d="M1812.5 678.6l13.8 0-12 5.6-13.8-.4z" fill="#bbbd91"/>
<path d="M1800.5 683.8l13.8 .4-12 5.6-13.8-.8z" fill="#b9b78a"/>
<path d="M1788.5 689l24-10.4 13.8 0" class="m"/>
<path d="M1589.5 717.8l13.9 .1-12 3.6-13.8-.5z" fill="#eb8f7a"/>
<path d="M1577.6 721l13.8 .5-12 3.5-13.8-.8z" fill="#ee8e79"/>
<path d="M1565.6 724.2l23.9-6.4 13.9 .1" class="m"/>
<path d="M1973.8 421.1l13.8-.8-4 16.9-13.8 .4z" fill="#7ec3cf"/>
<path d="M1969.8 437.6l13.8-.4-4 16.8-13.8 .1z" fill="#80c4cc"/>
<path d="M1965.8 454.1l13.8-.1-4 16.9-13.8-.3z" fill="#83c6c8"/>
<path d="M1961.8 470.6l13.8 .3-4 16.8-13.8-.5z" fill="#85c7c5"/>
<path d="M1957.8 487.2l13.8 .5-4 16.8-13.8-.8z" fill="#88c9c1"/>
<path d="M1953.8 503.7l13.8 .8-4 16.9-13.8-1.2z" fill="#8bcbbe"/>
<path d="M1949.8 520.2l24-99.1 13.8-.8" class="m"/>
<path d="M1750.7 694.2l13.9 .4-12 1.2-13.8-.7z" fill="#b59f7b"/>
<path d="M1738.8 695.1l13.8 .7-12 1.2-13.8-1z" fill="#b69c79"/>
<path d="M1726.8 696l23.9-1.8 13.9 .4" class="m"/>
<path d="M1527.8 730.3l13.8 0-11.9 2.9-13.8-.3z" fill="#f78374"/>
<path d="M1515.9 732.9l13.8 .3-12 3-13.8-.6z" fill="#fb8373"/>
<path d="M1503.9 735.6l23.9-5.3 13.8 0" class="m"/>
<path d="M1912 594.3l13.8 .5-8 16.1-13.8-1z" fill="#afdebb"/>
<path d="M1904 609.9l13.8 1-8 16.1-13.8-1.6z" fill="#c2efc7"/>
<path d="M1896 625.4l13.8 1.6-7.9 16.1-13.9-2.1z" fill="#d3fed0"/>
<path d="M1888 641l24-46.7 13.8 .5" class="m"/>
<path d="M1689 697l13.8 .3-11.9 2.5-13.9-.6z" fill="#c8987b"/>
<path d="M1677 699.2l13.9 .6-12 2.6-13.8-1.1z" fill="#d29d7f"/>
<path d="M1665.1 701.3l23.9-4.3 13.8 .3" class="m"/>
<path d="M1466.2 740.4l13.8 .2-12 2.2-13.8-.3z" fill="#ff786f"/>
<path d="M1454.2 742.5l13.8 .3-12 2.2-13.8-.5z" fill="#ff776e"/>
<path d="M1442.2 744.5l24-4.1 13.8 .2" class="m"/>
<path d="M1850.2 662l13.9 .6-12 8.5-13.8-.8z" fill="#c4d9a8"/>
<path d="M1838.3 670.3l13.8 .8-12 8.5-13.8-1z" fill="#c0d09e"/>
<path d="M1826.3 678.6l23.9-16.6 13.9 .6" class="m"/>
<path d="M1627.3 709.4l13.8 .5-12 4.8-13.8-1z" fill="#e69a80"/>
<path d="M1615.3 713.7l13.8 1-11.9 4.7-13.8-1.5z" fill="#ea997f"/>
<path d="M1603.4 717.9l23.9-8.5 13.8 .5" class="m"/>
<path d="M1404.5 748.3l13.8-.3-12 1.4-13.8 .6z" fill="#ff6e6b"/>
<path d="M1392.5 750l13.8-.6-12 1.3-13.8 1.1z" fill="#ff6e6b"/>
<path d="M1380.5 751.8l24-3.5 13.8-.3" class="m"/>
<path d="M2011.5 283.5l13.9 2.9-2.7 15.3-13.8-3z" fill="#70c3f0"/>
<path d="M2008.9 298.7l13.8 3-2.6 15.3-13.9-3.1z" fill="#71c3ed"/>
<path d="M2006.2 313.9l13.9 3.1-2.7 15.3-13.8-3.2z" fill="#73c4e9"/>
<path d="M2003.6 329.1l13.8 3.2-2.7 15.3-13.8-3.3z" fill="#74c5e5"/>
<path d="M2000.9 344.3l13.8 3.3-2.6 15.4-13.9-3.5z" fill="#75c5e1"/>
<path d="M1998.2 359.5l13.9 3.5-2.7 15.3-13.8-3.6z" fill="#77c6de"/>
<path d="M1995.6 374.7l13.8 3.6-2.7 15.3-13.8-3.7z" fill="#78c7da"/>
<path d="M1992.9 389.9l13.8 3.7-2.6 15.3-13.9-3.8z" fill="#79c7d6"/>
<path d="M1990.2 405.1l13.9 3.8-2.7 15.3-13.8-3.9z" fill="#7bc8d3"/>
<path d="M1987.6 420.3l23.9-136.8 13.9 2.9" class="m"/>
<path d="M1788.5 689l13.8 .8-11.9 3.1-13.9-1.1z" fill="#b8b185"/>
<path d="M1776.5 691.8l13.9 1.1-12 3.1-13.8-1.4z" fill="#b6ac80"/>
<path d="M1764.6 694.6l23.9-5.6 13.8 .8" class="m"/>
<path d="M1565.6 724.2l13.8 .8-12 3.3-13.8-1z" fill="#f18d78"/>
<path d="M1553.6 727.3l13.8 1-12 3.3-13.8-1.3z" fill="#f58c77"/>
<path d="M1541.6 730.3l24-6.1 13.8 .8" class="m"/>
<path d="M1949.8 520.2l13.8 1.2-4.8 15.2-13.8-1.5z" fill="#8fcdbc"/>
<path d="M1945 535.1l13.8 1.5-4.8 15.2-13.8-1.8z" fill="#93d1bb"/>
<path d="M1940.2 550l13.8 1.8-4.8 15.3-13.8-2.2z" fill="#99d4ba"/>
<path d="M1935.4 564.9l13.8 2.2-4.8 15.2-13.8-2.5z" fill="#9ed8b9"/>
<path d="M1930.6 579.8l13.8 2.5-4.7 15.2-13.9-2.7z" fill="#a4ddb8"/>
<path d="M1925.8 594.8l24-74.6 13.8 1.2" class="m"/>
<path d="M1726.8 696l13.8 1-12 1-13.8-1.3z" fill="#ba9c79"/>
<path d="M1714.8 696.7l13.8 1.3-12 .9-13.8-1.6z" fill="#c09e7b"/>
<path d="M1702.8 697.3l24-1.3 13.8 1" class="m"/>
<path d="M1503.9 735.6l13.8 .6-12 2.7-13.8-.8z" fill="#fe8273"/>
<path d="M1491.9 738.1l13.8 .8-11.9 2.7-13.8-1z" fill="#ff8272"/>
<path d="M1480 740.6l23.9-5 13.8 .6" class="m"/>
<path d="M1888 641l13.9 2.1-12 10.7-13.8-2z" fill="#deffd3"/>
<path d="M1876.1 651.8l13.8 2-12 10.6-13.8-1.8z" fill="#d5f8c2"/>
<path d="M1864.1 662.6l23.9-21.6 13.9 2.1" class="m"/>
<path d="M1665.1 701.3l13.8 1.1-12 4.7-13.8-1.5z" fill="#daa081"/>
<path d="M1653.1 705.6l13.8 1.5-12 4.7-13.8-1.9z" fill="#e2a383"/>
<path d="M1641.1 709.9l24-8.6 13.8 1.1" class="m"/>
<path d="M1442.2 744.5l13.8 .5-12 1.8-13.8-.5z" fill="#ff776d"/>
<path d="M1430.2 746.3l13.8 .5-11.9 1.7-13.8-.5z" fill="#ff766c"/>
<path d="M1418.3 748l23.9-3.5 13.8 .5" class="m"/>
<path d="M2049.4 110.7l13.8 10.6-2.2 15.8-13.8-10.5z" fill="#65c6ff"/>
<path d="M2047.2 126.6l13.8 10.5-2.2 15.9-13.8-10.4z" fill="#66c7ff"/>
<path d="M2045 142.6l13.8 10.4-2.1 15.9-13.9-10.3z" fill="#67c7ff"/>
<path d="M2042.8 158.6l13.9 10.3-2.2 15.9-13.9-10.2z" fill="#68c7ff"/>
<path d="M2040.6 174.6l13.9 10.2-2.2 15.8-13.8-10.1z" fill="#69c7ff"/>
<path d="M2038.5 190.5l13.8 10.1-2.2 15.9-13.8-10z" fill="#6ac7ff"/>
<path d="M2036.3 206.5l13.8 10-2.2 15.9-13.8-9.9z" fill="#6ac8ff"/>
<path d="M2034.1 222.5l13.8 9.9-2.1 15.8-13.9-9.7z" fill="#6bc8ff"/>
<path d="M2031.9 238.5l13.9 9.7-2.2 15.9-13.9-9.6z" fill="#6cc8fb"/>
<path d="M2029.7 254.5l13.9 9.6-2.2 15.9-13.8-9.6z" fill="#6dc8f6"/>
<path d="M2027.6 270.4l13.8 9.6-2.2 15.9-13.8-9.5z" fill="#6ec9f2"/>
<path d="M2025.4 286.4l24-175.7 13.8 10.6" class="m"/>
<path d="M1826.3 678.6l13.8 1-12 5.9-13.8-1.3z" fill="#bdc995"/>
<path d="M1814.3 684.2l13.8 1.3-11.9 6-13.9-1.7z" fill="#bbc18d"/>
<path d="M1802.3 689.8l24-11.2 13.8 1" class="m"/>
<path d="M1603.4 717.9l13.8 1.5-12 3.8-13.8-1.7z" fill="#ed987d"/>
<path d="M1591.4 721.5l13.8 1.7-12 3.9-13.8-2.1z" fill="#ef977b"/>
<path d="M1579.4 725l24-7.1 13.8 1.5" class="m"/>
<path d="M1380.5 751.8l13.8-1.1-12 .8-13.7 2z" fill="#7b2422"/>
<path d="M1368.6 753.5l13.7-2-11.9 .8-13.8 2.9z" fill="#7e2422"/>
<path d="M1356.6 755.2l23.9-3.4 13.8-1.1" class="m"/>
<path d="M1987.6 420.3l13.8 3.9-3.4 14.5-13.8-3.9z" fill="#7dc9cf"/>
<path d="M1984.2 434.8l13.8 3.9-3.4 14.5-13.9-4z" fill="#7fcbcc"/>
<path d="M1980.7 449.2l13.9 4-3.5 14.6-13.8-4.2z" fill="#81ccc9"/>
<path d="M1977.3 463.6l13.8 4.2-3.4 14.5-13.8-4.2z" fill="#84cdc7"/>
<path d="M1973.9 478.1l13.8 4.2-3.4 14.6-13.8-4.4z" fill="#86cfc4"/>
<path d="M1970.5 492.5l13.8 4.4-3.4 14.5-13.9-4.4z" fill="#88d0c1"/>
<path d="M1967 507l13.9 4.4-3.5 14.5-13.8-4.5z" fill="#8bd2be"/>
<path d="M1963.6 521.4l24-101.1 13.8 3.9" class="m"/>
<path d="M1764.6 694.6l13.8 1.4-12 1.5-13.8-1.7z" fill="#b6a87d"/>
<path d="M1752.6 695.8l13.8 1.7-12 1.6-13.8-2.1z" fill="#b7a57b"/>
<path d="M1740.6 697l24-2.4 13.8 1.4" class="m"/>
<path d="M1541.6 730.3l13.8 1.3-11.9 3.1-13.8-1.5z" fill="#f88c76"/>
<path d="M1529.7 733.2l13.8 1.5-12 3.1-13.8-1.6z" fill="#fb8b75"/>
<path d="M1517.7 736.2l23.9-5.9 13.8 1.3" class="m"/>
<path d="M1925.8 594.8l13.9 2.7-8 16.5-13.9-3.1z" fill="#b1e8be"/>
<path d="M1917.8 610.9l13.9 3.1-8 16.4-13.9-3.4z" fill="#c6fccc"/>
<path d="M1909.8 627l13.9 3.4-8 16.4-13.8-3.7z" fill="#dbffd9"/>
<path d="M1901.9 643.1l23.9-48.3 13.9 2.7" class="m"/>
<path d="M1702.8 697.3l13.8 1.6-11.9 2.9-13.8-2z" fill="#c9a17d"/>
<path d="M1690.9 699.8l13.8 2-12 2.9-13.8-2.3z" fill="#d3a681"/>
<path d="M1678.9 702.4l23.9-5.1 13.8 1.6" class="m"/>
<path d="M1480 740.6l13.8 1-12 2.4-13.8-1.2z" fill="#ff8171"/>
<path d="M1468 742.8l13.8 1.2-12 2.4-13.8-1.4z" fill="#ff8070"/>
<path d="M1456 745l24-4.4 13.8 1" class="m"/>
<path d="M1864.1 662.6l13.8 1.8-12 8.7-13.8-2z" fill="#c9e7af"/>
<path d="M1852.1 671.1l13.8 2-12 8.7-13.8-2.2z" fill="#c4dea4"/>
<path d="M1840.1 679.6l24-17 13.8 1.8" class="m"/>
<path d="M1641.1 709.9l13.8 1.9-12 5.1-13.8-2.2z" fill="#e8a483"/>
<path d="M1629.1 714.7l13.8 2.2-11.9 5.2-13.8-2.7z" fill="#eba381"/>
<path d="M1617.2 719.4l23.9-9.5 13.8 1.9" class="m"/>
<path d="M1418.3 748l13.8 .5-12 .9-13.8 0z" fill="#ff756b"/>
<path d="M1406.3 749.4l13.8 0-12 1-13.8 .3z" fill="#ff736a"/>
<path d="M1394.3 750.7l24-2.7 13.8 .5" class="m"/>
<path d="M2025.4 286.4l13.8 9.5-2.6 15.2-13.9-9.4z" fill="#6fc9ee"/>
<path d="M2022.7 301.7l13.9 9.4-2.7 15.2-13.8-9.3z" fill="#70caeb"/>
<path d="M2020.1 317l13.8 9.3-2.7 15.2-13.8-9.2z" fill="#72cae7"/>
<path d="M2017.4 332.3l13.8 9.2-2.6 15.2-13.9-9.1z" fill="#73cbe3"/>
<path d="M2014.7 347.6l13.9 9.1-2.7 15.2-13.8-8.9z" fill="#75cce0"/>
<path d="M2012.1 363l13.8 8.9-2.7 15.2-13.8-8.8z" fill="#76cddc"/>
<path d="M2009.4 378.3l13.8 8.8-2.6 15.2-13.9-8.7z" fill="#77cdd8"/>
<path d="M2006.7 393.6l13.9 8.7-2.7 15.2-13.8-8.6z" fill="#79ced5"/>
<path d="M2004.1 408.9l13.8 8.6-2.7 15.2-13.8-8.5z" fill="#7acfd1"/>
<path d="M2001.4 424.2l24-137.8 13.8 9.5" class="m"/>
<path d="M1802.3 689.8l13.9 1.7-12 3.4-13.8-2z" fill="#b9bb87"/>
<path d="M1790.4 692.9l13.8 2-12 3.5-13.8-2.4z" fill="#b7b582"/>
<path d="M1778.4 696l23.9-6.2 13.9 1.7" class="m"/>
<path d="M1579.4 725l13.8 2.1-12 3.4-13.8-2.2z" fill="#f2967a"/>
<path d="M1567.4 728.3l13.8 2.2-11.9 3.4-13.9-2.3z" fill="#f59579"/>
<path d="M1555.4 731.6l24-6.6 13.8 2.1" class="m"/>
<path d="M1356.6 755.2l13.8-2.9-12 .3-13.8 4.4z" fill="#802422"/>
<path d="M1344.6 757l13.8-4.4-12 .2-13.8 5.9z" fill="#822422"/>
<path d="M1332.6 758.7l24-3.5 13.8-2.9" class="m"/>
<path d="M1963.6 521.4l13.8 4.5-4.7 15.4-13.9-4.7z" fill="#8ed5bc"/>
<path d="M1958.8 536.6l13.9 4.7-4.8 15.3-13.9-4.8z" fill="#93d8bb"/>
<path d="M1954 551.8l13.9 4.8-4.8 15.3-13.9-4.8z" fill="#99ddba"/>
<path d="M1949.2 567.1l13.9 4.8-4.8 15.3-13.9-4.9z" fill="#9ee1ba"/>
<path d="M1944.4 582.3l13.9 4.9-4.8 15.4-13.8-5.1z" fill="#a4e6ba"/>
<path d="M1939.7 597.5l23.9-76.1 13.8 4.5" class="m"/>
<path d="M1740.6 697l13.8 2.1-12 1.2-13.8-2.3z" fill="#bba47b"/>
<path d="M1728.6 698l13.8 2.3-11.9 1.3-13.9-2.7z" fill="#c1a77d"/>
<path d="M1716.6 698.9l24-1.9 13.8 2.1" class="m"/>
<path d="M1517.7 736.2l13.8 1.6-12 2.9-13.8-1.8z" fill="#ff8b74"/>
<path d="M1505.7 738.9l13.8 1.8-11.9 2.8-13.8-1.9z" fill="#ff8a73"/>
<path d="M1493.8 741.6l23.9-5.4 13.8 1.6" class="m"/>
<path d="M1901.9 643.1l13.8 3.7-12 10.5-13.8-3.5z" fill="#eaffe0"/>
<path d="M1889.9 653.8l13.8 3.5-12 10.5-13.8-3.4z" fill="#dfffcd"/>
<path d="M1877.9 664.4l24-21.3 13.8 3.7" class="m"/>
<path d="M1678.9 702.4l13.8 2.3-12 5.1-13.8-2.7z" fill="#dcaa84"/>
<path d="M1666.9 707.1l13.8 2.7-12 5.1-13.8-3.1z" fill="#e4ad86"/>
<path d="M1654.9 711.8l24-9.4 13.8 2.3" class="m"/>
<path d="M1456 745l13.8 1.4-12 1.6-13.8-1.2z" fill="#ff7e6e"/>
<path d="M1444 746.8l13.8 1.2-11.9 1.7-13.8-1.2z" fill="#ff7d6d"/>
<path d="M1432.1 748.5l23.9-3.5 13.8 1.4" class="m"/>
<path d="M2063.2 121.3l13.8 19.5-2.2 15.6-13.8-19.3z" fill="#64ccff"/>
<path d="M2061 137.1l13.8 19.3-2.1 15.5-13.9-18.9z" fill="#65ccff"/>
<path d="M2058.8 153l13.9 18.9-2.2 15.6-13.8-18.6z" fill="#66ccff"/>
<path d="M2056.7 168.9l13.8 18.6-2.2 15.5-13.8-18.2z" fill="#67cdff"/>
<path d="M2054.5 184.8l13.8 18.2-2.2 15.5-13.8-17.9z" fill="#68cdff"/>
<path d="M2052.3 200.6l13.8 17.9-2.1 15.6-13.9-17.6z" fill="#69cdff"/>
<path d="M2050.1 216.5l13.9 17.6-2.2 15.5-13.9-17.2z" fill="#69cdff"/>
<path d="M2047.9 232.4l13.9 17.2-2.2 15.6-13.8-17z" fill="#6acefa"/>
<path d="M2045.8 248.2l13.8 17-2.2 15.5-13.8-16.6z" fill="#6bcef6"/>
<path d="M2043.6 264.1l13.8 16.6-2.2 15.6-13.8-16.3z" fill="#6ccef2"/>
<path d="M2041.4 280l13.8 16.3-2.1 15.5-13.9-15.9z" fill="#6dcfee"/>
<path d="M2039.2 295.9l24-174.6 13.8 19.5" class="m"/>
<path d="M1840.1 679.6l13.8 2.2-11.9 6.2-13.9-2.5z" fill="#c0d499"/>
<path d="M1828.1 685.5l13.9 2.5-12 6.1-13.8-2.6z" fill="#bccc90"/>
<path d="M1816.2 691.5l23.9-11.9 13.8 2.2" class="m"/>
<path d="M1617.2 719.4l13.8 2.7-12 4-13.8-2.9z" fill="#eea27f"/>
<path d="M1605.2 723.2l13.8 2.9-12 4-13.8-3z" fill="#efa07d"/>
<path d="M1593.2 727.1l24-7.7 13.8 2.7" class="m"/>
<path d="M1394.3 750.7l13.8-.3-23.9-.1-13.8 2z" fill="#7d2823"/>
<path d="M1370.4 752.3l23.9-1.6 13.8-.3" class="m"/>
<path d="M2001.4 424.2l13.8 8.5-3.4 14.4-13.8-8.4z" fill="#7cd0ce"/>
<path d="M1998 438.7l13.8 8.4-3.4 14.5-13.8-8.4z" fill="#7ed1cb"/>
<path d="M1994.6 453.2l13.8 8.4-3.4 14.4-13.9-8.2z" fill="#81d3c8"/>
<path d="M1991.1 467.8l13.9 8.2-3.4 14.4-13.9-8.1z" fill="#83d5c6"/>
<path d="M1987.7 482.3l13.9 8.1-3.5 14.5-13.8-8z" fill="#86d6c3"/>
<path d="M1984.3 496.9l13.8 8-3.4 14.4-13.8-7.9z" fill="#88d8c0"/>
<path d="M1980.9 511.4l13.8 7.9-3.4 14.5-13.9-7.9z" fill="#8bdabe"/>
<path d="M1977.4 525.9l24-101.7 13.8 8.5" class="m"/>
<path d="M1778.4 696l13.8 2.4-12 1.9-13.8-2.8z" fill="#b7b17f"/>
<path d="M1766.4 697.5l13.8 2.8-12 1.8-13.8-3z" fill="#b8ae7d"/>
<path d="M1754.4 699.1l24-3.1 13.8 2.4" class="m"/>
<path d="M1555.4 731.6l13.9 2.3-12 3.3-13.8-2.5z" fill="#f89478"/>
<path d="M1543.5 734.7l13.8 2.5-12 3.2-13.8-2.6z" fill="#fb9477"/>
<path d="M1531.5 737.8l23.9-6.2 13.9 2.3" class="m"/>
<path d="M1332.6 758.7l6.9-2.9-11.9-2.4-6.9 7.1z" fill="#842222"/>
<path d="M1320.7 760.5l6.9-7.1-12-2.4-6.9 11.2z" fill="#862222"/>
<path d="M1339.5 755.8l6.9-3-11.9-6.5-6.9 7.1z" fill="#842523"/>
<path d="M1327.6 753.4l6.9-7.1-12-6.6-6.9 11.3z" fill="#862524"/>
<path d="M1308.7 762.2l23.9-3.5 13.8-5.9M1322.5 739.7l-13.8 22.5" class="m"/>
<path d="M1939.7 597.5l13.8 5.1-8 16.5-13.8-5.1z" fill="#b3f3c1"/>
<path d="M1931.7 614l13.8 5.1-8 16.5-13.8-5.2z" fill="#cbffd2"/>
<path d="M1923.7 630.4l13.8 5.2-8 16.6-13.8-5.4z" fill="#e3ffe2"/>
<path d="M1915.7 646.8l24-49.3 13.8 5.1" class="m"/>
<path d="M1716.6 698.9l13.9 2.7-12 3.3-13.8-3.1z" fill="#c9aa7f"/>
<path d="M1704.7 701.8l13.8 3.1-12 3.3-13.8-3.5z" fill="#d4af83"/>
<path d="M1692.7 704.7l23.9-5.8 13.9 2.7" class="m"/>
<path d="M1493.8 741.6l13.8 1.9-12 2.5-13.8-2z" fill="#ff8972"/>
<path d="M1481.8 744l13.8 2-12 2.4-13.8-2z" fill="#ff8871"/>
<path d="M1469.8 746.4l24-4.8 13.8 1.9" class="m"/>
<path d="M1877.9 664.4l13.8 3.4-12 8.7-13.8-3.4z" fill="#cff6b7"/>
<path d="M1865.9 673.1l13.8 3.4-11.9 8.7-13.9-3.4z" fill="#c9ebaa"/>
<path d="M1853.9 681.8l24-17.4 13.8 3.4" class="m"/>
<path d="M1654.9 711.8l13.8 3.1-11.9 5.4-13.9-3.4z" fill="#eaae86"/>
<path d="M1642.9 716.9l13.9 3.4-12 5.4-13.8-3.6z" fill="#ecad83"/>
<path d="M1631 722.1l23.9-10.3 13.8 3.1" class="m"/>
<path d="M1432.1 748.5l13.8 1.2-12 .6-13.8-.9z" fill="#ff7b6b"/>
<path d="M1420.1 749.4l13.8 .9-12 .6-13.8-.5z" fill="#ff796a"/>
<path d="M1408.1 750.4l24-1.9 13.8 1.2" class="m"/>
<path d="M2039.2 295.9l13.9 15.9-2.7 14.9-13.8-15.6z" fill="#6ecfea"/>
<path d="M2036.6 311.1l13.8 15.6-2.7 14.9-13.8-15.3z" fill="#70d0e7"/>
<path d="M2033.9 326.3l13.8 15.3-2.6 14.9-13.9-15z" fill="#71d1e3"/>
<path d="M2031.2 341.5l13.9 15-2.7 14.9-13.8-14.7z" fill="#72d1e0"/>
<path d="M2028.6 356.7l13.8 14.7-2.7 14.9-13.8-14.4z" fill="#74d2dc"/>
<path d="M2025.9 371.9l13.8 14.4-2.6 14.9-13.9-14.1z" fill="#75d3d9"/>
<path d="M2023.2 387.1l13.9 14.1-2.7 14.9-13.8-13.8z" fill="#77d4d5"/>
<path d="M2020.6 402.3l13.8 13.8-2.7 14.9-13.8-13.5z" fill="#78d5d2"/>
<path d="M2017.9 417.5l13.8 13.5-2.6 14.9-13.9-13.2z" fill="#7ad6ce"/>
<path d="M2015.2 432.7l24-136.8 13.9 15.9" class="m"/>
<path d="M1816.2 691.5l13.8 2.6-12 3.8-13.8-3z" fill="#bac58a"/>
<path d="M1804.2 694.9l13.8 3-12 3.8-13.8-3.3z" fill="#b8bf84"/>
<path d="M1792.2 698.4l24-6.9 13.8 2.6" class="m"/>
<path d="M1593.2 727.1l13.8 3-12 3.6-13.8-3.2z" fill="#f29e7b"/>
<path d="M1581.2 730.5l13.8 3.2-11.9 3.5-13.8-3.3z" fill="#f49e7a"/>
<path d="M1569.3 733.9l23.9-6.8 13.8 3" class="m"/>
<path d="M1370.4 752.3l13.8-2-12-1.1-13.8 3.4z" fill="#802824"/>
<path d="M1358.4 752.6l13.8-3.4-12-1-13.8 4.6z" fill="#822824"/>
<path d="M1346.4 752.8l24-.5 13.8-2" class="m"/>
<path d="M1977.4 525.9l13.9 7.9-4.8 15.2-13.8-7.7z" fill="#8fdcbc"/>
<path d="M1972.7 541.3l13.8 7.7-4.8 15.2-13.8-7.6z" fill="#94e1bb"/>
<path d="M1967.9 556.6l13.8 7.6-4.8 15.2-13.8-7.5z" fill="#9ae5bb"/>
<path d="M1963.1 571.9l13.8 7.5-4.8 15.3-13.8-7.5z" fill="#a0eabb"/>
<path d="M1958.3 587.2l13.8 7.5-4.8 15.2-13.8-7.3z" fill="#a6efbb"/>
<path d="M1953.5 602.6l23.9-76.7 13.9 7.9" class="m"/>
<path d="M1754.4 699.1l13.8 3-11.9 1.7-13.9-3.5z" fill="#bcad7c"/>
<path d="M1742.4 700.3l13.9 3.5-12 1.6-13.8-3.8z" fill="#c2b07e"/>
<path d="M1730.5 701.6l23.9-2.5 13.8 3" class="m"/>
<path d="M1531.5 737.8l13.8 2.6-12 2.9-13.8-2.6z" fill="#fe9375"/>
<path d="M1519.5 740.7l13.8 2.6-11.9 3-13.8-2.8z" fill="#ff9274"/>
<path d="M1507.6 743.5l23.9-5.7 13.8 2.6" class="m"/>
<path d="M1915.7 646.8l13.8 5.4-12 10.3-13.8-5.2z" fill="#f6ffed"/>
<path d="M1903.7 657.3l13.8 5.2-11.9 10.3-13.9-5z" fill="#eaffd9"/>
<path d="M1891.7 667.8l24-21 13.8 5.4" class="m"/>
<path d="M1692.7 704.7l13.8 3.5-12 5.3-13.8-3.7z" fill="#ddb486"/>
<path d="M1680.7 709.8l13.8 3.7-12 5.4-13.8-4z" fill="#e5b888"/>
<path d="M1668.7 714.9l24-10.2 13.8 3.5" class="m"/>
<path d="M1469.8 746.4l13.8 2-12 1.6-13.8-2z" fill="#ff866f"/>
<path d="M1457.8 748l13.8 2-12 1.6-13.7-1.9z" fill="#ff846d"/>
<path d="M1445.9 749.7l23.9-3.3 13.8 2" class="m"/>
<path d="M2077 140.8l6.9 14.3-2.1 15.2-7-13.9z" fill="#63d0ff"/>
<path d="M2074.8 156.4l7 13.9-2.2 15.3-6.9-13.7z" fill="#64d0ff"/>
<path d="M2072.7 171.9l6.9 13.7-2.2 15.3-6.9-13.4z" fill="#65d0ff"/>
<path d="M2070.5 187.5l6.9 13.4-2.2 15.2-6.9-13.1z" fill="#66d1ff"/>
<path d="M2068.3 203l6.9 13.1-2.2 15.3-6.9-12.9z" fill="#67d1ff"/>
<path d="M2066.1 218.5l6.9 12.9-2.1 15.3-6.9-12.6z" fill="#68d1fd"/>
<path d="M2064 234.1l6.9 12.6-2.2 15.3-6.9-12.4z" fill="#69d2fa"/>
<path d="M2061.8 249.6l6.9 12.4-2.2 15.2-6.9-12z" fill="#6ad2f6"/>
<path d="M2059.6 265.2l6.9 12-2.2 15.3-6.9-11.8z" fill="#6bd2f2"/>
<path d="M2057.4 280.7l6.9 11.8-2.1 15.3-7-11.5z" fill="#6bd3ee"/>
<path d="M2055.2 296.3l7 11.5-2.2 15.3-6.9-11.3z" fill="#6cd3ea"/>
<path d="M2083.9 155.1l7 14.2-2.2 15-6.9-14z" fill="#63d2ff"/>
<path d="M2081.8 170.3l6.9 14-2.2 15-6.9-13.7z" fill="#64d2ff"/>
<path d="M2079.6 185.6l6.9 13.7-2.2 15-6.9-13.4z" fill="#65d3ff"/>
<path d="M2077.4 200.9l6.9 13.4-2.2 15-6.9-13.2z" fill="#65d3ff"/>
<path d="M2075.2 216.1l6.9 13.2-2.1 15-7-12.9z" fill="#66d3fd"/>
<path d="M2073 231.4l7 12.9-2.2 15-6.9-12.6z" fill="#67d4f9"/>
<path d="M2070.9 246.7l6.9 12.6-2.2 15-6.9-12.3z" fill="#68d4f6"/>
<path d="M2068.7 262l6.9 12.3-2.2 15-6.9-12.1z" fill="#69d5f2"/>
<path d="M2066.5 277.2l6.9 12.1-2.2 15-6.9-11.8z" fill="#6ad5ee"/>
<path d="M2064.3 292.5l6.9 11.8-2.1 15-6.9-11.5z" fill="#6bd5ea"/>
<path d="M2062.2 307.8l6.9 11.5-2.2 15-6.9-11.2z" fill="#6cd6e6"/>
<path d="M2053.1 311.8l23.9-171 13.9 28.5" class="m"/>
<path d="M1853.9 681.8l13.9 3.4-12 6.3-13.8-3.5z" fill="#c3e09e"/>
<path d="M1842 688l13.8 3.5-12 6.4-13.8-3.8z" fill="#bed693"/>
<path d="M1830 694.1l23.9-12.3 13.9 3.4" class="m"/>
<path d="M1631 722.1l13.8 3.6-12 4.2-13.8-3.8z" fill="#eeab81"/>
<path d="M1619 726.1l13.8 3.8-12 4.2-13.8-4z" fill="#efa97e"/>
<path d="M1607 730.1l24-8 13.8 3.6" class="m"/>
<path d="M1408.1 750.4l13.8 .5-12-.9-13.8 .3z" fill="#7b2c24"/>
<path d="M1396.1 750.3l13.8-.3-11.9-.8-13.8 1.1z" fill="#7e2c25"/>
<path d="M1384.2 750.3l23.9 .1 13.8 .5" class="m"/>
<path d="M2015.2 432.7l13.9 13.2-4 16.5-13.8-12.9z" fill="#7cd7cb"/>
<path d="M2011.3 449.5l13.8 12.9-4 16.5-13.8-12.5z" fill="#7fd9c8"/>
<path d="M2007.3 466.4l13.8 12.5-4 16.5-13.8-12.2z" fill="#82dbc5"/>
<path d="M2003.3 483.2l13.8 12.2-4 16.5-13.8-11.8z" fill="#85ddc2"/>
<path d="M1999.3 500.1l13.8 11.8-4 16.5-13.8-11.5z" fill="#88dfc0"/>
<path d="M1995.3 516.9l13.8 11.5-4 16.5-13.8-11.1z" fill="#8be1bd"/>
<path d="M1991.3 533.8l23.9-101.1 13.9 13.2" class="m"/>
<path d="M1792.2 698.4l13.8 3.3-12 2.3-13.8-3.7z" fill="#b8ba81"/>
<path d="M1780.2 700.3l13.8 3.7-12 2.2-13.8-4.1z" fill="#b9b77e"/>
<path d="M1768.2 702.1l24-3.7 13.8 3.3" class="m"/>
<path d="M1569.3 733.9l13.8 3.3-12 3.3-13.8-3.3z" fill="#f79d78"/>
<path d="M1557.3 737.2l13.8 3.3-12 3.3-13.8-3.4z" fill="#fb9c77"/>
<path d="M1545.3 740.4l24-6.5 13.8 3.3" class="m"/>
<path d="M1346.4 752.8l13.8-4.6-12-12.9-13.7 11z" fill="#842825"/>
<path d="M1334.5 746.3l13.7-11-11.9-12.9-13.8 17.3z" fill="#862827"/>
<path d="M1322.5 739.7l23.9 13.1 13.8-4.6M1336.3 722.4l-13.8 17.3" class="m"/>
<path d="M1953.5 602.6l13.8 7.3-8 16.4-13.8-7.2z" fill="#b6fec4"/>
<path d="M1945.5 619.1l13.8 7.2-8 16.5-13.8-7.2z" fill="#d1ffd8"/>
<path d="M1937.5 635.6l13.8 7.2-8 16.4-13.8-7z" fill="#ecffea"/>
<path d="M1929.5 652.2l24-49.6 13.8 7.3" class="m"/>
<path d="M1730.5 701.6l13.8 3.8-12 3.6-13.8-4.1z" fill="#cab381"/>
<path d="M1718.5 704.9l13.8 4.1-12 3.6-13.8-4.4z" fill="#d5b985"/>
<path d="M1706.5 708.2l24-6.6 13.8 3.8" class="m"/>
<path d="M1507.6 743.5l13.8 2.8-12 2.4-13.8-2.7z" fill="#ff9173"/>
<path d="M1495.6 746l13.8 2.7-12 2.5-13.8-2.8z" fill="#ff8f71"/>
<path d="M1483.6 748.4l24-4.9 13.8 2.8" class="m"/>
<path d="M1891.7 667.8l13.9 5-12 8.7-13.9-5z" fill="#d6ffbf"/>
<path d="M1879.7 676.5l13.9 5-12 8.6-13.8-4.9z" fill="#cef9b0"/>
<path d="M1867.8 685.2l23.9-17.4 13.9 5" class="m"/>
<path d="M1668.7 714.9l13.8 4-11.9 5.7-13.8-4.3z" fill="#ebb988"/>
<path d="M1656.8 720.3l13.8 4.3-12 5.6-13.8-4.5z" fill="#edb785"/>
<path d="M1644.8 725.7l23.9-10.8 13.8 4" class="m"/>
<path d="M1445.9 749.7l13.7 1.9-23.9 .4-13.8-1.1z" fill="#ff7f6a"/>
<path d="M1421.9 750.9l24-1.2 13.7 1.9" class="m"/>
<path d="M2053.1 311.8l6.9 11.3-2.7 14.6-6.9-11z" fill="#6ed4e6"/>
<path d="M2050.4 326.7l6.9 11-2.7 14.6-6.9-10.7z" fill="#6fd4e3"/>
<path d="M2047.7 341.6l6.9 10.7-2.6 14.7-6.9-10.5z" fill="#70d5e0"/>
<path d="M2045.1 356.5l6.9 10.5-2.7 14.6-6.9-10.2z" fill="#72d6dc"/>
<path d="M2042.4 371.4l6.9 10.2-2.6 14.6-7-9.9z" fill="#73d7d9"/>
<path d="M2039.7 386.3l7 9.9-2.7 14.7-6.9-9.7z" fill="#75d8d6"/>
<path d="M2037.1 401.2l6.9 9.7-2.7 14.6-6.9-9.4z" fill="#76d9d2"/>
<path d="M2034.4 416.1l6.9 9.4-2.6 14.6-7-9.1z" fill="#78dacf"/>
<path d="M2031.7 431l7 9.1-2.7 14.7-6.9-8.9z" fill="#7adbcc"/>
<path d="M2060 323.1l6.9 11.2-2.7 14.4-6.9-11z" fill="#6dd6e3"/>
<path d="M2057.3 337.7l6.9 11-2.6 14.3-7-10.7z" fill="#6fd7e0"/>
<path d="M2054.6 352.3l7 10.7-2.7 14.4-6.9-10.4z" fill="#70d8dd"/>
<path d="M2052 367l6.9 10.4-2.7 14.4-6.9-10.2z" fill="#72d9d9"/>
<path d="M2049.3 381.6l6.9 10.2-2.6 14.4-6.9-10z" fill="#73dad6"/>
<path d="M2046.7 396.2l6.9 10-2.7 14.4-6.9-9.7z" fill="#75dbd3"/>
<path d="M2044 410.9l6.9 9.7-2.7 14.3-6.9-9.4z" fill="#76dcd0"/>
<path d="M2041.3 425.5l6.9 9.4-2.6 14.4-6.9-9.2z" fill="#78ddcd"/>
<path d="M2038.7 440.1l6.9 9.2-2.7 14.4-6.9-8.9z" fill="#79deca"/>
<path d="M2029.1 445.9l24-134.1 13.8 22.5" class="m"/>
<path d="M1830 694.1l13.8 3.8-12 4.1-13.8-4.1z" fill="#bbce8c"/>
<path d="M1818 697.9l13.8 4.1-12 4.1-13.8-4.4z" fill="#b9c886"/>
<path d="M1806 701.7l24-7.6 13.8 3.8" class="m"/>
<path d="M1607 730.1l13.8 4-12 3.7-13.8-4.1z" fill="#f1a77c"/>
<path d="M1595 733.7l13.8 4.1-11.9 3.6-13.8-4.2z" fill="#f4a67a"/>
<path d="M1583.1 737.2l23.9-7.1 13.8 4" class="m"/>
<path d="M1384.2 750.3l13.8-1.1-12-2.2-13.8 2.2z" fill="#802c25"/>
<path d="M1372.2 749.2l13.8-2.2-12-2.2-13.8 3.4z" fill="#822c26"/>
<path d="M1360.2 748.2l24 2.1 13.8-1.1" class="m"/>
<path d="M1991.3 533.8l13.8 11.1-4.8 14.9-13.8-10.8z" fill="#8fe5bb"/>
<path d="M1986.5 549l13.8 10.8-4.8 14.9-13.8-10.5z" fill="#95e9bb"/>
<path d="M1981.7 564.2l13.8 10.5-4.8 14.9-13.8-10.2z" fill="#9beebb"/>
<path d="M1976.9 579.4l13.8 10.2-4.8 15-13.8-9.9z" fill="#a2f4bc"/>
<path d="M1972.1 594.7l13.8 9.9-4.8 14.9-13.8-9.6z" fill="#a8fabd"/>
<path d="M1967.3 609.9l24-76.1 13.8 11.1" class="m"/>
<path d="M1768.2 702.1l13.8 4.1-11.9 1.9-13.8-4.3z" fill="#bcb67e"/>
<path d="M1756.3 703.8l13.8 4.3-12 2-13.8-4.7z" fill="#c3b97f"/>
<path d="M1744.3 705.4l23.9-3.3 13.8 4.1" class="m"/>
<path d="M1545.3 740.4l13.8 3.4-12 3-13.8-3.5z" fill="#fd9b76"/>
<path d="M1533.3 743.3l13.8 3.5-11.9 2.9-13.8-3.4z" fill="#ff9a75"/>
<path d="M1521.4 746.3l23.9-5.9 13.8 3.4" class="m"/>
<path d="M1929.5 652.2l13.8 7-11.9 10.5-13.9-7.2z" fill="#fffff9"/>
<path d="M1917.5 662.5l13.9 7.2-12 10.4-13.8-7.3z" fill="#f6ffe6"/>
<path d="M1905.6 672.8l23.9-20.6 13.8 7" class="m"/>
<path d="M1706.5 708.2l13.8 4.4-12 5.6-13.8-4.7z" fill="#debe88"/>
<path d="M1694.5 713.5l13.8 4.7-11.9 5.5-13.9-4.8z" fill="#e7c28a"/>
<path d="M1682.5 718.9l24-10.7 13.8 4.4" class="m"/>
<path d="M1483.6 748.4l13.8 2.8-12 1.5-13.8-2.7z" fill="#ff8d70"/>
<path d="M1471.6 750l13.8 2.7-12 1.4-13.8-2.5z" fill="#ff8a6d"/>
<path d="M1459.6 751.6l24-3.2 13.8 2.8" class="m"/>
<path d="M2090.9 169.3l6.9 18.7-2.4 16.1-6.9-18.3z" fill="#62d4ff"/>
<path d="M2088.5 185.8l6.9 18.3-2.4 16-6.9-17.8z" fill="#63d5ff"/>
<path d="M2086.1 202.3l6.9 17.8-2.4 16.1-6.9-17.4z" fill="#64d5fe"/>
<path d="M2083.7 218.8l6.9 17.4-2.4 16.1-6.9-17z" fill="#65d6fa"/>
<path d="M2081.3 235.3l6.9 17-2.4 16.1-6.9-16.6z" fill="#66d6f6"/>
<path d="M2078.9 251.8l6.9 16.6-2.4 16.1-6.9-16.2z" fill="#67d7f2"/>
<path d="M2076.5 268.3l6.9 16.2-2.4 16.1-6.9-15.8z" fill="#68d7ef"/>
<path d="M2074.1 284.8l6.9 15.8-2.4 16-6.9-15.3z" fill="#69d8eb"/>
<path d="M2071.7 301.3l6.9 15.3-2.4 16.1-6.9-14.9z" fill="#6ad8e6"/>
<path d="M2069.3 317.8l6.9 14.9-2.4 16.1-6.9-14.5z" fill="#6bd9e2"/>
<path d="M2097.8 188l6.9 18.7-2.4 15.6-6.9-18.2z" fill="#61d6ff"/>
<path d="M2095.4 204.1l6.9 18.2-2.4 15.7-6.9-17.9z" fill="#62d7fc"/>
<path d="M2093 220.1l6.9 17.9-2.4 15.7-6.9-17.5z" fill="#63d7f8"/>
<path d="M2090.6 236.2l6.9 17.5-2.4 15.6-6.9-17z" fill="#65d8f5"/>
<path d="M2088.2 252.3l6.9 17-2.4 15.7-6.9-16.6z" fill="#66d8f1"/>
<path d="M2085.8 268.4l6.9 16.6-2.4 15.7-6.9-16.2z" fill="#67d9ed"/>
<path d="M2083.4 284.5l6.9 16.2-2.4 15.6-6.9-15.7z" fill="#68dae9"/>
<path d="M2081 300.6l6.9 15.7-2.4 15.7-6.9-15.4z" fill="#69dae6"/>
<path d="M2078.6 316.6l6.9 15.4-2.4 15.6-6.9-14.9z" fill="#6adbe2"/>
<path d="M2076.2 332.7l6.9 14.9-2.4 15.7-6.9-14.5z" fill="#6bdbde"/>
<path d="M2066.9 334.3l24-165 13.8 37.4" class="m"/>
<path d="M1867.8 685.2l13.8 4.9-12 6.5-13.8-5.1z" fill="#c6eca2"/>
<path d="M1855.8 691.5l13.8 5.1-12 6.5-13.8-5.2z" fill="#c0e096"/>
<path d="M1843.8 697.9l24-12.7 13.8 4.9" class="m"/>
<path d="M1644.8 725.7l13.8 4.5-12 4.4-13.8-4.7z" fill="#efb582"/>
<path d="M1632.8 729.9l13.8 4.7-12 4.3-13.8-4.8z" fill="#efb17f"/>
<path d="M1620.8 734.1l24-8.4 13.8 4.5" class="m"/>
<path d="M1421.9 750.9l13.8 1.1-12-1.5-13.8-.5z" fill="#7b3025"/>
<path d="M1409.9 750l13.8 .5-11.9-1.6-13.8 .3z" fill="#7e3026"/>
<path d="M1398 749.2l23.9 1.7 13.8 1.1" class="m"/>
<path d="M2029.1 445.9l13.8 17.8-4 15.9-13.8-17.2z" fill="#7cdec8"/>
<path d="M2025.1 462.4l13.8 17.2-4 15.9-13.8-16.6z" fill="#7fe0c5"/>
<path d="M2021.1 478.9l13.8 16.6-4 16-13.8-16.1z" fill="#82e2c2"/>
<path d="M2017.1 495.4l13.8 16.1-4 15.9-13.8-15.5z" fill="#85e5c0"/>
<path d="M2013.1 511.9l13.8 15.5-4 16-13.8-15z" fill="#88e7be"/>
<path d="M2009.1 528.4l13.8 15-4 15.9-13.8-14.4z" fill="#8ceabb"/>
<path d="M2005.1 544.9l24-99 13.8 17.8" class="m"/>
<path d="M1806 701.7l13.8 4.4-12 2.5-13.8-4.6z" fill="#b9c382"/>
<path d="M1794 704l13.8 4.6-11.9 2.6-13.9-5z" fill="#bac07f"/>
<path d="M1782 706.2l24-4.5 13.8 4.4" class="m"/>
<path d="M1583.1 737.2l13.8 4.2-12 3.3-13.8-4.2z" fill="#f7a579"/>
<path d="M1571.1 740.5l13.8 4.2-12 3.3-13.8-4.2z" fill="#faa478"/>
<path d="M1559.1 743.8l24-6.6 13.8 4.2" class="m"/>
<path d="M1360.2 748.2l13.8-3.4-8-11.7-13.8 6.5z" fill="#842c27"/>
<path d="M1352.2 739.6l13.8-6.5-8-11.7-13.7 9.6z" fill="#852c29"/>
<path d="M1344.3 731l13.7-9.6-7.9-11.8-13.8 12.8z" fill="#862c2a"/>
<path d="M1336.3 722.4l23.9 25.8 13.8-3.4M1350.1 709.6l-13.8 12.8" class="m"/>
<path d="M1967.3 609.9l13.8 9.6-7.9 16.1-13.9-9.3z" fill="#b9ffc7"/>
<path d="M1959.3 626.3l13.9 9.3-8 16.1-13.9-8.9z" fill="#d7ffdd"/>
<path d="M1951.3 642.8l13.9 8.9-8 16.1-13.9-8.6z" fill="#f3fff2"/>
<path d="M1943.3 659.2l24-49.3 13.8 9.6" class="m"/>
<path d="M1744.3 705.4l13.8 4.7-12 3.8-13.8-4.9z" fill="#cbbc82"/>
<path d="M1732.3 709l13.8 4.9-12 3.9-13.8-5.2z" fill="#d5c286"/>
<path d="M1720.3 712.6l24-7.2 13.8 4.7" class="m"/>
<path d="M1521.4 746.3l13.8 3.4-12 2.5-13.8-3.5z" fill="#ff9974"/>
<path d="M1509.4 748.7l13.8 3.5-12 2.4-13.8-3.4z" fill="#ff9772"/>
<path d="M1497.4 751.2l24-4.9 13.8 3.4" class="m"/>
<path d="M1905.6 672.8l13.8 7.3-12 8.7-13.8-7.3z" fill="#deffc7"/>
<path d="M1893.6 681.5l13.8 7.3-12 8.7-13.8-7.4z" fill="#d4ffb6"/>
<path d="M1881.6 690.1l24-17.3 13.8 7.3" class="m"/>
<path d="M1682.5 718.9l13.9 4.8-12 5.9-13.8-5z" fill="#ecc38a"/>
<path d="M1670.6 724.6l13.8 5-12 5.8-13.8-5.2z" fill="#eec187"/>
<path d="M1658.6 730.2l23.9-11.3 13.9 4.8" class="m"/>
<path d="M1459.6 751.6l13.8 2.5-23.9-.1-13.8-2z" fill="#ff8469"/>
<path d="M1435.7 752l23.9-.4 13.8 2.5" class="m"/>
<path d="M2066.9 334.3l6.9 14.5-3 15.8-6.9-14.1z" fill="#6dd9df"/>
<path d="M2063.9 350.5l6.9 14.1-3 15.7-6.9-13.7z" fill="#6fdadb"/>
<path d="M2060.9 366.6l6.9 13.7-3 15.8-6.9-13.3z" fill="#70dcd8"/>
<path d="M2057.9 382.8l6.9 13.3-3 15.8-6.9-12.9z" fill="#72ddd5"/>
<path d="M2054.9 399l6.9 12.9-3 15.7-6.9-12.4z" fill="#74ded1"/>
<path d="M2051.9 415.2l6.9 12.4-3 15.8-6.9-12.1z" fill="#76dfce"/>
<path d="M2048.9 431.3l6.9 12.1-3 15.8-6.9-11.7z" fill="#77e0cb"/>
<path d="M2045.9 447.5l6.9 11.7-3 15.7-6.9-11.2z" fill="#79e1c7"/>
<path d="M2073.8 348.8l6.9 14.5-3 15.4-6.9-14.1z" fill="#6cdcda"/>
<path d="M2070.8 364.6l6.9 14.1-3 15.3-6.9-13.7z" fill="#6eddd7"/>
<path d="M2067.8 380.3l6.9 13.7-3 15.4-6.9-13.3z" fill="#70ded4"/>
<path d="M2064.8 396.1l6.9 13.3-3 15.3-6.9-12.8z" fill="#72e0d1"/>
<path d="M2061.8 411.9l6.9 12.8-3 15.4-6.9-12.5z" fill="#74e1ce"/>
<path d="M2058.8 427.6l6.9 12.5-3 15.3-6.9-12z" fill="#75e2cb"/>
<path d="M2055.8 443.4l6.9 12-3 15.4-6.9-11.6z" fill="#77e3c8"/>
<path d="M2052.8 459.2l6.9 11.6-2.9 15.4-7-11.3z" fill="#79e5c4"/>
<path d="M2042.9 463.7l24-129.4 13.8 29" class="m"/>
<path d="M1843.8 697.9l13.8 5.2-12 4.3-13.8-5.4z" fill="#bcd78d"/>
<path d="M1831.8 702l13.8 5.4-12 4.2-13.8-5.5z" fill="#b9d087"/>
<path d="M1819.8 706.1l24-8.2 13.8 5.2" class="m"/>
<path d="M1620.8 734.1l13.8 4.8-12 3.6-13.8-4.7z" fill="#f1af7c"/>
<path d="M1608.8 737.8l13.8 4.7-11.9 3.7-13.8-4.8z" fill="#f3ae7b"/>
<path d="M1596.9 741.4l23.9-7.3 13.8 4.8" class="m"/>
<path d="M1398 749.2l13.8-.3-12-3.2-13.8 1.3z" fill="#803026"/>
<path d="M1386 747l13.8-1.3-12-3.2-13.8 2.3z" fill="#823027"/>
<path d="M1374 744.8l24 4.4 13.8-.3" class="m"/>
<path d="M2005.1 544.9l13.8 14.4-4.8 14.4-13.8-13.9z" fill="#90edba"/>
<path d="M2000.3 559.8l13.8 13.9-4.7 14.4-13.9-13.4z" fill="#97f3bb"/>
<path d="M1995.5 574.7l13.9 13.4-4.8 14.4-13.9-12.9z" fill="#9df8bc"/>
<path d="M1990.7 589.6l13.9 12.9-4.8 14.5-13.9-12.4z" fill="#a4ffbd"/>
<path d="M1985.9 604.6l13.9 12.4-4.8 14.4-13.9-11.9z" fill="#acffbf"/>
<path d="M1981.1 619.5l24-74.6 13.8 14.4" class="m"/>
<path d="M1782 706.2l13.9 5-12 2.2-13.8-5.3z" fill="#bdbf7f"/>
<path d="M1770.1 708.1l13.8 5.3-12 2.2-13.8-5.5z" fill="#c3c180"/>
<path d="M1758.1 710.1l23.9-3.9 13.9 5" class="m"/>
<path d="M1559.1 743.8l13.8 4.2-12 2.9-13.8-4.1z" fill="#fca376"/>
<path d="M1547.1 746.8l13.8 4.1-11.9 2.9-13.8-4.1z" fill="#ffa275"/>
<path d="M1535.2 749.7l23.9-5.9 13.8 4.2" class="m"/>
<path d="M1943.3 659.2l13.9 8.6-12 10.8-13.8-8.9z" fill="#ffffff"/>
<path d="M1931.4 669.7l13.8 8.9-12 10.7-13.8-9.2z" fill="#ffffef"/>
<path d="M1919.4 680.1l23.9-20.9 13.9 8.6" class="m"/>
<path d="M1720.3 712.6l13.8 5.2-12 5.7-13.8-5.3z" fill="#dfc78a"/>
<path d="M1708.3 718.2l13.8 5.3-11.9 5.7-13.8-5.5z" fill="#e8cc8c"/>
<path d="M1696.4 723.7l23.9-11.1 13.8 5.2" class="m"/>
<path d="M1497.4 751.2l13.8 3.4-12 1.4-13.8-3.3z" fill="#ff9470"/>
<path d="M1485.4 752.7l13.8 3.3-12 1.3-13.8-3.2z" fill="#ff916d"/>
<path d="M1473.4 754.1l24-2.9 13.8 3.4" class="m"/>
<path d="M2104.7 206.7l4.6 15.4-2.4 15.3-4.6-15.1z" fill="#61d8fa"/>
<path d="M2102.3 222.3l4.6 15.1-2.4 15.3-4.6-14.7z" fill="#62d8f6"/>
<path d="M2099.9 238l4.6 14.7-2.4 15.3-4.6-14.3z" fill="#63d9f3"/>
<path d="M2097.5 253.7l4.6 14.3-2.4 15.3-4.6-14z" fill="#64d9ef"/>
<path d="M2095.1 269.3l4.6 14-2.4 15.3-4.6-13.6z" fill="#65daec"/>
<path d="M2092.7 285l4.6 13.6-2.4 15.3-4.6-13.2z" fill="#66dbe8"/>
<path d="M2090.3 300.7l4.6 13.2-2.4 15.3-4.6-12.9z" fill="#67dbe5"/>
<path d="M2087.9 316.3l4.6 12.9-2.4 15.3-4.6-12.5z" fill="#68dce1"/>
<path d="M2085.5 332l4.6 12.5-2.4 15.3-4.6-12.2z" fill="#6adddd"/>
<path d="M2083.1 347.6l4.6 12.2-2.4 15.4-4.6-11.9z" fill="#6bddda"/>
<path d="M2109.3 222.1l4.6 15.4-2.4 15-4.6-15.1z" fill="#60d9f4"/>
<path d="M2106.9 237.4l4.6 15.1-2.4 14.9-4.6-14.7z" fill="#61d9f1"/>
<path d="M2104.5 252.7l4.6 14.7-2.4 15-4.6-14.4z" fill="#62daee"/>
<path d="M2102.1 268l4.6 14.4-2.4 14.9-4.6-14z" fill="#63dbeb"/>
<path d="M2099.7 283.3l4.6 14-2.4 15-4.6-13.7z" fill="#65dbe7"/>
<path d="M2097.3 298.6l4.6 13.7-2.4 14.9-4.6-13.3z" fill="#66dce4"/>
<path d="M2094.9 313.9l4.6 13.3-2.4 15-4.6-13z" fill="#67dde0"/>
<path d="M2092.5 329.2l4.6 13-2.4 14.9-4.6-12.6z" fill="#68dddd"/>
<path d="M2090.1 344.5l4.6 12.6-2.4 14.9-4.6-12.2z" fill="#69deda"/>
<path d="M2087.7 359.8l4.6 12.2-2.4 15-4.6-11.8z" fill="#6adfd6"/>
<path d="M2113.9 237.5l4.6 15.5-2.4 14.6-4.6-15.1z" fill="#5fd9ef"/>
<path d="M2111.5 252.5l4.6 15.1-2.4 14.5-4.6-14.7z" fill="#60daec"/>
<path d="M2109.1 267.4l4.6 14.7-2.4 14.6-4.6-14.3z" fill="#62dbe9"/>
<path d="M2106.7 282.4l4.6 14.3-2.4 14.6-4.6-14z" fill="#63dce6"/>
<path d="M2104.3 297.3l4.6 14-2.4 14.6-4.6-13.6z" fill="#64dde3"/>
<path d="M2101.9 312.3l4.6 13.6-2.3 14.6-4.7-13.3z" fill="#65dddf"/>
<path d="M2099.5 327.2l4.7 13.3-2.4 14.6-4.7-12.9z" fill="#66dedc"/>
<path d="M2097.1 342.2l4.7 12.9-2.4 14.6-4.7-12.6z" fill="#68dfd9"/>
<path d="M2094.7 357.1l4.7 12.6-2.4 14.6-4.7-12.3z" fill="#69e0d6"/>
<path d="M2092.3 372l4.7 12.3-2.4 14.5-4.7-11.8z" fill="#6ae0d2"/>
<path d="M2080.7 363.3l24-156.6 13.8 46.3" class="m"/>
<path d="M1881.6 690.1l13.8 7.4-12 6.4-13.8-7.3z" fill="#c9f7a5"/>
<path d="M1869.6 696.6l13.8 7.3-12 6.4-13.8-7.2z" fill="#c0e996"/>
<path d="M1857.6 703.1l24-13 13.8 7.4" class="m"/>
<path d="M1658.6 730.2l13.8 5.2-12 4.4-13.8-5.2z" fill="#efbe83"/>
<path d="M1646.6 734.6l13.8 5.2-12 4.4-13.8-5.3z" fill="#efba7f"/>
<path d="M1634.6 738.9l24-8.7 13.8 5.2" class="m"/>
<path d="M1435.7 752l13.8 2-12-2.2-13.8-1.3z" fill="#7b3426"/>
<path d="M1423.7 750.5l13.8 1.3-12-2.2-13.7-.7z" fill="#7e3427"/>
<path d="M1411.8 748.9l23.9 3.1 13.8 2" class="m"/>
<path d="M2042.9 463.7l6.9 11.2-4 15.6-6.9-10.9z" fill="#7ce3c4"/>
<path d="M2038.9 479.6l6.9 10.9-4 15.5-6.9-10.5z" fill="#7fe6c2"/>
<path d="M2034.9 495.5l6.9 10.5-4 15.5-6.9-10z" fill="#82e8c0"/>
<path d="M2030.9 511.5l6.9 10-3.9 15.6-7-9.7z" fill="#85ebbe"/>
<path d="M2026.9 527.4l7 9.7-4 15.5-7-9.2z" fill="#89edbc"/>
<path d="M2022.9 543.4l7 9.2-4 15.5-7-8.8z" fill="#8df0ba"/>
<path d="M2049.8 474.9l7 11.3-4 15.1-7-10.8z" fill="#7ce7c2"/>
<path d="M2045.8 490.5l7 10.8-4 15.1-7-10.4z" fill="#7fe9c0"/>
<path d="M2041.8 506l7 10.4-4 15.2-7-10.1z" fill="#82ecbe"/>
<path d="M2037.8 521.5l7 10.1-4 15.1-6.9-9.6z" fill="#86efbc"/>
<path d="M2033.9 537.1l6.9 9.6-4 15.2-6.9-9.3z" fill="#8af2ba"/>
<path d="M2029.9 552.6l6.9 9.3-4 15.1-6.9-8.9z" fill="#8ef5b9"/>
<path d="M2018.9 559.3l24-95.6 13.9 22.5" class="m"/>
<path d="M1819.8 706.1l13.8 5.5-11.9 2.7-13.9-5.7z" fill="#b9cb82"/>
<path d="M1807.8 708.6l13.9 5.7-12 2.7-13.8-5.8z" fill="#bac880"/>
<path d="M1795.9 711.2l23.9-5.1 13.8 5.5" class="m"/>
<path d="M1596.9 741.4l13.8 4.8-12 3.3-13.8-4.8z" fill="#f6ac79"/>
<path d="M1584.9 744.7l13.8 4.8-12 3.2-13.8-4.7z" fill="#f9ab78"/>
<path d="M1572.9 748l24-6.6 13.8 4.8" class="m"/>
<path d="M1374 744.8l13.8-2.3-8-13.9-13.8 4.5z" fill="#843028"/>
<path d="M1366 733.1l13.8-4.5-8-13.9-13.8 6.7z" fill="#85302b"/>
<path d="M1358 721.4l13.8-6.7-8-14-13.7 8.9z" fill="#86302d"/>
<path d="M1350.1 709.6l23.9 35.2 13.8-2.3M1363.8 700.7l-13.7 8.9" class="m"/>
<path d="M1981.1 619.5l13.9 11.9-8 15.6-13.8-11.4z" fill="#beffca"/>
<path d="M1973.2 635.6l13.8 11.4-8 15.5-13.8-10.8z" fill="#ddffe2"/>
<path d="M1965.2 651.7l13.8 10.8-8 15.6-13.8-10.3z" fill="#fbfff8"/>
<path d="M1957.2 667.8l23.9-48.3 13.9 11.9" class="m"/>
<path d="M1758.1 710.1l13.8 5.5-12 4-13.8-5.7z" fill="#cbc583"/>
<path d="M1746.1 713.9l13.8 5.7-12 4-13.8-5.8z" fill="#d6cb87"/>
<path d="M1734.1 717.8l24-7.7 13.8 5.5" class="m"/>
<path d="M1535.2 749.7l13.8 4.1-12 2.4-13.8-4z" fill="#ffa074"/>
<path d="M1523.2 752.2l13.8 4-12 2.4-13.8-4z" fill="#ff9e72"/>
<path d="M1511.2 754.6l24-4.9 13.8 4.1" class="m"/>
<path d="M1919.4 680.1l13.8 9.2-12 8.7-13.8-9.2z" fill="#e5ffcd"/>
<path d="M1907.4 688.8l13.8 9.2-12 8.8-13.8-9.3z" fill="#d6ffb8"/>
<path d="M1895.4 697.5l24-17.4 13.8 9.2" class="m"/>
<path d="M1696.4 723.7l13.8 5.5-12 6-13.8-5.6z" fill="#eecd8c"/>
<path d="M1684.4 729.6l13.8 5.6-12 5.9-13.8-5.7z" fill="#efca88"/>
<path d="M1672.4 735.4l24-11.7 13.8 5.5" class="m"/>
<path d="M1473.4 754.1l13.8 3.2-23.9-.7-13.8-2.6z" fill="#fb8a68"/>
<path d="M1449.5 754l23.9 .1 13.8 3.2" class="m"/>
<path d="M2080.7 363.3l6.9 17.8-3 14.8-6.9-17.2z" fill="#6cdfd6"/>
<path d="M2077.7 378.7l6.9 17.2-3 14.8-6.9-16.7z" fill="#6ee0d3"/>
<path d="M2074.7 394l6.9 16.7-2.9 14.9-7-16.2z" fill="#70e1d0"/>
<path d="M2071.7 409.4l7 16.2-3 14.8-7-15.7z" fill="#71e3cd"/>
<path d="M2068.7 424.7l7 15.7-3 14.8-7-15.1z" fill="#73e4ca"/>
<path d="M2065.7 440.1l7 15.1-3 14.9-7-14.7z" fill="#75e5c7"/>
<path d="M2062.7 455.4l7 14.7-3 14.8-7-14.1z" fill="#77e7c4"/>
<path d="M2059.7 470.8l7 14.1-3 14.8-6.9-13.5z" fill="#79e8c1"/>
<path d="M2087.6 381.1l7 17.7-3 14.3-7-17.2z" fill="#6be1d0"/>
<path d="M2084.6 395.9l7 17.2-3 14.4-7-16.8z" fill="#6de2ce"/>
<path d="M2081.6 410.7l7 16.8-3 14.3-6.9-16.2z" fill="#6fe4cb"/>
<path d="M2078.7 425.6l6.9 16.2-3 14.3-6.9-15.7z" fill="#71e5c8"/>
<path d="M2075.7 440.4l6.9 15.7-3 14.3-6.9-15.2z" fill="#73e7c6"/>
<path d="M2072.7 455.2l6.9 15.2-3 14.3-6.9-14.6z" fill="#75e8c3"/>
<path d="M2069.7 470.1l6.9 14.6-3 14.3-6.9-14.1z" fill="#77eac0"/>
<path d="M2066.7 484.9l6.9 14.1-3 14.3-6.9-13.6z" fill="#79ebbe"/>
<path d="M2056.8 486.2l23.9-122.9 13.9 35.5" class="m"/>
<path d="M1857.6 703.1l13.8 7.2-11.9 4.1-13.9-7z" fill="#bade8c"/>
<path d="M1845.6 707.4l13.9 7-12 4.1-13.9-6.9z" fill="#b7d785"/>
<path d="M1833.6 711.6l24-8.5 13.8 7.2" class="m"/>
<path d="M1634.6 738.9l13.8 5.3-11.9 3.7-13.9-5.4z" fill="#f0b77d"/>
<path d="M1622.6 742.5l13.9 5.4-12 3.6-13.8-5.3z" fill="#f2b67b"/>
<path d="M1610.7 746.2l23.9-7.3 13.8 5.3" class="m"/>
<path d="M1411.8 748.9l13.7 .7-11.9-4.1-13.8 .2z" fill="#803427"/>
<path d="M1399.8 745.7l13.8-.2-12-4-13.8 1z" fill="#823428"/>
<path d="M1387.8 742.5l24 6.4 13.7 .7" class="m"/>
<path d="M2018.9 559.3l13.9 17.7-4.8 13.7-13.9-17z" fill="#92f7b9"/>
<path d="M2014.1 573.7l13.9 17-4.8 13.7-13.8-16.3z" fill="#99fdba"/>
<path d="M2009.4 588.1l13.8 16.3-4.8 13.7-13.8-15.6z" fill="#a1ffbc"/>
<path d="M2004.6 602.5l13.8 15.6-4.8 13.7-13.8-14.8z" fill="#a9ffbf"/>
<path d="M1999.8 617l13.8 14.8-4.8 13.7-13.8-14.1z" fill="#b1ffc2"/>
<path d="M1995 631.4l23.9-72.1 13.9 17.7" class="m"/>
<path d="M1795.9 711.2l13.8 5.8-12 2.3-13.8-5.9z" fill="#bdc77f"/>
<path d="M1783.9 713.4l13.8 5.9-12 2.3-13.8-6z" fill="#c3c980"/>
<path d="M1771.9 715.6l24-4.4 13.8 5.8" class="m"/>
<path d="M1572.9 748l13.8 4.7-12 2.9-13.8-4.7z" fill="#fbaa76"/>
<path d="M1560.9 750.9l13.8 4.7-11.9 2.9-13.8-4.7z" fill="#fea975"/>
<path d="M1549 753.8l23.9-5.8 13.8 4.7" class="m"/>
<path d="M1957.2 667.8l13.8 10.3-12 11-13.8-10.5z" fill="#ffffff"/>
<path d="M1945.2 678.6l13.8 10.5-12 10.9-13.8-10.7z" fill="#fffff3"/>
<path d="M1933.2 689.3l24-21.5 13.8 10.3" class="m"/>
<path d="M1734.1 717.8l13.8 5.8-11.9 5.8-13.9-5.9z" fill="#e0d18b"/>
<path d="M1722.1 723.5l13.9 5.9-12 5.8-13.8-6z" fill="#e9d58d"/>
<path d="M1710.2 729.2l23.9-11.4 13.8 5.8" class="m"/>
<path d="M1511.2 754.6l13.8 4-12 1.3-13.8-3.9z" fill="#ff9b6f"/>
<path d="M1499.2 756l13.8 3.9-12 1.2-13.8-3.8z" fill="#ff976d"/>
<path d="M1487.2 757.3l24-2.7 13.8 4" class="m"/>
<path d="M2118.5 253l4.7 18.4-2.7 15.7-4.6-17.9z" fill="#5fdae9"/>
<path d="M2115.9 269.2l4.6 17.9-2.7 15.7-4.6-17.4z" fill="#60dbe6"/>
<path d="M2113.2 285.4l4.6 17.4-2.6 15.7-4.7-16.9z" fill="#61dce3"/>
<path d="M2110.5 301.6l4.7 16.9-2.7 15.8-4.6-16.5z" fill="#63dddf"/>
<path d="M2107.9 317.8l4.6 16.5-2.7 15.7-4.6-16z" fill="#64dedc"/>
<path d="M2105.2 334l4.6 16-2.6 15.7-4.6-15.5z" fill="#65dfd9"/>
<path d="M2102.6 350.2l4.6 15.5-2.7 15.7-4.6-15z" fill="#67e0d5"/>
<path d="M2099.9 366.4l4.6 15-2.7 15.7-4.6-14.5z" fill="#68e1d2"/>
<path d="M2097.2 382.6l4.6 14.5-2.6 15.8-4.6-14.1z" fill="#69e2ce"/>
<path d="M2123.2 271.4l4.6 18.4-2.7 15.2-4.6-17.9z" fill="#5edae3"/>
<path d="M2120.5 287.1l4.6 17.9-2.7 15.2-4.6-17.4z" fill="#5fdbe0"/>
<path d="M2117.8 302.8l4.6 17.4-2.6 15.3-4.6-17z" fill="#60dddd"/>
<path d="M2115.2 318.5l4.6 17-2.7 15.2-4.6-16.4z" fill="#62deda"/>
<path d="M2112.5 334.3l4.6 16.4-2.7 15.2-4.6-15.9z" fill="#63dfd6"/>
<path d="M2109.8 350l4.6 15.9-2.6 15.3-4.6-15.5z" fill="#65e0d3"/>
<path d="M2107.2 365.7l4.6 15.5-2.7 15.2-4.6-15z" fill="#66e1d0"/>
<path d="M2104.5 381.4l4.6 15-2.7 15.2-4.6-14.5z" fill="#67e2cd"/>
<path d="M2101.8 397.1l4.6 14.5-2.6 15.3-4.6-14z" fill="#69e3ca"/>
<path d="M2127.8 289.8l4.6 18.4-2.7 14.7-4.6-17.9z" fill="#5ddbdc"/>
<path d="M2125.1 305l4.6 17.9-2.7 14.8-4.6-17.5z" fill="#5edcd9"/>
<path d="M2122.4 320.2l4.6 17.5-2.6 14.7-4.6-16.9z" fill="#5fddd6"/>
<path d="M2119.8 335.5l4.6 16.9-2.7 14.8-4.6-16.5z" fill="#61ded4"/>
<path d="M2117.1 350.7l4.6 16.5-2.6 14.7-4.7-16z" fill="#62dfd1"/>
<path d="M2114.4 365.9l4.7 16-2.7 14.8-4.6-15.5z" fill="#64e0ce"/>
<path d="M2111.8 381.2l4.6 15.5-2.7 14.7-4.6-15z" fill="#65e1cb"/>
<path d="M2109.1 396.4l4.6 15-2.6 14.8-4.7-14.6z" fill="#67e3c8"/>
<path d="M2106.4 411.6l4.7 14.6-2.7 14.7-4.6-14z" fill="#68e4c5"/>
<path d="M2094.6 398.8l23.9-145.8 13.9 55.2" class="m"/>
<path d="M1895.4 697.5l13.8 9.3-12 6.2-13.8-9.1z" fill="#c9fea4"/>
<path d="M1883.4 703.9l13.8 9.1-11.9 6.2-13.9-8.9z" fill="#bdee94"/>
<path d="M1871.4 710.3l24-12.8 13.8 9.3" class="m"/>
<path d="M1672.4 735.4l13.8 5.7-12 4.5-13.8-5.8z" fill="#efc784"/>
<path d="M1660.4 739.8l13.8 5.8-12 4.4-13.8-5.8z" fill="#efc280"/>
<path d="M1648.4 744.2l24-8.8 13.8 5.7" class="m"/>
<path d="M1449.5 754l13.8 2.6-12-2.8-13.8-2z" fill="#7b3927"/>
<path d="M1437.5 751.8l13.8 2-12-2.7-13.8-1.5z" fill="#7e3927"/>
<path d="M1425.5 749.6l24 4.4 13.8 2.6" class="m"/>
<path d="M2056.8 486.2l6.9 13.5-4 14.7-6.9-13.1z" fill="#7ceabf"/>
<path d="M2052.8 501.3l6.9 13.1-4 14.6-6.9-12.6z" fill="#7fedbd"/>
<path d="M2048.8 516.4l6.9 12.6-4 14.6-6.9-12z" fill="#83f0bc"/>
<path d="M2044.8 531.6l6.9 12-4 14.7-6.9-11.6z" fill="#87f3ba"/>
<path d="M2040.8 546.7l6.9 11.6-4 14.6-6.9-11z" fill="#8bf6b9"/>
<path d="M2036.8 561.9l6.9 11-4 14.6-6.9-10.5z" fill="#8ff9b7"/>
<path d="M2063.7 499.7l6.9 13.6-4 14.1-6.9-13z" fill="#7cedbc"/>
<path d="M2059.7 514.4l6.9 13-4 14.1-6.9-12.5z" fill="#80f0ba"/>
<path d="M2055.7 529l6.9 12.5-4 14.2-6.9-12.1z" fill="#83f4b9"/>
<path d="M2051.7 543.6l6.9 12.1-4 14.1-6.9-11.5z" fill="#87f7b8"/>
<path d="M2047.7 558.3l6.9 11.5-4 14.1-6.9-11z" fill="#8cfab7"/>
<path d="M2043.7 572.9l6.9 11-4 14.1-6.9-10.5z" fill="#90feb6"/>
<path d="M2032.8 577l24-90.8 13.8 27.1" class="m"/>
<path d="M1833.6 711.6l13.9 6.9-12 2.5-13.8-6.7z" fill="#b7d281"/>
<path d="M1821.7 714.3l13.8 6.7-12 2.6-13.8-6.6z" fill="#b8ce7f"/>
<path d="M1809.7 717l23.9-5.4 13.9 6.9" class="m"/>
<path d="M1610.7 746.2l13.8 5.3-12 3.3-13.8-5.3z" fill="#f5b479"/>
<path d="M1598.7 749.5l13.8 5.3-12 3.3-13.8-5.4z" fill="#f8b378"/>
<path d="M1586.7 752.7l24-6.5 13.8 5.3" class="m"/>
<path d="M1387.8 742.5l13.8-1-8-15.5-13.8 2.6z" fill="#84342a"/>
<path d="M1379.8 728.6l13.8-2.6-8-15.4-13.8 4.1z" fill="#85342c"/>
<path d="M1371.8 714.7l13.8-4.1-8-15.5-13.8 5.6z" fill="#923a34"/>
<path d="M1363.8 700.7l24 41.8 13.8-1M1377.6 695.1l-13.8 5.6" class="m"/>
<path d="M1995 631.4l13.8 14.1-8 14.9-13.8-13.4z" fill="#c5ffcf"/>
<path d="M1987 647l13.8 13.4-8 14.8-13.8-12.7z" fill="#e5ffe7"/>
<path d="M1979 662.5l13.8 12.7-8 14.8-13.8-11.9z" fill="#fffffd"/>
<path d="M1971 678.1l24-46.7 13.8 14.1" class="m"/>
<path d="M1771.9 715.6l13.8 6-12 4.1-13.8-6.1z" fill="#cbce83"/>
<path d="M1759.9 719.6l13.8 6.1-11.9 4-13.9-6.1z" fill="#d6d487"/>
<path d="M1747.9 723.6l24-8 13.8 6" class="m"/>
<path d="M1549 753.8l13.8 4.7-12 2.4-13.8-4.7z" fill="#ffa773"/>
<path d="M1537 756.2l13.8 4.7-12 2.3-13.8-4.6z" fill="#ffa572"/>
<path d="M1525 758.6l24-4.8 13.8 4.7" class="m"/>
<path d="M1933.2 689.3l13.8 10.7-12 8.6-13.8-10.6z" fill="#e7ffce"/>
<path d="M1921.2 698l13.8 10.6-11.9 8.7-13.9-10.5z" fill="#d6ffb7"/>
<path d="M1909.2 706.8l24-17.5 13.8 10.7" class="m"/>
<path d="M1710.2 729.2l13.8 6-12 5.9-13.8-5.9z" fill="#eed68d"/>
<path d="M1698.2 735.2l13.8 5.9-12 6-13.8-6z" fill="#efd389"/>
<path d="M1686.2 741.1l24-11.9 13.8 6" class="m"/>
<path d="M1487.2 757.3l13.8 3.8-23.9-1.3-13.8-3.2z" fill="#f78f67"/>
<path d="M1463.3 756.6l23.9 .7 13.8 3.8" class="m"/>
<path d="M2094.6 398.8l4.6 14.1-3.5 15.8-4.6-13.5z" fill="#6be3cb"/>
<path d="M2091.1 415.2l4.6 13.5-3.4 15.9-4.6-13.1z" fill="#6de5c9"/>
<path d="M2087.7 431.5l4.6 13.1-3.4 15.9-4.6-12.6z" fill="#70e6c6"/>
<path d="M2084.3 447.9l4.6 12.6-3.4 15.8-4.6-12z" fill="#72e8c3"/>
<path d="M2080.9 464.3l4.6 12-3.5 15.9-4.6-11.6z" fill="#74eac0"/>
<path d="M2077.4 480.6l4.6 11.6-3.4 15.8-4.6-11z" fill="#77ecbd"/>
<path d="M2074 497l4.6 11-3.4 15.9-4.6-10.6z" fill="#79eebb"/>
<path d="M2099.2 412.9l4.6 14-3.4 15.4-4.7-13.6z" fill="#6be4c7"/>
<path d="M2095.7 428.7l4.7 13.6-3.5 15.3-4.6-13z" fill="#6de6c4"/>
<path d="M2092.3 444.6l4.6 13-3.4 15.4-4.6-12.5z" fill="#6fe8c2"/>
<path d="M2088.9 460.5l4.6 12.5-3.4 15.4-4.6-12.1z" fill="#72eabf"/>
<path d="M2085.5 476.3l4.6 12.1-3.4 15.4-4.7-11.6z" fill="#74ecbd"/>
<path d="M2082 492.2l4.7 11.6-3.5 15.3-4.6-11.1z" fill="#77eeba"/>
<path d="M2078.6 508l4.6 11.1-3.4 15.4-4.6-10.6z" fill="#79f0b8"/>
<path d="M2103.8 426.9l4.6 14-3.4 14.9-4.6-13.5z" fill="#6ae5c3"/>
<path d="M2100.4 442.3l4.6 13.5-3.5 14.9-4.6-13.1z" fill="#6ce7c0"/>
<path d="M2096.9 457.6l4.6 13.1-3.4 14.9-4.6-12.6z" fill="#6fe9be"/>
<path d="M2093.5 473l4.6 12.6-3.4 14.9-4.6-12.1z" fill="#71ebbc"/>
<path d="M2090.1 488.4l4.6 12.1-3.4 14.8-4.6-11.5z" fill="#74edb9"/>
<path d="M2086.7 503.8l4.6 11.5-3.5 14.9-4.6-11.1z" fill="#76efb7"/>
<path d="M2083.2 519.1l4.6 11.1-3.4 14.9-4.6-10.6z" fill="#79f1b5"/>
<path d="M2070.6 513.3l24-114.5 13.8 42.1" class="m"/>
<path d="M1871.4 710.3l13.9 8.9-12 3.8-13.8-8.6z" fill="#b7e389"/>
<path d="M1859.5 714.4l13.8 8.6-12 3.8-13.8-8.3z" fill="#b4db82"/>
<path d="M1847.5 718.5l23.9-8.2 13.9 8.9" class="m"/>
<path d="M1648.4 744.2l13.8 5.8-11.9 3.7-13.8-5.8z" fill="#f0bf7d"/>
<path d="M1636.5 747.9l13.8 5.8-12 3.6-13.8-5.8z" fill="#f2bd7a"/>
<path d="M1624.5 751.5l23.9-7.3 13.8 5.8" class="m"/>
<path d="M1425.5 749.6l13.8 1.5-11.9-4.8-13.8-.8z" fill="#803928"/>
<path d="M1413.6 745.5l13.8 .8-12-4.8-13.8 0z" fill="#823929"/>
<path d="M1401.6 741.5l23.9 8.1 13.8 1.5" class="m"/>
<path d="M2032.8 577l6.9 10.5-4.8 13.3-6.9-10.1z" fill="#94feb8"/>
<path d="M2028 590.7l6.9 10.1-4.8 13.2-6.9-9.6z" fill="#9cffba"/>
<path d="M2023.2 604.4l6.9 9.6-4.8 13.3-6.9-9.2z" fill="#a4ffbd"/>
<path d="M2018.4 618.1l6.9 9.2-4.8 13.2-6.9-8.7z" fill="#adffc0"/>
<path d="M2013.6 631.8l6.9 8.7-4.8 13.3-6.9-8.3z" fill="#b6ffc4"/>
<path d="M2039.7 587.5l6.9 10.5-4.8 12.8-6.9-10z" fill="#96ffb7"/>
<path d="M2034.9 600.8l6.9 10-4.8 12.8-6.9-9.6z" fill="#9effba"/>
<path d="M2030.1 614l6.9 9.6-4.8 12.8-6.9-9.1z" fill="#a7ffbe"/>
<path d="M2025.3 627.3l6.9 9.1-4.8 12.8-6.9-8.7z" fill="#b0ffc2"/>
<path d="M2020.5 640.5l6.9 8.7-4.8 12.8-6.9-8.2z" fill="#baffc6"/>
<path d="M2008.8 645.5l24-68.5 13.8 21" class="m"/>
<path d="M1809.7 717l13.8 6.6-12 2.2-13.8-6.5z" fill="#bcce7e"/>
<path d="M1797.7 719.3l13.8 6.5-12 2.2-13.8-6.4z" fill="#c2d180"/>
<path d="M1785.7 721.6l24-4.6 13.8 6.6" class="m"/>
<path d="M1586.7 752.7l13.8 5.4-12 2.8-13.8-5.3z" fill="#fab276"/>
<path d="M1574.7 755.6l13.8 5.3-11.9 2.9-13.8-5.3z" fill="#fcb075"/>
<path d="M1562.8 758.5l23.9-5.8 13.8 5.4" class="m"/>
<path d="M1971 678.1l13.8 11.9-12 11-13.8-11.9z" fill="#ffffff"/>
<path d="M1959 689.1l13.8 11.9-12 11-13.8-12z" fill="#fffff2"/>
<path d="M1947 700l24-21.9 13.8 11.9" class="m"/>
<path d="M1747.9 723.6l13.9 6.1-12 5.8-13.8-6.1z" fill="#e0da8b"/>
<path d="M1736 729.4l13.8 6.1-12 5.8-13.8-6.1z" fill="#e9de8e"/>
<path d="M1724 735.2l23.9-11.6 13.9 6.1" class="m"/>
<path d="M1525 758.6l13.8 4.6-12 1.2-13.8-4.5z" fill="#ffa26f"/>
<path d="M1513 759.9l13.8 4.5-12 1.1-13.8-4.4z" fill="#fc9d6c"/>
<path d="M1501 761.1l24-2.5 13.8 4.6" class="m"/>
<path d="M2132.4 308.2l4.6 21.4-3 15.9-4.6-20.7z" fill="#5cdad5"/>
<path d="M2129.4 324.8l4.6 20.7-3 15.9-4.6-20z" fill="#5ddcd2"/>
<path d="M2126.4 341.4l4.6 20-3 16-4.6-19.5z" fill="#5fddcf"/>
<path d="M2123.4 357.9l4.6 19.5-3 15.9-4.6-18.8z" fill="#61dfcc"/>
<path d="M2120.4 374.5l4.6 18.8-3 16-4.6-18.2z" fill="#62e0c9"/>
<path d="M2117.4 391.1l4.6 18.2-3 15.9-4.6-17.5z" fill="#64e2c6"/>
<path d="M2114.4 407.7l4.6 17.5-3 15.9-4.6-16.8z" fill="#66e3c3"/>
<path d="M2111.4 424.3l4.6 16.8-3 16-4.6-16.2z" fill="#67e4c0"/>
<path d="M2137 329.6l4.6 21.3-3 15.3-4.6-20.7z" fill="#5adacd"/>
<path d="M2134 345.5l4.6 20.7-3 15.3-4.6-20.1z" fill="#5cdbca"/>
<path d="M2131 361.4l4.6 20.1-3 15.3-4.6-19.4z" fill="#5eddc8"/>
<path d="M2128 377.4l4.6 19.4-3 15.3-4.6-18.8z" fill="#5fdec5"/>
<path d="M2125 393.3l4.6 18.8-3 15.3-4.6-18.1z" fill="#61e0c3"/>
<path d="M2122 409.3l4.6 18.1-3 15.3-4.6-17.5z" fill="#63e2c0"/>
<path d="M2119 425.2l4.6 17.5-3 15.3-4.6-16.9z" fill="#65e3bd"/>
<path d="M2116 441.1l4.6 16.9-3 15.3-4.6-16.2z" fill="#66e5bb"/>
<path d="M2141.6 350.9l4.6 21.4-3 14.7-4.6-20.8z" fill="#58d9c5"/>
<path d="M2138.6 366.2l4.6 20.8-3 14.6-4.6-20.1z" fill="#5adac3"/>
<path d="M2135.6 381.5l4.6 20.1-3 14.6-4.6-19.4z" fill="#5cdcc0"/>
<path d="M2132.6 396.8l4.6 19.4-3 14.7-4.6-18.8z" fill="#5edebe"/>
<path d="M2129.6 412.1l4.6 18.8-3 14.6-4.6-18.1z" fill="#60e0bc"/>
<path d="M2126.6 427.4l4.6 18.1-3 14.7-4.6-17.5z" fill="#62e1ba"/>
<path d="M2123.6 442.7l4.6 17.5-3 14.6-4.6-16.8z" fill="#64e3b7"/>
<path d="M2120.6 458l4.6 16.8-3 14.7-4.6-16.2z" fill="#65e5b5"/>
<path d="M2108.4 440.9l24-132.7 13.8 64.1" class="m"/>
<path d="M1909.2 706.8l13.9 10.5-12 6-13.9-10.3z" fill="#c6ffa1"/>
<path d="M1897.2 713l13.9 10.3-12 5.9-13.8-10z" fill="#b9f290"/>
<path d="M1885.3 719.2l23.9-12.4 13.9 10.5" class="m"/>
<path d="M1686.2 741.1l13.8 6-12 4.5-13.8-6z" fill="#efcf84"/>
<path d="M1674.2 745.6l13.8 6-12 4.5-13.8-6.1z" fill="#efcb80"/>
<path d="M1662.2 750l24-8.9 13.8 6" class="m"/>
<path d="M1463.3 756.6l13.8 3.2-12-3.2-13.8-2.8z" fill="#7b3d27"/>
<path d="M1451.3 753.8l13.8 2.8-12-3.2-13.8-2.3z" fill="#7e3d28"/>
<path d="M1439.3 751.1l24 5.5 13.8 3.2" class="m"/>
<path d="M2070.6 513.3l6.9 15.9-4 13.5-6.9-15.3z" fill="#7cf1b8"/>
<path d="M2066.6 527.4l6.9 15.3-4 13.5-6.9-14.7z" fill="#80f4b7"/>
<path d="M2062.6 541.5l6.9 14.7-4 13.5-6.9-14z" fill="#84f7b6"/>
<path d="M2058.6 555.7l6.9 14-4 13.5-6.9-13.4z" fill="#88fbb6"/>
<path d="M2054.6 569.8l6.9 13.4-4 13.5-6.9-12.8z" fill="#8dffb5"/>
<path d="M2050.6 583.9l6.9 12.8-4 13.5-6.9-12.2z" fill="#91ffb5"/>
<path d="M2077.5 529.2l6.9 15.9-4 12.9-6.9-15.3z" fill="#7cf4b4"/>
<path d="M2073.5 542.7l6.9 15.3-4 12.9-6.9-14.7z" fill="#80f7b4"/>
<path d="M2069.5 556.2l6.9 14.7-4 12.8-6.9-14z" fill="#85fbb3"/>
<path d="M2065.5 569.7l6.9 14-4 12.9-6.9-13.4z" fill="#89ffb3"/>
<path d="M2061.5 583.2l6.9 13.4-4 12.9-6.9-12.8z" fill="#8effb3"/>
<path d="M2057.5 596.7l6.9 12.8-4 12.8-6.9-12.1z" fill="#93ffb3"/>
<path d="M2046.6 598l24-84.7 13.8 31.8" class="m"/>
<path d="M1847.5 718.5l13.8 8.3-12 2.3-13.8-8.1z" fill="#b3d67e"/>
<path d="M1835.5 721l13.8 8.1-12 2.3-13.8-7.8z" fill="#b5d37c"/>
<path d="M1823.5 723.6l24-5.1 13.8 8.3" class="m"/>
<path d="M1624.5 751.5l13.8 5.8-12 3.2-13.8-5.7z" fill="#f4bc79"/>
<path d="M1612.5 754.8l13.8 5.7-12 3.3-13.8-5.7z" fill="#f7bb77"/>
<path d="M1600.5 758.1l24-6.6 13.8 5.8" class="m"/>
<path d="M1401.6 741.5l13.8 0-8-16.4-13.8 .9z" fill="#84392b"/>
<path d="M1393.6 726l13.8-.9-8-16.4-13.8 1.9z" fill="#8e3d31"/>
<path d="M1385.6 710.6l13.8-1.9-8-16.4-13.8 2.8z" fill="#9d433a"/>
<path d="M1377.6 695.1l24 46.4 13.8 0M1391.4 692.3l-13.8 2.8" class="m"/>
<path d="M2008.8 645.5l13.8 16.5-8 13.9-13.8-15.5z" fill="#cdffd4"/>
<path d="M2000.8 660.4l13.8 15.5-8 13.8-13.8-14.5z" fill="#edffed"/>
<path d="M1992.8 675.2l13.8 14.5-7.9 13.9-13.9-13.6z" fill="#ffffff"/>
<path d="M1984.8 690l24-44.5 13.8 16.5" class="m"/>
<path d="M1785.7 721.6l13.8 6.4-12 4-13.8-6.3z" fill="#cbd583"/>
<path d="M1773.7 725.7l13.8 6.3-11.9 4-13.8-6.3z" fill="#d6dc87"/>
<path d="M1761.8 729.7l23.9-8.1 13.8 6.4" class="m"/>
<path d="M1562.8 758.5l13.8 5.3-12 2.2-13.8-5.1z" fill="#feae73"/>
<path d="M1550.8 760.9l13.8 5.1-12 2.3-13.8-5.1z" fill="#feac71"/>
<path d="M1538.8 763.2l24-4.7 13.8 5.3" class="m"/>
<path d="M1947 700l13.8 12-11.9 8.4-13.9-11.8z" fill="#e5ffcb"/>
<path d="M1935 708.6l13.9 11.8-12 8.5-13.8-11.6z" fill="#d2ffb2"/>
<path d="M1923.1 717.3l23.9-17.3 13.8 12" class="m"/>
<path d="M1724 735.2l13.8 6.1-12 6-13.8-6.2z" fill="#eedf8d"/>
<path d="M1712 741.1l13.8 6.2-12 6-13.8-6.2z" fill="#efdc89"/>
<path d="M1700 747.1l24-11.9 13.8 6.1" class="m"/>
<path d="M1501 761.1l13.8 4.4-11.9-.9-13.8-4.1z" fill="#f79768"/>
<path d="M1489.1 760.5l13.8 4.1-12-.9-13.8-3.9z" fill="#ef9064"/>
<path d="M1477.1 759.8l23.9 1.3 13.8 4.4" class="m"/>
<path d="M2108.4 440.9l4.6 16.2-3.4 14.3-4.6-15.6z" fill="#69e6be"/>
<path d="M2105 455.8l4.6 15.6-3.4 14.3-4.7-15z" fill="#6ce8bc"/>
<path d="M2101.5 470.7l4.7 15-3.5 14.3-4.6-14.4z" fill="#6eeaba"/>
<path d="M2098.1 485.6l4.6 14.4-3.4 14.3-4.6-13.8z" fill="#71ecb8"/>
<path d="M2094.7 500.5l4.6 13.8-3.4 14.3-4.6-13.3z" fill="#73eeb6"/>
<path d="M2091.3 515.3l4.6 13.3-3.4 14.4-4.7-12.8z" fill="#76f1b4"/>
<path d="M2087.8 530.2l4.7 12.8-3.5 14.3-4.6-12.2z" fill="#79f3b2"/>
<path d="M2113 457.1l4.6 16.2-3.4 13.7-4.6-15.6z" fill="#69e7b8"/>
<path d="M2109.6 471.4l4.6 15.6-3.4 13.8-4.6-15.1z" fill="#6be9b7"/>
<path d="M2106.2 485.7l4.6 15.1-3.5 13.7-4.6-14.5z" fill="#6eebb5"/>
<path d="M2102.7 500l4.6 14.5-3.4 13.7-4.6-13.9z" fill="#70edb3"/>
<path d="M2099.3 514.3l4.6 13.9-3.4 13.8-4.6-13.4z" fill="#73efb1"/>
<path d="M2095.9 528.6l4.6 13.4-3.4 13.7-4.6-12.7z" fill="#76f2b0"/>
<path d="M2092.5 543l4.6 12.7-3.5 13.7-4.6-12.1z" fill="#79f4ae"/>
<path d="M2117.6 473.3l4.6 16.2-3.4 13.1-4.6-15.6z" fill="#68e7b3"/>
<path d="M2114.2 487l4.6 15.6-3.4 13.2-4.6-15z" fill="#6ae9b1"/>
<path d="M2110.8 500.8l4.6 15-3.4 13.2-4.7-14.5z" fill="#6debb0"/>
<path d="M2107.3 514.5l4.7 14.5-3.5 13.1-4.6-13.9z" fill="#6feeae"/>
<path d="M2103.9 528.2l4.6 13.9-3.4 13.2-4.6-13.3z" fill="#72f0ad"/>
<path d="M2100.5 542l4.6 13.3-3.4 13.1-4.6-12.7z" fill="#75f3ac"/>
<path d="M2097.1 555.7l4.6 12.7-3.5 13.2-4.6-12.2z" fill="#78f5aa"/>
<path d="M2084.4 545.1l24-104.2 13.8 48.6" class="m"/>
<path d="M1885.3 719.2l13.8 10-12 3.6-13.8-9.8z" fill="#b3e685"/>
<path d="M1873.3 723l13.8 9.8-12 3.5-13.8-9.5z" fill="#b0de7e"/>
<path d="M1861.3 726.8l24-7.6 13.8 10" class="m"/>
<path d="M1662.2 750l13.8 6.1-11.9 3.6-13.8-6z" fill="#efc77c"/>
<path d="M1650.3 753.7l13.8 6-12 3.7-13.8-6.1z" fill="#f1c57a"/>
<path d="M1638.3 757.3l23.9-7.3 13.8 6.1" class="m"/>
<path d="M1439.3 751.1l13.8 2.3-12-5.4-13.7-1.7z" fill="#803d29"/>
<path d="M1427.4 746.3l13.7 1.7-11.9-5.3-13.8-1.2z" fill="#823d2a"/>
<path d="M1415.4 741.5l23.9 9.6 13.8 2.3" class="m"/>
<path d="M2046.6 598l6.9 12.2-6 15.3-6.9-11.5z" fill="#99ffb7"/>
<path d="M2040.6 614l6.9 11.5-6 15.3-6.9-10.8z" fill="#a4ffbc"/>
<path d="M2034.6 630l6.9 10.8-6 15.2-6.9-10z" fill="#b0ffc1"/>
<path d="M2028.6 646l6.9 10-6 15.3-6.9-9.3z" fill="#bdffc8"/>
<path d="M2053.5 610.2l6.9 12.1-6 14.6-6.9-11.4z" fill="#9bffb6"/>
<path d="M2047.5 625.5l6.9 11.4-6 14.6-6.9-10.7z" fill="#a6ffbc"/>
<path d="M2041.5 640.8l6.9 10.7-5.9 14.6-7-10.1z" fill="#b3ffc2"/>
<path d="M2035.5 656l7 10.1-6 14.6-7-9.4z" fill="#c1ffca"/>
<path d="M2022.6 662l24-64 13.8 24.3" class="m"/>
<path d="M1823.5 723.6l13.8 7.8-12 2-13.8-7.6z" fill="#b9d37c"/>
<path d="M1811.5 725.8l13.8 7.6-12 2-13.8-7.4z" fill="#c0d67e"/>
<path d="M1799.5 728l24-4.4 13.8 7.8" class="m"/>
<path d="M1600.5 758.1l13.8 5.7-12 2.8-13.8-5.7z" fill="#f9b976"/>
<path d="M1588.5 760.9l13.8 5.7-11.9 2.8-13.8-5.6z" fill="#fbb875"/>
<path d="M1576.6 763.8l23.9-5.7 13.8 5.7" class="m"/>
<path d="M1984.8 690l13.9 13.6-12 10.8-13.9-13.4z" fill="#ffffff"/>
<path d="M1972.8 701l13.9 13.4-12 10.8-13.9-13.2z" fill="#ffffea"/>
<path d="M1960.8 712l24-22 13.9 13.6" class="m"/>
<path d="M1761.8 729.7l13.8 6.3-12 5.8-13.8-6.3z" fill="#e0e28b"/>
<path d="M1749.8 735.5l13.8 6.3-12 5.8-13.8-6.3z" fill="#e9e78e"/>
<path d="M1737.8 741.3l24-11.6 13.8 6.3" class="m"/>
<path d="M1538.8 763.2l13.8 5.1-12 1-13.8-4.9z" fill="#fda86f"/>
<path d="M1526.8 764.4l13.8 4.9-12 1.1-13.8-4.9z" fill="#faa36b"/>
<path d="M1514.8 765.5l24-2.3 13.8 5.1" class="m"/>
<path d="M2146.2 372.3l4.6 24.4-3.4 15.8-4.6-23.5z" fill="#57d7bc"/>
<path d="M2142.8 389l4.6 23.5-3.4 15.9-4.6-22.6z" fill="#59d9ba"/>
<path d="M2139.4 405.8l4.6 22.6-3.5 15.9-4.6-21.8z" fill="#5bdbb8"/>
<path d="M2135.9 422.5l4.6 21.8-3.4 15.9-4.6-20.9z" fill="#5ddeb6"/>
<path d="M2132.5 439.3l4.6 20.9-3.4 15.9-4.6-20.1z" fill="#5fe0b3"/>
<path d="M2129.1 456l4.6 20.1-3.4 15.9-4.6-19.3z" fill="#62e2b1"/>
<path d="M2125.7 472.7l4.6 19.3-3.5 15.8-4.6-18.3z" fill="#64e4af"/>
<path d="M2150.8 396.7l4.6 24.3-3.4 15-4.6-23.5z" fill="#55d5b2"/>
<path d="M2147.4 412.5l4.6 23.5-3.4 15.1-4.6-22.7z" fill="#57d7b1"/>
<path d="M2144 428.4l4.6 22.7-3.4 15-4.7-21.8z" fill="#59d9af"/>
<path d="M2140.5 444.3l4.7 21.8-3.5 15-4.6-20.9z" fill="#5bdcad"/>
<path d="M2137.1 460.2l4.6 20.9-3.4 15.1-4.6-20.1z" fill="#5ddeab"/>
<path d="M2133.7 476.1l4.6 20.1-3.4 15-4.6-19.2z" fill="#60e1aa"/>
<path d="M2130.3 492l4.6 19.2-3.4 15-4.7-18.4z" fill="#62e3a8"/>
<path d="M2155.4 421l4.6 24.3-3.4 14.2-4.6-23.5z" fill="#52d2a9"/>
<path d="M2152 436l4.6 23.5-3.4 14.2-4.6-22.6z" fill="#54d5a8"/>
<path d="M2148.6 451.1l4.6 22.6-3.4 14.2-4.6-21.8z" fill="#57d7a6"/>
<path d="M2145.2 466.1l4.6 21.8-3.5 14.2-4.6-21z" fill="#59daa5"/>
<path d="M2141.7 481.1l4.6 21-3.4 14.1-4.6-20z" fill="#5bdca3"/>
<path d="M2138.3 496.2l4.6 20-3.4 14.2-4.6-19.2z" fill="#5edfa2"/>
<path d="M2134.9 511.2l4.6 19.2-3.4 14.2-4.6-18.4z" fill="#60e1a0"/>
<path d="M2122.2 489.5l24-117.2 13.8 73" class="m"/>
<path d="M1923.1 717.3l13.8 11.6-12 5.7-13.8-11.3z" fill="#c1ff9b"/>
<path d="M1911.1 723.3l13.8 11.3-12 5.7-13.8-11.1z" fill="#b5f58b"/>
<path d="M1899.1 729.2l24-11.9 13.8 11.6" class="m"/>
<path d="M1700 747.1l13.8 6.2-12 4.5-13.8-6.2z" fill="#efd884"/>
<path d="M1688 751.6l13.8 6.2-12 4.4-13.8-6.1z" fill="#efd380"/>
<path d="M1676 756.1l24-9 13.8 6.2" class="m"/>
<path d="M1477.1 759.8l13.8 3.9-12-3.6-13.8-3.5z" fill="#7b4128"/>
<path d="M1465.1 756.6l13.8 3.5-12-3.6-13.8-3.1z" fill="#7e4128"/>
<path d="M1453.1 753.4l24 6.4 13.8 3.9" class="m"/>
<path d="M2084.4 545.1l6.9 18.2-4.8 14.6-6.9-17.3z" fill="#7df7b0"/>
<path d="M2079.6 560.6l6.9 17.3-4.8 14.6-6.9-16.5z" fill="#82fbb0"/>
<path d="M2074.8 576l6.9 16.5-4.8 14.5-6.9-15.6z" fill="#87ffb0"/>
<path d="M2070 591.4l6.9 15.6-4.8 14.6-6.9-14.7z" fill="#8dffb1"/>
<path d="M2065.2 606.9l6.9 14.7-4.7 14.5-7-13.8z" fill="#94ffb1"/>
<path d="M2091.3 563.3l6.9 18.3-4.7 13.7-7-17.4z" fill="#7cf9ab"/>
<path d="M2086.5 577.9l7 17.4-4.8 13.6-7-16.4z" fill="#82feab"/>
<path d="M2081.7 592.5l7 16.4-4.8 13.7-7-15.6z" fill="#88ffac"/>
<path d="M2076.9 607l7 15.6-4.8 13.7-7-14.7z" fill="#8effad"/>
<path d="M2072.1 621.6l7 14.7-4.8 13.6-6.9-13.8z" fill="#95ffaf"/>
<path d="M2060.4 622.3l24-77.2 13.8 36.5" class="m"/>
<path d="M1861.3 726.8l13.8 9.5-12 2-13.8-9.2z" fill="#afd97a"/>
<path d="M1849.3 729.1l13.8 9.2-12 2-13.8-8.9z" fill="#b1d678"/>
<path d="M1837.3 731.4l24-4.6 13.8 9.5" class="m"/>
<path d="M1638.3 757.3l13.8 6.1-12 3.2-13.8-6.1z" fill="#f3c478"/>
<path d="M1626.3 760.5l13.8 6.1-12 3.2-13.8-6z" fill="#f6c277"/>
<path d="M1614.3 763.8l24-6.5 13.8 6.1" class="m"/>
<path d="M1415.4 741.5l13.8 1.2-6-12.7-13.8-.8z" fill="#843d2c"/>
<path d="M1409.4 729.2l13.8 .8-6-12.8-13.8-.3z" fill="#8f4232"/>
<path d="M1403.4 716.9l13.8 .3-6-12.7-13.8 .1z" fill="#9a4839"/>
<path d="M1397.4 704.6l13.8-.1-6-12.7-13.8 .5z" fill="#a54c3f"/>
<path d="M1391.4 692.3l24 49.2 13.8 1.2M1405.2 691.8l-13.8 .5" class="m"/>
<path d="M2022.6 662l13.9 18.7-8 12.7-13.9-17.5z" fill="#d5ffd9"/>
<path d="M2014.6 675.9l13.9 17.5-8 12.7-13.9-16.4z" fill="#f3fff0"/>
<path d="M2006.6 689.7l13.9 16.4-8 12.7-13.8-15.2z" fill="#ffffff"/>
<path d="M1998.7 703.6l23.9-41.6 13.9 18.7" class="m"/>
<path d="M1799.5 728l13.8 7.4-11.9 3.9-13.9-7.3z" fill="#c9db81"/>
<path d="M1787.5 732l13.9 7.3-12 3.8-13.8-7.1z" fill="#d4e386"/>
<path d="M1775.6 736l23.9-8 13.8 7.4" class="m"/>
<path d="M1576.6 763.8l13.8 5.6-12 2.2-13.8-5.6z" fill="#fcb673"/>
<path d="M1564.6 766l13.8 5.6-12 2.2-13.8-5.5z" fill="#fdb371"/>
<path d="M1552.6 768.3l24-4.5 13.8 5.6" class="m"/>
<path d="M1960.8 712l13.9 13.2-12 8.1-13.8-12.9z" fill="#dfffc3"/>
<path d="M1948.9 720.4l13.8 12.9-12 8.1-13.8-12.5z" fill="#cbffa9"/>
<path d="M1936.9 728.9l23.9-16.9 13.9 13.2" class="m"/>
<path d="M1737.8 741.3l13.8 6.3-12 6-13.8-6.3z" fill="#eee88d"/>
<path d="M1725.8 747.3l13.8 6.3-12 6-13.8-6.3z" fill="#efe489"/>
<path d="M1713.8 753.3l24-12 13.8 6.3" class="m"/>
<path d="M1514.8 765.5l13.8 4.9-12-1.1-13.7-4.7z" fill="#f49d67"/>
<path d="M1502.9 764.6l13.7 4.7-11.9-1-13.8-4.6z" fill="#ec9562"/>
<path d="M1490.9 763.7l23.9 1.8 13.8 4.9" class="m"/>
<path d="M2122.2 489.5l4.6 18.3-4 14.6-4.6-17.6z" fill="#67e7ad"/>
<path d="M2118.2 504.8l4.6 17.6-4 14.6-4.6-16.8z" fill="#6ae9ab"/>
<path d="M2114.2 520.2l4.6 16.8-3.9 14.6-4.7-16.1z" fill="#6decaa"/>
<path d="M2110.2 535.5l4.7 16.1-4 14.5-4.7-15.2z" fill="#70efa8"/>
<path d="M2106.2 550.9l4.7 15.2-4 14.6-4.7-14.5z" fill="#73f2a7"/>
<path d="M2102.2 566.2l4.7 14.5-4 14.6-4.7-13.7z" fill="#77f5a6"/>
<path d="M2126.8 507.8l4.7 18.4-4 13.8-4.7-17.6z" fill="#65e5a6"/>
<path d="M2122.8 522.4l4.7 17.6-4 13.8-4.7-16.8z" fill="#68e8a5"/>
<path d="M2118.8 537l4.7 16.8-4 13.8-4.6-16z" fill="#6beba4"/>
<path d="M2114.9 551.6l4.6 16-4 13.8-4.6-15.3z" fill="#6eefa3"/>
<path d="M2110.9 566.1l4.6 15.3-4 13.8-4.6-14.5z" fill="#72f2a2"/>
<path d="M2106.9 580.7l4.6 14.5-4 13.8-4.6-13.7z" fill="#76f5a1"/>
<path d="M2131.5 526.2l4.6 18.4-4 13-4.6-17.6z" fill="#63e49f"/>
<path d="M2127.5 540l4.6 17.6-4 13-4.6-16.8z" fill="#66e79e"/>
<path d="M2123.5 553.8l4.6 16.8-4 13-4.6-16z" fill="#69ea9d"/>
<path d="M2119.5 567.6l4.6 16-4 13.1-4.6-15.3z" fill="#6ded9d"/>
<path d="M2115.5 581.4l4.6 15.3-4 13-4.6-14.5z" fill="#70f19c"/>
<path d="M2111.5 595.2l4.6 14.5-4 13-4.6-13.7z" fill="#74f49b"/>
<path d="M2098.2 581.6l24-92.1 13.9 55.1" class="m"/>
<path d="M1899.1 729.2l13.8 11.1-12 3.2-13.8-10.7z" fill="#afe980"/>
<path d="M1887.1 732.8l13.8 10.7-12 3.3-13.8-10.5z" fill="#ace17a"/>
<path d="M1875.1 736.3l24-7.1 13.8 11.1" class="m"/>
<path d="M1676 756.1l13.8 6.1-11.9 3.7-13.8-6.2z" fill="#efd07c"/>
<path d="M1664.1 759.7l13.8 6.2-12 3.7-13.8-6.2z" fill="#f1cd7a"/>
<path d="M1652.1 763.4l23.9-7.3 13.8 6.1" class="m"/>
<path d="M1453.1 753.4l13.8 3.1-12-5.8-13.8-2.7z" fill="#804129"/>
<path d="M1441.1 748l13.8 2.7-11.9-5.7-13.8-2.3z" fill="#82412b"/>
<path d="M1429.2 742.7l23.9 10.7 13.8 3.1" class="m"/>
<path d="M2060.4 622.3l7 13.8-6 13.8-7-13z" fill="#9dffb5"/>
<path d="M2054.4 636.9l7 13-6 13.8-7-12.2z" fill="#a9ffbc"/>
<path d="M2048.4 651.5l7 12.2-6 13.7-6.9-11.3z" fill="#b6ffc3"/>
<path d="M2042.5 666.1l6.9 11.3-6 13.8-6.9-10.5z" fill="#c5ffcb"/>
<path d="M2067.4 636.1l6.9 13.8-6 13-6.9-13z" fill="#9effb3"/>
<path d="M2061.4 649.9l6.9 13-6 12.9-6.9-12.1z" fill="#abffbb"/>
<path d="M2055.4 663.7l6.9 12.1-6 13-6.9-11.4z" fill="#b9ffc3"/>
<path d="M2049.4 677.4l6.9 11.4-6 12.9-6.9-10.5z" fill="#c8ffcc"/>
<path d="M2036.5 680.7l23.9-58.4 13.9 27.6" class="m"/>
<path d="M1837.3 731.4l13.8 8.9-12 1.7-13.8-8.6z" fill="#b5d779"/>
<path d="M1825.3 733.4l13.8 8.6-11.9 1.7-13.9-8.3z" fill="#bdda7b"/>
<path d="M1813.3 735.4l24-4 13.8 8.9" class="m"/>
<path d="M1614.3 763.8l13.8 6-12 2.8-13.8-6z" fill="#f8c176"/>
<path d="M1602.3 766.6l13.8 6-11.9 2.8-13.8-6z" fill="#fabf74"/>
<path d="M1590.4 769.4l23.9-5.6 13.8 6" class="m"/>
<path d="M1998.7 703.6l13.8 15.2-12 10.4-13.8-14.8z" fill="#fffffe"/>
<path d="M1986.7 714.4l13.8 14.8-12 10.4-13.8-14.4z" fill="#f3ffdc"/>
<path d="M1974.7 725.2l24-21.6 13.8 15.2" class="m"/>
<path d="M1775.6 736l13.8 7.1-12 5.8-13.8-7.1z" fill="#dfe98a"/>
<path d="M1763.6 741.8l13.8 7.1-12 5.7-13.8-7z" fill="#e8ef8d"/>
<path d="M1751.6 747.6l24-11.6 13.8 7.1" class="m"/>
<path d="M1552.6 768.3l13.8 5.5-12 1-13.8-5.5z" fill="#fbaf6e"/>
<path d="M1540.6 769.3l13.8 5.5-12 1-13.8-5.4z" fill="#f8a96b"/>
<path d="M1528.6 770.4l24-2.1 13.8 5.5" class="m"/>
<path d="M2160 445.3l4.7 27.4-4 15.4-4.6-26.2z" fill="#50cf9f"/>
<path d="M2156.1 461.9l4.6 26.2-4 15.4-4.6-25.1z" fill="#52d29d"/>
<path d="M2152.1 478.4l4.6 25.1-4 15.4-4.6-23.9z" fill="#55d59c"/>
<path d="M2148.1 495l4.6 23.9-4 15.4-4.6-22.8z" fill="#58d89b"/>
<path d="M2144.1 511.5l4.6 22.8-4 15.4-4.6-21.7z" fill="#5adb9a"/>
<path d="M2140.1 528l4.6 21.7-4 15.4-4.6-20.5z" fill="#5dde98"/>
<path d="M2164.7 472.7l4.6 27.3-4 14.3-4.6-26.2z" fill="#4cca94"/>
<path d="M2160.7 488.1l4.6 26.2-4 14.3-4.6-25.1z" fill="#4fcd93"/>
<path d="M2156.7 503.5l4.6 25.1-4 14.2-4.6-23.9z" fill="#52d192"/>
<path d="M2152.7 518.9l4.6 23.9-4 14.3-4.6-22.8z" fill="#54d491"/>
<path d="M2148.7 534.3l4.6 22.8-4 14.3-4.6-21.7z" fill="#57d790"/>
<path d="M2144.7 549.7l4.6 21.7-4 14.3-4.6-20.6z" fill="#5adb8f"/>
<path d="M2169.3 500l4.6 27.3-4 13.2-4.6-26.2z" fill="#49c589"/>
<path d="M2165.3 514.3l4.6 26.2-4 13.1-4.6-25z" fill="#4cc988"/>
<path d="M2161.3 528.6l4.6 25-4 13.2-4.6-24z" fill="#4ecc88"/>
<path d="M2157.3 542.8l4.6 24-4 13.1-4.6-22.8z" fill="#51cf87"/>
<path d="M2153.3 557.1l4.6 22.8-4 13.2-4.6-21.7z" fill="#54d387"/>
<path d="M2149.3 571.4l4.6 21.7-4 13.1-4.6-20.5z" fill="#57d686"/>
<path d="M2136.1 544.6l23.9-99.3 13.9 82" class="m"/>
<path d="M1936.9 728.9l13.8 12.5-12 5.4-13.8-12.2z" fill="#bbff94"/>
<path d="M1924.9 734.6l13.8 12.2-12 5.4-13.8-11.9z" fill="#b0f785"/>
<path d="M1912.9 740.3l24-11.4 13.8 12.5" class="m"/>
<path d="M1713.8 753.3l13.8 6.3-12 4.4-13.8-6.2z" fill="#efe084"/>
<path d="M1701.8 757.8l13.8 6.2-11.9 4.5-13.9-6.3z" fill="#eedb80"/>
<path d="M1689.8 762.2l24-8.9 13.8 6.3" class="m"/>
<path d="M1490.9 763.7l13.8 4.6-12-3.9-13.8-4.3z" fill="#7b4528"/>
<path d="M1478.9 760.1l13.8 4.3-12-4-13.8-3.9z" fill="#7e4529"/>
<path d="M1466.9 756.5l24 7.2 13.8 4.6" class="m"/>
<path d="M2098.2 581.6l4.7 13.7-4.8 13-4.6-13z" fill="#7bfaa6"/>
<path d="M2093.5 595.3l4.6 13-4.8 13-4.6-12.4z" fill="#81ffa7"/>
<path d="M2088.7 608.9l4.6 12.4-4.8 12.9-4.6-11.6z" fill="#87ffa8"/>
<path d="M2083.9 622.6l4.6 11.6-4.8 13-4.6-10.9z" fill="#8effaa"/>
<path d="M2079.1 636.3l4.6 10.9-4.8 13-4.6-10.3z" fill="#95ffac"/>
<path d="M2102.9 595.3l4.6 13.7-4.8 12.3-4.6-13z" fill="#7afaa1"/>
<path d="M2098.1 608.3l4.6 13-4.8 12.3-4.6-12.3z" fill="#80ffa3"/>
<path d="M2093.3 621.3l4.6 12.3-4.8 12.3-4.6-11.7z" fill="#87ffa4"/>
<path d="M2088.5 634.2l4.6 11.7-4.8 12.3-4.6-11z" fill="#8dffa7"/>
<path d="M2083.7 647.2l4.6 11-4.8 12.3-4.6-10.3z" fill="#95ffa9"/>
<path d="M2107.5 609l4.6 13.7-4.8 11.6-4.6-13z" fill="#79f99c"/>
<path d="M2102.7 621.3l4.6 13-4.8 11.7-4.6-12.4z" fill="#7fff9e"/>
<path d="M2097.9 633.6l4.6 12.4-4.8 11.6-4.6-11.7z" fill="#85ffa0"/>
<path d="M2093.1 645.9l4.6 11.7-4.8 11.6-4.6-11z" fill="#8cffa2"/>
<path d="M2088.3 658.2l4.6 11-4.8 11.6-4.6-10.3z" fill="#93ffa5"/>
<path d="M2074.3 649.9l23.9-68.3 13.9 41.1" class="m"/>
<path d="M1875.1 736.3l13.8 10.5-12 1.7-13.8-10.2z" fill="#acdc76"/>
<path d="M1863.1 738.3l13.8 10.2-11.9 1.6-13.9-9.8z" fill="#add975"/>
<path d="M1851.1 740.3l24-4 13.8 10.5" class="m"/>
<path d="M1652.1 763.4l13.8 6.2-12 3.2-13.8-6.2z" fill="#f3cc78"/>
<path d="M1640.1 766.6l13.8 6.2-12 3.2-13.8-6.2z" fill="#f5ca77"/>
<path d="M1628.1 769.8l24-6.4 13.8 6.2" class="m"/>
<path d="M1429.2 742.7l13.8 2.3-6-13-13.8-2z" fill="#89442f"/>
<path d="M1423.2 730l13.8 2-6-13-13.8-1.8z" fill="#944a35"/>
<path d="M1417.2 717.2l13.8 1.8-6-13-13.8-1.5z" fill="#9e4f3b"/>
<path d="M1411.2 704.5l13.8 1.5-6-12.9-13.8-1.3z" fill="#a95442"/>
<path d="M1405.2 691.8l24 50.9 13.8 2.3M1419 693.1l-13.8-1.3" class="m"/>
<path d="M2036.5 680.7l6.9 10.5-8 12-6.9-9.8z" fill="#dbffdb"/>
<path d="M2028.5 693.4l6.9 9.8-8 12-6.9-9.1z" fill="#f5ffef"/>
<path d="M2020.5 706.1l6.9 9.1-8 12-6.9-8.4z" fill="#fffff9"/>
<path d="M2043.4 691.2l6.9 10.5-8 11.3-6.9-9.8z" fill="#dcffdb"/>
<path d="M2035.4 703.2l6.9 9.8-8 11.3-6.9-9.1z" fill="#f3ffec"/>
<path d="M2027.4 715.2l6.9 9.1-8 11.4-6.9-8.5z" fill="#fffff2"/>
<path d="M2012.5 718.8l24-38.1 13.8 21" class="m"/>
<path d="M1813.3 735.4l13.9 8.3-12 3.7-13.8-8.1z" fill="#c6e07e"/>
<path d="M1801.4 739.3l13.8 8.1-12 3.7-13.8-8z" fill="#d2e884"/>
<path d="M1789.4 743.1l23.9-7.7 13.9 8.3" class="m"/>
<path d="M1590.4 769.4l13.8 6-12 2.2-13.8-6z" fill="#fbbd72"/>
<path d="M1578.4 771.6l13.8 6-12 2.1-13.8-5.9z" fill="#fcba70"/>
<path d="M1566.4 773.8l24-4.4 13.8 6" class="m"/>
<path d="M1974.7 725.2l13.8 14.4-12 7.7-13.8-14z" fill="#d5ffb7"/>
<path d="M1962.7 733.3l13.8 14-12 7.6-13.8-13.5z" fill="#c2ff9f"/>
<path d="M1950.7 741.4l24-16.2 13.8 14.4" class="m"/>
<path d="M1751.6 747.6l13.8 7-12 5.9-13.8-6.9z" fill="#eef08d"/>
<path d="M1739.6 753.6l13.8 6.9-12 6-13.8-6.9z" fill="#efec89"/>
<path d="M1727.6 759.6l24-12 13.8 7" class="m"/>
<path d="M1528.6 770.4l13.8 5.4-12-1.2-13.8-5.3z" fill="#f1a266"/>
<path d="M1516.6 769.3l13.8 5.3-11.9-1.2-13.8-5.1z" fill="#e89a61"/>
<path d="M1504.7 768.3l23.9 2.1 13.8 5.4" class="m"/>
<path d="M2136.1 544.6l4.6 20.5-4.8 14.6-4.6-19.5z" fill="#61e297"/>
<path d="M2131.3 560.2l4.6 19.5-4.8 14.6-4.6-18.5z" fill="#64e696"/>
<path d="M2126.5 575.8l4.6 18.5-4.8 14.5-4.6-17.3z" fill="#68ea96"/>
<path d="M2121.7 591.5l4.6 17.3-4.8 14.6-4.6-16.3z" fill="#6dee95"/>
<path d="M2116.9 607.1l4.6 16.3-4.8 14.6-4.6-15.3z" fill="#71f295"/>
<path d="M2140.7 565.1l4.6 20.6-4.8 13.5-4.6-19.5z" fill="#5ede8e"/>
<path d="M2135.9 579.7l4.6 19.5-4.8 13.5-4.6-18.4z" fill="#61e28e"/>
<path d="M2131.1 594.3l4.6 18.4-4.8 13.5-4.6-17.4z" fill="#65e68e"/>
<path d="M2126.3 608.8l4.6 17.4-4.8 13.5-4.6-16.3z" fill="#69ea8d"/>
<path d="M2121.5 623.4l4.6 16.3-4.8 13.5-4.6-15.2z" fill="#6eef8d"/>
<path d="M2145.3 585.7l4.6 20.5-4.8 12.5-4.6-19.5z" fill="#5ada86"/>
<path d="M2140.5 599.2l4.6 19.5-4.8 12.4-4.6-18.4z" fill="#5ede85"/>
<path d="M2135.7 612.7l4.6 18.4-4.8 12.5-4.6-17.4z" fill="#62e285"/>
<path d="M2130.9 626.2l4.6 17.4-4.8 12.4-4.6-16.3z" fill="#66e685"/>
<path d="M2126.1 639.7l4.6 16.3-4.8 12.5-4.6-15.3z" fill="#6aea85"/>
<path d="M2112.1 622.7l24-78.1 13.8 61.6" class="m"/>
<path d="M1912.9 740.3l13.8 11.9-12 3-13.8-11.7z" fill="#abec7c"/>
<path d="M1900.9 743.5l13.8 11.7-12 2.9-13.8-11.3z" fill="#a8e476"/>
<path d="M1888.9 746.8l24-6.5 13.8 11.9" class="m"/>
<path d="M1689.8 762.2l13.9 6.3-12 3.6-13.8-6.2z" fill="#efd87c"/>
<path d="M1677.9 765.9l13.8 6.2-12 3.7-13.8-6.2z" fill="#f1d57a"/>
<path d="M1665.9 769.6l23.9-7.4 13.9 6.3" class="m"/>
<path d="M1466.9 756.5l13.8 3.9-12-6.1-13.8-3.6z" fill="#80452a"/>
<path d="M1454.9 750.7l13.8 3.6-12-6.1-13.7-3.2z" fill="#82452b"/>
<path d="M1443 745l23.9 11.5 13.8 3.9" class="m"/>
<path d="M2074.3 649.9l6.9 15.5-6 12-6.9-14.5z" fill="#9fffb0"/>
<path d="M2068.3 662.9l6.9 14.5-6 12-6.9-13.6z" fill="#acffb9"/>
<path d="M2062.3 675.8l6.9 13.6-6 12-6.9-12.6z" fill="#baffc1"/>
<path d="M2056.3 688.8l6.9 12.6-6 11.9-6.9-11.6z" fill="#c9ffca"/>
<path d="M2081.2 665.4l6.9 15.4-6 11.1-6.9-14.5z" fill="#9effac"/>
<path d="M2075.2 677.4l6.9 14.5-6 11-6.9-13.5z" fill="#abffb4"/>
<path d="M2069.2 689.4l6.9 13.5-6 11-6.9-12.5z" fill="#b9ffbd"/>
<path d="M2063.2 701.4l6.9 12.5-6 11.1-6.9-11.7z" fill="#c6ffc6"/>
<path d="M2050.3 701.7l24-51.8 13.8 30.9" class="m"/>
<path d="M1851.1 740.3l13.9 9.8-12 1.5-13.9-9.6z" fill="#b1da75"/>
<path d="M1839.1 742l13.9 9.6-12 1.4-13.8-9.3z" fill="#b9de78"/>
<path d="M1827.2 743.7l23.9-3.4 13.9 9.8" class="m"/>
<path d="M1628.1 769.8l13.8 6.2-12 2.8-13.8-6.2z" fill="#f8c975"/>
<path d="M1616.1 772.6l13.8 6.2-11.9 2.7-13.8-6.1z" fill="#fac774"/>
<path d="M1604.2 775.4l23.9-5.6 13.8 6.2" class="m"/>
<path d="M2012.5 718.8l13.8 16.9-12 9.7-13.8-16.2z" fill="#feffeb"/>
<path d="M2000.5 729.2l13.8 16.2-12 9.8-13.8-15.6z" fill="#e2ffc8"/>
<path d="M1988.5 739.6l24-20.8 13.8 16.9" class="m"/>
<path d="M1789.4 743.1l13.8 8-12 5.6-13.8-7.8z" fill="#ddf088"/>
<path d="M1777.4 748.9l13.8 7.8-12 5.5-13.8-7.6z" fill="#e7f68c"/>
<path d="M1765.4 754.6l24-11.5 13.8 8" class="m"/>
<path d="M1566.4 773.8l13.8 5.9-12 .9-13.8-5.8z" fill="#fab66e"/>
<path d="M1554.4 774.8l13.8 5.8-12 .9-13.8-5.7z" fill="#f6b06a"/>
<path d="M1542.4 775.8l24-2 13.8 5.9" class="m"/>
<path d="M2173.9 527.3l4.6 30.3-4.8 14.3-4.6-28.8z" fill="#46c07d"/>
<path d="M2169.1 543.1l4.6 28.8-4.8 14.2-4.6-27.2z" fill="#49c47d"/>
<path d="M2164.3 558.9l4.6 27.2-4.8 14.3-4.6-25.7z" fill="#4cc87d"/>
<path d="M2159.5 574.7l4.6 25.7-4.8 14.3-4.6-24.3z" fill="#4fcc7d"/>
<path d="M2154.7 590.4l4.6 24.3-4.8 14.2-4.6-22.7z" fill="#53d17c"/>
<path d="M2178.5 557.6l4.6 30.3-4.8 12.7-4.6-28.7z" fill="#42b871"/>
<path d="M2173.7 571.9l4.6 28.7-4.8 12.8-4.6-27.3z" fill="#45bd71"/>
<path d="M2168.9 586.1l4.6 27.3-4.8 12.8-4.6-25.8z" fill="#48c171"/>
<path d="M2164.1 600.4l4.6 25.8-4.8 12.7-4.6-24.2z" fill="#4bc571"/>
<path d="M2159.3 614.7l4.6 24.2-4.8 12.8-4.6-22.8z" fill="#4eca71"/>
<path d="M2183.1 587.9l4.6 30.3-4.8 11.2-4.6-28.8z" fill="#3eb166"/>
<path d="M2178.3 600.6l4.6 28.8-4.8 11.3-4.6-27.3z" fill="#41b566"/>
<path d="M2173.5 613.4l4.6 27.3-4.8 11.2-4.6-25.7z" fill="#44ba67"/>
<path d="M2168.7 626.2l4.6 25.7-4.8 11.2-4.6-24.2z" fill="#47be67"/>
<path d="M2163.9 638.9l4.6 24.2-4.8 11.3-4.6-22.7z" fill="#4ac267"/>
<path d="M2149.9 606.2l24-78.9 13.8 90.9" class="m"/>
<path d="M1950.7 741.4l13.8 13.5-12 5-13.8-13.1z" fill="#b4ff8c"/>
<path d="M1938.7 746.8l13.8 13.1-12 5-13.8-12.7z" fill="#abf97e"/>
<path d="M1926.7 752.2l24-10.8 13.8 13.5" class="m"/>
<path d="M1727.6 759.6l13.8 6.9-12 4.4-13.8-6.9z" fill="#eee884"/>
<path d="M1715.6 764l13.8 6.9-11.9 4.4-13.8-6.8z" fill="#ede37f"/>
<path d="M1703.7 768.5l23.9-8.9 13.8 6.9" class="m"/>
<path d="M1504.7 768.3l13.8 5.1-12-4.2-13.8-4.8z" fill="#df915d"/>
<path d="M1492.7 764.4l13.8 4.8-12-4.1-13.8-4.7z" fill="#d58858"/>
<path d="M1480.7 760.4l24 7.9 13.8 5.1" class="m"/>
<path d="M2112.1 622.7l4.6 15.3-6 13.5-4.6-14.3z" fill="#77f896"/>
<path d="M2106.1 637.2l4.6 14.3-6 13.6-4.6-13.3z" fill="#7eff99"/>
<path d="M2100.1 651.8l4.6 13.3-6 13.6-4.6-12.4z" fill="#87ff9c"/>
<path d="M2094.1 666.3l4.6 12.4-6 13.5-4.6-11.4z" fill="#90ff9f"/>
<path d="M2116.7 638l4.6 15.2-6 12.6-4.6-14.3z" fill="#73f48f"/>
<path d="M2110.7 651.5l4.6 14.3-6 12.6-4.6-13.3z" fill="#7bfc91"/>
<path d="M2104.7 665.1l4.6 13.3-6 12.6-4.6-12.3z" fill="#83ff95"/>
<path d="M2098.7 678.7l4.6 12.3-6 12.6-4.6-11.4z" fill="#8cff98"/>
<path d="M2121.3 653.2l4.6 15.3-6 11.6-4.6-14.3z" fill="#6ff087"/>
<path d="M2115.3 665.8l4.6 14.3-6 11.7-4.6-13.4z" fill="#76f789"/>
<path d="M2109.3 678.4l4.6 13.4-6 11.6-4.6-12.4z" fill="#7eff8d"/>
<path d="M2103.3 691l4.6 12.4-6 11.6-4.6-11.4z" fill="#86ff90"/>
<path d="M2088.1 680.8l24-58.1 13.8 45.8" class="m"/>
<path d="M1888.9 746.8l13.8 11.3-11.9 1.4-13.9-11z" fill="#a8df72"/>
<path d="M1876.9 748.5l13.9 11-12 1.4-13.8-10.8z" fill="#a9dc71"/>
<path d="M1865 750.1l23.9-3.3 13.8 11.3" class="m"/>
<path d="M1665.9 769.6l13.8 6.2-12 3.2-13.8-6.2z" fill="#f3d478"/>
<path d="M1653.9 772.8l13.8 6.2-12 3.2-13.8-6.2z" fill="#f5d277"/>
<path d="M1641.9 776l24-6.4 13.8 6.2" class="m"/>
<path d="M1443 745l13.7 3.2-5.9-13.1-13.8-3.1z" fill="#8c4b31"/>
<path d="M1437 732l13.8 3.1-6-13.1-13.8-3z" fill="#975037"/>
<path d="M1431 719l13.8 3-6-13.1-13.8-2.9z" fill="#a1553d"/>
<path d="M1425 706l13.8 2.9-6-13.1-13.8-2.7z" fill="#ac5b44"/>
<path d="M1419 693.1l24 51.9 13.7 3.2M1432.8 695.8l-13.8-2.7" class="m"/>
<path d="M2050.3 701.7l6.9 11.6-8 10.6-6.9-10.9z" fill="#dcffd8"/>
<path d="M2042.3 713l6.9 10.9-8 10.5-6.9-10.1z" fill="#eeffe4"/>
<path d="M2034.3 724.3l6.9 10.1-8 10.5-6.9-9.2z" fill="#f5ffe6"/>
<path d="M2057.2 713.3l6.9 11.7-8 9.7-6.9-10.8z" fill="#d7ffd1"/>
<path d="M2049.2 723.9l6.9 10.8-8 9.7-6.9-10z" fill="#e4ffd9"/>
<path d="M2041.2 734.4l6.9 10-8 9.7-6.9-9.2z" fill="#e7ffd6"/>
<path d="M2026.3 735.7l24-34 13.8 23.3" class="m"/>
<path d="M1827.2 743.7l13.8 9.3-12 3.4-13.8-9z" fill="#c2e47b"/>
<path d="M1815.2 747.4l13.8 9-12 3.4-13.8-8.7z" fill="#ceed81"/>
<path d="M1803.2 751.1l24-7.4 13.8 9.3" class="m"/>
<path d="M1604.2 775.4l13.8 6.1-12 2.2-13.8-6.1z" fill="#fbc472"/>
<path d="M1592.2 777.6l13.8 6.1-12 2.2-13.8-6.2z" fill="#fbc170"/>
<path d="M1580.2 779.7l24-4.3 13.8 6.1" class="m"/>
<path d="M1988.5 739.6l13.8 15.6-12 7-13.8-14.9z" fill="#c7ffa7"/>
<path d="M1976.5 747.3l13.8 14.9-12 7-13.8-14.3z" fill="#b7ff92"/>
<path d="M1964.5 754.9l24-15.3 13.8 15.6" class="m"/>
<path d="M1765.4 754.6l13.8 7.6-12 5.9-13.8-7.6z" fill="#ecf78c"/>
<path d="M1753.4 760.5l13.8 7.6-12 5.8-13.8-7.4z" fill="#edf488"/>
<path d="M1741.4 766.5l24-11.9 13.8 7.6" class="m"/>
<path d="M1542.4 775.8l13.8 5.7-12-1.2-13.8-5.7z" fill="#efa866"/>
<path d="M1530.4 774.6l13.8 5.7-11.9-1.3-13.8-5.6z" fill="#e69f60"/>
<path d="M1518.5 773.4l23.9 2.4 13.8 5.7" class="m"/>
<path d="M2149.9 606.2l4.6 22.7-6 14.1-4.6-21.2z" fill="#57d57c"/>
<path d="M2143.9 621.8l4.6 21.2-6 14.1-4.6-19.7z" fill="#5bda7c"/>
<path d="M2137.9 637.4l4.6 19.7-6 14.1-4.6-18.3z" fill="#60df7c"/>
<path d="M2131.9 652.9l4.6 18.3-6 14.1-4.6-16.8z" fill="#65e47c"/>
<path d="M2154.5 628.9l4.6 22.8-6 12.6-4.6-21.3z" fill="#52ce71"/>
<path d="M2148.5 643l4.6 21.3-6 12.6-4.6-19.8z" fill="#56d372"/>
<path d="M2142.5 657.1l4.6 19.8-6 12.6-4.6-18.3z" fill="#5ad872"/>
<path d="M2136.5 671.2l4.6 18.3-6 12.6-4.6-16.8z" fill="#5fdd72"/>
<path d="M2159.1 651.7l4.6 22.7-6 11.1-4.6-21.2z" fill="#4dc767"/>
<path d="M2153.1 664.3l4.6 21.2-6 11.2-4.6-19.8z" fill="#51cb68"/>
<path d="M2147.1 676.9l4.6 19.8-6 11.1-4.6-18.3z" fill="#55d068"/>
<path d="M2141.1 689.5l4.6 18.3-5.9 11.1-4.7-16.8z" fill="#59d569"/>
<path d="M2125.9 668.5l24-62.3 13.8 68.2" class="m"/>
<path d="M1926.7 752.2l13.8 12.7-11.9 2.7-13.9-12.4z" fill="#a7ef77"/>
<path d="M1914.7 755.2l13.9 12.4-12 2.7-13.9-12.2z" fill="#a4e771"/>
<path d="M1902.7 758.1l24-5.9 13.8 12.7" class="m"/>
<path d="M1703.7 768.5l13.8 6.8-12 3.7-13.8-6.9z" fill="#eedf7c"/>
<path d="M1691.7 772.1l13.8 6.9-12 3.6-13.8-6.8z" fill="#f0dd7a"/>
<path d="M1679.7 775.8l24-7.3 13.8 6.8" class="m"/>
<path d="M1480.7 760.4l13.8 4.7-12-6.3-13.8-4.5z" fill="#804a2a"/>
<path d="M1468.7 754.3l13.8 4.5-12-6.3-13.8-4.3z" fill="#824a2b"/>
<path d="M1456.7 748.2l24 12.2 13.8 4.7" class="m"/>
<path d="M2088.1 680.8l6.9 17.1-8 13.3-6.9-15.7z" fill="#9cffa5"/>
<path d="M2080.1 695.5l6.9 15.7-8 13.3-6.9-14.2z" fill="#acffb0"/>
<path d="M2072.1 710.3l6.9 14.2-8 13.3-6.9-12.8z" fill="#beffbb"/>
<path d="M2095 697.9l6.9 17.1-8 11.9-6.9-15.7z" fill="#93ff99"/>
<path d="M2087 711.2l6.9 15.7-8 11.8-6.9-14.2z" fill="#a2ffa3"/>
<path d="M2079 724.5l6.9 14.2-8 11.8-6.9-12.7z" fill="#b1ffac"/>
<path d="M2064.1 725l24-44.2 13.8 34.2" class="m"/>
<path d="M1865 750.1l13.8 10.8-12 1.2-13.8-10.5z" fill="#addd71"/>
<path d="M1853 751.6l13.8 10.5-12 1.2-13.8-10.3z" fill="#b5e174"/>
<path d="M1841 753l24-2.9 13.8 10.8" class="m"/>
<path d="M1641.9 776l13.8 6.2-12 2.8-13.8-6.2z" fill="#f7d075"/>
<path d="M1629.9 778.8l13.8 6.2-11.9 2.8-13.8-6.3z" fill="#f9cf74"/>
<path d="M1618 781.5l23.9-5.5 13.8 6.2" class="m"/>
<path d="M2026.3 735.7l13.8 18.4-12 8.8-13.8-17.5z" fill="#e4ffce"/>
<path d="M2014.3 745.4l13.8 17.5-11.9 8.8-13.9-16.5z" fill="#cbffae"/>
<path d="M2002.3 755.2l24-19.5 13.8 18.4" class="m"/>
<path d="M1803.2 751.1l13.8 8.7-12 5.4-13.8-8.5z" fill="#daf586"/>
<path d="M1791.2 756.7l13.8 8.5-12 5.3-13.8-8.3z" fill="#e4fb89"/>
<path d="M1779.2 762.2l24-11.1 13.8 8.7" class="m"/>
<path d="M1580.2 779.7l13.8 6.2-12 .9-13.8-6.2z" fill="#f9bd6d"/>
<path d="M1568.2 780.6l13.8 6.2-12 .9-13.8-6.2z" fill="#f5b76a"/>
<path d="M1556.2 781.5l24-1.8 13.8 6.2" class="m"/>
<path d="M2187.7 618.2l4.6 33.3-6 11.9-4.6-31.2z" fill="#3aa95a"/>
<path d="M2181.7 632.2l4.6 31.2-6 12-4.6-29.1z" fill="#3dae5b"/>
<path d="M2175.7 646.3l4.6 29.1-6 11.9-4.6-27z" fill="#41b45c"/>
<path d="M2169.7 660.3l4.6 27-6 12-4.6-24.9z" fill="#45b95c"/>
<path d="M2192.3 651.5l4.7 33.2-6 9.9-4.7-31.2z" fill="#359f4e"/>
<path d="M2186.3 663.4l4.7 31.2-6 9.8-4.7-29z" fill="#38a44f"/>
<path d="M2180.3 675.4l4.7 29-6 9.9-4.7-27z" fill="#3caa50"/>
<path d="M2174.3 687.3l4.7 27-6 9.9-4.7-24.9z" fill="#3faf51"/>
<path d="M2197 684.7l4.6 33.3-6 7.8-4.6-31.2z" fill="#309543"/>
<path d="M2191 694.6l4.6 31.2-6 7.7-4.6-29.1z" fill="#349a44"/>
<path d="M2185 704.4l4.6 29.1-6 7.8-4.6-27z" fill="#379f45"/>
<path d="M2179 714.3l4.6 27-6 7.8-4.6-24.9z" fill="#3aa446"/>
<path d="M2163.7 674.4l24-56.2 13.9 99.8" class="m"/>
<path d="M1964.5 754.9l13.8 14.3-11.9 4.6-13.9-13.9z" fill="#adff83"/>
<path d="M1952.5 759.9l13.9 13.9-12 4.6-13.9-13.5z" fill="#a6fa78"/>
<path d="M1940.5 764.9l24-10 13.8 14.3" class="m"/>
<path d="M1741.4 766.5l13.8 7.4-11.9 4.4-13.9-7.4z" fill="#edef83"/>
<path d="M1729.4 770.9l13.9 7.4-12 4.4-13.8-7.4z" fill="#ecea7e"/>
<path d="M1717.5 775.3l23.9-8.8 13.8 7.4" class="m"/>
<path d="M1518.5 773.4l13.8 5.6-12-4.3-13.8-5.5z" fill="#dc965b"/>
<path d="M1506.5 769.2l13.8 5.5-12-4.2-13.8-5.4z" fill="#d28c57"/>
<path d="M1494.5 765.1l24 8.3 13.8 5.6" class="m"/>
<path d="M2125.9 668.5l4.6 16.8-8 14.1-4.6-15.4z" fill="#6beb7e"/>
<path d="M2117.9 684l4.6 15.4-8 14-4.6-13.9z" fill="#74f582"/>
<path d="M2109.9 699.5l4.6 13.9-8 14.1-4.6-12.5z" fill="#7eff86"/>
<path d="M2130.5 685.3l4.6 16.8-8 12.7-4.6-15.4z" fill="#65e474"/>
<path d="M2122.5 699.4l4.6 15.4-8 12.6-4.6-14z" fill="#6dec77"/>
<path d="M2114.5 713.4l4.6 14-7.9 12.6-4.7-12.5z" fill="#76f67b"/>
<path d="M2135.1 702.1l4.7 16.8-8 11.2-4.7-15.3z" fill="#5fdc6a"/>
<path d="M2127.1 714.8l4.7 15.3-8 11.2-4.7-13.9z" fill="#66e46d"/>
<path d="M2119.1 727.4l4.7 13.9-8 11.2-4.6-12.5z" fill="#6eed70"/>
<path d="M2101.9 715l24-46.5 13.9 50.4" class="m"/>
<path d="M1902.7 758.1l13.9 12.2-12 1.2-13.8-12z" fill="#a4e26e"/>
<path d="M1890.8 759.5l13.8 12-12 1.2-13.8-11.8z" fill="#a6df6d"/>
<path d="M1878.8 760.9l23.9-2.8 13.9 12.2" class="m"/>
<path d="M1679.7 775.8l13.8 6.8-12 3.2-13.8-6.8z" fill="#f2db78"/>
<path d="M1667.7 779l13.8 6.8-12 3.2-13.8-6.8z" fill="#f4da76"/>
<path d="M1655.7 782.2l24-6.4 13.8 6.8" class="m"/>
<path d="M1456.7 748.2l13.8 4.3-6-13.2-13.7-4.2z" fill="#8f5132"/>
<path d="M1450.8 735.1l13.7 4.2-5.9-13.2-13.8-4.1z" fill="#995638"/>
<path d="M1444.8 722l13.8 4.1-6-13.1-13.8-4.1z" fill="#a45c3f"/>
<path d="M1438.8 708.9l13.8 4.1-6-13.2-13.8-4z" fill="#ae6146"/>
<path d="M1432.8 695.8l23.9 52.4 13.8 4.3M1446.6 699.8l-13.8-4" class="m"/>
<path d="M2064.1 725l6.9 12.8-12 13.2-6.9-11.4z" fill="#d0ffc6"/>
<path d="M2052.1 739.6l6.9 11.4-12 13.2-6.9-10.1z" fill="#d7ffc5"/>
<path d="M2071 737.8l6.9 12.7-11.9 11.9-7-11.4z" fill="#bfffb3"/>
<path d="M2059 751l7 11.4-12 11.9-7-10.1z" fill="#c2ffaf"/>
<path d="M2040.1 754.1l24-29.1 13.8 25.5" class="m"/>
<path d="M1841 753l13.8 10.3-12 3-13.8-9.9z" fill="#bee777"/>
<path d="M1829 756.4l13.8 9.9-12 3.1-13.8-9.6z" fill="#caf17d"/>
<path d="M1817 759.8l24-6.8 13.8 10.3" class="m"/>
<path d="M1618 781.5l13.8 6.3-12 2.2-13.8-6.3z" fill="#facc72"/>
<path d="M1606 783.7l13.8 6.3-12 2.2-13.8-6.3z" fill="#fac970"/>
<path d="M1594 785.9l24-4.4 13.8 6.3" class="m"/>
<path d="M2002.3 755.2l13.9 16.5-12 6.3-13.9-15.8z" fill="#b7ff95"/>
<path d="M1990.3 762.2l13.9 15.8-12 6.3-13.9-15.1z" fill="#acff85"/>
<path d="M1978.3 769.2l24-14 13.9 16.5" class="m"/>
<path d="M1779.2 762.2l13.8 8.3-12 5.7-13.8-8.1z" fill="#eafd8a"/>
<path d="M1767.2 768.1l13.8 8.1-12 5.6-13.8-7.9z" fill="#ebfa86"/>
<path d="M1755.2 773.9l24-11.7 13.8 8.3" class="m"/>
<path d="M1556.2 781.5l13.8 6.2-12-1.3-13.8-6.1z" fill="#eeaf65"/>
<path d="M1544.2 780.3l13.8 6.1-12-1.3-13.7-6.1z" fill="#e4a560"/>
<path d="M1532.3 779l23.9 2.5 13.8 6.2" class="m"/>
<path d="M2163.7 674.4l4.6 24.9-7.9 12.6-4.7-22.7z" fill="#49bf5d"/>
<path d="M2155.7 689.2l4.7 22.7-8 12.7-4.7-20.5z" fill="#4ec55e"/>
<path d="M2147.7 704.1l4.7 20.5-8 12.7-4.6-18.4z" fill="#53cc5f"/>
<path d="M2168.3 699.3l4.7 24.9-8 10.5-4.6-22.8z" fill="#44b552"/>
<path d="M2160.4 711.9l4.6 22.8-8 10.5-4.6-20.6z" fill="#48bb53"/>
<path d="M2152.4 724.6l4.6 20.6-8 10.5-4.6-18.4z" fill="#4dc154"/>
<path d="M2173 724.2l4.6 24.9-8 8.3-4.6-22.7z" fill="#3eaa48"/>
<path d="M2165 734.7l4.6 22.7-8 8.3-4.6-20.5z" fill="#43b049"/>
<path d="M2157 745.2l4.6 20.5-8 8.3-4.6-18.3z" fill="#47b74b"/>
<path d="M2139.8 718.9l23.9-44.5 13.9 74.7" class="m"/>
<path d="M1940.5 764.9l13.9 13.5-12 2.4-13.8-13.2z" fill="#a3f172"/>
<path d="M1928.6 767.6l13.8 13.2-12 2.5-13.8-13z" fill="#a1ea6d"/>
<path d="M1916.6 770.3l23.9-5.4 13.9 13.5" class="m"/>
<path d="M1717.5 775.3l13.8 7.4-12 3.5-13.8-7.2z" fill="#ede77b"/>
<path d="M1705.5 779l13.8 7.2-12 3.6-13.8-7.2z" fill="#efe479"/>
<path d="M1693.5 782.6l24-7.3 13.8 7.4" class="m"/>
<path d="M1494.5 765.1l13.8 5.4-12-6.5-13.8-5.2z" fill="#804e2a"/>
<path d="M1482.5 758.8l13.8 5.2-12-6.4-13.8-5.1z" fill="#824e2c"/>
<path d="M1470.5 752.5l24 12.6 13.8 5.4" class="m"/>
<path d="M2101.9 715l6.9 18.8-7.9 10.2-7-17.1z" fill="#87ff89"/>
<path d="M2093.9 726.9l7 17.1-8 10.2-7-15.5z" fill="#94ff91"/>
<path d="M2085.9 738.7l7 15.5-8 10.3-7-14z" fill="#a0ff98"/>
<path d="M2108.8 733.8l7 18.7-8 8.6-6.9-17.1z" fill="#79f977"/>
<path d="M2100.9 744l6.9 17.1-8 8.7-6.9-15.6z" fill="#83ff7c"/>
<path d="M2092.9 754.2l6.9 15.6-8 8.6-6.9-13.9z" fill="#8dff81"/>
<path d="M2077.9 750.5l24-35.5 13.9 37.5" class="m"/>
<path d="M1878.8 760.9l13.8 11.8-12 .9-13.8-11.5z" fill="#aadf6d"/>
<path d="M1866.8 762.1l13.8 11.5-12 .9-13.8-11.2z" fill="#b0e36f"/>
<path d="M1854.8 763.3l24-2.4 13.8 11.8" class="m"/>
<path d="M1655.7 782.2l13.8 6.8-12 2.8-13.8-6.8z" fill="#f6d875"/>
<path d="M1643.7 785l13.8 6.8-11.9 2.8-13.8-6.8z" fill="#f8d673"/>
<path d="M1631.8 787.8l23.9-5.6 13.8 6.8" class="m"/>
<path d="M2040.1 754.1l6.9 10.1-11.9 8.2-7-9.5z" fill="#cbffb2"/>
<path d="M2028.1 762.9l7 9.5-12 8.1-6.9-8.8z" fill="#b8ff9a"/>
<path d="M2047 764.2l7 10.1-12 7.5-6.9-9.4z" fill="#b9ff9f"/>
<path d="M2035.1 772.4l6.9 9.4-12 7.5-6.9-8.8z" fill="#abff8c"/>
<path d="M2016.2 771.7l23.9-17.6 13.9 20.2" class="m"/>
<path d="M1817 759.8l13.8 9.6-12 5.1-13.8-9.3z" fill="#d6f982"/>
<path d="M1805 765.2l13.8 9.3-12 5.1-13.8-9.1z" fill="#e0ff86"/>
<path d="M1793 770.5l24-10.7 13.8 9.6" class="m"/>
<path d="M1594 785.9l13.8 6.3-12 .9-13.8-6.3z" fill="#f8c46d"/>
<path d="M1582 786.8l13.8 6.3-12 .9-13.8-6.3z" fill="#f4bd69"/>
<path d="M1570 787.7l24-1.8 13.8 6.3" class="m"/>
<path d="M2201.6 718l4.6 36.2-12 11-4.6-31.7z" fill="#2d8d38"/>
<path d="M2189.6 733.5l4.6 31.7-12 10.9-4.6-27z" fill="#33963b"/>
<path d="M2206.2 754.2l4.6 36.3-12 6.3-4.6-31.6z" fill="#2b8931"/>
<path d="M2194.2 765.2l4.6 31.6-12 6.4-4.6-27.1z" fill="#2e8b31"/>
<path d="M2210.8 790.5l4.6 36.2-12 1.8-4.6-31.7z" fill="#2b8a2c"/>
<path d="M2198.8 796.8l4.6 31.7-12 1.8-4.6-27.1z" fill="#2d8a2c"/>
<path d="M2177.6 749.1l24-31.1 13.8 108.7M2215.4 826.7l-24 3.6" class="m"/>
<path d="M1978.3 769.2l13.9 15.1-12 4.1-13.8-14.6z" fill="#a5ff7a"/>
<path d="M1966.4 773.8l13.8 14.6-12 4.1-13.8-14.1z" fill="#a1fb72"/>
<path d="M1954.4 778.4l23.9-9.2 13.9 15.1" class="m"/>
<path d="M1755.2 773.9l13.8 7.9-11.9 4.3-13.8-7.8z" fill="#ebf681"/>
<path d="M1743.3 778.3l13.8 7.8-12 4.3-13.8-7.7z" fill="#ebf17d"/>
<path d="M1731.3 782.7l23.9-8.8 13.8 7.9" class="m"/>
<path d="M1532.3 779l13.7 6.1-11.9-4.3-13.8-6.1z" fill="#da9b5b"/>
<path d="M1520.3 774.7l13.8 6.1-12-4.4-13.8-5.9z" fill="#d09156"/>
<path d="M1508.3 770.5l24 8.5 13.7 6.1" class="m"/>
<path d="M2139.8 718.9l4.6 18.4-8 9.6-4.6-16.8z" fill="#59d360"/>
<path d="M2131.8 730.1l4.6 16.8-8 9.6-4.6-15.2z" fill="#5fda62"/>
<path d="M2123.8 741.3l4.6 15.2-8 9.6-4.6-13.6z" fill="#66e265"/>
<path d="M2144.4 737.3l4.6 18.4-8 8-4.6-16.8z" fill="#52c856"/>
<path d="M2136.4 746.9l4.6 16.8-8 8-4.6-15.2z" fill="#58d058"/>
<path d="M2128.4 756.5l4.6 15.2-8 8-4.6-13.6z" fill="#5ed75a"/>
<path d="M2149 755.7l4.6 18.3-8 6.5-4.6-16.8z" fill="#4cbe4c"/>
<path d="M2141 763.7l4.6 16.8-8 6.4-4.6-15.2z" fill="#52c54f"/>
<path d="M2133 771.7l4.6 15.2-8 6.4-4.6-13.6z" fill="#57cd51"/>
<path d="M2115.8 752.5l24-33.6 13.8 55.1" class="m"/>
<path d="M1916.6 770.3l13.8 13-12 1-13.8-12.8z" fill="#a1e56a"/>
<path d="M1904.6 771.5l13.8 12.8-12 1.1-13.8-12.7z" fill="#a2e269"/>
<path d="M1892.6 772.7l24-2.4 13.8 13" class="m"/>
<path d="M1693.5 782.6l13.8 7.2-12 3.2-13.8-7.2z" fill="#f1e277"/>
<path d="M1681.5 785.8l13.8 7.2-12 3.2-13.8-7.2z" fill="#f3e175"/>
<path d="M1669.5 789l24-6.4 13.8 7.2" class="m"/>
<path d="M1470.5 752.5l13.8 5.1-6-13.2-13.8-5.1z" fill="#915633"/>
<path d="M1464.5 739.3l13.8 5.1-6-13.2-13.7-5.1z" fill="#9b5c39"/>
<path d="M1458.6 726.1l13.7 5.1-5.9-13.2-13.8-5z" fill="#a56240"/>
<path d="M1452.6 713l13.8 5-6-13.2-13.8-5z" fill="#af6747"/>
<path d="M1446.6 699.8l23.9 52.7 13.8 5.1M1460.4 704.8l-13.8-5" class="m"/>
<path d="M2077.9 750.5l7 14-12 10.3-6.9-12.4z" fill="#aaff9c"/>
<path d="M2066 762.4l6.9 12.4-12 10.3-6.9-10.8z" fill="#adff97"/>
<path d="M2084.9 764.5l6.9 13.9-12 8.8-6.9-12.4z" fill="#95ff84"/>
<path d="M2072.9 774.8l6.9 12.4-12 8.8-6.9-10.9z" fill="#98ff81"/>
<path d="M2054 774.3l23.9-23.8 13.9 27.9" class="m"/>
<path d="M1854.8 763.3l13.8 11.2-12 2.8-13.8-11z" fill="#baea73"/>
<path d="M1842.8 766.3l13.8 11-12 2.7-13.8-10.6z" fill="#c5f378"/>
<path d="M1830.8 769.4l24-6.1 13.8 11.2" class="m"/>
<path d="M1631.8 787.8l13.8 6.8-12 2.2-13.8-6.8z" fill="#f9d371"/>
<path d="M1619.8 790l13.8 6.8-12 2.2-13.8-6.8z" fill="#f9d06f"/>
<path d="M1607.8 792.2l24-4.4 13.8 6.8" class="m"/>
<path d="M2016.2 771.7l13.8 17.6-12 5.4-13.8-16.7z" fill="#a7ff83"/>
<path d="M2004.2 778l13.8 16.7-12 5.4-13.8-15.8z" fill="#a1ff79"/>
<path d="M1992.2 784.3l24-12.6 13.8 17.6" class="m"/>
<path d="M1793 770.5l13.8 9.1-12 5.4-13.8-8.8z" fill="#e7ff86"/>
<path d="M1781 776.2l13.8 8.8-11.9 5.4-13.9-8.6z" fill="#e8ff83"/>
<path d="M1769 781.8l24-11.3 13.8 9.1" class="m"/>
<path d="M1570 787.7l13.8 6.3-12-1.3-13.8-6.3z" fill="#edb565"/>
<path d="M1558 786.4l13.8 6.3-12-1.2-13.8-6.4z" fill="#e3ab5f"/>
<path d="M1546 785.1l24 2.6 13.8 6.3" class="m"/>
<path d="M2177.6 749.1l4.6 27-12 8.9-4.6-23.5z" fill="#3aa03e"/>
<path d="M2165.6 761.5l4.6 23.5-12 9-4.6-20z" fill="#40aa41"/>
<path d="M2182.2 776.1l4.6 27.1-12 5.3-4.6-23.5z" fill="#349434"/>
<path d="M2170.2 785l4.6 23.5-12 5.4-4.6-19.9z" fill="#3a9e37"/>
<path d="M2186.8 803.2l4.6 27.1-12 1.7-4.6-23.5z" fill="#2f8a2c"/>
<path d="M2174.8 808.5l4.6 23.5-12 1.8-4.6-19.9z" fill="#34922e"/>
<path d="M2153.6 774l24-24.9 13.8 81.2M2191.4 830.3l-24 3.5" class="m"/>
<path d="M1954.4 778.4l13.8 14.1-12 2.2-13.8-13.9z" fill="#9ff46d"/>
<path d="M1942.4 780.8l13.8 13.9-12 2.3-13.8-13.7z" fill="#9eed69"/>
<path d="M1930.4 783.3l24-4.9 13.8 14.1" class="m"/>
<path d="M1731.3 782.7l13.8 7.7-12 3.6-13.8-7.8z" fill="#ebed7a"/>
<path d="M1719.3 786.2l13.8 7.8-12 3.5-13.8-7.7z" fill="#edeb78"/>
<path d="M1707.3 789.8l24-7.1 13.8 7.7" class="m"/>
<path d="M1508.3 770.5l13.8 5.9-12-6.4-13.8-6z" fill="#80522b"/>
<path d="M1496.3 764l13.8 6-12-6.5-13.8-5.9z" fill="#82522c"/>
<path d="M1484.3 757.6l24 12.9 13.8 5.9" class="m"/>
<path d="M2115.8 752.5l4.6 13.6-12 11.2-4.6-11.9z" fill="#6fed69"/>
<path d="M2103.8 765.4l4.6 11.9-12 11.1-4.6-10z" fill="#7cfb6f"/>
<path d="M2120.4 766.1l4.6 13.6-12 9.4-4.6-11.8z" fill="#66e15e"/>
<path d="M2108.4 777.3l4.6 11.8-12 9.4-4.6-10.1z" fill="#71ee63"/>
<path d="M2125 779.7l4.6 13.6-12 7.6-4.6-11.8z" fill="#5fd754"/>
<path d="M2113 789.1l4.6 11.8-12 7.6-4.6-10z" fill="#69e359"/>
<path d="M2091.8 778.4l24-25.9 13.8 40.8" class="m"/>
<path d="M1892.6 772.7l13.8 12.7-12 .8-13.8-12.6z" fill="#a6e269"/>
<path d="M1880.6 773.6l13.8 12.6-12 .7-13.8-12.4z" fill="#ace56b"/>
<path d="M1868.6 774.5l24-1.8 13.8 12.7" class="m"/>
<path d="M1669.5 789l13.8 7.2-12 2.8-13.8-7.2z" fill="#f5df74"/>
<path d="M1657.5 791.8l13.8 7.2-11.9 2.8-13.8-7.2z" fill="#f8dd73"/>
<path d="M1645.6 794.6l23.9-5.6 13.8 7.2" class="m"/>
<path d="M2054 774.3l6.9 10.8-12 6.8-6.9-10.1z" fill="#a7ff8c"/>
<path d="M2042 781.8l6.9 10.1-12 6.7-6.9-9.3z" fill="#a0ff7f"/>
<path d="M2060.9 785.1l6.9 10.9-12 6-6.9-10.1z" fill="#97ff7b"/>
<path d="M2048.9 791.9l6.9 10.1-12 6-6.9-9.4z" fill="#95ff73"/>
<path d="M2030 789.3l24-15 13.8 21.7" class="m"/>
<path d="M1830.8 769.4l13.8 10.6-12 4.8-13.8-10.3z" fill="#d1fb7d"/>
<path d="M1818.8 774.5l13.8 10.3-12 4.7-13.8-9.9z" fill="#dbff81"/>
<path d="M1806.8 779.6l24-10.2 13.8 10.6" class="m"/>
<path d="M1607.8 792.2l13.8 6.8-12 1-13.8-6.9z" fill="#f8cb6c"/>
<path d="M1595.8 793.1l13.8 6.9-12 .9-13.8-6.9z" fill="#f3c469"/>
<path d="M1583.8 794l24-1.8 13.8 6.8" class="m"/>
<path d="M1992.2 784.3l13.8 15.8-12 3.6-13.8-15.3z" fill="#9eff71"/>
<path d="M1980.2 788.4l13.8 15.3-12 3.6-13.8-14.8z" fill="#9cfc6c"/>
<path d="M1968.2 792.5l24-8.2 13.8 15.8" class="m"/>
<path d="M1769 781.8l13.9 8.6-12 4.2-13.8-8.5z" fill="#e9fc7f"/>
<path d="M1757.1 786.1l13.8 8.5-12 4.2-13.8-8.4z" fill="#e9f77b"/>
<path d="M1745.1 790.4l23.9-8.6 13.9 8.6" class="m"/>
<path d="M1546 785.1l13.8 6.4-11.9-4.3-13.8-6.4z" fill="#d9a15a"/>
<path d="M1534.1 780.8l13.8 6.4-12-4.3-13.8-6.5z" fill="#cf9655"/>
<path d="M1522.1 776.4l23.9 8.7 13.8 6.4" class="m"/>
<path d="M2153.6 774l4.6 20-12 7-4.6-17.3z" fill="#48b544"/>
<path d="M2141.6 783.7l4.6 17.3-12 7-4.6-14.7z" fill="#50c048"/>
<path d="M2158.2 794l4.6 19.9-12 4.4-4.6-17.3z" fill="#42a93b"/>
<path d="M2146.2 801l4.6 17.3-12 4.4-4.6-14.7z" fill="#4ab53f"/>
<path d="M2162.8 813.9l4.6 19.9-12 1.8-4.6-17.3z" fill="#3b9d33"/>
<path d="M2150.8 818.3l4.6 17.3-12 1.8-4.6-14.7z" fill="#43a937"/>
<path d="M2129.6 793.3l24-19.3 13.8 59.8M2167.4 833.8l-24 3.6" class="m"/>
<path d="M1930.4 783.3l13.8 13.7-12 1-13.8-13.7z" fill="#9ee866"/>
<path d="M1918.4 784.3l13.8 13.7-12 1-13.8-13.6z" fill="#9fe565"/>
<path d="M1906.4 785.4l24-2.1 13.8 13.7" class="m"/>
<path d="M1707.3 789.8l13.8 7.7-12 3.1-13.8-7.6z" fill="#efe976"/>
<path d="M1695.3 793l13.8 7.6-12 3.2-13.8-7.6z" fill="#f2e875"/>
<path d="M1683.3 796.2l24-6.4 13.8 7.7" class="m"/>
<path d="M1484.3 757.6l13.8 5.9-6-13.2-13.8-5.9z" fill="#925c34"/>
<path d="M1478.3 744.4l13.8 5.9-6-13.2-13.8-5.9z" fill="#9c623a"/>
<path d="M1472.3 731.2l13.8 5.9-6-13.2-13.7-5.9z" fill="#a66841"/>
<path d="M1466.4 718l13.7 5.9-5.9-13.3-13.8-5.8z" fill="#b16e47"/>
<path d="M1460.4 704.8l23.9 52.8 13.8 5.9M1474.2 710.6l-13.8-5.8" class="m"/>
<path d="M2091.8 778.4l6.9 15.1-12 7.1-6.9-13.4z" fill="#82ff6f"/>
<path d="M2079.8 787.2l6.9 13.4-12 7.1-6.9-11.7z" fill="#87ff6f"/>
<path d="M2098.7 793.5l6.9 15-12 5.5-6.9-13.4z" fill="#73ef5e"/>
<path d="M2086.7 800.6l6.9 13.4-12 5.4-6.9-11.7z" fill="#7af660"/>
<path d="M2067.8 796l24-17.6 13.8 30.1" class="m"/>
<path d="M1868.6 774.5l13.8 12.4-12 2.4-13.8-12z" fill="#b5ec6e"/>
<path d="M1856.6 777.3l13.8 12-12 2.5-13.8-11.8z" fill="#c0f573"/>
<path d="M1844.6 780l24-5.5 13.8 12.4" class="m"/>
<path d="M1645.6 794.6l13.8 7.2-12 2.2-13.8-7.2z" fill="#f9db71"/>
<path d="M1633.6 796.8l13.8 7.2-12 2.3-13.8-7.3z" fill="#f9d76f"/>
<path d="M1621.6 799l24-4.4 13.8 7.2" class="m"/>
<path d="M2030 789.3l13.8 18.7-12 4.3-13.8-17.6z" fill="#98ff72"/>
<path d="M2018 794.7l13.8 17.6-12 4.3-13.8-16.5z" fill="#97ff6d"/>
<path d="M2006 800.1l24-10.8 13.8 18.7" class="m"/>
<path d="M1806.8 779.6l13.8 9.9-11.9 5.1-13.9-9.6z" fill="#e2ff82"/>
<path d="M1794.8 785l13.9 9.6-12 5.1-13.8-9.3z" fill="#e5ff80"/>
<path d="M1782.9 790.4l23.9-10.8 13.8 9.9" class="m"/>
<path d="M1583.8 794l13.8 6.9-12-1.2-13.8-7z" fill="#edbc64"/>
<path d="M1571.8 792.7l13.8 7-12-1.1-13.8-7.1z" fill="#e3b15f"/>
<path d="M1559.8 791.5l24 2.5 13.8 6.9" class="m"/>
<path d="M1968.2 792.5l13.8 14.8-12 2.1-13.8-14.7z" fill="#9cf668"/>
<path d="M1956.2 794.7l13.8 14.7-12 2-13.8-14.4z" fill="#9bf165"/>
<path d="M1944.2 797l24-4.5 13.8 14.8" class="m"/>
<path d="M1745.1 790.4l13.8 8.4-12 3.4-13.8-8.2z" fill="#eaf478"/>
<path d="M1733.1 794l13.8 8.2-12 3.4-13.8-8.1z" fill="#ecf276"/>
<path d="M1721.1 797.5l24-7.1 13.8 8.4" class="m"/>
<path d="M1522.1 776.4l13.8 6.5-12-6.4-13.8-6.5z" fill="#80562b"/>
<path d="M1510.1 770l13.8 6.5-12-6.4-13.8-6.6z" fill="#82562c"/>
<path d="M1498.1 763.5l24 12.9 13.8 6.5" class="m"/>
<path d="M2129.6 793.3l4.6 14.7-12 5.6-4.6-12.7z" fill="#59cd4c"/>
<path d="M2117.6 800.9l4.6 12.7-12 5.7-4.6-10.8z" fill="#62d950"/>
<path d="M2134.2 808l4.6 14.7-12 3.7-4.6-12.8z" fill="#52c244"/>
<path d="M2122.2 813.6l4.6 12.8-12 3.7-4.6-10.8z" fill="#5ccf49"/>
<path d="M2138.8 822.7l4.6 14.7-12 1.7-4.6-12.7z" fill="#4cb73c"/>
<path d="M2126.8 826.4l4.6 12.7-12 1.8-4.6-10.8z" fill="#56c542"/>
<path d="M2105.6 808.5l24-15.2 13.8 44.1M2143.4 837.4l-24 3.5" class="m"/>
<path d="M1906.4 785.4l13.8 13.6-12 .7-13.8-13.5z" fill="#a3e565"/>
<path d="M1894.4 786.2l13.8 13.5-12 .7-13.8-13.5z" fill="#a9e867"/>
<path d="M1882.4 786.9l24-1.5 13.8 13.6" class="m"/>
<path d="M1683.3 796.2l13.8 7.6-12 2.8-13.8-7.6z" fill="#f4e673"/>
<path d="M1671.3 799l13.8 7.6-11.9 2.8-13.8-7.6z" fill="#f7e572"/>
<path d="M1659.4 801.8l23.9-5.6 13.8 7.6" class="m"/>
<path d="M2067.8 796l6.9 11.7-12 5-6.9-10.7z" fill="#8aff6c"/>
<path d="M2055.8 802l6.9 10.7-12 5-6.9-9.7z" fill="#8cff69"/>
<path d="M2074.7 807.7l6.9 11.7-12 4.1-6.9-10.8z" fill="#80fb61"/>
<path d="M2062.7 812.7l6.9 10.8-12 4-6.9-9.8z" fill="#85fd61"/>
<path d="M2043.8 808l24-12 13.8 23.4" class="m"/>
<path d="M1844.6 780l13.8 11.8-12 4.3-13.8-11.3z" fill="#cbfd78"/>
<path d="M1832.6 784.8l13.8 11.3-11.9 4.4-13.9-11z" fill="#d5ff7c"/>
<path d="M1820.6 789.5l24-9.5 13.8 11.8" class="m"/>
<path d="M1621.6 799l13.8 7.3-12 1-13.8-7.3z" fill="#f7d26c"/>
<path d="M1609.6 800l13.8 7.3-12 1-13.8-7.4z" fill="#f3cc68"/>
<path d="M1597.6 800.9l24-1.9 13.8 7.3" class="m"/>
<path d="M2006 800.1l13.8 16.5-12 3-13.8-15.9z" fill="#97ff69"/>
<path d="M1994 803.7l13.8 15.9-12 3.1-13.8-15.4z" fill="#98fd66"/>
<path d="M1982 807.3l24-7.2 13.8 16.5" class="m"/>
<path d="M1782.9 790.4l13.8 9.3-12 4-13.8-9.1z" fill="#e6ff7c"/>
<path d="M1770.9 794.6l13.8 9.1-12 4-13.8-8.9z" fill="#e6fd79"/>
<path d="M1758.9 798.8l24-8.4 13.8 9.3" class="m"/>
<path d="M1559.8 791.5l13.8 7.1-11.9-4.2-13.8-7.2z" fill="#d9a65a"/>
<path d="M1547.9 787.2l13.8 7.2-12-4.1-13.8-7.4z" fill="#ce9c55"/>
<path d="M1535.9 782.9l23.9 8.6 13.8 7.1" class="m"/>
<path d="M1944.2 797l13.8 14.4-12 1.1-13.8-14.5z" fill="#9cec63"/>
<path d="M1932.2 798l13.8 14.5-12 1-13.8-14.5z" fill="#9de961"/>
<path d="M1920.2 799l24-2 13.8 14.4" class="m"/>
<path d="M1721.1 797.5l13.8 8.1-12 3.2-13.8-8.2z" fill="#eef075"/>
<path d="M1709.1 800.6l13.8 8.2-12 3.1-13.8-8.1z" fill="#f1ef73"/>
<path d="M1697.1 803.8l24-6.3 13.8 8.1" class="m"/>
<path d="M1498.1 763.5l13.8 6.6-6-13.2-13.8-6.6z" fill="#936134"/>
<path d="M1492.1 750.3l13.8 6.6-6-13.2-13.8-6.6z" fill="#9d683b"/>
<path d="M1486.1 737.1l13.8 6.6-6-13.2-13.8-6.6z" fill="#a86e41"/>
<path d="M1480.1 723.9l13.8 6.6-6-13.2-13.7-6.7z" fill="#b27448"/>
<path d="M1474.2 710.6l23.9 52.9 13.8 6.6M1487.9 717.3l-13.7-6.7" class="m"/>
<path d="M2105.6 808.5l6.9 16.2-12 3.6-6.9-14.3z" fill="#69e152"/>
<path d="M2093.6 814l6.9 14.3-12 3.6-6.9-12.5z" fill="#71ea56"/>
<path d="M2112.5 824.7l6.9 16.2-12 1.8-6.9-14.4z" fill="#60d448"/>
<path d="M2100.5 828.3l6.9 14.4-12 1.8-6.9-12.6z" fill="#69df4d"/>
<path d="M2081.6 819.4l24-10.9 13.8 32.4M2119.4 840.9l-24 3.6" class="m"/>
<path d="M1882.4 786.9l13.8 13.5-12 2.1-13.8-13.2z" fill="#b1ed6a"/>
<path d="M1870.4 789.3l13.8 13.2-12 2.2-13.8-12.9z" fill="#bbf66e"/>
<path d="M1858.4 791.8l24-4.9 13.8 13.5" class="m"/>
<path d="M1659.4 801.8l13.8 7.6-12 2.3-13.8-7.7z" fill="#f8e270"/>
<path d="M1647.4 804l13.8 7.7-12 2.3-13.8-7.7z" fill="#f8de6e"/>
<path d="M1635.4 806.3l24-4.5 13.8 7.6" class="m"/>
<path d="M2043.8 808l13.8 19.5-12 3.1-13.8-18.3z" fill="#8bff64"/>
<path d="M2031.8 812.3l13.8 18.3-12 3.2-13.8-17.2z" fill="#8fff62"/>
<path d="M2019.8 816.6l24-8.6 13.8 19.5" class="m"/>
<path d="M1820.6 789.5l13.9 11-12 4.7-13.8-10.6z" fill="#dcff7d"/>
<path d="M1808.7 794.6l13.8 10.6-12 4.7-13.8-10.2z" fill="#e0ff7b"/>
<path d="M1796.7 799.7l23.9-10.2 13.9 11" class="m"/>
<path d="M1597.6 800.9l13.8 7.4-12-1-13.8-7.6z" fill="#ecc364"/>
<path d="M1585.6 799.7l13.8 7.6-12-1-13.8-7.7z" fill="#e3b85f"/>
<path d="M1573.6 798.6l24 2.3 13.8 7.4" class="m"/>
<path d="M1982 807.3l13.8 15.4-12 1.9-13.8-15.2z" fill="#99f963"/>
<path d="M1970 809.4l13.8 15.2-12 2-13.8-15.2z" fill="#99f561"/>
<path d="M1958 811.4l24-4.1 13.8 15.4" class="m"/>
<path d="M1758.9 798.8l13.8 8.9-12 3.4-13.8-8.9z" fill="#e7fa76"/>
<path d="M1746.9 802.2l13.8 8.9-12 3.3-13.8-8.8z" fill="#eaf874"/>
<path d="M1734.9 805.6l24-6.8 13.8 8.9" class="m"/>
<path d="M1535.9 782.9l13.8 7.4-12-6.4-13.8-7.4z" fill="#b6874a"/>
<path d="M1523.9 776.5l13.8 7.4-12-6.4-13.8-7.4z" fill="#8e6738"/>
<path d="M1511.9 770.1l24 12.8 13.8 7.4" class="m"/>
<path d="M1920.2 799l13.8 14.5-12 .8-13.8-14.6z" fill="#a0e861"/>
<path d="M1908.2 799.7l13.8 14.6-12 .7-13.8-14.6z" fill="#a5ea62"/>
<path d="M1896.2 800.4l24-1.4 13.8 14.5" class="m"/>
<path d="M1697.1 803.8l13.8 8.1-12 2.8-13.8-8.1z" fill="#f3ed72"/>
<path d="M1685.1 806.6l13.8 8.1-11.9 2.8-13.8-8.1z" fill="#f6ec71"/>
<path d="M1673.2 809.4l23.9-5.6 13.8 8.1" class="m"/>
<path d="M2081.6 819.4l6.9 12.5-12 3-6.9-11.4z" fill="#78f158"/>
<path d="M2069.6 823.5l6.9 11.4-12 2.9-6.9-10.3z" fill="#7ef75a"/>
<path d="M2088.5 831.9l6.9 12.6-12 1.7-6.9-11.3z" fill="#71e950"/>
<path d="M2076.5 834.9l6.9 11.3-12 1.8-6.9-10.2z" fill="#78f053"/>
<path d="M2057.6 827.5l24-8.1 13.8 25.1M2095.4 844.5l-24 3.5" class="m"/>
<path d="M1858.4 791.8l13.8 12.9-11.9 3.9-13.9-12.5z" fill="#c5fd72"/>
<path d="M1846.4 796.1l13.9 12.5-12 3.9-13.8-12z" fill="#cfff76"/>
<path d="M1834.5 800.5l23.9-8.7 13.8 12.9" class="m"/>
<path d="M1635.4 806.3l13.8 7.7-12 1.1-13.8-7.8z" fill="#f6d96b"/>
<path d="M1623.4 807.3l13.8 7.8-12 1.1-13.8-7.9z" fill="#f3d368"/>
<path d="M1611.4 808.3l24-2 13.8 7.7" class="m"/>
<path d="M2019.8 816.6l13.8 17.2-12 2.4-13.8-16.6z" fill="#91ff61"/>
<path d="M2007.8 819.6l13.8 16.6-12 2.4-13.8-15.9z" fill="#94fe60"/>
<path d="M1995.8 822.7l24-6.1 13.8 17.2" class="m"/>
<path d="M1796.7 799.7l13.8 10.2-12 3.8-13.8-10z" fill="#e2ff79"/>
<path d="M1784.7 803.7l13.8 10-12 3.8-13.8-9.8z" fill="#e3ff76"/>
<path d="M1772.7 807.7l24-8 13.8 10.2" class="m"/>
<path d="M1573.6 798.6l13.8 7.7-12-3.9-13.7-8z" fill="#d8ad59"/>
<path d="M1561.7 794.4l13.7 8-11.9-3.9-13.8-8.2z" fill="#cda154"/>
<path d="M1549.7 790.3l23.9 8.3 13.8 7.7" class="m"/>
<path d="M1958 811.4l13.8 15.2-12 1.1-13.8-15.2z" fill="#9af15f"/>
<path d="M1946 812.5l13.8 15.2-12 1.2-13.8-15.4z" fill="#9cee5e"/>
<path d="M1934 813.5l24-2.1 13.8 15.2" class="m"/>
<path d="M1734.9 805.6l13.8 8.8-12 3.1-13.8-8.7z" fill="#ecf673"/>
<path d="M1722.9 808.8l13.8 8.7-12 3.1-13.8-8.7z" fill="#eff572"/>
<path d="M1710.9 811.9l24-6.3 13.8 8.8" class="m"/>
<path d="M1511.9 770.1l13.8 7.4-6-13-13.8-7.6z" fill="#946734"/>
<path d="M1505.9 756.9l13.8 7.6-6-13-13.8-7.8z" fill="#9e6d3b"/>
<path d="M1499.9 743.7l13.8 7.8-6-13-13.8-8z" fill="#a87341"/>
<path d="M1493.9 730.5l13.8 8-6-12.9-13.8-8.3z" fill="#b27a48"/>
<path d="M1487.9 717.3l24 52.8 13.8 7.4M1501.7 725.6l-13.8-8.3" class="m"/>
<path d="M1896.2 800.4l13.8 14.6-11.9 1.9-13.9-14.4z" fill="#acef65"/>
<path d="M1884.2 802.5l13.9 14.4-12 2-13.9-14.2z" fill="#b6f668"/>
<path d="M1872.2 804.7l24-4.3 13.8 14.6" class="m"/>
<path d="M1673.2 809.4l13.8 8.1-12 2.4-13.8-8.2z" fill="#f7e96f"/>
<path d="M1661.2 811.7l13.8 8.2-12 2.3-13.8-8.2z" fill="#f7e66d"/>
<path d="M1649.2 814l24-4.6 13.8 8.1" class="m"/>
<path d="M2057.6 827.5l6.9 10.3-12 2.4-6.9-9.6z" fill="#84fa5b"/>
<path d="M2045.6 830.6l6.9 9.6-12 2.5-6.9-8.9z" fill="#89fd5b"/>
<path d="M2064.5 837.8l6.9 10.2-11.9 1.8-7-9.6z" fill="#7ff655"/>
<path d="M2052.5 840.2l7 9.6-12 1.8-7-8.9z" fill="#85fa57"/>
<path d="M2033.6 833.8l24-6.3 13.8 20.5M2071.4 848l-23.9 3.6" class="m"/>
<path d="M1834.5 800.5l13.8 12-12 4.2-13.8-11.5z" fill="#d6ff77"/>
<path d="M1822.5 805.2l13.8 11.5-12 4.3-13.8-11.1z" fill="#daff76"/>
<path d="M1810.5 809.9l24-9.4 13.8 12" class="m"/>
<path d="M1611.4 808.3l13.8 7.9-12-.8-13.8-8.1z" fill="#ecca64"/>
<path d="M1599.4 807.3l13.8 8.1-12-.9-13.8-8.2z" fill="#e3bf5e"/>
<path d="M1587.4 806.3l24 2 13.8 7.9" class="m"/>
<path d="M1995.8 822.7l13.8 15.9-11.9 1.9-13.9-15.9z" fill="#96fc5f"/>
<path d="M1983.8 824.6l13.9 15.9-12 1.8-13.9-15.7z" fill="#97f95d"/>
<path d="M1971.8 826.6l24-3.9 13.8 15.9" class="m"/>
<path d="M1772.7 807.7l13.8 9.8-12 3.2-13.8-9.6z" fill="#e4ff74"/>
<path d="M1760.7 811.1l13.8 9.6-12 3.1-13.8-9.4z" fill="#e7fd72"/>
<path d="M1748.7 814.4l24-6.7 13.8 9.8" class="m"/>
<path d="M1549.7 790.3l13.8 8.2-12-6.3-13.8-8.3z" fill="#b68c49"/>
<path d="M1537.7 783.9l13.8 8.3-12-6.4-13.8-8.3z" fill="#8e6b37"/>
<path d="M1525.7 777.5l24 12.8 13.8 8.2" class="m"/>
<path d="M1934 813.5l13.8 15.4-11.9 1-13.9-15.6z" fill="#9eed5e"/>
<path d="M1922 814.3l13.9 15.6-12 .9-13.9-15.8z" fill="#a2ee5e"/>
<path d="M1910 815l24-1.5 13.8 15.4" class="m"/>
<path d="M1710.9 811.9l13.8 8.7-12 2.8-13.8-8.7z" fill="#f2f471"/>
<path d="M1698.9 814.7l13.8 8.7-11.9 2.8-13.8-8.7z" fill="#f4f270"/>
<path d="M1687 817.5l23.9-5.6 13.8 8.7" class="m"/>
<path d="M1872.2 804.7l13.9 14.2-12 3.4-13.8-13.7z" fill="#bffd6c"/>
<path d="M1860.3 808.6l13.8 13.7-12 3.4-13.8-13.2z" fill="#c8ff6f"/>
<path d="M1848.3 812.5l23.9-7.8 13.9 14.2" class="m"/>
<path d="M1649.2 814l13.8 8.2-12 1.2-13.8-8.3z" fill="#f6e16b"/>
<path d="M1637.2 815.1l13.8 8.3-12 1.2-13.8-8.4z" fill="#f3da67"/>
<path d="M1625.2 816.2l24-2.2 13.8 8.2" class="m"/>
<path d="M2033.6 833.8l13.9 17.8-12 1.8-13.9-17.2z" fill="#8cfe5a"/>
<path d="M2021.6 836.2l13.9 17.2-12 1.7-13.9-16.5z" fill="#90ff5a"/>
<path d="M2009.6 838.6l24-4.8 13.9 17.8M2047.5 851.6l-24 3.5" class="m"/>
<path d="M1810.5 809.9l13.8 11.1-12 3.5-13.8-10.8z" fill="#ddff74"/>
<path d="M1798.5 813.7l13.8 10.8-12 3.5-13.8-10.5z" fill="#deff72"/>
<path d="M1786.5 817.5l24-7.6 13.8 11.1" class="m"/>
<path d="M1587.4 806.3l13.8 8.2-12-3.5-13.8-8.6z" fill="#d9b459"/>
<path d="M1575.4 802.4l13.8 8.6-12-3.6-13.7-8.9z" fill="#cea854"/>
<path d="M1563.5 798.5l23.9 7.8 13.8 8.2" class="m"/>
<path d="M1971.8 826.6l13.9 15.7-12 1.4-13.9-16z" fill="#99f65c"/>
<path d="M1959.8 827.7l13.9 16-12 1.5-13.9-16.3z" fill="#9bf35b"/>
<path d="M1947.8 828.9l24-2.3 13.9 15.7" class="m"/>
<path d="M1748.7 814.4l13.8 9.4-12 3.1-13.8-9.4z" fill="#eafc71"/>
<path d="M1736.7 817.5l13.8 9.4-12 3-13.8-9.3z" fill="#edfb70"/>
<path d="M1724.7 820.6l24-6.2 13.8 9.4" class="m"/>
<path d="M1525.7 777.5l13.8 8.3-6-12.6-13.8-8.7z" fill="#946b34"/>
<path d="M1519.7 764.5l13.8 8.7-6-12.7-13.8-9z" fill="#9e723a"/>
<path d="M1513.7 751.5l13.8 9-6-12.7-13.8-9.3z" fill="#a87941"/>
<path d="M1507.7 738.5l13.8 9.3-6-12.7-13.8-9.5z" fill="#b37f47"/>
<path d="M1501.7 725.6l24 51.9 13.8 8.3M1515.5 735.1l-13.8-9.5" class="m"/>
<path d="M1910 815l13.9 15.8-12 1.8-13.8-15.7z" fill="#a8f160"/>
<path d="M1898.1 816.9l13.8 15.7-12 1.7-13.8-15.4z" fill="#b0f763"/>
<path d="M1886.1 818.9l23.9-3.9 13.9 15.8" class="m"/>
<path d="M1687 817.5l13.8 8.7-12 2.3-13.8-8.6z" fill="#f6f06e"/>
<path d="M1675 819.9l13.8 8.6-12 2.3-13.8-8.6z" fill="#f6ed6c"/>
<path d="M1663 822.2l24-4.7 13.8 8.7" class="m"/>
<path d="M1848.3 812.5l13.8 13.2-12 3.7-13.8-12.7z" fill="#cfff70"/>
<path d="M1836.3 816.7l13.8 12.7-12 3.7-13.8-12.1z" fill="#d3ff70"/>
<path d="M1824.3 821l24-8.5 13.8 13.2" class="m"/>
<path d="M1625.2 816.2l13.8 8.4-12-.6-13.8-8.6z" fill="#edd263"/>
<path d="M1613.2 815.4l13.8 8.6-12-.7-13.8-8.8z" fill="#e4c75e"/>
<path d="M1601.2 814.5l24 1.7 13.8 8.4" class="m"/>
<path d="M2009.6 838.6l13.9 16.5-12 1.8-13.8-16.4z" fill="#93ff5a"/>
<path d="M1997.7 840.5l13.8 16.4-12 1.8-13.8-16.4z" fill="#96fe5a"/>
<path d="M1985.7 842.3l23.9-3.7 13.9 16.5M2023.5 855.1l-24 3.6" class="m"/>
<path d="M1786.5 817.5l13.8 10.5-12 3-13.8-10.3z" fill="#e1ff70"/>
<path d="M1774.5 820.7l13.8 10.3-12 3-13.8-10.2z" fill="#e4ff6f"/>
<path d="M1762.5 823.8l24-6.3 13.8 10.5" class="m"/>
<path d="M1563.5 798.5l13.7 8.9-11.9-6.1-13.8-9.1z" fill="#b69249"/>
<path d="M1551.5 792.2l13.8 9.1-12-6.2-13.8-9.3z" fill="#8f7037"/>
<path d="M1539.5 785.8l24 12.7 13.7 8.9" class="m"/>
<path d="M1947.8 828.9l13.9 16.3-12 1.2-13.8-16.5z" fill="#9df25a"/>
<path d="M1935.9 829.9l13.8 16.5-12 1.3-13.8-16.9z" fill="#a0f25b"/>
<path d="M1923.9 830.8l23.9-1.9 13.9 16.3" class="m"/>
<path d="M1724.7 820.6l13.8 9.3-12 2.7-13.8-9.2z" fill="#f0fa6f"/>
<path d="M1712.7 823.4l13.8 9.2-11.9 2.8-13.8-9.2z" fill="#f3f96e"/>
<path d="M1700.8 826.2l23.9-5.6 13.8 9.3" class="m"/>
<path d="M1886.1 818.9l13.8 15.4-12 2.9-13.8-14.9z" fill="#b8fc65"/>
<path d="M1874.1 822.3l13.8 14.9-12 2.9-13.8-14.4z" fill="#c0ff68"/>
<path d="M1862.1 825.7l24-6.8 13.8 15.4" class="m"/>
<path d="M1663 822.2l13.8 8.6-12 1.4-13.8-8.8z" fill="#f5e86a"/>
<path d="M1651 823.4l13.8 8.8-12 1.3-13.8-8.9z" fill="#f2e267"/>
<path d="M1639 824.6l24-2.4 13.8 8.6" class="m"/>
<path d="M1824.3 821l13.8 12.1-12 3.2-13.8-11.8z" fill="#d7ff6f"/>
<path d="M1812.3 824.5l13.8 11.8-12 3.2-13.8-11.5z" fill="#daff6e"/>
<path d="M1800.3 828l24-7 13.8 12.1" class="m"/>
<path d="M1601.2 814.5l13.8 8.8-12-3.1-13.8-9.2z" fill="#dbbc59"/>
<path d="M1589.2 811l13.8 9.2-12-3.2-13.8-9.6z" fill="#cfaf54"/>
<path d="M1577.2 807.4l24 7.1 13.8 8.8" class="m"/>
<path d="M1985.7 842.3l13.8 16.4-12 1.8-13.8-16.8z" fill="#99fd59"/>
<path d="M1973.7 843.7l13.8 16.8-12 1.7-13.8-17z" fill="#9bfb59"/>
<path d="M1961.7 845.2l24-2.9 13.8 16.4M1999.5 858.7l-24 3.5" class="m"/>
<path d="M1762.5 823.8l13.8 10.2-12 2.9-13.8-10z" fill="#e7ff6e"/>
<path d="M1750.5 826.9l13.8 10-12 2.9-13.8-9.9z" fill="#ebff6e"/>
<path d="M1738.5 829.9l24-6.1 13.8 10.2" class="m"/>
<path d="M1539.5 785.8l13.8 9.3-6-12.3-13.8-9.6z" fill="#936f33"/>
<path d="M1533.5 773.2l13.8 9.6-6-12.3-13.8-10z" fill="#9d7639"/>
<path d="M1527.5 760.5l13.8 10-6-12.3-13.8-10.4z" fill="#a87d40"/>
<path d="M1521.5 747.8l13.8 10.4-6-12.3-13.8-10.8z" fill="#b28447"/>
<path d="M1515.5 735.1l24 50.7 13.8 9.3M1529.3 745.9l-13.8-10.8" class="m"/>
<path d="M1923.9 830.8l13.8 16.9-12 1.7-13.8-16.8z" fill="#a5f35b"/>
<path d="M1911.9 832.6l13.8 16.8-12 1.8-13.8-16.9z" fill="#abf75d"/>
<path d="M1899.9 834.3l24-3.5 13.8 16.9" class="m"/>
<path d="M1700.8 826.2l13.8 9.2-12 2.3-13.8-9.2z" fill="#f4f66d"/>
<path d="M1688.8 828.5l13.8 9.2-12 2.3-13.8-9.2z" fill="#f5f36b"/>
<path d="M1676.8 830.8l24-4.6 13.8 9.2" class="m"/>
<path d="M1862.1 825.7l13.8 14.4-12 3.2-13.8-13.9z" fill="#c7ff69"/>
<path d="M1850.1 829.4l13.8 13.9-12 3.1-13.8-13.3z" fill="#ccff69"/>
<path d="M1838.1 833.1l24-7.4 13.8 14.4" class="m"/>
<path d="M1639 824.6l13.8 8.9-12-.4-13.8-9.1z" fill="#eeda63"/>
<path d="M1627 824l13.8 9.1-12-.3-13.8-9.5z" fill="#e6cf5e"/>
<path d="M1615 823.3l24 1.3 13.8 8.9" class="m"/>
<path d="M1800.3 828l13.8 11.5-12 2.8-13.8-11.3z" fill="#ddff6c"/>
<path d="M1788.3 831l13.8 11.3-12 2.8-13.8-11.1z" fill="#e0ff6c"/>
<path d="M1776.3 834l24-6 13.8 11.5" class="m"/>
<path d="M1577.2 807.4l13.8 9.6-11.9-5.7-13.8-10z" fill="#b79849"/>
<path d="M1565.3 801.3l13.8 10-12-5.8-13.8-10.4z" fill="#907537"/>
<path d="M1553.3 795.1l23.9 12.3 13.8 9.6" class="m"/>
<path d="M1961.7 845.2l13.8 17-12 1.8-13.8-17.6z" fill="#9df958"/>
<path d="M1949.7 846.4l13.8 17.6-12 1.8-13.8-18.1z" fill="#a0f857"/>
<path d="M1937.7 847.7l24-2.5 13.8 17M1975.5 862.2l-24 3.6" class="m"/>
<path d="M1738.5 829.9l13.8 9.9-12 2.7-13.8-9.9z" fill="#eeff6d"/>
<path d="M1726.5 832.6l13.8 9.9-11.9 2.7-13.8-9.8z" fill="#f1fe6c"/>
<path d="M1714.6 835.4l23.9-5.5 13.8 9.9" class="m"/>
<path d="M1899.9 834.3l13.8 16.9-12 2.3-13.8-16.3z" fill="#b2fb5f"/>
<path d="M1887.9 837.2l13.8 16.3-12 2.3-13.8-15.7z" fill="#b9ff61"/>
<path d="M1875.9 840.1l24-5.8 13.8 16.9" class="m"/>
<path d="M1676.8 830.8l13.8 9.2-12 1.5-13.8-9.3z" fill="#f5ef69"/>
<path d="M1664.8 832.2l13.8 9.3-12 1.4-13.8-9.4z" fill="#f2e966"/>
<path d="M1652.8 833.5l24-2.7 13.8 9.2" class="m"/>
<path d="M1838.1 833.1l13.8 13.3-12 2.8-13.8-12.9z" fill="#d1ff69"/>
<path d="M1826.1 836.3l13.8 12.9-12 2.8-13.8-12.5z" fill="#d4ff68"/>
<path d="M1814.1 839.5l24-6.4 13.8 13.3" class="m"/>
<path d="M1615 823.3l13.8 9.5-12-2.7-13.8-9.9z" fill="#ddc45a"/>
<path d="M1603 820.2l13.8 9.9-12-2.7-13.8-10.4z" fill="#d2b754"/>
<path d="M1591 817l24 6.3 13.8 9.5" class="m"/>
<path d="M1776.3 834l13.8 11.1-12 2.7-13.8-10.9z" fill="#e3ff6b"/>
<path d="M1764.3 836.9l13.8 10.9-12 2.7-13.8-10.7z" fill="#e7ff6b"/>
<path d="M1752.3 839.8l24-5.8 13.8 11.1" class="m"/>
<path d="M1553.3 795.1l13.8 10.4-8-15.8-13.8-11z" fill="#947433"/>
<path d="M1545.3 778.7l13.8 11-8-15.8-13.8-11.6z" fill="#a27e3b"/>
<path d="M1537.3 762.3l13.8 11.6-8-15.8-13.8-12.2z" fill="#b08844"/>
<path d="M1529.3 745.9l24 49.2 13.8 10.4M1543.1 758.1l-13.8-12.2" class="m"/>
<path d="M1937.7 847.7l13.8 18.1-12 1.8-13.8-18.2z" fill="#a3f857"/>
<path d="M1925.7 849.4l13.8 18.2-12 1.8-13.8-18.2z" fill="#a7f958"/>
<path d="M1913.7 851.2l24-3.5 13.8 18.1M1951.5 865.8l-24 3.6" class="m"/>
<path d="M1714.6 835.4l13.8 9.8-12 2.3-13.8-9.8z" fill="#f3fc6b"/>
<path d="M1702.6 837.7l13.8 9.8-12 2.3-13.8-9.8z" fill="#f4fa69"/>
<path d="M1690.6 840l24-4.6 13.8 9.8" class="m"/>
<path d="M1875.9 840.1l13.8 15.7-12 2.5-13.8-15z" fill="#bfff62"/>
<path d="M1863.9 843.3l13.8 15-12 2.5-13.8-14.4z" fill="#c5ff63"/>
<path d="M1851.9 846.4l24-6.3 13.8 15.7" class="m"/>
<path d="M1652.8 833.5l13.8 9.4-24-.1-13.8-10z" fill="#ebdd60"/>
<path d="M1628.8 832.8l24 .7 13.8 9.4" class="m"/>
<path d="M1814.1 839.5l13.8 12.5-12 2.5-13.8-12.2z" fill="#d8ff68"/>
<path d="M1802.1 842.3l13.8 12.2-12 2.5-13.8-11.9z" fill="#dbff68"/>
<path d="M1790.1 845.1l24-5.6 13.8 12.5" class="m"/>
<path d="M1591 817l13.8 10.4-12-5.3-13.7-10.8z" fill="#baa049"/>
<path d="M1579.1 811.3l13.7 10.8-11.9-5.3-13.8-11.3z" fill="#927b38"/>
<path d="M1567.1 805.5l23.9 11.5 13.8 10.4" class="m"/>
<path d="M1752.3 839.8l13.8 10.7-12 2.5-13.8-10.5z" fill="#ebff6a"/>
<path d="M1740.3 842.5l13.8 10.5-11.9 2.6-13.8-10.4z" fill="#eeff6a"/>
<path d="M1728.4 845.2l23.9-5.4 13.8 10.7" class="m"/>
<path d="M1913.7 851.2l13.8 18.2-12 1.7-13.8-17.6z" fill="#acfb59"/>
<path d="M1901.7 853.5l13.8 17.6-12 1.8-13.8-17.1z" fill="#b2fe5a"/>
<path d="M1889.7 855.8l24-4.6 13.8 18.2M1927.5 869.4l-24 3.5" class="m"/>
<path d="M1690.6 840l13.8 9.8-12 1.5-13.8-9.8z" fill="#f4f667"/>
<path d="M1678.6 841.5l13.8 9.8-12 1.5-13.8-9.9z" fill="#f2f165"/>
<path d="M1666.6 842.9l24-2.9 13.8 9.8" class="m"/>
<path d="M1851.9 846.4l13.8 14.4-12 2.3-13.8-13.9z" fill="#c9ff63"/>
<path d="M1839.9 849.2l13.8 13.9-12 2.4-13.8-13.5z" fill="#ceff63"/>
<path d="M1827.9 852l24-5.6 13.8 14.4" class="m"/>
<path d="M1628.8 832.8l13.8 10-12-2.1-13.8-10.6z" fill="#dfcd5a"/>
<path d="M1616.8 830.1l13.8 10.6-12-2.2-13.8-11.1z" fill="#d5c155"/>
<path d="M1604.8 827.4l24 5.4 13.8 10" class="m"/>
<path d="M1790.1 845.1l13.8 11.9-12 2.5-13.8-11.7z" fill="#dfff67"/>
<path d="M1778.1 847.8l13.8 11.7-12 2.4-13.8-11.4z" fill="#e3ff67"/>
<path d="M1766.1 850.5l24-5.4 13.8 11.9" class="m"/>
<path d="M1567.1 805.5l13.8 11.3-8-14.9-13.8-12.2z" fill="#927731"/>
<path d="M1559.1 789.7l13.8 12.2-8-15-13.8-13z" fill="#a0823a"/>
<path d="M1551.1 773.9l13.8 13-8-14.9-13.8-13.9z" fill="#ae8c42"/>
<path d="M1543.1 758.1l24 47.4 13.8 11.3M1556.9 772l-13.8-13.9" class="m"/>
<path d="M1728.4 845.2l13.8 10.4-12 2.2-13.8-10.3z" fill="#f0ff69"/>
<path d="M1716.4 847.5l13.8 10.3-12 2.3-13.8-10.3z" fill="#f2ff67"/>
<path d="M1704.4 849.8l24-4.6 13.8 10.4" class="m"/>
<path d="M1889.7 855.8l13.8 17.1-12 1.8-13.8-16.4z" fill="#b8ff5b"/>
<path d="M1877.7 858.3l13.8 16.4-12 1.8-13.8-15.7z" fill="#bdff5c"/>
<path d="M1865.7 860.8l24-5 13.8 17.1M1903.5 872.9l-24 3.6" class="m"/>
<path d="M1666.6 842.9l13.8 9.9-24 .5-13.8-10.5z" fill="#ede660"/>
<path d="M1642.6 842.8l24 .1 13.8 9.9" class="m"/>
<path d="M1827.9 852l13.8 13.5-12 2.1-13.8-13.1z" fill="#d2ff63"/>
<path d="M1815.9 854.5l13.8 13.1-12 2.2-13.8-12.8z" fill="#d6ff63"/>
<path d="M1803.9 857l24-5 13.8 13.5" class="m"/>
<path d="M1604.8 827.4l13.8 11.1-12-4.6-13.8-11.8z" fill="#bea94a"/>
<path d="M1592.8 822.1l13.8 11.8-12-4.6-13.7-12.5z" fill="#978439"/>
<path d="M1580.9 816.8l23.9 10.6 13.8 11.1" class="m"/>
<path d="M1766.1 850.5l13.8 11.4-12 2.4-13.8-11.3z" fill="#e7ff67"/>
<path d="M1754.1 853l13.8 11.3-11.9 2.3-13.8-11z" fill="#ebff67"/>
<path d="M1742.2 855.6l23.9-5.1 13.8 11.4" class="m"/>
<path d="M1704.4 849.8l13.8 10.3-12 1.6-13.8-10.4z" fill="#f3fc66"/>
<path d="M1692.4 851.3l13.8 10.4-12 1.6-13.8-10.5z" fill="#f2f864"/>
<path d="M1680.4 852.8l24-3 13.8 10.3" class="m"/>
<path d="M1865.7 860.8l13.8 15.7-12 1.7-13.8-15.1z" fill="#c3ff5d"/>
<path d="M1853.7 863.1l13.8 15.1-12 1.8-13.8-14.5z" fill="#c8ff5d"/>
<path d="M1841.7 865.5l24-4.7 13.8 15.7M1879.5 876.5l-24 3.5" class="m"/>
<path d="M1642.6 842.8l13.8 10.5-12-1.4-13.8-11.2z" fill="#e3d75a"/>
<path d="M1630.6 840.7l13.8 11.2-12-1.5-13.8-11.9z" fill="#d9cb55"/>
<path d="M1618.6 838.5l24 4.3 13.8 10.5" class="m"/>
<path d="M1803.9 857l13.8 12.8-12 2.2-13.8-12.5z" fill="#daff63"/>
<path d="M1791.9 859.5l13.8 12.5-12 2.1-13.8-12.2z" fill="#dfff63"/>
<path d="M1779.9 861.9l24-4.9 13.8 12.8" class="m"/>
<path d="M1580.9 816.8l13.7 12.5-8-13.8-13.7-13.6z" fill="#8e792f"/>
<path d="M1572.9 801.9l13.7 13.6-7.9-13.8-13.8-14.8z" fill="#9d8437"/>
<path d="M1564.9 786.9l13.8 14.8-8-13.8-13.8-15.9z" fill="#ac8f3f"/>
<path d="M1556.9 772l24 44.8 13.7 12.5M1570.7 787.9l-13.8-15.9" class="m"/>
<path d="M1742.2 855.6l13.8 11-12 2.2-13.8-11z" fill="#eeff66"/>
<path d="M1730.2 857.8l13.8 11-12 2.1-13.8-10.8z" fill="#f0ff65"/>
<path d="M1718.2 860.1l24-4.5 13.8 11" class="m"/>
<path d="M1680.4 852.8l13.8 10.5-12 .6-13.8-10.8z" fill="#f0f261"/>
<path d="M1668.4 853.1l13.8 10.8-12 .6-13.8-11.2z" fill="#edeb5e"/>
<path d="M1656.4 853.3l24-.5 13.8 10.5" class="m"/>
<path d="M1841.7 865.5l13.8 14.5-12 1.8-13.8-14.2z" fill="#ccff5e"/>
<path d="M1829.7 867.6l13.8 14.2-12 1.8-13.8-13.8z" fill="#d1ff5e"/>
<path d="M1817.7 869.8l24-4.3 13.8 14.5M1855.5 880l-24 3.6" class="m"/>
<path d="M1618.6 838.5l13.8 11.9-12-3.8-13.8-12.7z" fill="#c3b34b"/>
<path d="M1606.6 833.9l13.8 12.7-12-3.8-13.8-13.5z" fill="#9d8e3a"/>
<path d="M1594.6 829.3l24 9.2 13.8 11.9" class="m"/>
<path d="M1779.9 861.9l13.8 12.2-12 2.1-13.8-11.9z" fill="#e3ff63"/>
<path d="M1767.9 864.3l13.8 11.9-11.9 2.1-13.8-11.7z" fill="#e7ff63"/>
<path d="M1756 866.6l23.9-4.7 13.8 12.2" class="m"/>
<path d="M1718.2 860.1l13.8 10.8-12 1.7-13.8-10.9z" fill="#f2ff64"/>
<path d="M1706.2 861.7l13.8 10.9-12 1.7-13.8-11z" fill="#f2ff62"/>
<path d="M1694.2 863.3l24-3.2 13.8 10.8" class="m"/>
<path d="M1656.4 853.3l13.8 11.2-12-.8-13.8-11.8z" fill="#e7e25b"/>
<path d="M1644.4 851.9l13.8 11.8-12-.7-13.8-12.6z" fill="#dfd756"/>
<path d="M1632.4 850.4l24 2.9 13.8 11.2" class="m"/>
<path d="M1817.7 869.8l13.8 13.8-12 1.7-13.8-13.3z" fill="#d6ff5f"/>
<path d="M1805.7 872l13.8 13.3-12 1.8-13.8-13z" fill="#daff5f"/>
<path d="M1793.7 874.1l24-4.3 13.8 13.8M1831.5 883.6l-24 3.5" class="m"/>
<path d="M1594.6 829.3l13.8 13.5-8-12.2-13.8-15.1z" fill="#88782b"/>
<path d="M1586.6 815.5l13.8 15.1-8-12.2-13.7-16.7z" fill="#978433"/>
<path d="M1578.7 801.7l13.7 16.7-8-12.2-13.7-18.3z" fill="#a7913c"/>
<path d="M1570.7 787.9l23.9 41.4 13.8 13.5M1584.4 806.2l-13.7-18.3" class="m"/>
<path d="M1756 866.6l13.8 11.7-12 2-13.8-11.5z" fill="#ebff63"/>
<path d="M1744 868.8l13.8 11.5-12 2-13.8-11.4z" fill="#eeff63"/>
<path d="M1732 870.9l24-4.3 13.8 11.7" class="m"/>
<path d="M1694.2 863.3l13.8 11-12 .9-13.8-11.3z" fill="#f1fb61"/>
<path d="M1682.2 863.9l13.8 11.3-12 1-13.8-11.7z" fill="#eff55e"/>
<path d="M1670.2 864.5l24-1.2 13.8 11" class="m"/>
<path d="M1632.4 850.4l13.8 12.6-12-2.8-13.8-13.6z" fill="#cbc04d"/>
<path d="M1620.4 846.6l13.8 13.6-12-2.7-13.8-14.7z" fill="#a79c3d"/>
<path d="M1608.4 842.8l24 7.6 13.8 12.6" class="m"/>
<path d="M1793.7 874.1l13.8 13-12 1.8-13.8-12.7z" fill="#dfff60"/>
<path d="M1781.7 876.2l13.8 12.7-11.9 1.8-13.8-12.4z" fill="#e4ff60"/>
<path d="M1769.8 878.3l23.9-4.2 13.8 13M1807.5 887.1l-23.9 3.6" class="m"/>
<path d="M1732 870.9l13.8 11.4-12 1.7-13.8-11.4z" fill="#f0ff62"/>
<path d="M1720 872.6l13.8 11.4-12 1.8-13.8-11.5z" fill="#f2ff61"/>
<path d="M1708 874.3l24-3.4 13.8 11.4" class="m"/>
<path d="M1670.2 864.5l13.8 11.7-12 0-13.8-12.5z" fill="#ebed5b"/>
<path d="M1658.2 863.7l13.8 12.5-12 0-13.8-13.2z" fill="#e5e358"/>
<path d="M1646.2 863l24 1.5 13.8 11.7" class="m"/>
<path d="M1608.4 842.8l6.9 7.4-8-11.2-6.9-8.4z" fill="#847729"/>
<path d="M1600.4 830.6l6.9 8.4-8-11.1-6.9-9.5z" fill="#91822f"/>
<path d="M1592.4 818.4l6.9 9.5-8-11.1-6.9-10.6z" fill="#a29038"/>
<path d="M1615.3 850.2l6.9 7.3-8-10-6.9-8.5z" fill="#847928"/>
<path d="M1607.3 839l6.9 8.5-8-10.1-6.9-9.5z" fill="#8c7f2c"/>
<path d="M1599.3 827.9l6.9 9.5-8-10-6.9-10.6z" fill="#9d8e34"/>
<path d="M1584.4 806.2l24 36.6 13.8 14.7M1598.2 827.4l-13.8-21.2" class="m"/>
<path d="M1769.8 878.3l13.8 12.4-12 1.8-13.8-12.2z" fill="#e8ff60"/>
<path d="M1757.8 880.3l13.8 12.2-12 1.7-13.8-11.9z" fill="#ecff60"/>
<path d="M1745.8 882.3l24-4 13.8 12.4M1783.6 890.7l-24 3.5" class="m"/>
<path d="M1708 874.3l13.8 11.5-12 1.3-13.8-11.9z" fill="#f3ff60"/>
<path d="M1696 875.2l13.8 11.9-12 1.4-13.8-12.3z" fill="#f2ff5e"/>
<path d="M1684 876.2l24-1.9 13.8 11.5" class="m"/>
<path d="M1646.2 863l13.8 13.2-12-1.4-13.8-14.6z" fill="#d4cf50"/>
<path d="M1634.2 860.2l13.8 14.6-12-1.5-13.8-15.8z" fill="#b6af42"/>
<path d="M1622.2 857.5l24 5.5 13.8 13.2" class="m"/>
<path d="M1745.8 882.3l13.8 11.9-12 1.8-13.8-12z" fill="#efff60"/>
<path d="M1733.8 884l13.8 12-12 1.8-13.8-12z" fill="#f2ff60"/>
<path d="M1721.8 885.8l24-3.5 13.8 11.9M1759.6 894.2l-24 3.6" class="m"/>
<path d="M1684 876.2l13.8 12.3-12 .9-13.8-13.2z" fill="#f0f95c"/>
<path d="M1672 876.2l13.8 13.2-12 .8-13.8-14z" fill="#ecf159"/>
<path d="M1660 876.2l24 0 13.8 12.3" class="m"/>
<path d="M1622.2 857.5l6.9 7.9-12-12.9-6.9-10.1z" fill="#958c35"/>
<path d="M1610.2 842.4l6.9 10.1-12-12.9-6.9-12.2z" fill="#8a8032"/>
<path d="M1629.1 865.4l6.9 7.9-12-10.7-6.9-10.1z" fill="#9f9839"/>
<path d="M1617.1 852.5l6.9 10.1-12-10.8-6.9-12.2z" fill="#8a8231"/>
<path d="M1598.2 827.4l24 30.1 13.8 15.8M1612 851.8l-13.8-24.4" class="m"/>
<path d="M1721.8 885.8l13.8 12-12 1.8-13.8-12.5z" fill="#f4ff5f"/>
<path d="M1709.8 887.1l13.8 12.5-12 1.7-13.8-12.8z" fill="#f6ff5e"/>
<path d="M1697.8 888.5l24-2.7 13.8 12M1735.6 897.8l-24 3.5" class="m"/>
<path d="M1660 876.2l13.8 14-12 .1-13.8-15.5z" fill="#e0e253"/>
<path d="M1648 874.8l13.8 15.5-12 0-13.8-17z" fill="#cac949"/>
<path d="M1636 873.3l24 2.9 13.8 14" class="m"/>
<path d="M1697.8 888.5l13.8 12.8-12 1.8-13.8-13.7z" fill="#f6ff5d"/>
<path d="M1685.8 889.4l13.8 13.7-12 1.8-13.8-14.7z" fill="#f5ff5b"/>
<path d="M1673.8 890.2l24-1.7 13.8 12.8M1711.6 901.3l-24 3.6" class="m"/>
<path d="M1636 873.3l6.9 8.5-12-8-6.9-11.2z" fill="#aba63d"/>
<path d="M1624 862.6l6.9 11.2-12-8-6.9-14z" fill="#938c33"/>
<path d="M1642.9 881.8l6.9 8.5-12-5.2-6.9-11.3z" fill="#bab842"/>
<path d="M1630.9 873.8l6.9 11.3-12-5.3-6.9-14z" fill="#a19d38"/>
<path d="M1612 851.8l24 21.5 13.8 17M1625.8 879.8l-13.8-28" class="m"/>
<path d="M1673.8 890.2l13.8 14.7-12 1.8-13.8-16.4z" fill="#f0f857"/>
<path d="M1661.8 890.3l13.8 16.4-12 1.7-13.8-18.1z" fill="#e6eb52"/>
<path d="M1649.8 890.3l24-.1 13.8 14.7M1687.6 904.9l-24 3.5" class="m"/>
<path d="M1649.8 890.3l6.9 9.1-12-1.8-6.9-12.5z" fill="#cccc48"/>
<path d="M1637.8 885.1l6.9 12.5-12-1.7-6.9-16.1z" fill="#b4b13d"/>
<path d="M1656.7 899.4l6.9 9-12 1.8-6.9-12.6z" fill="#e1e44e"/>
<path d="M1644.7 897.6l6.9 12.6-12 1.8-6.9-16.1z" fill="#caca44"/>
<path d="M1625.8 879.8l24 10.5 13.8 18.1M1663.6 908.4l-24 3.6M1639.6 912l-13.8-32.2" class="m"/>
</g>
</g>
<g filter="url(#bt)">
<g class="s">
<path d="M106.7 120.2L681.3 36.6" class="b"/>
<path d="M681.3 36.6L1013.4 184.7" class="b"/>
<path d="M1013.4 184.7L437.6 270" class="b"/>
<path d="M437.6 270L106.7 120.2" class="b"/>
<path d="M106.7 788.2L106.7 120.2" class="t"/>
<path d="M437.6 940L437.6 270" class="t"/>
<path d="M1013.4 852.7L1013.4 184.7" class="t"/>
<path d="M106.7 762.2L437.6 912" class="b"/>
<path d="M437.6 912L1013.4 826.7" class="b"/>
<path d="M82.7 762.2L106.7 762.2" class="t"/>
<text x="81.7" y="774.4" class="l" text-anchor="end">0</text>
<path d="M94.7 698L106.7 698" class="t"/>
<path d="M82.7 633.8L106.7 633.8" class="t"/>
<text x="81.7" y="646" class="l" text-anchor="end">0.2</text>
<path d="M94.7 569.6L106.7 569.6" class="t"/>
<path d="M82.7 505.4L106.7 505.4" class="t"/>
<text x="81.7" y="517.6" class="l" text-anchor="end">0.4</text>
<path d="M94.7 441.2L106.7 441.2" class="t"/>
<path d="M82.7 377L106.7 377" class="t"/>
<text x="81.7" y="389.2" class="l" text-anchor="end">0.6</text>
<path d="M94.7 312.8L106.7 312.8" class="t"/>
<path d="M82.7 248.6L106.7 248.6" class="t"/>
<text x="81.7" y="260.8" class="l" text-anchor="end">0.8</text>
<path d="M94.7 184.4L106.7 184.4" class="t"/>
<path d="M82.7 120.2L106.7 120.2" class="t"/>
<text x="81.7" y="132.4" class="l" text-anchor="end">1</text>
<text x="106.2" y="823.8" class="l" text-anchor="middle">0</text>
<path d="M139.8 777.2L139.8 789.7" class="t"/>
<path d="M172.9 792.2L172.9 818.2" class="t"/>
<text x="172.4" y="853.8" class="l" text-anchor="middle">0.2</text>
<path d="M206 807.1L206 819.6" class="t"/>
<path d="M239.1 822.1L239.1 848.1" class="t"/>
<text x="238.6" y="883.7" class="l" text-anchor="middle">0.4</text>
<path d="M272.2 837.1L272.2 849.6" class="t"/>
<path d="M305.2 852.1L305.2 878.1" class="t"/>
<text x="304.7" y="913.7" class="l" text-anchor="middle">0.6</text>
<path d="M338.3 867.1L338.3 879.6" class="t"/>
<path d="M371.4 882L371.4 908" class="t"/>
<text x="370.9" y="943.6" class="l" text-anchor="middle">0.8</text>
<path d="M404.5 897L404.5 909.5" class="t"/>
<text x="1015.4" y="888.3" class="l" text-anchor="middle">0</text>
<path d="M955.8 835.2L955.8 847.7" class="t"/>
<path d="M898.2 843.8L898.2 869.8" class="t"/>
<text x="900.2" y="905.4" class="l" text-anchor="middle">0.2</text>
<path d="M840.7 852.3L840.7 864.8" class="t"/>
<path d="M783.1 860.8L783.1 886.8" class="t"/>
<text x="785.1" y="922.4" class="l" text-anchor="middle">0.4</text>
<path d="M725.5 869.4L725.5 881.9" class="t"/>
<path d="M667.9 877.9L667.9 903.9" class="t"/>
<text x="669.9" y="939.5" class="l" text-anchor="middle">0.6</text>
<path d="M610.3 886.4L610.3 898.9" class="t"/>
<path d="M552.8 894.9L552.8 920.9" class="t"/>
<text x="554.8" y="956.5" class="l" text-anchor="middle">0.8</text>
<path d="M495.2 903.5L495.2 916" class="t"/>
<text x="439.6" y="973.6" class="l" text-anchor="middle">1</text>
<text x="272" y="949" class="l i" text-anchor="middle">x</text>
<text x="726" y="982" class="l i" text-anchor="middle">t</text>
</g>
<g class="s">
<path d="M1308.7 120.2L1883.3 36.6" class="b"/>
<path d="M1883.3 36.6L2215.4 184.7" class="b"/>
<path d="M2215.4 184.7L1639.6 270" class="b"/>
<path d="M1639.6 270L1308.7 120.2" class="b"/>
<path d="M1308.7 788.2L1308.7 120.2" class="t"/>
<path d="M1639.6 940L1639.6 270" class="t"/>
<path d="M2215.4 852.7L2215.4 184.7" class="t"/>
<path d="M1308.7 762.2L1639.6 912" class="b"/>
<path d="M1639.6 912L2215.4 826.7" class="b"/>
<path d="M1284.7 762.2L1308.7 762.2" class="t"/>
<text x="1283.7" y="774.4" class="l" text-anchor="end">0</text>
<path d="M1296.7 698L1308.7 698" class="t"/>
<path d="M1284.7 633.8L1308.7 633.8" class="t"/>
<text x="1283.7" y="646" class="l" text-anchor="end">0.2</text>
<path d="M1296.7 569.6L1308.7 569.6" class="t"/>
<path d="M1284.7 505.4L1308.7 505.4" class="t"/>
<text x="1283.7" y="517.6" class="l" text-anchor="end">0.4</text>
<path d="M1296.7 441.2L1308.7 441.2" class="t"/>
<path d="M1284.7 377L1308.7 377" class="t"/>
<text x="1283.7" y="389.2" class="l" text-anchor="end">0.6</text>
<path d="M1296.7 312.8L1308.7 312.8" class="t"/>
<path d="M1284.7 248.6L1308.7 248.6" class="t"/>
<text x="1283.7" y="260.8" class="l" text-anchor="end">0.8</text>
<path d="M1296.7 184.4L1308.7 184.4" class="t"/>
<path d="M1284.7 120.2L1308.7 120.2" class="t"/>
<text x="1283.7" y="132.4" class="l" text-anchor="end">1</text>
<text x="1308.2" y="823.8" class="l" text-anchor="middle">0</text>
<path d="M1341.8 777.2L1341.8 789.7" class="t"/>
<path d="M1374.9 792.2L1374.9 818.2" class="t"/>
<text x="1374.4" y="853.8" class="l" text-anchor="middle">0.2</text>
<path d="M1408 807.1L1408 819.6" class="t"/>
<path d="M1441.1 822.1L1441.1 848.1" class="t"/>
<text x="1440.6" y="883.7" class="l" text-anchor="middle">0.4</text>
<path d="M1474.2 837.1L1474.2 849.6" class="t"/>
<path d="M1507.2 852.1L1507.2 878.1" class="t"/>
<text x="1506.7" y="913.7" class="l" text-anchor="middle">0.6</text>
<path d="M1540.3 867.1L1540.3 879.6" class="t"/>
<path d="M1573.4 882L1573.4 908" class="t"/>
<text x="1572.9" y="943.6" class="l" text-anchor="middle">0.8</text>
<path d="M1606.5 897L1606.5 909.5" class="t"/>
<text x="2217.4" y="888.3" class="l" text-anchor="middle">0</text>
<path d="M2157.8 835.2L2157.8 847.7" class="t"/>
<path d="M2100.2 843.8L2100.2 869.8" class="t"/>
<text x="2102.2" y="905.4" class="l" text-anchor="middle">0.2</text>
<path d="M2042.7 852.3L2042.7 864.8" class="t"/>
<path d="M1985.1 860.8L1985.1 886.8" class="t"/>
<text x="1987.1" y="922.4" class="l" text-anchor="middle">0.4</text>
<path d="M1927.5 869.4L1927.5 881.9" class="t"/>
<path d="M1869.9 877.9L1869.9 903.9" class="t"/>
<text x="1871.9" y="939.5" class="l" text-anchor="middle">0.6</text>
<path d="M1812.3 886.4L1812.3 898.9" class="t"/>
<path d="M1754.8 894.9L1754.8 920.9" class="t"/>
<text x="1756.8" y="956.5" class="l" text-anchor="middle">0.8</text>
<path d="M1697.2 903.5L1697.2 916" class="t"/>
<text x="1641.6" y="973.6" class="l" text-anchor="middle">1</text>
<text x="1474" y="949" class="l i" text-anchor="middle">x</text>
<text x="1928" y="982" class="l i" text-anchor="middle">t</text>
</g>
<text class="c" y="1166"><tspan class="ci" x="423.5">α</tspan><tspan class="ce" x="493.5" dy="5" textLength="70" lengthAdjust="spacingAndGlyphs">=</tspan><tspan x="584" dy="-5">0.7</tspan></text><text class="c" y="1166"><tspan class="ci" x="1698.5">α</tspan><tspan class="ce" x="1768.5" dy="5" textLength="70" lengthAdjust="spacingAndGlyphs">=</tspan><tspan x="1860" dy="-5">1</tspan></text></g>
</svg>
</body></html>
